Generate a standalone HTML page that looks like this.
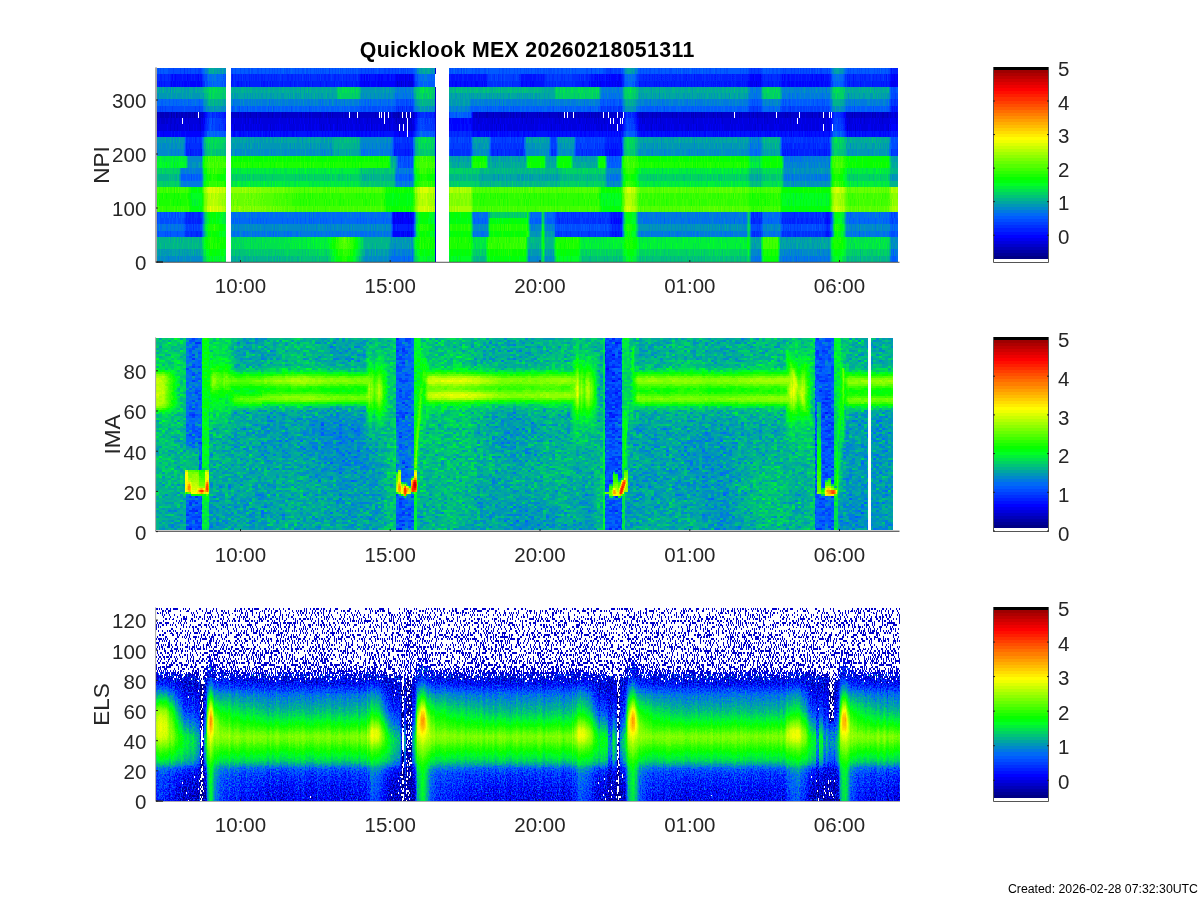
<!DOCTYPE html><html><head><meta charset="utf-8"><title>Quicklook</title><style>html,body{margin:0;padding:0;background:#fff;overflow:hidden}body{position:relative;width:1200px;height:900px}svg{display:block}text{font-family:"Liberation Sans", sans-serif;fill:#262626}.p{position:absolute;overflow:hidden}.p i{position:absolute;display:block}#ov{position:absolute;left:0;top:0}</style></head><body>
<svg width="0" height="0" style="position:absolute"><defs>
<filter id="f1" x="0" y="0" width="1" height="1" color-interpolation-filters="sRGB"><feTurbulence type="fractalNoise" baseFrequency="0.73 0.0001" numOctaves="2" seed="7" result="t"/><feColorMatrix in="t" type="matrix" values="1 0 0 0 0 1 0 0 0 0 1 0 0 0 0 0 0 0 0 1" result="n"/><feComposite in="SourceGraphic" in2="n" operator="arithmetic" k1="0" k2="1" k3="0.075" k4="-0.0375"/><feComponentTransfer><feFuncR type="discrete" tableValues="1 0 0 0 0 0 0 0 0 0 0 0 0 0 0 0 0 0 0 0 0 0 0 0 0 0 0 0.029 0.105 0.181 0.257 0.332 0.408 0.484 0.56 0.636 0.712 0.788 0.864 0.94 1 1 1 1 1 1 1 1 1 1 1 1 1 1 1 1 0.994 0.931 0.869 0.807 0.745 0.682 0.62 0"/><feFuncG type="discrete" tableValues="1 0 0 0 0 0 0 0 0.01 0.068 0.126 0.184 0.242 0.3 0.358 0.417 0.475 0.534 0.592 0.651 0.709 0.768 0.826 0.885 0.943 1 1 1 1 1 1 1 1 1 1 1 1 1 1 1 0.987 0.925 0.863 0.801 0.739 0.677 0.615 0.553 0.491 0.428 0.366 0.304 0.242 0.18 0.118 0.056 0 0 0 0 0 0 0 0"/><feFuncB type="discrete" tableValues="1 0.52 0.59 0.661 0.731 0.801 0.871 0.942 1 1 1 1 1 1 1 0.962 0.88 0.797 0.715 0.632 0.55 0.468 0.385 0.303 0.22 0.138 0.053 0 0 0 0 0 0 0 0 0 0 0 0 0 0 0 0 0 0 0 0 0 0 0 0 0 0 0 0 0 0 0 0 0 0 0 0 0"/></feComponentTransfer></filter>
<filter id="f2" x="0" y="0" width="1" height="1" color-interpolation-filters="sRGB"><feTurbulence type="fractalNoise" baseFrequency="0.61 0.73" numOctaves="2" seed="11" result="tb"/><feColorMatrix in="tb" type="matrix" values="1 0 0 0 0 1 0 0 0 0 1 0 0 0 0 0 0 0 0 1" result="n0"/><feFlood flood-color="#000" x="0" y="0" width="1" height="1" result="px"/><feOffset in="px" dx="0" dy="0" x="0" y="0" width="3" height="2" result="cell"/><feTile in="cell" result="grid"/><feComposite in="n0" in2="grid" operator="in" result="s0"/><feOffset in="s0" dx="1" dy="0" result="s1"/><feOffset in="s0" dx="2" dy="0" result="s2"/><feOffset in="s0" dx="0" dy="1" result="s3"/><feOffset in="s0" dx="1" dy="1" result="s4"/><feOffset in="s0" dx="2" dy="1" result="s5"/><feMerge result="n2"><feMergeNode in="s0"/><feMergeNode in="s1"/><feMergeNode in="s2"/><feMergeNode in="s3"/><feMergeNode in="s4"/><feMergeNode in="s5"/></feMerge><feComponentTransfer in="SourceGraphic" result="amp"><feFuncR type="table" tableValues="1 1 1 1 1 1 1 1 1 1 0.923 0.8 0.678 0.556 0.434 0.312 0.291 0.291 0.291 0.291 0.291 0.291 0.291 0.291 0.291 0.291 0.291 0.291 0.291 0.291 0.291 0.291 0.291"/><feFuncG type="table" tableValues="1 1 1 1 1 1 1 1 1 1 0.923 0.8 0.678 0.556 0.434 0.312 0.291 0.291 0.291 0.291 0.291 0.291 0.291 0.291 0.291 0.291 0.291 0.291 0.291 0.291 0.291 0.291 0.291"/><feFuncB type="table" tableValues="1 1 1 1 1 1 1 1 1 1 0.923 0.8 0.678 0.556 0.434 0.312 0.291 0.291 0.291 0.291 0.291 0.291 0.291 0.291 0.291 0.291 0.291 0.291 0.291 0.291 0.291 0.291 0.291"/></feComponentTransfer><feComposite in="amp" in2="n2" operator="arithmetic" k1="0.2" k2="-0.1" k3="0" k4="0.9" result="dn"/><feComposite in="SourceGraphic" in2="dn" operator="arithmetic" k1="0" k2="1" k3="1" k4="-0.9" result="v"/><feTurbulence type="fractalNoise" baseFrequency="0.012 0.006" numOctaves="2" seed="4" result="tl"/><feColorMatrix in="tl" type="matrix" values="1 0 0 0 0 1 0 0 0 0 1 0 0 0 0 0 0 0 0 1" result="nl"/><feComposite in="v" in2="nl" operator="arithmetic" k1="0" k2="1" k3="0.12" k4="-0.06"/><feComponentTransfer><feFuncR type="discrete" tableValues="1 0 0 0 0 0 0 0 0 0 0 0 0 0 0 0 0 0 0 0 0 0 0 0 0 0 0 0.029 0.105 0.181 0.257 0.332 0.408 0.484 0.56 0.636 0.712 0.788 0.864 0.94 1 1 1 1 1 1 1 1 1 1 1 1 1 1 1 1 0.994 0.931 0.869 0.807 0.745 0.682 0.62 0"/><feFuncG type="discrete" tableValues="1 0 0 0 0 0 0 0 0.01 0.068 0.126 0.184 0.242 0.3 0.358 0.417 0.475 0.534 0.592 0.651 0.709 0.768 0.826 0.885 0.943 1 1 1 1 1 1 1 1 1 1 1 1 1 1 1 0.987 0.925 0.863 0.801 0.739 0.677 0.615 0.553 0.491 0.428 0.366 0.304 0.242 0.18 0.118 0.056 0 0 0 0 0 0 0 0"/><feFuncB type="discrete" tableValues="1 0.52 0.59 0.661 0.731 0.801 0.871 0.942 1 1 1 1 1 1 1 0.962 0.88 0.797 0.715 0.632 0.55 0.468 0.385 0.303 0.22 0.138 0.053 0 0 0 0 0 0 0 0 0 0 0 0 0 0 0 0 0 0 0 0 0 0 0 0 0 0 0 0 0 0 0 0 0 0 0 0 0"/></feComponentTransfer></filter>
<filter id="f3" x="0" y="0" width="1" height="1" color-interpolation-filters="sRGB"><feTurbulence type="fractalNoise" baseFrequency="0.83 0.57" numOctaves="2" seed="5" result="tb"/><feColorMatrix in="tb" type="matrix" values="1 0 0 0 0 1 0 0 0 0 1 0 0 0 0 0 0 0 0 1" result="n1a"/><feFlood flood-color="#000" x="0" y="0" width="1" height="1" result="px"/><feOffset in="px" dx="0" dy="0" x="0" y="0" width="1" height="2" result="cell"/><feTile in="cell" result="grid"/><feComposite in="n1a" in2="grid" operator="in" result="s0"/><feOffset in="s0" dx="0" dy="1" result="s1"/><feMerge result="n1"><feMergeNode in="s0"/><feMergeNode in="s1"/></feMerge><feColorMatrix in="tb" type="matrix" values="0 1 0 0 0 0 1 0 0 0 0 1 0 0 0 0 0 0 0 1" result="n2"/><feTurbulence type="fractalNoise" baseFrequency="0.33 0.002" numOctaves="2" seed="9" result="ts"/><feColorMatrix in="ts" type="matrix" values="1 0 0 0 0 1 0 0 0 0 1 0 0 0 0 0 0 0 0 1" result="n3"/><feColorMatrix in="SourceGraphic" type="matrix" values="1 0 0 0 0 1 0 0 0 0 1 0 0 0 0 0 0 0 0 1" result="cR"/><feColorMatrix in="SourceGraphic" type="matrix" values="0 1 0 0 0 0 1 0 0 0 0 1 0 0 0 0 0 0 0 1" result="cG"/><feColorMatrix in="SourceGraphic" type="matrix" values="0 0 1 0 0 0 0 1 0 0 0 0 1 0 0 0 0 0 0 1" result="cB"/><feComposite in="cR" in2="n3" operator="arithmetic" k1="0" k2="1" k3="0.075" k4="-0.0375" result="b"/><feComponentTransfer in="cG" result="amp"><feFuncR type="table" tableValues="0 0 0 0 0 0 0 0 0.014 0.057 0.107 0.164 0.231 0.307 0.395 0.497 0.615 0.751 0.908 1 0.969 0.901 0.839 0.781 0.726 0.676 0.629 0.585 0.545 0.507 0.472 0.439 0.408 0.38 0.354 0.329 0.306 0.285 0.265 0.247 0.23 0.214 0.199 0.185 0.172 0.16 0.149 0.139 0.129 0.12 0.112 0.104 0.097 0.09 0.084 0.078 0.073 0.068 0.063 0.059 0.054 0.051 0.047 0.044 0.041"/><feFuncG type="table" tableValues="0 0 0 0 0 0 0 0 0.014 0.057 0.107 0.164 0.231 0.307 0.395 0.497 0.615 0.751 0.908 1 0.969 0.901 0.839 0.781 0.726 0.676 0.629 0.585 0.545 0.507 0.472 0.439 0.408 0.38 0.354 0.329 0.306 0.285 0.265 0.247 0.23 0.214 0.199 0.185 0.172 0.16 0.149 0.139 0.129 0.12 0.112 0.104 0.097 0.09 0.084 0.078 0.073 0.068 0.063 0.059 0.054 0.051 0.047 0.044 0.041"/><feFuncB type="table" tableValues="0 0 0 0 0 0 0 0 0.014 0.057 0.107 0.164 0.231 0.307 0.395 0.497 0.615 0.751 0.908 1 0.969 0.901 0.839 0.781 0.726 0.676 0.629 0.585 0.545 0.507 0.472 0.439 0.408 0.38 0.354 0.329 0.306 0.285 0.265 0.247 0.23 0.214 0.199 0.185 0.172 0.16 0.149 0.139 0.129 0.12 0.112 0.104 0.097 0.09 0.084 0.078 0.073 0.068 0.063 0.059 0.054 0.051 0.047 0.044 0.041"/></feComponentTransfer><feComposite in="amp" in2="n2" operator="arithmetic" k1="0.652174" k2="-0.326087" k3="0" k4="0.673913" result="dn"/><feComposite in="b" in2="dn" operator="arithmetic" k1="0" k2="1" k3="1" k4="-0.673913" result="v"/><feBlend in="v" in2="cB" mode="lighten" result="v2"/><feComponentTransfer in="cG" result="d"><feFuncR type="table" tableValues="0.337 0.346 0.355 0.364 0.376 0.388 0.401 0.413 0.427 0.441 0.453 0.466 0.479 0.492 0.507 0.523 0.539 0.556 0.577 0.598 0.621 0.643 0.665 0.689 0.715 0.742 0.761 0.785 0.812 0.827 1 1 1 1 1 1 1 1 1 1 1 1 1 1 1 1 1 1 1 1 1 1 1 1 1 1 1 1 1 1 1 1 1 1 1"/><feFuncG type="table" tableValues="0.337 0.346 0.355 0.364 0.376 0.388 0.401 0.413 0.427 0.441 0.453 0.466 0.479 0.492 0.507 0.523 0.539 0.556 0.577 0.598 0.621 0.643 0.665 0.689 0.715 0.742 0.761 0.785 0.812 0.827 1 1 1 1 1 1 1 1 1 1 1 1 1 1 1 1 1 1 1 1 1 1 1 1 1 1 1 1 1 1 1 1 1 1 1"/><feFuncB type="table" tableValues="0.337 0.346 0.355 0.364 0.376 0.388 0.401 0.413 0.427 0.441 0.453 0.466 0.479 0.492 0.507 0.523 0.539 0.556 0.577 0.598 0.621 0.643 0.665 0.689 0.715 0.742 0.761 0.785 0.812 0.827 1 1 1 1 1 1 1 1 1 1 1 1 1 1 1 1 1 1 1 1 1 1 1 1 1 1 1 1 1 1 1 1 1 1 1"/></feComponentTransfer><feComposite in="d" in2="n1" operator="arithmetic" k1="0" k2="1" k3="1" k4="-0.5" result="s"/><feComponentTransfer in="s" result="m"><feFuncR type="discrete" tableValues="0 1"/><feFuncG type="discrete" tableValues="0 1"/><feFuncB type="discrete" tableValues="0 1"/></feComponentTransfer><feComposite in="v2" in2="m" operator="arithmetic" k1="1" k2="0" k3="0" k4="0" result="o"/><feComponentTransfer in="o"><feFuncR type="discrete" tableValues="1 0 0 0 0 0 0 0 0 0 0 0 0 0 0 0 0 0 0 0 0 0 0 0 0 0 0 0 0 0 0 0 0 0 0 0 0 0 0 0 0 0 0 0 0 0 0 0 0 0 0 0 0 0 0 0 0 0 0 0 0 0 0 0.029 0.029 0.105 0.105 0.181 0.181 0.257 0.257 0.332 0.408 0.408 0.484 0.484 0.56 0.56 0.636 0.636 0.712 0.788 0.788 0.864 0.864 0.94 0.94 1 1 1 1 1 1 1 1 1 1 1 1 1 1 1 1 1 1 1 1 1 1 1 1 1 1 1 1 0.994 0.994 0.931 0.931 0.869 0.869 0.807 0.807 0.745 0.682 0.682 0.62 0.62"/><feFuncG type="discrete" tableValues="1 0 0 0 0 0 0 0 0 0 0 0 0 0 0 0 0 0 0 0 0 0 0 0 0 0 0 0 0 0.01 0.01 0.068 0.068 0.126 0.126 0.184 0.242 0.242 0.3 0.3 0.358 0.358 0.417 0.417 0.475 0.534 0.534 0.592 0.592 0.651 0.651 0.709 0.709 0.768 0.826 0.826 0.885 0.885 0.943 0.943 1 1 1 1 1 1 1 1 1 1 1 1 1 1 1 1 1 1 1 1 1 1 1 1 1 1 1 0.987 0.987 0.925 0.863 0.863 0.801 0.801 0.739 0.739 0.677 0.615 0.615 0.553 0.553 0.491 0.491 0.428 0.428 0.366 0.304 0.304 0.242 0.242 0.18 0.18 0.118 0.118 0.056 0 0 0 0 0 0 0 0 0 0 0 0 0"/><feFuncB type="discrete" tableValues="1 0.52 0.52 0.52 0.52 0.52 0.52 0.52 0.52 0.52 0.52 0.52 0.52 0.52 0.52 0.52 0.52 0.52 0.59 0.59 0.661 0.661 0.731 0.731 0.801 0.801 0.871 0.942 0.942 1 1 1 1 1 1 1 1 1 1 1 1 1 0.962 0.962 0.88 0.797 0.797 0.715 0.715 0.632 0.632 0.55 0.55 0.468 0.385 0.385 0.303 0.303 0.22 0.22 0.138 0.138 0.053 0 0 0 0 0 0 0 0 0 0 0 0 0 0 0 0 0 0 0 0 0 0 0 0 0 0 0 0 0 0 0 0 0 0 0 0 0 0 0 0 0 0 0 0 0 0 0 0 0 0 0 0 0 0 0 0 0 0 0 0 0 0 0 0 0"/></feComponentTransfer></filter>
</defs></svg>
<div class="p" id="p1" style="left:157px;top:68px;width:741px;height:194px"><i style="left:0px;top:0px;width:741px;height:6px;background:linear-gradient(90deg,#383838 0.5px,#383838 11.5px,#343434 14.5px,#343434 43.5px,#353535 44.5px,#4c4c4c 51.5px,#4e4e4e 57.5px,#494949 67.5px,#383838 72.5px,#383838 201.5px,#343434 204.5px,#343434 254.5px,#353535 255.5px,#4d4d4d 262.5px,#4e4e4e 267.5px,#494949 277.5px,#383838 282.5px,#383838 446.5px,#323232 449.5px,#323232 463.5px,#373737 465.5px,#494949 468.5px,#4e4e4e 471.5px,#494949 477.5px,#383838 482.5px,#383838 590.5px,#303030 593.5px,#303030 603.5px,#383838 606.5px,#383838 622.5px,#343434 625.5px,#343434 671.5px,#393939 673.5px,#494949 676.5px,#4e4e4e 679.5px,#494949 685.5px,#383838 690.5px,#383838 731.5px,#292929 734.5px,#292929 740.5px);filter:url(#f1)"></i><i style="left:-97px;top:6px;width:838px;height:7px;background:linear-gradient(90deg,#2c2c2c 97.5px,#2c2c2c 108.5px,#262626 111.5px,#262626 140.5px,#272727 141.5px,#343434 144.5px,#3e3e3e 148.5px,#404040 154.5px,#3b3b3b 164.5px,#2c2c2c 169.5px,#2c2c2c 298.5px,#242424 301.5px,#242424 333.5px,#1e1e1e 336.5px,#1e1e1e 351.5px,#1e1e1e 352.5px,#343434 355.5px,#3d3d3d 358.5px,#404040 364.5px,#3b3b3b 374.5px,#2c2c2c 379.5px,#2c2c2c 387.5px,#272727 390.5px,#272727 425.5px,#313131 428.5px,#313131 458.5px,#272727 461.5px,#272727 483.5px,#303030 486.5px,#303030 513.5px,#2c2c2c 516.5px,#2c2c2c 528.5px,#262626 531.5px,#222222 560.5px,#232323 561.5px,#3c3c3c 565.5px,#404040 568.5px,#3c3c3c 574.5px,#2c2c2c 579.5px,#2a2a2a 687.5px,#222222 690.5px,#222222 700.5px,#2c2c2c 703.5px,#2c2c2c 719.5px,#262626 722.5px,#262626 768.5px,#272727 769.5px,#3c3c3c 773.5px,#404040 776.5px,#3c3c3c 782.5px,#2c2c2c 787.5px,#2c2c2c 828.5px,#202020 831.5px,#202020 837.5px);filter:url(#f1)"></i><i style="left:-194px;top:13px;width:935px;height:6px;background:linear-gradient(90deg,#292929 194.5px,#292929 205.5px,#232323 208.5px,#232323 237.5px,#242424 238.5px,#313131 241.5px,#3b3b3b 245.5px,#3d3d3d 251.5px,#383838 261.5px,#292929 266.5px,#292929 395.5px,#212121 398.5px,#212121 430.5px,#1b1b1b 433.5px,#1b1b1b 448.5px,#1b1b1b 449.5px,#313131 452.5px,#3a3a3a 455.5px,#3d3d3d 461.5px,#383838 471.5px,#292929 476.5px,#292929 484.5px,#242424 487.5px,#242424 522.5px,#2e2e2e 525.5px,#2e2e2e 555.5px,#242424 558.5px,#242424 580.5px,#2d2d2d 583.5px,#2d2d2d 610.5px,#292929 613.5px,#292929 625.5px,#232323 628.5px,#1f1f1f 657.5px,#202020 658.5px,#393939 662.5px,#3d3d3d 665.5px,#393939 671.5px,#292929 676.5px,#272727 784.5px,#1f1f1f 787.5px,#1f1f1f 797.5px,#292929 800.5px,#292929 816.5px,#232323 819.5px,#232323 865.5px,#242424 866.5px,#393939 870.5px,#3d3d3d 873.5px,#393939 879.5px,#292929 884.5px,#292929 925.5px,#1d1d1d 928.5px,#1d1d1d 934.5px);filter:url(#f1)"></i><i style="left:-291px;top:19px;width:1032px;height:6px;background:linear-gradient(90deg,#4c4c4c 291.5px,#4c4c4c 334.5px,#5d5d5d 344.5px,#595959 358.5px,#4f4f4f 363.5px,#4f4f4f 469.5px,#5b5b5b 472.5px,#5b5b5b 492.5px,#4a4a4a 495.5px,#4a4a4a 527.5px,#424242 530.5px,#424242 545.5px,#424242 546.5px,#545454 549.5px,#5d5d5d 554.5px,#595959 568.5px,#4f4f4f 573.5px,#4f4f4f 582.5px,#535353 583.5px,#535353 673.5px,#4f4f4f 674.5px,#4f4f4f 687.5px,#5b5b5b 690.5px,#5b5b5b 732.5px,#424242 735.5px,#424242 754.5px,#424242 755.5px,#575757 758.5px,#5d5d5d 762.5px,#5a5a5a 768.5px,#4f4f4f 773.5px,#4f4f4f 881.5px,#424242 884.5px,#424242 894.5px,#5b5b5b 897.5px,#5b5b5b 913.5px,#444444 916.5px,#444444 962.5px,#444444 963.5px,#575757 966.5px,#5d5d5d 970.5px,#5a5a5a 976.5px,#4f4f4f 981.5px,#4f4f4f 1022.5px,#373737 1025.5px,#373737 1031.5px);filter:url(#f1)"></i><i style="left:-388px;top:25px;width:1129px;height:6px;background:linear-gradient(90deg,#4a4a4a 388.5px,#4a4a4a 431.5px,#5a5a5a 441.5px,#575757 455.5px,#4c4c4c 460.5px,#4c4c4c 566.5px,#595959 569.5px,#595959 589.5px,#484848 592.5px,#484848 624.5px,#404040 627.5px,#404040 642.5px,#404040 643.5px,#525252 646.5px,#5a5a5a 651.5px,#575757 665.5px,#4c4c4c 670.5px,#4c4c4c 784.5px,#595959 787.5px,#595959 829.5px,#404040 832.5px,#404040 851.5px,#404040 852.5px,#555555 855.5px,#5a5a5a 859.5px,#585858 865.5px,#4c4c4c 870.5px,#4c4c4c 978.5px,#404040 981.5px,#404040 991.5px,#595959 994.5px,#595959 1010.5px,#424242 1013.5px,#424242 1059.5px,#424242 1060.5px,#555555 1063.5px,#5a5a5a 1067.5px,#585858 1073.5px,#4c4c4c 1078.5px,#4c4c4c 1119.5px,#353535 1122.5px,#353535 1128.5px);filter:url(#f1)"></i><i style="left:-96px;top:31px;width:837px;height:7px;background:linear-gradient(90deg,#3c3c3c 96.5px,#3d3d3d 140.5px,#484848 143.5px,#505050 147.5px,#525252 153.5px,#4e4e4e 163.5px,#434343 168.5px,#434343 297.5px,#3e3e3e 300.5px,#3e3e3e 332.5px,#363636 335.5px,#363636 350.5px,#363636 351.5px,#484848 354.5px,#4f4f4f 357.5px,#525252 363.5px,#4e4e4e 373.5px,#434343 378.5px,#434343 386.5px,#4b4b4b 389.5px,#4b4b4b 407.5px,#434343 410.5px,#434343 537.5px,#383838 540.5px,#383838 559.5px,#393939 560.5px,#4f4f4f 564.5px,#525252 567.5px,#4e4e4e 573.5px,#434343 578.5px,#434343 686.5px,#383838 689.5px,#383838 699.5px,#454545 702.5px,#454545 718.5px,#3a3a3a 721.5px,#3a3a3a 767.5px,#3b3b3b 768.5px,#4f4f4f 772.5px,#525252 775.5px,#4e4e4e 781.5px,#434343 786.5px,#434343 827.5px,#2f2f2f 830.5px,#2f2f2f 836.5px);filter:url(#f1)"></i><i style="left:-193px;top:38px;width:934px;height:6px;background:linear-gradient(90deg,#353535 193.5px,#353535 237.5px,#414141 240.5px,#494949 244.5px,#4a4a4a 250.5px,#474747 260.5px,#3b3b3b 265.5px,#3b3b3b 394.5px,#373737 397.5px,#373737 429.5px,#2f2f2f 432.5px,#2f2f2f 447.5px,#2f2f2f 448.5px,#414141 451.5px,#484848 454.5px,#4a4a4a 460.5px,#474747 470.5px,#3b3b3b 475.5px,#3b3b3b 483.5px,#444444 486.5px,#444444 504.5px,#3b3b3b 507.5px,#3b3b3b 634.5px,#313131 637.5px,#313131 656.5px,#313131 657.5px,#474747 661.5px,#4a4a4a 664.5px,#474747 670.5px,#3b3b3b 675.5px,#3b3b3b 783.5px,#313131 786.5px,#313131 796.5px,#3d3d3d 799.5px,#3d3d3d 815.5px,#333333 818.5px,#333333 864.5px,#333333 865.5px,#474747 869.5px,#4a4a4a 872.5px,#474747 878.5px,#3b3b3b 883.5px,#3b3b3b 924.5px,#282828 927.5px,#282828 933.5px);filter:url(#f1)"></i><i style="left:-290px;top:44px;width:1031px;height:6px;background:linear-gradient(90deg,#131313 290.5px,#131313 333.5px,#161616 335.5px,#2d2d2d 341.5px,#2f2f2f 343.5px,#292929 357.5px,#151515 362.5px,#151515 526.5px,#111111 529.5px,#111111 544.5px,#151515 546.5px,#2b2b2b 551.5px,#2f2f2f 553.5px,#2a2a2a 567.5px,#151515 572.5px,#151515 580.5px,#3b3b3b 583.5px,#3b3b3b 603.5px,#151515 606.5px,#151515 753.5px,#191919 755.5px,#2a2a2a 758.5px,#2f2f2f 760.5px,#2a2a2a 767.5px,#151515 772.5px,#151515 961.5px,#191919 963.5px,#2a2a2a 966.5px,#2f2f2f 968.5px,#2a2a2a 975.5px,#151515 980.5px,#151515 1021.5px,#191919 1024.5px,#191919 1030.5px);filter:url(#f1)"></i><i style="left:-387px;top:50px;width:1128px;height:6px;background:linear-gradient(90deg,#181818 387.5px,#181818 430.5px,#1b1b1b 432.5px,#323232 438.5px,#343434 440.5px,#2e2e2e 454.5px,#1a1a1a 459.5px,#1a1a1a 623.5px,#161616 626.5px,#161616 641.5px,#1a1a1a 643.5px,#303030 648.5px,#343434 650.5px,#2e2e2e 664.5px,#1a1a1a 669.5px,#1a1a1a 677.5px,#232323 680.5px,#232323 700.5px,#1a1a1a 703.5px,#1a1a1a 850.5px,#1e1e1e 852.5px,#2f2f2f 855.5px,#343434 857.5px,#2e2e2e 864.5px,#1a1a1a 869.5px,#1a1a1a 1058.5px,#1e1e1e 1060.5px,#2f2f2f 1063.5px,#343434 1065.5px,#2e2e2e 1072.5px,#1a1a1a 1077.5px,#1a1a1a 1118.5px,#1e1e1e 1121.5px,#1e1e1e 1127.5px);filter:url(#f1)"></i><i style="left:-95px;top:56px;width:836px;height:7px;background:linear-gradient(90deg,#191919 95.5px,#191919 138.5px,#1d1d1d 140.5px,#333333 146.5px,#353535 148.5px,#2f2f2f 162.5px,#1b1b1b 167.5px,#1b1b1b 331.5px,#171717 334.5px,#171717 349.5px,#1b1b1b 351.5px,#313131 356.5px,#353535 358.5px,#2f2f2f 372.5px,#1b1b1b 377.5px,#1b1b1b 385.5px,#242424 388.5px,#242424 408.5px,#1b1b1b 411.5px,#1b1b1b 558.5px,#1f1f1f 560.5px,#303030 563.5px,#353535 565.5px,#303030 572.5px,#1b1b1b 577.5px,#1b1b1b 766.5px,#1f1f1f 768.5px,#303030 771.5px,#353535 773.5px,#303030 780.5px,#1b1b1b 785.5px,#1b1b1b 826.5px,#202020 829.5px,#202020 835.5px);filter:url(#f1)"></i><i style="left:-192px;top:63px;width:933px;height:6px;background:linear-gradient(90deg,#222222 192.5px,#222222 235.5px,#252525 237.5px,#3c3c3c 243.5px,#3d3d3d 245.5px,#383838 259.5px,#242424 264.5px,#242424 428.5px,#202020 431.5px,#202020 446.5px,#242424 448.5px,#3a3a3a 453.5px,#3d3d3d 455.5px,#383838 469.5px,#242424 474.5px,#242424 482.5px,#2c2c2c 485.5px,#2c2c2c 505.5px,#242424 508.5px,#242424 655.5px,#282828 657.5px,#383838 660.5px,#3d3d3d 662.5px,#383838 669.5px,#242424 674.5px,#242424 863.5px,#282828 865.5px,#383838 868.5px,#3d3d3d 870.5px,#383838 877.5px,#242424 882.5px,#242424 923.5px,#282828 926.5px,#282828 932.5px);filter:url(#f1)"></i><i style="left:-289px;top:69px;width:1030px;height:6px;background:linear-gradient(90deg,#4a4a4a 289.5px,#4a4a4a 315.5px,#2f2f2f 318.5px,#2f2f2f 332.5px,#2f2f2f 333.5px,#535353 336.5px,#5d5d5d 341.5px,#5a5a5a 356.5px,#4c4c4c 361.5px,#4c4c4c 463.5px,#535353 466.5px,#535353 490.5px,#464646 493.5px,#464646 523.5px,#2f2f2f 526.5px,#2f2f2f 543.5px,#2f2f2f 544.5px,#535353 547.5px,#5d5d5d 551.5px,#5d5d5d 557.5px,#5a5a5a 566.5px,#4c4c4c 571.5px,#4c4c4c 579.5px,#333333 582.5px,#333333 602.5px,#4c4c4c 605.5px,#4c4c4c 620.5px,#313131 623.5px,#313131 655.5px,#4c4c4c 658.5px,#4c4c4c 680.5px,#333333 683.5px,#333333 687.5px,#4c4c4c 690.5px,#4c4c4c 705.5px,#333333 708.5px,#333333 735.5px,#2a2a2a 738.5px,#2a2a2a 752.5px,#2b2b2b 753.5px,#565656 756.5px,#5c5c5c 758.5px,#5d5d5d 760.5px,#5a5a5a 766.5px,#4c4c4c 771.5px,#4c4c4c 879.5px,#444444 882.5px,#444444 892.5px,#515151 895.5px,#515151 911.5px,#2f2f2f 914.5px,#2f2f2f 960.5px,#2f2f2f 961.5px,#565656 964.5px,#5c5c5c 966.5px,#5d5d5d 968.5px,#595959 975.5px,#4f4f4f 979.5px,#4f4f4f 1020.5px,#373737 1023.5px,#373737 1029.5px);filter:url(#f1)"></i><i style="left:-386px;top:75px;width:1127px;height:6px;background:linear-gradient(90deg,#484848 386.5px,#484848 412.5px,#2c2c2c 415.5px,#2c2c2c 429.5px,#2d2d2d 430.5px,#515151 433.5px,#5b5b5b 438.5px,#575757 453.5px,#4a4a4a 458.5px,#4a4a4a 560.5px,#515151 563.5px,#515151 587.5px,#444444 590.5px,#444444 620.5px,#2c2c2c 623.5px,#2c2c2c 640.5px,#2d2d2d 641.5px,#515151 644.5px,#5a5a5a 648.5px,#5b5b5b 654.5px,#575757 663.5px,#4a4a4a 668.5px,#4a4a4a 676.5px,#313131 679.5px,#313131 699.5px,#4a4a4a 702.5px,#4a4a4a 717.5px,#2f2f2f 720.5px,#2f2f2f 752.5px,#4a4a4a 755.5px,#4a4a4a 777.5px,#313131 780.5px,#313131 784.5px,#4a4a4a 787.5px,#4a4a4a 802.5px,#313131 805.5px,#313131 832.5px,#282828 835.5px,#282828 849.5px,#292929 850.5px,#545454 853.5px,#5a5a5a 855.5px,#5b5b5b 857.5px,#585858 863.5px,#4a4a4a 868.5px,#4a4a4a 976.5px,#424242 979.5px,#424242 989.5px,#4f4f4f 992.5px,#4f4f4f 1008.5px,#2c2c2c 1011.5px,#2c2c2c 1057.5px,#2d2d2d 1058.5px,#545454 1061.5px,#5a5a5a 1063.5px,#5b5b5b 1065.5px,#575757 1072.5px,#4c4c4c 1076.5px,#4c4c4c 1117.5px,#353535 1120.5px,#353535 1126.5px);filter:url(#f1)"></i><i style="left:-94px;top:81px;width:835px;height:7px;background:linear-gradient(90deg,#454545 94.5px,#454545 120.5px,#292929 123.5px,#292929 137.5px,#2a2a2a 138.5px,#4e4e4e 141.5px,#585858 146.5px,#545454 161.5px,#474747 166.5px,#474747 268.5px,#4e4e4e 271.5px,#4e4e4e 295.5px,#414141 298.5px,#414141 328.5px,#292929 331.5px,#292929 348.5px,#2a2a2a 349.5px,#4e4e4e 352.5px,#575757 356.5px,#585858 362.5px,#555555 371.5px,#474747 376.5px,#474747 384.5px,#2e2e2e 387.5px,#2e2e2e 407.5px,#474747 410.5px,#474747 425.5px,#2c2c2c 428.5px,#2c2c2c 460.5px,#474747 463.5px,#474747 485.5px,#2e2e2e 488.5px,#2e2e2e 492.5px,#474747 495.5px,#474747 510.5px,#2e2e2e 513.5px,#2e2e2e 540.5px,#252525 543.5px,#252525 557.5px,#262626 558.5px,#515151 561.5px,#575757 563.5px,#585858 565.5px,#555555 571.5px,#474747 576.5px,#474747 684.5px,#3f3f3f 687.5px,#3f3f3f 697.5px,#4c4c4c 700.5px,#4c4c4c 716.5px,#292929 719.5px,#292929 765.5px,#2a2a2a 766.5px,#515151 769.5px,#575757 771.5px,#585858 773.5px,#545454 780.5px,#494949 784.5px,#494949 825.5px,#323232 828.5px,#323232 834.5px);filter:url(#f1)"></i><i style="left:-191px;top:88px;width:932px;height:6px;background:linear-gradient(90deg,#626262 191.5px,#626262 219.5px,#464646 222.5px,#464646 234.5px,#464646 235.5px,#717171 238.5px,#797979 243.5px,#767676 258.5px,#6e6e6e 263.5px,#6e6e6e 422.5px,#4f4f4f 425.5px,#4f4f4f 429.5px,#353535 432.5px,#353535 445.5px,#353535 446.5px,#717171 449.5px,#797979 454.5px,#767676 468.5px,#6c6c6c 473.5px,#6c6c6c 481.5px,#4c4c4c 484.5px,#4c4c4c 504.5px,#6e6e6e 507.5px,#6e6e6e 519.5px,#4c4c4c 522.5px,#4c4c4c 559.5px,#6c6c6c 562.5px,#6c6c6c 577.5px,#4c4c4c 580.5px,#4c4c4c 589.5px,#6c6c6c 592.5px,#6c6c6c 604.5px,#4c4c4c 607.5px,#4c4c4c 630.5px,#6c6c6c 633.5px,#6c6c6c 638.5px,#393939 641.5px,#393939 654.5px,#717171 657.5px,#797979 661.5px,#767676 669.5px,#6e6e6e 673.5px,#6e6e6e 781.5px,#5d5d5d 784.5px,#5d5d5d 794.5px,#6c6c6c 797.5px,#6c6c6c 815.5px,#424242 818.5px,#424242 863.5px,#747474 866.5px,#797979 870.5px,#777777 876.5px,#6c6c6c 881.5px,#6c6c6c 922.5px,#4c4c4c 925.5px,#4c4c4c 931.5px);filter:url(#f1)"></i><i style="left:-288px;top:94px;width:1029px;height:6px;background:linear-gradient(90deg,#646464 288.5px,#646464 316.5px,#484848 319.5px,#484848 331.5px,#484848 332.5px,#737373 335.5px,#7b7b7b 340.5px,#787878 355.5px,#717171 360.5px,#717171 519.5px,#515151 522.5px,#515151 526.5px,#373737 529.5px,#373737 542.5px,#373737 543.5px,#737373 546.5px,#7b7b7b 551.5px,#787878 565.5px,#6e6e6e 570.5px,#6e6e6e 578.5px,#4f4f4f 581.5px,#4f4f4f 601.5px,#717171 604.5px,#717171 616.5px,#4f4f4f 619.5px,#4f4f4f 656.5px,#6e6e6e 659.5px,#6e6e6e 674.5px,#4f4f4f 677.5px,#4f4f4f 686.5px,#6e6e6e 689.5px,#6e6e6e 701.5px,#4f4f4f 704.5px,#4f4f4f 727.5px,#6e6e6e 730.5px,#6e6e6e 735.5px,#3b3b3b 738.5px,#3b3b3b 751.5px,#737373 754.5px,#7b7b7b 758.5px,#787878 766.5px,#717171 770.5px,#717171 878.5px,#606060 881.5px,#606060 891.5px,#6e6e6e 894.5px,#6e6e6e 912.5px,#444444 915.5px,#444444 960.5px,#767676 963.5px,#7b7b7b 967.5px,#797979 973.5px,#6e6e6e 978.5px,#6e6e6e 1019.5px,#4f4f4f 1022.5px,#4f4f4f 1028.5px);filter:url(#f1)"></i><i style="left:-385px;top:100px;width:1126px;height:6px;background:linear-gradient(90deg,#595959 385.5px,#595959 406.5px,#424242 409.5px,#424242 428.5px,#424242 429.5px,#686868 432.5px,#757575 436.5px,#777777 442.5px,#727272 452.5px,#606060 457.5px,#606060 586.5px,#575757 589.5px,#575757 621.5px,#424242 624.5px,#424242 639.5px,#424242 640.5px,#696969 643.5px,#767676 647.5px,#777777 652.5px,#727272 662.5px,#606060 667.5px,#606060 675.5px,#595959 678.5px,#595959 706.5px,#535353 709.5px,#535353 786.5px,#595959 789.5px,#595959 832.5px,#464646 835.5px,#464646 848.5px,#686868 851.5px,#767676 854.5px,#777777 856.5px,#727272 862.5px,#606060 867.5px,#606060 975.5px,#555555 978.5px,#555555 988.5px,#5d5d5d 991.5px,#5d5d5d 1009.5px,#484848 1012.5px,#484848 1056.5px,#494949 1057.5px,#6d6d6d 1060.5px,#767676 1062.5px,#777777 1064.5px,#727272 1070.5px,#606060 1075.5px,#606060 1116.5px,#515151 1119.5px,#515151 1125.5px);filter:url(#f1)"></i><i style="left:-93px;top:106px;width:834px;height:7px;background:linear-gradient(90deg,#535353 93.5px,#535353 114.5px,#3b3b3b 117.5px,#3b3b3b 136.5px,#3c3c3c 137.5px,#626262 140.5px,#6f6f6f 144.5px,#717171 150.5px,#6b6b6b 160.5px,#595959 165.5px,#595959 294.5px,#515151 297.5px,#515151 329.5px,#3b3b3b 332.5px,#3b3b3b 347.5px,#3c3c3c 348.5px,#626262 351.5px,#6f6f6f 355.5px,#717171 360.5px,#6b6b6b 370.5px,#595959 375.5px,#595959 383.5px,#535353 386.5px,#535353 414.5px,#4c4c4c 417.5px,#4c4c4c 494.5px,#535353 497.5px,#535353 540.5px,#404040 543.5px,#404040 556.5px,#616161 559.5px,#6f6f6f 562.5px,#717171 564.5px,#6c6c6c 570.5px,#595959 575.5px,#595959 683.5px,#4f4f4f 686.5px,#4f4f4f 696.5px,#575757 699.5px,#575757 717.5px,#424242 720.5px,#424242 764.5px,#434343 765.5px,#676767 768.5px,#6f6f6f 770.5px,#717171 772.5px,#6c6c6c 778.5px,#595959 783.5px,#595959 824.5px,#4a4a4a 827.5px,#4a4a4a 833.5px);filter:url(#f1)"></i><i style="left:-190px;top:113px;width:931px;height:6px;background:linear-gradient(90deg,#595959 190.5px,#595959 211.5px,#424242 214.5px,#424242 233.5px,#424242 234.5px,#686868 237.5px,#757575 241.5px,#777777 247.5px,#727272 257.5px,#606060 262.5px,#606060 391.5px,#575757 394.5px,#575757 426.5px,#424242 429.5px,#424242 444.5px,#424242 445.5px,#696969 448.5px,#767676 452.5px,#777777 457.5px,#727272 467.5px,#606060 472.5px,#606060 480.5px,#595959 483.5px,#595959 511.5px,#535353 514.5px,#535353 591.5px,#595959 594.5px,#595959 637.5px,#464646 640.5px,#464646 653.5px,#686868 656.5px,#767676 659.5px,#777777 661.5px,#727272 667.5px,#606060 672.5px,#606060 780.5px,#555555 783.5px,#555555 793.5px,#5d5d5d 796.5px,#5d5d5d 814.5px,#484848 817.5px,#484848 861.5px,#494949 862.5px,#6d6d6d 865.5px,#767676 867.5px,#777777 869.5px,#727272 875.5px,#606060 880.5px,#606060 921.5px,#515151 924.5px,#515151 930.5px);filter:url(#f1)"></i><i style="left:-287px;top:119px;width:1028px;height:6px;background:linear-gradient(90deg,#787878 287.5px,#787878 318.5px,#6b6b6b 321.5px,#6b6b6b 330.5px,#6c6c6c 331.5px,#878787 334.5px,#949494 337.5px,#999999 339.5px,#999999 344.5px,#939393 354.5px,#7c7c7c 359.5px,#8a8a8a 362.5px,#888888 385.5px,#7c7c7c 431.5px,#7c7c7c 513.5px,#6f6f6f 516.5px,#6f6f6f 541.5px,#707070 542.5px,#878787 545.5px,#959595 548.5px,#999999 550.5px,#999999 554.5px,#939393 564.5px,#7c7c7c 569.5px,#7c7c7c 577.5px,#8f8f8f 580.5px,#8f8f8f 600.5px,#7c7c7c 603.5px,#7c7c7c 728.5px,#6d6d6d 731.5px,#6d6d6d 750.5px,#939393 755.5px,#999999 758.5px,#939393 764.5px,#7e7e7e 769.5px,#7e7e7e 877.5px,#787878 880.5px,#7c7c7c 909.5px,#6d6d6d 912.5px,#6d6d6d 958.5px,#6e6e6e 959.5px,#8d8d8d 962.5px,#999999 965.5px,#919191 973.5px,#808080 977.5px,#808080 1018.5px,#8f8f8f 1021.5px,#8f8f8f 1027.5px);filter:url(#f1)"></i><i style="left:-384px;top:125px;width:1125px;height:6px;background:linear-gradient(90deg,#717171 384.5px,#717171 415.5px,#646464 418.5px,#646464 427.5px,#656565 428.5px,#808080 431.5px,#8d8d8d 434.5px,#929292 436.5px,#929292 441.5px,#8c8c8c 451.5px,#757575 456.5px,#838383 459.5px,#818181 482.5px,#757575 528.5px,#757575 610.5px,#696969 613.5px,#696969 638.5px,#696969 639.5px,#808080 642.5px,#8e8e8e 645.5px,#929292 647.5px,#929292 651.5px,#8c8c8c 661.5px,#757575 666.5px,#757575 674.5px,#888888 677.5px,#888888 697.5px,#757575 700.5px,#757575 825.5px,#666666 828.5px,#666666 847.5px,#8d8d8d 852.5px,#929292 855.5px,#8c8c8c 861.5px,#777777 866.5px,#777777 974.5px,#717171 977.5px,#757575 1006.5px,#666666 1009.5px,#666666 1055.5px,#686868 1056.5px,#868686 1059.5px,#929292 1062.5px,#8a8a8a 1070.5px,#7a7a7a 1074.5px,#7a7a7a 1115.5px,#888888 1118.5px,#888888 1124.5px);filter:url(#f1)"></i><i style="left:-92px;top:131px;width:833px;height:7px;background:linear-gradient(90deg,#717171 92.5px,#717171 123.5px,#646464 126.5px,#646464 135.5px,#656565 136.5px,#808080 139.5px,#8d8d8d 142.5px,#929292 144.5px,#929292 149.5px,#8c8c8c 159.5px,#757575 164.5px,#838383 167.5px,#818181 190.5px,#757575 236.5px,#757575 318.5px,#696969 321.5px,#696969 346.5px,#696969 347.5px,#808080 350.5px,#8e8e8e 353.5px,#929292 355.5px,#929292 359.5px,#8c8c8c 369.5px,#757575 374.5px,#757575 382.5px,#888888 385.5px,#888888 405.5px,#757575 408.5px,#757575 533.5px,#666666 536.5px,#666666 555.5px,#8d8d8d 560.5px,#929292 563.5px,#8c8c8c 569.5px,#777777 574.5px,#777777 682.5px,#717171 685.5px,#757575 714.5px,#666666 717.5px,#666666 763.5px,#686868 764.5px,#868686 767.5px,#929292 770.5px,#8a8a8a 778.5px,#7a7a7a 782.5px,#7a7a7a 823.5px,#888888 826.5px,#888888 832.5px);filter:url(#f1)"></i><i style="left:-189px;top:138px;width:930px;height:6px;background:linear-gradient(90deg,#767676 189.5px,#767676 220.5px,#696969 223.5px,#696969 232.5px,#6a6a6a 233.5px,#858585 236.5px,#929292 239.5px,#979797 241.5px,#979797 246.5px,#919191 256.5px,#7a7a7a 261.5px,#888888 264.5px,#868686 287.5px,#7a7a7a 333.5px,#7a7a7a 415.5px,#6e6e6e 418.5px,#6e6e6e 443.5px,#6e6e6e 444.5px,#868686 447.5px,#939393 450.5px,#979797 452.5px,#979797 456.5px,#919191 466.5px,#7a7a7a 471.5px,#7a7a7a 479.5px,#8e8e8e 482.5px,#8e8e8e 502.5px,#7a7a7a 505.5px,#7a7a7a 630.5px,#6b6b6b 633.5px,#6b6b6b 652.5px,#929292 657.5px,#979797 660.5px,#919191 666.5px,#7d7d7d 671.5px,#7d7d7d 779.5px,#767676 782.5px,#7a7a7a 811.5px,#6b6b6b 814.5px,#6b6b6b 860.5px,#6d6d6d 861.5px,#8b8b8b 864.5px,#979797 867.5px,#909090 875.5px,#7f7f7f 879.5px,#7f7f7f 920.5px,#8e8e8e 923.5px,#8e8e8e 929.5px);filter:url(#f1)"></i><i style="left:-286px;top:144px;width:1027px;height:6px;background:linear-gradient(90deg,#383838 286.5px,#383838 312.5px,#2c2c2c 315.5px,#2c2c2c 329.5px,#2d2d2d 330.5px,#505050 333.5px,#696969 337.5px,#6d6d6d 343.5px,#626262 353.5px,#5e5e5e 354.5px,#434343 357.5px,#3f3f3f 358.5px,#3f3f3f 519.5px,#212121 522.5px,#212121 540.5px,#262626 542.5px,#585858 545.5px,#666666 547.5px,#6d6d6d 549.5px,#6c6c6c 555.5px,#626262 563.5px,#5e5e5e 564.5px,#434343 567.5px,#3f3f3f 568.5px,#3f3f3f 576.5px,#6b6b6b 579.5px,#6b6b6b 599.5px,#3f3f3f 602.5px,#3f3f3f 616.5px,#4e4e4e 617.5px,#494949 618.5px,#585858 619.5px,#585858 655.5px,#6a6a6a 656.5px,#3d3d3d 659.5px,#3d3d3d 669.5px,#5a5a5a 671.5px,#5a5a5a 672.5px,#3d3d3d 674.5px,#3d3d3d 682.5px,#303030 685.5px,#303030 737.5px,#252525 740.5px,#252525 749.5px,#272727 750.5px,#353535 751.5px,#5a5a5a 753.5px,#646464 754.5px,#6a6a6a 755.5px,#6d6d6d 757.5px,#636363 763.5px,#5f5f5f 764.5px,#454545 767.5px,#414141 768.5px,#414141 875.5px,#595959 877.5px,#535353 878.5px,#2e2e2e 880.5px,#2e2e2e 889.5px,#3f3f3f 892.5px,#3f3f3f 908.5px,#2e2e2e 911.5px,#2e2e2e 952.5px,#252525 955.5px,#252525 957.5px,#2c2c2c 959.5px,#404040 961.5px,#535353 962.5px,#6d6d6d 964.5px,#6d6d6d 965.5px,#636363 971.5px,#5e5e5e 972.5px,#434343 975.5px,#3f3f3f 976.5px,#3f3f3f 1017.5px,#363636 1020.5px,#363636 1026.5px);filter:url(#f1)"></i><i style="left:-383px;top:150px;width:1124px;height:6px;background:linear-gradient(90deg,#373737 383.5px,#373737 409.5px,#2a2a2a 412.5px,#2a2a2a 426.5px,#2b2b2b 427.5px,#4f4f4f 430.5px,#686868 434.5px,#6b6b6b 440.5px,#616161 450.5px,#5d5d5d 451.5px,#414141 454.5px,#3d3d3d 455.5px,#3d3d3d 616.5px,#202020 619.5px,#202020 637.5px,#242424 639.5px,#565656 642.5px,#646464 644.5px,#6b6b6b 646.5px,#6b6b6b 652.5px,#616161 660.5px,#5d5d5d 661.5px,#414141 664.5px,#3d3d3d 665.5px,#3d3d3d 673.5px,#6a6a6a 676.5px,#6a6a6a 696.5px,#3d3d3d 699.5px,#3d3d3d 713.5px,#6a6a6a 716.5px,#6a6a6a 751.5px,#696969 753.5px,#3b3b3b 756.5px,#3b3b3b 766.5px,#595959 768.5px,#595959 769.5px,#3b3b3b 771.5px,#3b3b3b 779.5px,#2f2f2f 782.5px,#2f2f2f 834.5px,#242424 837.5px,#242424 846.5px,#262626 847.5px,#343434 848.5px,#595959 850.5px,#626262 851.5px,#696969 852.5px,#6b6b6b 854.5px,#626262 860.5px,#5e5e5e 861.5px,#434343 864.5px,#404040 865.5px,#404040 972.5px,#585858 974.5px,#515151 975.5px,#2c2c2c 977.5px,#2c2c2c 986.5px,#3d3d3d 989.5px,#3d3d3d 1005.5px,#2c2c2c 1008.5px,#2c2c2c 1049.5px,#242424 1052.5px,#242424 1054.5px,#2b2b2b 1056.5px,#3f3f3f 1058.5px,#515151 1059.5px,#6b6b6b 1061.5px,#6b6b6b 1062.5px,#626262 1068.5px,#5d5d5d 1069.5px,#414141 1072.5px,#3d3d3d 1073.5px,#3d3d3d 1114.5px,#353535 1117.5px,#353535 1123.5px);filter:url(#f1)"></i><i style="left:-91px;top:156px;width:832px;height:7px;background:linear-gradient(90deg,#404040 91.5px,#404040 117.5px,#333333 120.5px,#333333 134.5px,#343434 135.5px,#575757 138.5px,#717171 142.5px,#747474 148.5px,#6a6a6a 158.5px,#656565 159.5px,#4a4a4a 162.5px,#464646 163.5px,#464646 324.5px,#282828 327.5px,#282828 345.5px,#2d2d2d 347.5px,#5f5f5f 350.5px,#6d6d6d 352.5px,#747474 354.5px,#737373 360.5px,#6a6a6a 368.5px,#656565 369.5px,#4a4a4a 372.5px,#464646 373.5px,#464646 381.5px,#737373 384.5px,#737373 404.5px,#464646 407.5px,#464646 421.5px,#737373 424.5px,#737373 459.5px,#717171 461.5px,#444444 464.5px,#444444 474.5px,#626262 476.5px,#626262 477.5px,#444444 479.5px,#444444 487.5px,#373737 490.5px,#373737 542.5px,#2c2c2c 545.5px,#2c2c2c 554.5px,#2e2e2e 555.5px,#3c3c3c 556.5px,#616161 558.5px,#6b6b6b 559.5px,#717171 560.5px,#747474 562.5px,#6b6b6b 568.5px,#666666 569.5px,#4c4c4c 572.5px,#484848 573.5px,#484848 680.5px,#606060 682.5px,#5a5a5a 683.5px,#353535 685.5px,#353535 694.5px,#464646 697.5px,#464646 713.5px,#353535 716.5px,#353535 757.5px,#2c2c2c 760.5px,#2c2c2c 762.5px,#343434 764.5px,#484848 766.5px,#5a5a5a 767.5px,#747474 769.5px,#747474 770.5px,#6b6b6b 776.5px,#656565 777.5px,#4a4a4a 780.5px,#464646 781.5px,#464646 822.5px,#3d3d3d 825.5px,#3d3d3d 831.5px);filter:url(#f1)"></i><i style="left:-188px;top:163px;width:929px;height:6px;background:linear-gradient(90deg,#393939 188.5px,#393939 214.5px,#2c2c2c 217.5px,#2c2c2c 231.5px,#2e2e2e 232.5px,#515151 235.5px,#6a6a6a 239.5px,#6e6e6e 245.5px,#636363 255.5px,#5f5f5f 256.5px,#434343 259.5px,#404040 260.5px,#404040 421.5px,#222222 424.5px,#222222 442.5px,#272727 444.5px,#585858 447.5px,#676767 449.5px,#6e6e6e 451.5px,#6d6d6d 457.5px,#636363 465.5px,#5f5f5f 466.5px,#434343 469.5px,#404040 470.5px,#404040 478.5px,#6c6c6c 481.5px,#6c6c6c 501.5px,#404040 504.5px,#404040 518.5px,#6c6c6c 521.5px,#6c6c6c 557.5px,#787878 558.5px,#4a4a4a 561.5px,#4a4a4a 571.5px,#686868 573.5px,#686868 574.5px,#4a4a4a 576.5px,#4a4a4a 584.5px,#464646 585.5px,#353535 586.5px,#313131 587.5px,#313131 639.5px,#262626 642.5px,#282828 652.5px,#363636 653.5px,#5b5b5b 655.5px,#656565 656.5px,#6e6e6e 658.5px,#6c6c6c 661.5px,#646464 665.5px,#606060 666.5px,#464646 669.5px,#424242 670.5px,#424242 777.5px,#5a5a5a 779.5px,#535353 780.5px,#2f2f2f 782.5px,#2f2f2f 791.5px,#404040 794.5px,#404040 810.5px,#2f2f2f 813.5px,#2f2f2f 854.5px,#262626 857.5px,#262626 859.5px,#2d2d2d 861.5px,#414141 863.5px,#626262 865.5px,#6e6e6e 866.5px,#6e6e6e 867.5px,#646464 873.5px,#5f5f5f 874.5px,#434343 877.5px,#404040 878.5px,#404040 919.5px,#373737 922.5px,#373737 928.5px);filter:url(#f1)"></i><i style="left:-285px;top:169px;width:1026px;height:6px;background:linear-gradient(90deg,#525252 285.5px,#525252 329.5px,#666666 332.5px,#707070 336.5px,#727272 338.5px,#6e6e6e 352.5px,#5e5e5e 356.5px,#5b5b5b 360.5px,#626262 455.5px,#777777 466.5px,#7e7e7e 472.5px,#747474 480.5px,#525252 493.5px,#525252 516.5px,#494949 519.5px,#4a4a4a 540.5px,#666666 543.5px,#727272 548.5px,#6e6e6e 562.5px,#5f5f5f 567.5px,#5f5f5f 575.5px,#727272 578.5px,#727272 598.5px,#5f5f5f 601.5px,#5f5f5f 613.5px,#767676 616.5px,#767676 653.5px,#525252 656.5px,#525252 668.5px,#696969 670.5px,#696969 671.5px,#525252 673.5px,#525252 681.5px,#727272 684.5px,#727272 706.5px,#616161 709.5px,#616161 749.5px,#717171 754.5px,#727272 756.5px,#6c6c6c 763.5px,#616161 767.5px,#616161 874.5px,#696969 876.5px,#626262 877.5px,#4c4c4c 879.5px,#4c4c4c 888.5px,#787878 891.5px,#787878 905.5px,#4c4c4c 908.5px,#4c4c4c 956.5px,#4c4c4c 957.5px,#6a6a6a 960.5px,#717171 962.5px,#727272 964.5px,#6e6e6e 970.5px,#5f5f5f 975.5px,#5f5f5f 1016.5px,#474747 1019.5px,#474747 1025.5px);filter:url(#f1)"></i><i style="left:-382px;top:175px;width:1123px;height:6px;background:linear-gradient(90deg,#525252 382.5px,#525252 426.5px,#666666 429.5px,#707070 433.5px,#727272 435.5px,#6e6e6e 449.5px,#5e5e5e 453.5px,#5b5b5b 457.5px,#626262 552.5px,#777777 563.5px,#7e7e7e 569.5px,#747474 577.5px,#525252 590.5px,#525252 613.5px,#494949 616.5px,#4a4a4a 637.5px,#666666 640.5px,#727272 645.5px,#6e6e6e 659.5px,#5f5f5f 664.5px,#5f5f5f 672.5px,#727272 675.5px,#727272 695.5px,#5f5f5f 698.5px,#5f5f5f 710.5px,#767676 713.5px,#767676 750.5px,#525252 753.5px,#525252 765.5px,#696969 767.5px,#696969 768.5px,#525252 770.5px,#525252 778.5px,#727272 781.5px,#727272 803.5px,#616161 806.5px,#616161 846.5px,#717171 851.5px,#727272 853.5px,#6c6c6c 860.5px,#616161 864.5px,#616161 971.5px,#696969 973.5px,#626262 974.5px,#4c4c4c 976.5px,#4c4c4c 985.5px,#787878 988.5px,#787878 1002.5px,#4c4c4c 1005.5px,#4c4c4c 1053.5px,#4c4c4c 1054.5px,#6a6a6a 1057.5px,#717171 1059.5px,#727272 1061.5px,#6e6e6e 1067.5px,#5f5f5f 1072.5px,#5f5f5f 1113.5px,#474747 1116.5px,#474747 1122.5px);filter:url(#f1)"></i><i style="left:-90px;top:181px;width:831px;height:7px;background:linear-gradient(90deg,#4b4b4b 90.5px,#4c4c4c 134.5px,#5f5f5f 137.5px,#6a6a6a 141.5px,#6b6b6b 143.5px,#676767 157.5px,#575757 161.5px,#555555 165.5px,#5b5b5b 260.5px,#707070 271.5px,#777777 277.5px,#6e6e6e 285.5px,#4b4b4b 298.5px,#4b4b4b 321.5px,#434343 324.5px,#434343 345.5px,#5f5f5f 348.5px,#6b6b6b 353.5px,#676767 367.5px,#585858 372.5px,#585858 380.5px,#6b6b6b 383.5px,#6b6b6b 403.5px,#585858 406.5px,#585858 418.5px,#6f6f6f 421.5px,#6f6f6f 458.5px,#4b4b4b 461.5px,#4b4b4b 473.5px,#626262 475.5px,#626262 476.5px,#4b4b4b 478.5px,#4b4b4b 486.5px,#6b6b6b 489.5px,#6b6b6b 511.5px,#5a5a5a 514.5px,#5a5a5a 554.5px,#6a6a6a 559.5px,#6b6b6b 561.5px,#666666 568.5px,#5a5a5a 572.5px,#5a5a5a 679.5px,#636363 681.5px,#5b5b5b 682.5px,#454545 684.5px,#454545 693.5px,#717171 696.5px,#717171 710.5px,#454545 713.5px,#454545 761.5px,#454545 762.5px,#636363 765.5px,#6a6a6a 767.5px,#6b6b6b 769.5px,#676767 775.5px,#585858 780.5px,#585858 821.5px,#404040 824.5px,#404040 830.5px);filter:url(#f1)"></i><i style="left:-187px;top:188px;width:928px;height:6px;background:linear-gradient(90deg,#464646 187.5px,#464646 231.5px,#5a5a5a 234.5px,#656565 238.5px,#666666 240.5px,#626262 254.5px,#525252 258.5px,#4f4f4f 262.5px,#565656 357.5px,#6b6b6b 368.5px,#727272 374.5px,#686868 382.5px,#464646 395.5px,#464646 418.5px,#3d3d3d 421.5px,#3e3e3e 442.5px,#5a5a5a 445.5px,#666666 450.5px,#626262 464.5px,#535353 469.5px,#535353 477.5px,#666666 480.5px,#666666 500.5px,#535353 503.5px,#535353 515.5px,#6a6a6a 518.5px,#6a6a6a 555.5px,#464646 558.5px,#464646 570.5px,#5d5d5d 572.5px,#5d5d5d 573.5px,#464646 575.5px,#464646 583.5px,#666666 586.5px,#666666 608.5px,#555555 611.5px,#555555 651.5px,#656565 656.5px,#666666 658.5px,#616161 665.5px,#555555 669.5px,#555555 776.5px,#5d5d5d 778.5px,#565656 779.5px,#404040 781.5px,#404040 790.5px,#6c6c6c 793.5px,#6c6c6c 807.5px,#404040 810.5px,#404040 858.5px,#404040 859.5px,#5e5e5e 862.5px,#656565 864.5px,#666666 866.5px,#626262 872.5px,#535353 877.5px,#535353 918.5px,#3b3b3b 921.5px,#3b3b3b 927.5px);filter:url(#f1)"></i></div>
<div class="p" id="p2" style="left:156px;top:338px;width:737px;height:192px;filter:url(#f2)"><i style="left:0px;top:0px;width:737px;height:2px;background:linear-gradient(90deg,#535353 0.5px,#535353 29.5px,#393939 30.5px,#393939 45.5px,#676767 46.5px,#676767 52.5px,#575757 53.5px,#585858 70.5px,#505050 79.5px,#505050 207.5px,#575757 213.5px,#595959 239.5px,#393939 240.5px,#393939 257.5px,#636363 258.5px,#636363 264.5px,#575757 265.5px,#505050 275.5px,#505050 413.5px,#585858 421.5px,#595959 446.5px,#656565 447.5px,#656565 448.5px,#393939 449.5px,#393939 465.5px,#636363 466.5px,#636363 472.5px,#575757 473.5px,#505050 484.5px,#505050 627.5px,#575757 635.5px,#555555 642.5px,#5a5a5a 654.5px,#595959 658.5px,#393939 659.5px,#393939 677.5px,#636363 678.5px,#636363 684.5px,#575757 685.5px,#505050 694.5px,#505050 736.5px)"></i><i style="left:0px;top:2px;width:737px;height:2px;background:linear-gradient(90deg,#535353 0.5px,#535353 29.5px,#393939 30.5px,#393939 45.5px,#676767 46.5px,#676767 52.5px,#585858 53.5px,#595959 70.5px,#505050 79.5px,#505050 207.5px,#575757 213.5px,#595959 239.5px,#393939 240.5px,#393939 257.5px,#636363 258.5px,#636363 264.5px,#585858 265.5px,#505050 275.5px,#505050 413.5px,#595959 421.5px,#595959 446.5px,#656565 447.5px,#656565 448.5px,#393939 449.5px,#393939 465.5px,#636363 466.5px,#636363 472.5px,#585858 473.5px,#505050 484.5px,#505050 627.5px,#585858 635.5px,#565656 642.5px,#5a5a5a 654.5px,#595959 658.5px,#393939 659.5px,#393939 677.5px,#636363 678.5px,#636363 684.5px,#585858 685.5px,#505050 694.5px,#505050 736.5px)"></i><i style="left:0px;top:4px;width:737px;height:2px;background:linear-gradient(90deg,#535353 0.5px,#535353 29.5px,#393939 30.5px,#393939 45.5px,#676767 46.5px,#676767 52.5px,#595959 53.5px,#5a5a5a 70.5px,#505050 79.5px,#505050 207.5px,#585858 213.5px,#595959 239.5px,#393939 240.5px,#393939 257.5px,#636363 258.5px,#636363 264.5px,#585858 265.5px,#505050 275.5px,#505050 413.5px,#5a5a5a 421.5px,#575757 428.5px,#595959 446.5px,#656565 447.5px,#656565 448.5px,#393939 449.5px,#393939 465.5px,#636363 466.5px,#636363 472.5px,#585858 473.5px,#505050 484.5px,#505050 627.5px,#595959 635.5px,#575757 642.5px,#5a5a5a 654.5px,#595959 658.5px,#393939 659.5px,#393939 677.5px,#636363 678.5px,#636363 684.5px,#585858 685.5px,#505050 694.5px,#505050 736.5px)"></i><i style="left:0px;top:6px;width:737px;height:2px;background:linear-gradient(90deg,#535353 0.5px,#535353 29.5px,#393939 30.5px,#393939 45.5px,#676767 46.5px,#676767 52.5px,#595959 53.5px,#5b5b5b 70.5px,#505050 80.5px,#505050 207.5px,#595959 213.5px,#595959 239.5px,#393939 240.5px,#393939 257.5px,#636363 258.5px,#636363 264.5px,#595959 265.5px,#505050 275.5px,#505050 413.5px,#5b5b5b 421.5px,#585858 423.5px,#595959 446.5px,#656565 447.5px,#656565 448.5px,#393939 449.5px,#393939 465.5px,#636363 466.5px,#636363 472.5px,#595959 473.5px,#505050 484.5px,#505050 627.5px,#5a5a5a 635.5px,#575757 642.5px,#5a5a5a 654.5px,#595959 658.5px,#393939 659.5px,#393939 677.5px,#636363 678.5px,#636363 684.5px,#595959 685.5px,#505050 694.5px,#505050 736.5px)"></i><i style="left:0px;top:8px;width:737px;height:2px;background:linear-gradient(90deg,#535353 0.5px,#535353 29.5px,#393939 30.5px,#393939 45.5px,#676767 46.5px,#676767 52.5px,#5a5a5a 53.5px,#5c5c5c 70.5px,#505050 80.5px,#505050 207.5px,#5a5a5a 213.5px,#595959 239.5px,#393939 240.5px,#393939 257.5px,#636363 258.5px,#636363 264.5px,#595959 265.5px,#505050 275.5px,#505050 413.5px,#5c5c5c 421.5px,#595959 423.5px,#595959 446.5px,#656565 447.5px,#656565 448.5px,#393939 449.5px,#393939 465.5px,#636363 466.5px,#636363 472.5px,#595959 473.5px,#606060 477.5px,#555555 479.5px,#505050 484.5px,#505050 627.5px,#5b5b5b 635.5px,#585858 642.5px,#5b5b5b 653.5px,#595959 658.5px,#393939 659.5px,#393939 677.5px,#636363 678.5px,#636363 684.5px,#595959 685.5px,#505050 694.5px,#505050 736.5px)"></i><i style="left:0px;top:10px;width:737px;height:2px;background:linear-gradient(90deg,#535353 0.5px,#535353 29.5px,#393939 30.5px,#393939 45.5px,#676767 46.5px,#676767 52.5px,#5b5b5b 53.5px,#5d5d5d 70.5px,#505050 80.5px,#505050 207.5px,#5b5b5b 213.5px,#595959 239.5px,#393939 240.5px,#393939 257.5px,#636363 258.5px,#636363 264.5px,#5a5a5a 265.5px,#505050 275.5px,#505050 413.5px,#5e5e5e 421.5px,#5a5a5a 423.5px,#5d5d5d 432.5px,#595959 446.5px,#656565 447.5px,#656565 448.5px,#393939 449.5px,#393939 465.5px,#636363 466.5px,#636363 472.5px,#5a5a5a 473.5px,#5a5a5a 474.5px,#5e5e5e 475.5px,#6a6a6a 476.5px,#696969 477.5px,#5c5c5c 478.5px,#565656 479.5px,#505050 484.5px,#505050 627.5px,#5d5d5d 635.5px,#595959 642.5px,#5b5b5b 653.5px,#595959 658.5px,#393939 659.5px,#393939 677.5px,#636363 678.5px,#636363 684.5px,#5a5a5a 685.5px,#505050 694.5px,#505050 736.5px)"></i><i style="left:0px;top:12px;width:737px;height:2px;background:linear-gradient(90deg,#535353 0.5px,#535353 29.5px,#393939 30.5px,#393939 45.5px,#676767 46.5px,#676767 52.5px,#5b5b5b 53.5px,#5e5e5e 70.5px,#505050 80.5px,#505050 207.5px,#5d5d5d 213.5px,#595959 218.5px,#5e5e5e 223.5px,#595959 239.5px,#393939 240.5px,#393939 257.5px,#636363 258.5px,#636363 264.5px,#5a5a5a 265.5px,#505050 275.5px,#505050 413.5px,#5f5f5f 421.5px,#5b5b5b 423.5px,#5e5e5e 432.5px,#595959 446.5px,#656565 447.5px,#656565 448.5px,#393939 449.5px,#393939 465.5px,#636363 466.5px,#636363 472.5px,#5a5a5a 473.5px,#5b5b5b 474.5px,#5f5f5f 475.5px,#6a6a6a 476.5px,#696969 477.5px,#5c5c5c 478.5px,#565656 479.5px,#505050 484.5px,#505050 624.5px,#535353 627.5px,#626262 630.5px,#626262 631.5px,#5d5d5d 633.5px,#5f5f5f 637.5px,#5a5a5a 641.5px,#5d5d5d 648.5px,#595959 658.5px,#393939 659.5px,#393939 677.5px,#636363 678.5px,#636363 684.5px,#5a5a5a 685.5px,#515151 694.5px,#505050 736.5px)"></i><i style="left:0px;top:14px;width:737px;height:2px;background:linear-gradient(90deg,#535353 0.5px,#535353 29.5px,#393939 30.5px,#393939 45.5px,#676767 46.5px,#676767 52.5px,#5c5c5c 53.5px,#5f5f5f 70.5px,#515151 80.5px,#515151 207.5px,#5e5e5e 213.5px,#5a5a5a 218.5px,#5f5f5f 223.5px,#595959 239.5px,#393939 240.5px,#393939 257.5px,#636363 258.5px,#636363 264.5px,#5b5b5b 265.5px,#515151 275.5px,#515151 413.5px,#616161 421.5px,#5c5c5c 423.5px,#606060 432.5px,#595959 446.5px,#656565 447.5px,#656565 448.5px,#393939 449.5px,#393939 465.5px,#636363 466.5px,#636363 472.5px,#5b5b5b 473.5px,#5b5b5b 474.5px,#5f5f5f 475.5px,#6a6a6a 476.5px,#696969 477.5px,#5c5c5c 478.5px,#565656 479.5px,#515151 484.5px,#515151 625.5px,#545454 628.5px,#656565 631.5px,#606060 633.5px,#5b5b5b 641.5px,#5e5e5e 648.5px,#595959 658.5px,#393939 659.5px,#393939 677.5px,#636363 678.5px,#636363 684.5px,#5b5b5b 685.5px,#515151 694.5px,#515151 736.5px)"></i><i style="left:0px;top:16px;width:737px;height:2px;background:linear-gradient(90deg,#535353 0.5px,#535353 29.5px,#393939 30.5px,#393939 45.5px,#676767 46.5px,#676767 52.5px,#5d5d5d 53.5px,#606060 70.5px,#515151 80.5px,#515151 208.5px,#606060 213.5px,#5b5b5b 218.5px,#616161 223.5px,#595959 239.5px,#393939 240.5px,#393939 257.5px,#636363 258.5px,#636363 264.5px,#5b5b5b 265.5px,#515151 275.5px,#515151 413.5px,#636363 421.5px,#5d5d5d 423.5px,#5c5c5c 428.5px,#626262 432.5px,#595959 446.5px,#656565 447.5px,#656565 448.5px,#393939 449.5px,#393939 465.5px,#636363 466.5px,#636363 472.5px,#5b5b5b 473.5px,#5c5c5c 474.5px,#606060 475.5px,#6a6a6a 476.5px,#696969 477.5px,#5c5c5c 478.5px,#575757 479.5px,#515151 484.5px,#515151 626.5px,#535353 628.5px,#676767 631.5px,#5c5c5c 641.5px,#606060 648.5px,#595959 658.5px,#393939 659.5px,#393939 677.5px,#636363 678.5px,#636363 684.5px,#5b5b5b 685.5px,#515151 694.5px,#515151 736.5px)"></i><i style="left:0px;top:18px;width:737px;height:2px;background:linear-gradient(90deg,#535353 0.5px,#535353 29.5px,#393939 30.5px,#393939 45.5px,#676767 46.5px,#676767 52.5px,#5e5e5e 53.5px,#616161 56.5px,#616161 70.5px,#515151 80.5px,#515151 208.5px,#626262 213.5px,#5d5d5d 218.5px,#636363 223.5px,#595959 233.5px,#595959 239.5px,#393939 240.5px,#393939 257.5px,#636363 258.5px,#636363 264.5px,#5c5c5c 265.5px,#515151 275.5px,#515151 413.5px,#656565 421.5px,#5f5f5f 423.5px,#626262 425.5px,#5e5e5e 428.5px,#646464 432.5px,#595959 444.5px,#595959 446.5px,#656565 447.5px,#656565 448.5px,#393939 449.5px,#393939 465.5px,#636363 466.5px,#636363 472.5px,#5c5c5c 473.5px,#5c5c5c 474.5px,#606060 475.5px,#6a6a6a 476.5px,#696969 477.5px,#5d5d5d 478.5px,#575757 479.5px,#515151 484.5px,#515151 627.5px,#525252 628.5px,#676767 631.5px,#696969 632.5px,#5e5e5e 641.5px,#626262 648.5px,#595959 658.5px,#393939 659.5px,#393939 677.5px,#636363 678.5px,#636363 684.5px,#5c5c5c 685.5px,#515151 694.5px,#515151 736.5px)"></i><i style="left:0px;top:20px;width:737px;height:2px;background:linear-gradient(90deg,#535353 0.5px,#535353 29.5px,#393939 30.5px,#393939 45.5px,#676767 46.5px,#676767 52.5px,#5e5e5e 53.5px,#636363 56.5px,#636363 70.5px,#515151 80.5px,#515151 208.5px,#646464 213.5px,#5e5e5e 218.5px,#656565 223.5px,#595959 233.5px,#595959 239.5px,#393939 240.5px,#393939 257.5px,#636363 258.5px,#636363 264.5px,#5d5d5d 265.5px,#676767 269.5px,#555555 272.5px,#515151 275.5px,#515151 413.5px,#686868 421.5px,#606060 423.5px,#646464 425.5px,#5f5f5f 428.5px,#666666 432.5px,#595959 444.5px,#595959 446.5px,#656565 447.5px,#656565 448.5px,#393939 449.5px,#393939 465.5px,#636363 466.5px,#636363 472.5px,#5d5d5d 473.5px,#5d5d5d 474.5px,#616161 475.5px,#6a6a6a 476.5px,#696969 477.5px,#5d5d5d 478.5px,#585858 479.5px,#515151 484.5px,#515151 626.5px,#525252 628.5px,#666666 631.5px,#6c6c6c 633.5px,#5f5f5f 641.5px,#646464 648.5px,#595959 658.5px,#393939 659.5px,#393939 677.5px,#636363 678.5px,#636363 684.5px,#5c5c5c 685.5px,#515151 694.5px,#515151 736.5px)"></i><i style="left:0px;top:22px;width:737px;height:2px;background:linear-gradient(90deg,#535353 0.5px,#535353 29.5px,#393939 30.5px,#393939 45.5px,#676767 46.5px,#676767 52.5px,#5f5f5f 53.5px,#646464 56.5px,#646464 70.5px,#525252 80.5px,#525252 207.5px,#555555 209.5px,#666666 213.5px,#606060 218.5px,#676767 223.5px,#595959 233.5px,#595959 239.5px,#393939 240.5px,#393939 257.5px,#636363 258.5px,#636363 264.5px,#5d5d5d 265.5px,#686868 268.5px,#686868 269.5px,#555555 272.5px,#525252 275.5px,#525252 413.5px,#555555 415.5px,#6b6b6b 421.5px,#626262 423.5px,#666666 425.5px,#616161 428.5px,#696969 432.5px,#595959 443.5px,#595959 446.5px,#656565 447.5px,#656565 448.5px,#393939 449.5px,#393939 465.5px,#636363 466.5px,#636363 472.5px,#5d5d5d 473.5px,#5d5d5d 474.5px,#6b6b6b 476.5px,#696969 477.5px,#5e5e5e 478.5px,#585858 479.5px,#525252 484.5px,#525252 627.5px,#565656 629.5px,#6a6a6a 632.5px,#707070 634.5px,#696969 636.5px,#616161 641.5px,#666666 648.5px,#595959 658.5px,#393939 659.5px,#393939 677.5px,#636363 678.5px,#636363 684.5px,#5d5d5d 685.5px,#525252 694.5px,#525252 736.5px)"></i><i style="left:0px;top:24px;width:737px;height:2px;background:linear-gradient(90deg,#535353 0.5px,#535353 29.5px,#393939 30.5px,#393939 45.5px,#676767 46.5px,#686868 52.5px,#606060 53.5px,#666666 56.5px,#666666 70.5px,#535353 80.5px,#535353 207.5px,#555555 209.5px,#696969 213.5px,#626262 218.5px,#6a6a6a 223.5px,#595959 233.5px,#595959 239.5px,#393939 240.5px,#393939 257.5px,#636363 258.5px,#636363 264.5px,#5e5e5e 265.5px,#6a6a6a 268.5px,#686868 269.5px,#595959 271.5px,#535353 275.5px,#535353 413.5px,#555555 415.5px,#616161 417.5px,#6e6e6e 421.5px,#646464 423.5px,#686868 425.5px,#636363 428.5px,#6b6b6b 432.5px,#595959 443.5px,#595959 446.5px,#656565 447.5px,#656565 448.5px,#393939 449.5px,#393939 465.5px,#636363 466.5px,#636363 472.5px,#5e5e5e 474.5px,#6b6b6b 476.5px,#696969 477.5px,#5e5e5e 478.5px,#595959 479.5px,#535353 484.5px,#535353 627.5px,#565656 629.5px,#757575 634.5px,#636363 641.5px,#686868 648.5px,#595959 658.5px,#393939 659.5px,#393939 677.5px,#636363 678.5px,#636363 684.5px,#5d5d5d 685.5px,#535353 694.5px,#535353 736.5px)"></i><i style="left:0px;top:26px;width:737px;height:2px;background:linear-gradient(90deg,#535353 0.5px,#535353 29.5px,#393939 30.5px,#393939 45.5px,#666666 46.5px,#686868 52.5px,#616161 53.5px,#686868 56.5px,#686868 70.5px,#545454 80.5px,#545454 207.5px,#565656 209.5px,#6b6b6b 213.5px,#646464 218.5px,#6d6d6d 223.5px,#595959 233.5px,#595959 239.5px,#393939 240.5px,#393939 257.5px,#636363 258.5px,#636363 264.5px,#5f5f5f 265.5px,#6b6b6b 268.5px,#595959 271.5px,#545454 275.5px,#545454 413.5px,#565656 415.5px,#636363 417.5px,#717171 421.5px,#676767 423.5px,#6b6b6b 425.5px,#656565 428.5px,#6f6f6f 432.5px,#595959 443.5px,#595959 446.5px,#656565 447.5px,#656565 448.5px,#393939 449.5px,#393939 465.5px,#636363 466.5px,#636363 472.5px,#5e5e5e 474.5px,#6b6b6b 476.5px,#6a6a6a 477.5px,#5f5f5f 478.5px,#5a5a5a 479.5px,#545454 484.5px,#545454 628.5px,#565656 629.5px,#787878 634.5px,#797979 635.5px,#727272 636.5px,#656565 641.5px,#6b6b6b 648.5px,#5b5b5b 655.5px,#595959 658.5px,#393939 659.5px,#393939 677.5px,#636363 678.5px,#636363 684.5px,#5e5e5e 685.5px,#545454 694.5px,#545454 736.5px)"></i><i style="left:0px;top:28px;width:737px;height:2px;background:linear-gradient(90deg,#545454 0.5px,#535353 29.5px,#393939 30.5px,#393939 45.5px,#666666 46.5px,#686868 52.5px,#626262 53.5px,#6b6b6b 56.5px,#6b6b6b 70.5px,#565656 80.5px,#565656 207.5px,#575757 209.5px,#6f6f6f 213.5px,#6d6d6d 216.5px,#666666 218.5px,#707070 223.5px,#5b5b5b 232.5px,#595959 239.5px,#393939 240.5px,#393939 257.5px,#636363 258.5px,#636363 264.5px,#5f5f5f 265.5px,#6c6c6c 268.5px,#5b5b5b 271.5px,#565656 275.5px,#565656 413.5px,#575757 415.5px,#656565 417.5px,#757575 421.5px,#696969 423.5px,#6e6e6e 425.5px,#686868 428.5px,#707070 430.5px,#727272 432.5px,#595959 443.5px,#595959 446.5px,#656565 447.5px,#656565 448.5px,#393939 449.5px,#393939 465.5px,#636363 466.5px,#636363 472.5px,#5e5e5e 474.5px,#6b6b6b 476.5px,#6a6a6a 477.5px,#606060 478.5px,#5b5b5b 479.5px,#565656 484.5px,#565656 628.5px,#575757 629.5px,#7d7d7d 635.5px,#686868 641.5px,#6e6e6e 648.5px,#5b5b5b 655.5px,#595959 658.5px,#393939 659.5px,#393939 677.5px,#636363 678.5px,#636363 684.5px,#5e5e5e 685.5px,#555555 694.5px,#555555 736.5px)"></i><i style="left:0px;top:30px;width:737px;height:2px;background:linear-gradient(90deg,#5b5b5b 0.5px,#535353 29.5px,#393939 30.5px,#393939 45.5px,#666666 46.5px,#686868 52.5px,#636363 53.5px,#6f6f6f 57.5px,#6b6b6b 66.5px,#6f6f6f 70.5px,#595959 80.5px,#5a5a5a 207.5px,#5a5a5a 209.5px,#727272 213.5px,#6f6f6f 214.5px,#707070 216.5px,#696969 218.5px,#747474 223.5px,#5b5b5b 232.5px,#595959 239.5px,#393939 240.5px,#393939 257.5px,#636363 258.5px,#606060 265.5px,#6d6d6d 268.5px,#5e5e5e 271.5px,#5a5a5a 275.5px,#595959 413.5px,#5a5a5a 415.5px,#797979 421.5px,#6c6c6c 423.5px,#727272 425.5px,#6a6a6a 428.5px,#747474 430.5px,#767676 432.5px,#595959 443.5px,#595959 446.5px,#656565 447.5px,#656565 448.5px,#393939 449.5px,#393939 465.5px,#636363 466.5px,#5f5f5f 474.5px,#6b6b6b 476.5px,#6b6b6b 477.5px,#5d5d5d 479.5px,#5a5a5a 484.5px,#5a5a5a 628.5px,#5b5b5b 629.5px,#818181 635.5px,#7e7e7e 637.5px,#6b6b6b 641.5px,#727272 646.5px,#717171 648.5px,#5b5b5b 655.5px,#595959 658.5px,#393939 659.5px,#393939 677.5px,#636363 678.5px,#636363 682.5px,#6a6a6a 685.5px,#7b7b7b 686.5px,#838383 687.5px,#6e6e6e 688.5px,#616161 689.5px,#595959 693.5px,#595959 736.5px)"></i><i style="left:0px;top:32px;width:737px;height:2px;background:linear-gradient(90deg,#666666 0.5px,#646464 7.5px,#555555 21.5px,#535353 29.5px,#393939 30.5px,#393939 45.5px,#666666 46.5px,#696969 52.5px,#656565 53.5px,#737373 56.5px,#747474 57.5px,#6f6f6f 66.5px,#737373 70.5px,#666666 75.5px,#5e5e5e 80.5px,#606060 207.5px,#636363 210.5px,#767676 213.5px,#727272 214.5px,#747474 216.5px,#6b6b6b 218.5px,#787878 223.5px,#5b5b5b 232.5px,#595959 239.5px,#393939 240.5px,#393939 257.5px,#636363 258.5px,#626262 265.5px,#6e6e6e 267.5px,#6e6e6e 268.5px,#646464 270.5px,#616161 275.5px,#606060 413.5px,#626262 416.5px,#7e7e7e 421.5px,#6f6f6f 423.5px,#767676 425.5px,#6d6d6d 428.5px,#777777 430.5px,#7a7a7a 432.5px,#595959 443.5px,#595959 446.5px,#656565 447.5px,#656565 448.5px,#393939 449.5px,#393939 465.5px,#636363 466.5px,#5f5f5f 474.5px,#6b6b6b 476.5px,#6c6c6c 477.5px,#616161 479.5px,#606060 484.5px,#606060 628.5px,#636363 630.5px,#838383 635.5px,#858585 637.5px,#6d6d6d 641.5px,#6f6f6f 644.5px,#767676 646.5px,#747474 648.5px,#5b5b5b 655.5px,#595959 658.5px,#393939 659.5px,#393939 677.5px,#636363 678.5px,#636363 682.5px,#6b6b6b 685.5px,#7b7b7b 686.5px,#848484 687.5px,#707070 688.5px,#636363 689.5px,#5e5e5e 693.5px,#5e5e5e 736.5px)"></i><i style="left:0px;top:34px;width:737px;height:2px;background:linear-gradient(90deg,#737373 0.5px,#717171 7.5px,#565656 21.5px,#525252 29.5px,#393939 30.5px,#393939 45.5px,#666666 46.5px,#6a6a6a 52.5px,#666666 53.5px,#787878 56.5px,#797979 57.5px,#737373 66.5px,#797979 68.5px,#757575 69.5px,#787878 70.5px,#6c6c6c 75.5px,#666666 80.5px,#6b6b6b 151.5px,#696969 208.5px,#6e6e6e 211.5px,#7b7b7b 213.5px,#767676 214.5px,#787878 216.5px,#6f6f6f 218.5px,#7c7c7c 223.5px,#5b5b5b 232.5px,#595959 239.5px,#393939 240.5px,#393939 257.5px,#626262 258.5px,#636363 265.5px,#6f6f6f 267.5px,#696969 270.5px,#6d6d6d 272.5px,#6d6d6d 322.5px,#696969 413.5px,#717171 418.5px,#838383 421.5px,#7e7e7e 422.5px,#737373 423.5px,#7a7a7a 425.5px,#707070 428.5px,#7b7b7b 430.5px,#7e7e7e 432.5px,#6d6d6d 438.5px,#595959 443.5px,#595959 446.5px,#656565 447.5px,#656565 448.5px,#393939 449.5px,#393939 465.5px,#626262 466.5px,#5f5f5f 474.5px,#6d6d6d 477.5px,#676767 479.5px,#6b6b6b 481.5px,#6a6a6a 628.5px,#727272 632.5px,#858585 635.5px,#8b8b8b 637.5px,#717171 641.5px,#737373 644.5px,#7a7a7a 646.5px,#787878 648.5px,#717171 649.5px,#5b5b5b 655.5px,#595959 658.5px,#393939 659.5px,#393939 677.5px,#626262 678.5px,#636363 682.5px,#6c6c6c 685.5px,#7c7c7c 686.5px,#848484 687.5px,#727272 688.5px,#676767 689.5px,#666666 690.5px,#666666 736.5px)"></i><i style="left:0px;top:36px;width:737px;height:2px;background:linear-gradient(90deg,#7f7f7f 0.5px,#7c7c7c 7.5px,#575757 21.5px,#525252 29.5px,#393939 30.5px,#393939 45.5px,#666666 46.5px,#686868 53.5px,#7e7e7e 56.5px,#7f7f7f 57.5px,#777777 66.5px,#7e7e7e 68.5px,#7a7a7a 69.5px,#7e7e7e 70.5px,#737373 75.5px,#707070 80.5px,#787878 151.5px,#757575 208.5px,#787878 211.5px,#808080 213.5px,#7a7a7a 214.5px,#7c7c7c 216.5px,#727272 218.5px,#808080 223.5px,#5b5b5b 232.5px,#585858 239.5px,#393939 240.5px,#393939 257.5px,#626262 258.5px,#656565 265.5px,#707070 267.5px,#6e6e6e 269.5px,#797979 273.5px,#7a7a7a 323.5px,#747474 360.5px,#747474 413.5px,#777777 418.5px,#888888 421.5px,#838383 422.5px,#777777 423.5px,#7e7e7e 425.5px,#737373 428.5px,#7f7f7f 430.5px,#828282 432.5px,#6f6f6f 438.5px,#595959 443.5px,#585858 446.5px,#656565 447.5px,#656565 448.5px,#393939 449.5px,#393939 465.5px,#626262 466.5px,#5f5f5f 474.5px,#6f6f6f 477.5px,#6b6b6b 478.5px,#777777 482.5px,#737373 527.5px,#757575 628.5px,#787878 632.5px,#888888 635.5px,#888888 636.5px,#909090 637.5px,#8e8e8e 638.5px,#747474 641.5px,#767676 644.5px,#7e7e7e 646.5px,#7c7c7c 648.5px,#737373 649.5px,#5c5c5c 655.5px,#585858 658.5px,#393939 659.5px,#393939 677.5px,#626262 678.5px,#636363 682.5px,#6c6c6c 685.5px,#7c7c7c 686.5px,#858585 687.5px,#757575 688.5px,#6c6c6c 689.5px,#717171 692.5px,#727272 736.5px)"></i><i style="left:0px;top:38px;width:737px;height:2px;background:linear-gradient(90deg,#888888 0.5px,#858585 7.5px,#585858 21.5px,#525252 29.5px,#393939 30.5px,#393939 45.5px,#666666 46.5px,#696969 53.5px,#838383 56.5px,#848484 57.5px,#7b7b7b 66.5px,#838383 68.5px,#7e7e7e 69.5px,#838383 70.5px,#797979 75.5px,#7d7d7d 77.5px,#797979 80.5px,#848484 145.5px,#818181 207.5px,#858585 213.5px,#808080 214.5px,#808080 216.5px,#757575 218.5px,#848484 223.5px,#5b5b5b 232.5px,#585858 239.5px,#393939 240.5px,#393939 257.5px,#626262 258.5px,#666666 265.5px,#717171 267.5px,#717171 269.5px,#858585 272.5px,#868686 273.5px,#888888 323.5px,#808080 349.5px,#7e7e7e 397.5px,#828282 419.5px,#8e8e8e 421.5px,#888888 422.5px,#7a7a7a 423.5px,#7b7b7b 424.5px,#828282 425.5px,#767676 428.5px,#838383 430.5px,#878787 432.5px,#717171 438.5px,#5f5f5f 441.5px,#595959 443.5px,#585858 446.5px,#656565 447.5px,#656565 448.5px,#393939 449.5px,#393939 465.5px,#626262 466.5px,#5f5f5f 474.5px,#626262 475.5px,#717171 477.5px,#707070 478.5px,#828282 481.5px,#838383 482.5px,#7e7e7e 527.5px,#818181 628.5px,#838383 633.5px,#8b8b8b 635.5px,#898989 636.5px,#939393 637.5px,#939393 638.5px,#787878 641.5px,#797979 644.5px,#818181 646.5px,#7f7f7f 648.5px,#767676 649.5px,#5c5c5c 655.5px,#585858 658.5px,#393939 659.5px,#393939 677.5px,#626262 678.5px,#656565 683.5px,#6d6d6d 685.5px,#868686 687.5px,#787878 688.5px,#727272 689.5px,#7d7d7d 692.5px,#7f7f7f 736.5px)"></i><i style="left:0px;top:40px;width:737px;height:2px;background:linear-gradient(90deg,#8c8c8c 0.5px,#888888 7.5px,#585858 21.5px,#535353 24.5px,#525252 29.5px,#393939 30.5px,#393939 45.5px,#666666 46.5px,#6a6a6a 53.5px,#868686 56.5px,#878787 57.5px,#7d7d7d 66.5px,#868686 68.5px,#818181 69.5px,#868686 70.5px,#7e7e7e 75.5px,#838383 77.5px,#808080 81.5px,#8d8d8d 145.5px,#898989 207.5px,#8c8c8c 211.5px,#848484 216.5px,#787878 218.5px,#808080 221.5px,#888888 222.5px,#888888 223.5px,#717171 227.5px,#707070 228.5px,#5b5b5b 232.5px,#585858 239.5px,#393939 240.5px,#393939 257.5px,#626262 258.5px,#636363 263.5px,#6f6f6f 266.5px,#707070 268.5px,#747474 269.5px,#8d8d8d 272.5px,#8f8f8f 273.5px,#929292 323.5px,#898989 347.5px,#858585 390.5px,#898989 419.5px,#8a8a8a 420.5px,#929292 421.5px,#8c8c8c 422.5px,#7e7e7e 423.5px,#7f7f7f 424.5px,#868686 425.5px,#7e7e7e 426.5px,#797979 428.5px,#878787 430.5px,#8b8b8b 432.5px,#808080 434.5px,#818181 435.5px,#737373 438.5px,#606060 441.5px,#595959 443.5px,#585858 446.5px,#656565 447.5px,#656565 448.5px,#393939 449.5px,#393939 465.5px,#626262 466.5px,#5f5f5f 474.5px,#626262 475.5px,#727272 477.5px,#737373 478.5px,#898989 481.5px,#8b8b8b 482.5px,#858585 528.5px,#8a8a8a 628.5px,#8d8d8d 631.5px,#8b8b8b 634.5px,#8e8e8e 635.5px,#8b8b8b 636.5px,#959595 637.5px,#969696 638.5px,#898989 640.5px,#7d7d7d 641.5px,#797979 642.5px,#7c7c7c 644.5px,#858585 646.5px,#838383 648.5px,#797979 649.5px,#5c5c5c 655.5px,#585858 658.5px,#393939 659.5px,#393939 677.5px,#626262 678.5px,#656565 683.5px,#6d6d6d 685.5px,#878787 687.5px,#797979 688.5px,#767676 689.5px,#868686 692.5px,#898989 736.5px)"></i><i style="left:0px;top:42px;width:737px;height:2px;background:linear-gradient(90deg,#8c8c8c 0.5px,#8b8b8b 5.5px,#868686 8.5px,#565656 22.5px,#525252 29.5px,#393939 30.5px,#393939 45.5px,#666666 46.5px,#6b6b6b 53.5px,#888888 56.5px,#888888 57.5px,#7e7e7e 66.5px,#888888 68.5px,#828282 69.5px,#878787 70.5px,#808080 75.5px,#858585 77.5px,#828282 80.5px,#8a8a8a 106.5px,#909090 162.5px,#8b8b8b 207.5px,#8e8e8e 212.5px,#878787 216.5px,#7a7a7a 218.5px,#838383 221.5px,#8b8b8b 222.5px,#8b8b8b 223.5px,#828282 225.5px,#737373 227.5px,#727272 228.5px,#5b5b5b 232.5px,#585858 239.5px,#393939 240.5px,#393939 257.5px,#626262 258.5px,#636363 263.5px,#707070 266.5px,#6f6f6f 268.5px,#8f8f8f 272.5px,#919191 273.5px,#949494 323.5px,#8b8b8b 347.5px,#878787 392.5px,#8c8c8c 419.5px,#8d8d8d 420.5px,#969696 421.5px,#909090 422.5px,#818181 423.5px,#818181 424.5px,#898989 425.5px,#818181 426.5px,#7b7b7b 428.5px,#8b8b8b 430.5px,#8e8e8e 432.5px,#838383 434.5px,#848484 435.5px,#7a7a7a 437.5px,#606060 441.5px,#595959 443.5px,#585858 446.5px,#646464 447.5px,#646464 448.5px,#393939 449.5px,#393939 465.5px,#626262 466.5px,#5f5f5f 473.5px,#626262 475.5px,#8b8b8b 481.5px,#8d8d8d 482.5px,#878787 528.5px,#8c8c8c 628.5px,#8f8f8f 631.5px,#8c8c8c 633.5px,#919191 635.5px,#8d8d8d 636.5px,#979797 637.5px,#989898 638.5px,#8f8f8f 640.5px,#828282 641.5px,#7d7d7d 642.5px,#7f7f7f 644.5px,#898989 646.5px,#848484 647.5px,#868686 648.5px,#7b7b7b 649.5px,#5c5c5c 655.5px,#585858 658.5px,#393939 659.5px,#393939 677.5px,#626262 678.5px,#656565 683.5px,#6e6e6e 685.5px,#868686 687.5px,#797979 688.5px,#787878 689.5px,#8a8a8a 692.5px,#8e8e8e 736.5px)"></i><i style="left:0px;top:44px;width:737px;height:2px;background:linear-gradient(90deg,#8c8c8c 0.5px,#888888 7.5px,#585858 21.5px,#535353 24.5px,#525252 29.5px,#393939 30.5px,#393939 45.5px,#666666 46.5px,#6a6a6a 53.5px,#868686 56.5px,#878787 57.5px,#7d7d7d 66.5px,#878787 68.5px,#818181 69.5px,#868686 70.5px,#7e7e7e 75.5px,#828282 77.5px,#7f7f7f 80.5px,#8b8b8b 150.5px,#878787 208.5px,#8f8f8f 213.5px,#888888 214.5px,#8b8b8b 215.5px,#898989 216.5px,#7c7c7c 218.5px,#858585 221.5px,#8e8e8e 222.5px,#8e8e8e 223.5px,#858585 225.5px,#747474 227.5px,#747474 228.5px,#5b5b5b 232.5px,#585858 239.5px,#393939 240.5px,#393939 257.5px,#626262 258.5px,#636363 263.5px,#707070 266.5px,#6c6c6c 268.5px,#8b8b8b 272.5px,#8c8c8c 273.5px,#8f8f8f 323.5px,#868686 355.5px,#858585 407.5px,#898989 419.5px,#999999 421.5px,#929292 422.5px,#838383 423.5px,#848484 424.5px,#8c8c8c 425.5px,#848484 426.5px,#7d7d7d 428.5px,#8e8e8e 430.5px,#929292 432.5px,#8f8f8f 433.5px,#868686 434.5px,#868686 435.5px,#7c7c7c 437.5px,#606060 441.5px,#585858 443.5px,#585858 446.5px,#646464 447.5px,#646464 448.5px,#393939 449.5px,#393939 465.5px,#626262 466.5px,#5f5f5f 474.5px,#626262 475.5px,#717171 477.5px,#727272 478.5px,#878787 481.5px,#898989 482.5px,#848484 527.5px,#878787 628.5px,#8a8a8a 633.5px,#949494 635.5px,#8f8f8f 636.5px,#989898 637.5px,#999999 638.5px,#929292 640.5px,#868686 641.5px,#818181 642.5px,#828282 644.5px,#8c8c8c 646.5px,#878787 647.5px,#898989 648.5px,#7e7e7e 649.5px,#5c5c5c 655.5px,#585858 658.5px,#393939 659.5px,#393939 677.5px,#626262 678.5px,#656565 683.5px,#6e6e6e 685.5px,#858585 687.5px,#787878 688.5px,#777777 689.5px,#898989 692.5px,#8b8b8b 736.5px)"></i><i style="left:0px;top:46px;width:737px;height:2px;background:linear-gradient(90deg,#8c8c8c 0.5px,#888888 7.5px,#585858 21.5px,#525252 24.5px,#525252 29.5px,#393939 30.5px,#393939 45.5px,#656565 46.5px,#696969 53.5px,#838383 56.5px,#848484 57.5px,#7b7b7b 66.5px,#848484 68.5px,#7f7f7f 69.5px,#838383 70.5px,#797979 75.5px,#7c7c7c 77.5px,#797979 80.5px,#828282 151.5px,#7f7f7f 207.5px,#838383 211.5px,#919191 213.5px,#888888 214.5px,#8d8d8d 215.5px,#8a8a8a 216.5px,#7d7d7d 218.5px,#888888 221.5px,#919191 222.5px,#919191 223.5px,#878787 225.5px,#767676 227.5px,#757575 228.5px,#5b5b5b 232.5px,#585858 239.5px,#393939 240.5px,#393939 257.5px,#626262 258.5px,#646464 263.5px,#707070 266.5px,#696969 268.5px,#7e7e7e 271.5px,#848484 273.5px,#868686 323.5px,#7f7f7f 360.5px,#7f7f7f 413.5px,#848484 418.5px,#9b9b9b 421.5px,#949494 422.5px,#848484 423.5px,#858585 424.5px,#8e8e8e 425.5px,#868686 426.5px,#7f7f7f 428.5px,#909090 430.5px,#959595 432.5px,#919191 433.5px,#888888 434.5px,#888888 435.5px,#7e7e7e 437.5px,#616161 441.5px,#585858 443.5px,#585858 446.5px,#646464 447.5px,#646464 448.5px,#393939 449.5px,#393939 465.5px,#626262 466.5px,#5f5f5f 474.5px,#6f6f6f 477.5px,#6e6e6e 478.5px,#7f7f7f 481.5px,#818181 482.5px,#7c7c7c 526.5px,#7f7f7f 628.5px,#848484 632.5px,#959595 635.5px,#909090 636.5px,#999999 637.5px,#999999 638.5px,#949494 640.5px,#858585 642.5px,#848484 644.5px,#8e8e8e 646.5px,#898989 647.5px,#8b8b8b 648.5px,#7f7f7f 649.5px,#5c5c5c 655.5px,#585858 658.5px,#393939 659.5px,#393939 677.5px,#626262 678.5px,#656565 683.5px,#6e6e6e 685.5px,#838383 687.5px,#757575 688.5px,#737373 689.5px,#828282 692.5px,#848484 736.5px)"></i><i style="left:0px;top:48px;width:737px;height:2px;background:linear-gradient(90deg,#8c8c8c 0.5px,#888888 7.5px,#585858 21.5px,#525252 24.5px,#525252 29.5px,#393939 30.5px,#393939 45.5px,#656565 46.5px,#686868 53.5px,#7f7f7f 56.5px,#7f7f7f 57.5px,#777777 66.5px,#7f7f7f 68.5px,#7b7b7b 69.5px,#7f7f7f 70.5px,#747474 75.5px,#727272 80.5px,#787878 149.5px,#777777 207.5px,#7d7d7d 211.5px,#8c8c8c 212.5px,#929292 213.5px,#898989 214.5px,#8e8e8e 215.5px,#8b8b8b 216.5px,#7e7e7e 218.5px,#898989 220.5px,#898989 221.5px,#939393 222.5px,#939393 223.5px,#888888 225.5px,#777777 227.5px,#767676 228.5px,#5b5b5b 232.5px,#585858 239.5px,#393939 240.5px,#393939 257.5px,#626262 258.5px,#626262 262.5px,#707070 265.5px,#676767 268.5px,#787878 271.5px,#7e7e7e 273.5px,#797979 413.5px,#838383 418.5px,#9d9d9d 421.5px,#969696 422.5px,#858585 423.5px,#878787 424.5px,#909090 425.5px,#878787 426.5px,#818181 428.5px,#929292 430.5px,#969696 432.5px,#939393 433.5px,#898989 434.5px,#8a8a8a 435.5px,#7f7f7f 437.5px,#737373 439.5px,#616161 441.5px,#585858 443.5px,#585858 446.5px,#646464 447.5px,#646464 448.5px,#393939 449.5px,#393939 465.5px,#626262 466.5px,#5e5e5e 474.5px,#6d6d6d 477.5px,#6b6b6b 478.5px,#797979 482.5px,#757575 523.5px,#767676 628.5px,#797979 630.5px,#939393 634.5px,#969696 635.5px,#919191 636.5px,#9a9a9a 637.5px,#939393 640.5px,#898989 642.5px,#878787 644.5px,#909090 646.5px,#8b8b8b 647.5px,#8c8c8c 648.5px,#818181 649.5px,#777777 651.5px,#5c5c5c 655.5px,#585858 658.5px,#393939 659.5px,#393939 677.5px,#626262 678.5px,#656565 683.5px,#6f6f6f 685.5px,#7b7b7b 686.5px,#828282 687.5px,#727272 688.5px,#6f6f6f 689.5px,#7a7a7a 692.5px,#7a7a7a 736.5px)"></i><i style="left:0px;top:50px;width:737px;height:2px;background:linear-gradient(90deg,#8b8b8b 0.5px,#878787 7.5px,#585858 21.5px,#525252 24.5px,#515151 29.5px,#393939 30.5px,#393939 45.5px,#656565 46.5px,#666666 53.5px,#7a7a7a 56.5px,#7a7a7a 57.5px,#737373 66.5px,#7a7a7a 68.5px,#767676 69.5px,#7a7a7a 70.5px,#707070 75.5px,#6d6d6d 80.5px,#737373 142.5px,#727272 207.5px,#757575 210.5px,#7d7d7d 211.5px,#8c8c8c 212.5px,#929292 213.5px,#898989 214.5px,#8e8e8e 215.5px,#8c8c8c 216.5px,#7f7f7f 218.5px,#898989 220.5px,#8a8a8a 221.5px,#949494 222.5px,#949494 223.5px,#898989 225.5px,#777777 227.5px,#767676 228.5px,#5b5b5b 232.5px,#585858 239.5px,#393939 240.5px,#393939 257.5px,#616161 258.5px,#626262 262.5px,#717171 265.5px,#656565 268.5px,#787878 271.5px,#7d7d7d 273.5px,#787878 413.5px,#7f7f7f 417.5px,#9e9e9e 421.5px,#979797 422.5px,#868686 423.5px,#878787 424.5px,#919191 425.5px,#888888 426.5px,#818181 428.5px,#939393 430.5px,#989898 432.5px,#949494 433.5px,#8a8a8a 434.5px,#8b8b8b 435.5px,#808080 437.5px,#737373 439.5px,#616161 441.5px,#585858 443.5px,#585858 446.5px,#646464 447.5px,#646464 448.5px,#393939 449.5px,#393939 465.5px,#616161 466.5px,#5e5e5e 474.5px,#6b6b6b 477.5px,#696969 478.5px,#737373 482.5px,#6f6f6f 514.5px,#707070 628.5px,#747474 630.5px,#7f7f7f 631.5px,#939393 634.5px,#979797 635.5px,#929292 636.5px,#9b9b9b 637.5px,#8a8a8a 641.5px,#8a8a8a 644.5px,#919191 646.5px,#8c8c8c 647.5px,#8d8d8d 648.5px,#818181 649.5px,#787878 651.5px,#5c5c5c 655.5px,#585858 658.5px,#393939 659.5px,#393939 677.5px,#616161 678.5px,#666666 683.5px,#6f6f6f 685.5px,#7b7b7b 686.5px,#808080 687.5px,#707070 688.5px,#6b6b6b 689.5px,#737373 692.5px,#727272 736.5px)"></i><i style="left:0px;top:52px;width:737px;height:2px;background:linear-gradient(90deg,#8b8b8b 0.5px,#878787 7.5px,#585858 21.5px,#525252 24.5px,#515151 29.5px,#393939 30.5px,#393939 45.5px,#656565 46.5px,#686868 52.5px,#646464 53.5px,#757575 56.5px,#757575 57.5px,#6f6f6f 66.5px,#747474 70.5px,#6d6d6d 75.5px,#6b6b6b 80.5px,#6d6d6d 105.5px,#717171 106.5px,#727272 208.5px,#757575 210.5px,#7d7d7d 211.5px,#8c8c8c 212.5px,#929292 213.5px,#8a8a8a 214.5px,#8e8e8e 215.5px,#8c8c8c 216.5px,#7f7f7f 218.5px,#8a8a8a 220.5px,#8a8a8a 221.5px,#949494 222.5px,#949494 223.5px,#898989 225.5px,#777777 227.5px,#767676 228.5px,#5b5b5b 232.5px,#575757 239.5px,#393939 240.5px,#393939 257.5px,#616161 258.5px,#636363 262.5px,#707070 264.5px,#717171 265.5px,#656565 267.5px,#656565 268.5px,#7c7c7c 271.5px,#828282 273.5px,#7d7d7d 413.5px,#848484 418.5px,#9f9f9f 421.5px,#979797 422.5px,#868686 423.5px,#888888 424.5px,#919191 425.5px,#888888 426.5px,#828282 428.5px,#949494 430.5px,#989898 432.5px,#959595 433.5px,#8b8b8b 434.5px,#8b8b8b 435.5px,#808080 437.5px,#737373 439.5px,#616161 441.5px,#585858 443.5px,#575757 446.5px,#646464 447.5px,#646464 448.5px,#393939 449.5px,#393939 465.5px,#616161 466.5px,#5e5e5e 474.5px,#6b6b6b 477.5px,#696969 478.5px,#747474 482.5px,#6f6f6f 484.5px,#6f6f6f 628.5px,#727272 630.5px,#7f7f7f 631.5px,#939393 634.5px,#979797 635.5px,#929292 636.5px,#9b9b9b 637.5px,#888888 641.5px,#929292 646.5px,#8c8c8c 647.5px,#8e8e8e 648.5px,#818181 649.5px,#787878 651.5px,#5c5c5c 655.5px,#575757 658.5px,#393939 659.5px,#393939 677.5px,#616161 678.5px,#666666 683.5px,#6f6f6f 685.5px,#7a7a7a 686.5px,#7f7f7f 687.5px,#6f6f6f 688.5px,#696969 689.5px,#6f6f6f 692.5px,#6e6e6e 736.5px)"></i><i style="left:0px;top:54px;width:737px;height:2px;background:linear-gradient(90deg,#8b8b8b 0.5px,#878787 7.5px,#575757 21.5px,#525252 24.5px,#515151 29.5px,#393939 30.5px,#393939 45.5px,#656565 46.5px,#676767 52.5px,#636363 53.5px,#707070 56.5px,#6c6c6c 66.5px,#707070 70.5px,#6c6c6c 75.5px,#6f6f6f 105.5px,#777777 106.5px,#787878 208.5px,#7e7e7e 211.5px,#8c8c8c 212.5px,#929292 213.5px,#8a8a8a 214.5px,#8e8e8e 215.5px,#8c8c8c 216.5px,#7f7f7f 218.5px,#898989 220.5px,#8a8a8a 221.5px,#949494 222.5px,#949494 223.5px,#898989 225.5px,#777777 227.5px,#767676 228.5px,#5b5b5b 232.5px,#575757 239.5px,#393939 240.5px,#393939 257.5px,#616161 258.5px,#636363 262.5px,#727272 264.5px,#707070 265.5px,#636363 267.5px,#666666 268.5px,#838383 271.5px,#8b8b8b 273.5px,#8d8d8d 322.5px,#848484 360.5px,#848484 413.5px,#898989 418.5px,#8c8c8c 419.5px,#9f9f9f 421.5px,#979797 422.5px,#868686 423.5px,#888888 424.5px,#919191 425.5px,#888888 426.5px,#818181 428.5px,#939393 430.5px,#979797 432.5px,#949494 433.5px,#8a8a8a 434.5px,#8b8b8b 435.5px,#7f7f7f 437.5px,#737373 439.5px,#606060 441.5px,#585858 443.5px,#575757 446.5px,#646464 447.5px,#646464 448.5px,#393939 449.5px,#393939 465.5px,#616161 466.5px,#5d5d5d 474.5px,#6b6b6b 477.5px,#6a6a6a 478.5px,#797979 482.5px,#737373 484.5px,#737373 628.5px,#767676 630.5px,#939393 634.5px,#979797 635.5px,#929292 636.5px,#9b9b9b 637.5px,#989898 638.5px,#858585 641.5px,#929292 645.5px,#8d8d8d 648.5px,#818181 649.5px,#787878 651.5px,#5c5c5c 655.5px,#575757 658.5px,#393939 659.5px,#393939 677.5px,#616161 678.5px,#636363 682.5px,#6f6f6f 685.5px,#7f7f7f 687.5px,#707070 688.5px,#686868 689.5px,#707070 692.5px,#6f6f6f 736.5px)"></i><i style="left:0px;top:56px;width:737px;height:2px;background:linear-gradient(90deg,#8b8b8b 0.5px,#8a8a8a 5.5px,#858585 8.5px,#555555 22.5px,#515151 29.5px,#393939 30.5px,#393939 45.5px,#656565 46.5px,#676767 52.5px,#616161 53.5px,#6d6d6d 56.5px,#696969 73.5px,#737373 78.5px,#757575 105.5px,#7f7f7f 106.5px,#848484 160.5px,#808080 208.5px,#848484 211.5px,#929292 213.5px,#898989 214.5px,#8e8e8e 215.5px,#8b8b8b 216.5px,#7e7e7e 218.5px,#888888 220.5px,#898989 221.5px,#929292 222.5px,#929292 223.5px,#888888 225.5px,#767676 227.5px,#757575 228.5px,#5b5b5b 232.5px,#575757 239.5px,#393939 240.5px,#393939 257.5px,#616161 258.5px,#646464 262.5px,#737373 264.5px,#626262 267.5px,#676767 268.5px,#8f8f8f 272.5px,#939393 288.5px,#949494 323.5px,#8a8a8a 352.5px,#888888 402.5px,#8d8d8d 419.5px,#9e9e9e 421.5px,#969696 422.5px,#868686 423.5px,#878787 424.5px,#909090 425.5px,#878787 426.5px,#808080 428.5px,#929292 430.5px,#969696 432.5px,#939393 433.5px,#898989 434.5px,#898989 435.5px,#7e7e7e 437.5px,#727272 439.5px,#606060 441.5px,#585858 443.5px,#575757 446.5px,#636363 447.5px,#636363 448.5px,#393939 449.5px,#393939 465.5px,#616161 466.5px,#616161 472.5px,#5d5d5d 474.5px,#6d6d6d 478.5px,#818181 481.5px,#828282 482.5px,#7b7b7b 484.5px,#797979 512.5px,#7b7b7b 628.5px,#838383 632.5px,#939393 634.5px,#979797 635.5px,#919191 636.5px,#9a9a9a 637.5px,#979797 638.5px,#828282 641.5px,#838383 642.5px,#939393 645.5px,#949494 646.5px,#8c8c8c 647.5px,#8c8c8c 648.5px,#808080 649.5px,#5b5b5b 655.5px,#575757 658.5px,#393939 659.5px,#393939 677.5px,#616161 678.5px,#636363 682.5px,#6f6f6f 685.5px,#7f7f7f 687.5px,#6b6b6b 689.5px,#757575 692.5px,#757575 736.5px)"></i><i style="left:0px;top:58px;width:737px;height:2px;background:linear-gradient(90deg,#8b8b8b 0.5px,#878787 7.5px,#575757 21.5px,#525252 24.5px,#515151 29.5px,#393939 30.5px,#393939 45.5px,#656565 46.5px,#666666 52.5px,#606060 53.5px,#6a6a6a 56.5px,#686868 73.5px,#797979 78.5px,#7e7e7e 105.5px,#868686 106.5px,#8b8b8b 145.5px,#878787 208.5px,#919191 213.5px,#888888 214.5px,#8d8d8d 215.5px,#8a8a8a 216.5px,#7d7d7d 218.5px,#878787 221.5px,#909090 222.5px,#909090 223.5px,#868686 225.5px,#757575 227.5px,#747474 228.5px,#5a5a5a 232.5px,#575757 239.5px,#393939 240.5px,#393939 257.5px,#616161 258.5px,#626262 261.5px,#747474 264.5px,#616161 267.5px,#666666 268.5px,#858585 271.5px,#8e8e8e 273.5px,#919191 323.5px,#888888 352.5px,#868686 403.5px,#8a8a8a 419.5px,#9b9b9b 421.5px,#949494 422.5px,#848484 423.5px,#858585 424.5px,#8e8e8e 425.5px,#858585 426.5px,#7e7e7e 428.5px,#8f8f8f 430.5px,#949494 432.5px,#909090 433.5px,#878787 434.5px,#888888 435.5px,#7d7d7d 437.5px,#606060 441.5px,#575757 443.5px,#575757 446.5px,#636363 447.5px,#636363 448.5px,#393939 449.5px,#393939 465.5px,#616161 466.5px,#5e5e5e 475.5px,#707070 478.5px,#878787 481.5px,#898989 482.5px,#838383 484.5px,#808080 521.5px,#848484 628.5px,#878787 632.5px,#959595 635.5px,#909090 636.5px,#989898 637.5px,#8a8a8a 640.5px,#808080 641.5px,#808080 642.5px,#929292 645.5px,#959595 646.5px,#8c8c8c 647.5px,#8b8b8b 648.5px,#7f7f7f 649.5px,#5b5b5b 655.5px,#575757 658.5px,#393939 659.5px,#393939 677.5px,#616161 678.5px,#636363 682.5px,#6f6f6f 685.5px,#7e7e7e 687.5px,#737373 688.5px,#6e6e6e 689.5px,#7c7c7c 692.5px,#7e7e7e 736.5px)"></i><i style="left:0px;top:60px;width:737px;height:2px;background:linear-gradient(90deg,#8b8b8b 0.5px,#878787 7.5px,#575757 21.5px,#515151 24.5px,#515151 29.5px,#393939 30.5px,#393939 45.5px,#646464 46.5px,#666666 52.5px,#5f5f5f 53.5px,#676767 56.5px,#666666 72.5px,#7e7e7e 78.5px,#868686 106.5px,#8c8c8c 160.5px,#878787 208.5px,#8e8e8e 213.5px,#878787 214.5px,#8a8a8a 215.5px,#888888 216.5px,#7b7b7b 218.5px,#848484 221.5px,#8d8d8d 222.5px,#8d8d8d 223.5px,#838383 225.5px,#737373 227.5px,#727272 228.5px,#5a5a5a 232.5px,#575757 239.5px,#393939 240.5px,#393939 257.5px,#616161 258.5px,#626262 261.5px,#757575 264.5px,#636363 266.5px,#5f5f5f 267.5px,#636363 268.5px,#7c7c7c 271.5px,#848484 273.5px,#868686 322.5px,#7d7d7d 360.5px,#7d7d7d 413.5px,#818181 418.5px,#979797 421.5px,#919191 422.5px,#818181 423.5px,#828282 424.5px,#8b8b8b 425.5px,#828282 426.5px,#7c7c7c 428.5px,#8d8d8d 430.5px,#919191 432.5px,#8e8e8e 433.5px,#848484 434.5px,#858585 435.5px,#7b7b7b 437.5px,#5f5f5f 441.5px,#575757 443.5px,#575757 446.5px,#636363 447.5px,#636363 448.5px,#393939 449.5px,#393939 465.5px,#616161 466.5px,#5e5e5e 475.5px,#6f6f6f 478.5px,#878787 481.5px,#898989 482.5px,#838383 528.5px,#888888 628.5px,#8c8c8c 631.5px,#898989 633.5px,#929292 635.5px,#8d8d8d 636.5px,#959595 637.5px,#878787 640.5px,#7d7d7d 641.5px,#7c7c7c 642.5px,#939393 646.5px,#8b8b8b 648.5px,#7d7d7d 649.5px,#5b5b5b 655.5px,#575757 658.5px,#393939 659.5px,#393939 677.5px,#616161 678.5px,#636363 682.5px,#6e6e6e 684.5px,#6e6e6e 685.5px,#7d7d7d 687.5px,#727272 688.5px,#717171 689.5px,#838383 692.5px,#868686 736.5px)"></i><i style="left:0px;top:62px;width:737px;height:2px;background:linear-gradient(90deg,#8b8b8b 0.5px,#878787 7.5px,#575757 21.5px,#515151 24.5px,#515151 29.5px,#393939 30.5px,#393939 45.5px,#646464 46.5px,#666666 52.5px,#5e5e5e 53.5px,#666666 56.5px,#646464 72.5px,#7d7d7d 78.5px,#838383 104.5px,#7e7e7e 106.5px,#848484 160.5px,#7f7f7f 208.5px,#838383 211.5px,#8a8a8a 213.5px,#838383 214.5px,#878787 215.5px,#848484 216.5px,#787878 218.5px,#818181 221.5px,#8a8a8a 222.5px,#8a8a8a 223.5px,#818181 225.5px,#717171 227.5px,#717171 228.5px,#5a5a5a 232.5px,#575757 239.5px,#393939 240.5px,#393939 257.5px,#616161 258.5px,#626262 261.5px,#757575 264.5px,#616161 266.5px,#5d5d5d 267.5px,#707070 271.5px,#757575 273.5px,#707070 413.5px,#737373 416.5px,#7b7b7b 418.5px,#939393 421.5px,#8c8c8c 422.5px,#7e7e7e 423.5px,#7f7f7f 424.5px,#878787 425.5px,#7f7f7f 426.5px,#7a7a7a 428.5px,#898989 430.5px,#8d8d8d 432.5px,#818181 434.5px,#828282 435.5px,#797979 437.5px,#5f5f5f 441.5px,#575757 443.5px,#575757 446.5px,#636363 447.5px,#636363 448.5px,#393939 449.5px,#393939 465.5px,#616161 466.5px,#5d5d5d 475.5px,#7f7f7f 481.5px,#838383 484.5px,#7f7f7f 530.5px,#848484 628.5px,#858585 633.5px,#8e8e8e 635.5px,#8a8a8a 636.5px,#919191 637.5px,#848484 640.5px,#7a7a7a 641.5px,#797979 642.5px,#808080 644.5px,#909090 646.5px,#8a8a8a 648.5px,#7c7c7c 649.5px,#757575 650.5px,#5b5b5b 655.5px,#575757 658.5px,#393939 659.5px,#3c3c3c 661.5px,#393939 677.5px,#616161 678.5px,#636363 682.5px,#6e6e6e 684.5px,#6e6e6e 685.5px,#7b7b7b 687.5px,#6f6f6f 688.5px,#717171 689.5px,#838383 692.5px,#878787 736.5px)"></i><i style="left:0px;top:64px;width:737px;height:2px;background:linear-gradient(90deg,#8a8a8a 0.5px,#8a8a8a 5.5px,#848484 8.5px,#545454 22.5px,#505050 29.5px,#393939 30.5px,#393939 45.5px,#646464 46.5px,#656565 52.5px,#5d5d5d 53.5px,#646464 56.5px,#626262 72.5px,#757575 78.5px,#7b7b7b 105.5px,#717171 106.5px,#757575 160.5px,#727272 208.5px,#767676 211.5px,#858585 213.5px,#7e7e7e 214.5px,#808080 216.5px,#757575 218.5px,#7e7e7e 221.5px,#868686 222.5px,#868686 223.5px,#595959 232.5px,#575757 239.5px,#393939 240.5px,#393939 257.5px,#606060 258.5px,#626262 261.5px,#757575 264.5px,#5f5f5f 266.5px,#5c5c5c 267.5px,#676767 272.5px,#646464 413.5px,#686868 416.5px,#737373 417.5px,#8d8d8d 421.5px,#888888 422.5px,#7a7a7a 423.5px,#7b7b7b 424.5px,#838383 425.5px,#7c7c7c 426.5px,#777777 428.5px,#858585 430.5px,#898989 432.5px,#7e7e7e 434.5px,#7f7f7f 435.5px,#727272 438.5px,#5e5e5e 441.5px,#575757 443.5px,#575757 446.5px,#636363 447.5px,#636363 448.5px,#393939 449.5px,#393939 465.5px,#606060 466.5px,#606060 472.5px,#5b5b5b 473.5px,#5b5b5b 474.5px,#737373 481.5px,#737373 483.5px,#787878 484.5px,#757575 530.5px,#787878 628.5px,#7c7c7c 632.5px,#868686 634.5px,#8a8a8a 635.5px,#858585 636.5px,#8c8c8c 637.5px,#808080 640.5px,#777777 641.5px,#767676 642.5px,#7c7c7c 644.5px,#8b8b8b 646.5px,#898989 648.5px,#747474 650.5px,#646464 653.5px,#575757 656.5px,#575757 658.5px,#393939 659.5px,#393939 660.5px,#505050 661.5px,#505050 664.5px,#3c3c3c 665.5px,#393939 666.5px,#393939 677.5px,#606060 678.5px,#636363 682.5px,#6f6f6f 684.5px,#6e6e6e 685.5px,#787878 687.5px,#6b6b6b 688.5px,#7c7c7c 692.5px,#7f7f7f 736.5px)"></i><i style="left:0px;top:66px;width:737px;height:2px;background:linear-gradient(90deg,#878787 0.5px,#838383 7.5px,#565656 21.5px,#505050 29.5px,#393939 30.5px,#393939 45.5px,#646464 46.5px,#656565 52.5px,#5c5c5c 53.5px,#626262 56.5px,#616161 73.5px,#6a6a6a 78.5px,#6e6e6e 105.5px,#656565 106.5px,#656565 208.5px,#686868 210.5px,#7c7c7c 212.5px,#808080 213.5px,#7a7a7a 214.5px,#7c7c7c 216.5px,#727272 218.5px,#7a7a7a 221.5px,#828282 222.5px,#828282 223.5px,#595959 232.5px,#565656 239.5px,#393939 240.5px,#393939 257.5px,#606060 258.5px,#636363 261.5px,#737373 263.5px,#757575 264.5px,#666666 265.5px,#5a5a5a 267.5px,#5e5e5e 272.5px,#5c5c5c 413.5px,#5d5d5d 415.5px,#707070 417.5px,#888888 421.5px,#838383 422.5px,#767676 423.5px,#787878 424.5px,#7f7f7f 425.5px,#747474 428.5px,#818181 430.5px,#858585 432.5px,#6f6f6f 438.5px,#5d5d5d 441.5px,#575757 443.5px,#565656 446.5px,#636363 447.5px,#636363 448.5px,#393939 449.5px,#393939 465.5px,#606060 466.5px,#606060 472.5px,#5a5a5a 473.5px,#5a5a5a 474.5px,#636363 477.5px,#666666 483.5px,#6a6a6a 484.5px,#6a6a6a 628.5px,#6d6d6d 630.5px,#818181 634.5px,#858585 635.5px,#808080 636.5px,#878787 637.5px,#737373 642.5px,#787878 644.5px,#848484 646.5px,#868686 648.5px,#737373 650.5px,#676767 652.5px,#575757 656.5px,#565656 658.5px,#393939 659.5px,#393939 660.5px,#545454 661.5px,#545454 664.5px,#3c3c3c 665.5px,#393939 666.5px,#393939 677.5px,#606060 678.5px,#616161 681.5px,#6f6f6f 684.5px,#6d6d6d 685.5px,#767676 687.5px,#666666 688.5px,#717171 692.5px,#727272 736.5px)"></i><i style="left:0px;top:68px;width:737px;height:2px;background:linear-gradient(90deg,#7f7f7f 0.5px,#7a7a7a 8.5px,#535353 22.5px,#505050 29.5px,#393939 30.5px,#393939 45.5px,#646464 46.5px,#656565 52.5px,#5c5c5c 53.5px,#616161 57.5px,#5e5e5e 73.5px,#626262 105.5px,#5b5b5b 106.5px,#5b5b5b 208.5px,#5c5c5c 209.5px,#777777 212.5px,#7b7b7b 213.5px,#767676 214.5px,#787878 216.5px,#6f6f6f 218.5px,#7e7e7e 223.5px,#595959 232.5px,#565656 239.5px,#393939 240.5px,#393939 257.5px,#606060 258.5px,#646464 261.5px,#747474 263.5px,#747474 264.5px,#646464 265.5px,#595959 267.5px,#575757 275.5px,#575757 413.5px,#585858 415.5px,#6c6c6c 417.5px,#838383 421.5px,#7f7f7f 422.5px,#737373 423.5px,#7b7b7b 425.5px,#717171 428.5px,#7d7d7d 430.5px,#808080 432.5px,#6d6d6d 438.5px,#575757 443.5px,#565656 446.5px,#636363 447.5px,#636363 448.5px,#393939 449.5px,#393939 465.5px,#606060 466.5px,#606060 472.5px,#595959 473.5px,#616161 477.5px,#5d5d5d 478.5px,#5c5c5c 483.5px,#5f5f5f 628.5px,#646464 630.5px,#6e6e6e 631.5px,#7d7d7d 634.5px,#808080 635.5px,#7c7c7c 636.5px,#828282 637.5px,#707070 642.5px,#828282 648.5px,#626262 653.5px,#575757 656.5px,#565656 658.5px,#393939 659.5px,#393939 660.5px,#545454 661.5px,#545454 664.5px,#3c3c3c 665.5px,#393939 666.5px,#393939 677.5px,#606060 678.5px,#616161 681.5px,#707070 684.5px,#6d6d6d 685.5px,#737373 687.5px,#636363 688.5px,#606060 689.5px,#646464 692.5px,#656565 736.5px)"></i><i style="left:0px;top:70px;width:737px;height:2px;background:linear-gradient(90deg,#737373 0.5px,#717171 7.5px,#545454 21.5px,#505050 29.5px,#393939 30.5px,#393939 45.5px,#646464 46.5px,#656565 52.5px,#5b5b5b 53.5px,#5f5f5f 56.5px,#5f5f5f 70.5px,#585858 80.5px,#565656 207.5px,#575757 209.5px,#737373 212.5px,#777777 213.5px,#727272 214.5px,#747474 216.5px,#6b6b6b 218.5px,#797979 223.5px,#595959 232.5px,#565656 239.5px,#393939 240.5px,#393939 257.5px,#606060 258.5px,#656565 261.5px,#757575 263.5px,#737373 264.5px,#626262 265.5px,#5b5b5b 266.5px,#545454 275.5px,#545454 413.5px,#575757 415.5px,#696969 417.5px,#7f7f7f 421.5px,#7a7a7a 422.5px,#6f6f6f 423.5px,#777777 425.5px,#6e6e6e 428.5px,#797979 430.5px,#7c7c7c 432.5px,#6b6b6b 438.5px,#575757 443.5px,#565656 446.5px,#636363 447.5px,#636363 448.5px,#393939 449.5px,#393939 465.5px,#606060 466.5px,#606060 472.5px,#595959 473.5px,#5f5f5f 477.5px,#585858 479.5px,#565656 483.5px,#575757 628.5px,#585858 629.5px,#6b6b6b 631.5px,#787878 634.5px,#7b7b7b 635.5px,#787878 636.5px,#7d7d7d 637.5px,#6d6d6d 642.5px,#7c7c7c 648.5px,#595959 655.5px,#565656 658.5px,#393939 659.5px,#393939 660.5px,#555555 661.5px,#555555 664.5px,#3d3d3d 665.5px,#393939 666.5px,#393939 677.5px,#606060 678.5px,#616161 681.5px,#707070 684.5px,#6c6c6c 685.5px,#727272 686.5px,#727272 687.5px,#616161 688.5px,#5b5b5b 689.5px,#5a5a5a 736.5px)"></i><i style="left:0px;top:72px;width:737px;height:2px;background:linear-gradient(90deg,#676767 0.5px,#646464 8.5px,#525252 22.5px,#505050 29.5px,#393939 30.5px,#393939 45.5px,#646464 46.5px,#656565 52.5px,#5a5a5a 53.5px,#5e5e5e 56.5px,#5e5e5e 70.5px,#535353 80.5px,#525252 207.5px,#555555 209.5px,#6f6f6f 212.5px,#737373 213.5px,#6e6e6e 214.5px,#707070 216.5px,#686868 218.5px,#757575 223.5px,#585858 232.5px,#565656 239.5px,#393939 240.5px,#393939 257.5px,#606060 258.5px,#616161 260.5px,#767676 263.5px,#727272 264.5px,#606060 265.5px,#5a5a5a 266.5px,#525252 275.5px,#525252 413.5px,#555555 415.5px,#676767 417.5px,#7a7a7a 421.5px,#6c6c6c 423.5px,#737373 425.5px,#6a6a6a 428.5px,#757575 430.5px,#777777 432.5px,#565656 443.5px,#565656 446.5px,#636363 447.5px,#636363 448.5px,#393939 449.5px,#3a3a3a 465.5px,#646464 466.5px,#6a6a6a 468.5px,#606060 472.5px,#585858 473.5px,#5d5d5d 477.5px,#565656 479.5px,#535353 483.5px,#535353 627.5px,#565656 629.5px,#686868 631.5px,#777777 635.5px,#747474 636.5px,#787878 637.5px,#777777 638.5px,#6a6a6a 642.5px,#767676 648.5px,#6e6e6e 651.5px,#595959 655.5px,#565656 658.5px,#393939 659.5px,#393939 660.5px,#565656 661.5px,#565656 664.5px,#3d3d3d 665.5px,#393939 666.5px,#393939 677.5px,#606060 678.5px,#616161 681.5px,#717171 684.5px,#6c6c6c 685.5px,#707070 687.5px,#5f5f5f 688.5px,#585858 689.5px,#545454 694.5px,#545454 736.5px)"></i><i style="left:0px;top:74px;width:737px;height:2px;background:linear-gradient(90deg,#5c5c5c 0.5px,#505050 29.5px,#393939 30.5px,#393939 45.5px,#646464 46.5px,#646464 52.5px,#595959 53.5px,#5d5d5d 56.5px,#5d5d5d 70.5px,#515151 79.5px,#515151 207.5px,#545454 209.5px,#6c6c6c 212.5px,#6f6f6f 213.5px,#6b6b6b 214.5px,#6d6d6d 216.5px,#666666 218.5px,#717171 223.5px,#585858 232.5px,#565656 239.5px,#393939 240.5px,#393939 257.5px,#606060 258.5px,#626262 260.5px,#767676 263.5px,#707070 264.5px,#5e5e5e 265.5px,#595959 266.5px,#515151 275.5px,#515151 414.5px,#646464 417.5px,#767676 421.5px,#696969 423.5px,#6f6f6f 425.5px,#686868 428.5px,#717171 430.5px,#737373 432.5px,#565656 443.5px,#565656 446.5px,#626262 447.5px,#626262 448.5px,#393939 449.5px,#3a3a3a 465.5px,#636363 466.5px,#6b6b6b 468.5px,#606060 472.5px,#585858 473.5px,#5d5d5d 476.5px,#555555 479.5px,#515151 483.5px,#515151 627.5px,#555555 629.5px,#656565 631.5px,#707070 634.5px,#707070 636.5px,#747474 637.5px,#676767 642.5px,#707070 646.5px,#6e6e6e 651.5px,#595959 655.5px,#565656 658.5px,#393939 659.5px,#393939 660.5px,#565656 661.5px,#565656 664.5px,#3d3d3d 665.5px,#393939 666.5px,#393939 677.5px,#606060 678.5px,#616161 681.5px,#717171 684.5px,#6b6b6b 685.5px,#6f6f6f 687.5px,#5e5e5e 688.5px,#565656 689.5px,#525252 693.5px,#515151 736.5px)"></i><i style="left:0px;top:76px;width:737px;height:2px;background:linear-gradient(90deg,#535353 0.5px,#505050 29.5px,#393939 30.5px,#393939 45.5px,#646464 46.5px,#646464 52.5px,#585858 53.5px,#5b5b5b 70.5px,#505050 79.5px,#505050 207.5px,#545454 209.5px,#6b6b6b 213.5px,#696969 216.5px,#636363 218.5px,#6e6e6e 223.5px,#565656 233.5px,#585858 239.5px,#3a3a3a 240.5px,#393939 257.5px,#606060 258.5px,#626262 260.5px,#737373 262.5px,#767676 263.5px,#6e6e6e 264.5px,#5c5c5c 265.5px,#585858 266.5px,#505050 275.5px,#505050 414.5px,#626262 417.5px,#727272 421.5px,#666666 423.5px,#6c6c6c 425.5px,#656565 428.5px,#6d6d6d 430.5px,#6f6f6f 432.5px,#565656 443.5px,#565656 446.5px,#626262 447.5px,#626262 448.5px,#393939 449.5px,#3a3a3a 465.5px,#636363 466.5px,#6b6b6b 468.5px,#606060 472.5px,#575757 473.5px,#5c5c5c 476.5px,#545454 479.5px,#505050 484.5px,#505050 627.5px,#505050 628.5px,#626262 631.5px,#6c6c6c 634.5px,#707070 637.5px,#646464 642.5px,#6c6c6c 646.5px,#696969 649.5px,#6b6b6b 651.5px,#595959 655.5px,#565656 658.5px,#393939 659.5px,#393939 660.5px,#575757 661.5px,#575757 664.5px,#3d3d3d 665.5px,#393939 666.5px,#393939 677.5px,#606060 678.5px,#626262 681.5px,#727272 684.5px,#6a6a6a 685.5px,#6d6d6d 687.5px,#5d5d5d 688.5px,#555555 689.5px,#505050 693.5px,#505050 736.5px)"></i><i style="left:0px;top:78px;width:737px;height:2px;background:linear-gradient(90deg,#505050 0.5px,#505050 29.5px,#393939 30.5px,#393939 45.5px,#646464 46.5px,#646464 52.5px,#575757 53.5px,#5a5a5a 70.5px,#4f4f4f 79.5px,#4f4f4f 207.5px,#535353 209.5px,#686868 213.5px,#616161 218.5px,#6a6a6a 223.5px,#565656 233.5px,#5a5a5a 239.5px,#3b3b3b 240.5px,#393939 257.5px,#606060 258.5px,#636363 260.5px,#747474 262.5px,#767676 263.5px,#6d6d6d 264.5px,#5b5b5b 265.5px,#575757 266.5px,#4f4f4f 275.5px,#4f4f4f 414.5px,#5f5f5f 417.5px,#6e6e6e 421.5px,#646464 423.5px,#686868 425.5px,#626262 428.5px,#6c6c6c 432.5px,#565656 443.5px,#565656 446.5px,#626262 447.5px,#626262 448.5px,#393939 449.5px,#3a3a3a 465.5px,#636363 466.5px,#6b6b6b 468.5px,#606060 472.5px,#565656 473.5px,#5b5b5b 476.5px,#535353 479.5px,#4f4f4f 484.5px,#4f4f4f 627.5px,#4f4f4f 628.5px,#606060 631.5px,#696969 634.5px,#6c6c6c 637.5px,#626262 642.5px,#696969 646.5px,#656565 649.5px,#676767 652.5px,#575757 656.5px,#565656 658.5px,#393939 659.5px,#393939 660.5px,#585858 661.5px,#585858 664.5px,#3d3d3d 665.5px,#393939 666.5px,#393939 677.5px,#606060 678.5px,#626262 681.5px,#727272 684.5px,#696969 685.5px,#6c6c6c 687.5px,#5c5c5c 688.5px,#545454 689.5px,#4f4f4f 693.5px,#4f4f4f 736.5px)"></i><i style="left:0px;top:80px;width:737px;height:2px;background:linear-gradient(90deg,#505050 0.5px,#505050 29.5px,#393939 30.5px,#393939 45.5px,#646464 46.5px,#646464 52.5px,#575757 53.5px,#595959 70.5px,#4e4e4e 79.5px,#4e4e4e 207.5px,#525252 209.5px,#656565 213.5px,#5f5f5f 218.5px,#676767 223.5px,#565656 233.5px,#5b5b5b 239.5px,#3b3b3b 240.5px,#3a3a3a 241.5px,#393939 257.5px,#606060 258.5px,#646464 260.5px,#767676 262.5px,#757575 263.5px,#6b6b6b 264.5px,#595959 265.5px,#565656 266.5px,#4e4e4e 275.5px,#4e4e4e 414.5px,#5d5d5d 417.5px,#6a6a6a 421.5px,#616161 423.5px,#656565 425.5px,#606060 428.5px,#696969 432.5px,#565656 443.5px,#565656 446.5px,#626262 447.5px,#626262 448.5px,#393939 449.5px,#3a3a3a 465.5px,#636363 466.5px,#6c6c6c 468.5px,#606060 472.5px,#565656 473.5px,#5a5a5a 476.5px,#525252 479.5px,#4e4e4e 484.5px,#4e4e4e 628.5px,#5e5e5e 631.5px,#696969 637.5px,#606060 642.5px,#666666 646.5px,#626262 650.5px,#646464 653.5px,#575757 656.5px,#565656 658.5px,#393939 659.5px,#393939 660.5px,#595959 661.5px,#595959 664.5px,#3e3e3e 665.5px,#393939 666.5px,#393939 677.5px,#606060 678.5px,#626262 681.5px,#727272 684.5px,#696969 685.5px,#6b6b6b 687.5px,#5b5b5b 688.5px,#535353 689.5px,#4f4f4f 693.5px,#4e4e4e 736.5px)"></i><i style="left:0px;top:82px;width:737px;height:2px;background:linear-gradient(90deg,#505050 0.5px,#505050 29.5px,#393939 30.5px,#393939 45.5px,#646464 46.5px,#646464 52.5px,#565656 53.5px,#585858 70.5px,#4e4e4e 79.5px,#4e4e4e 207.5px,#4e4e4e 208.5px,#636363 213.5px,#5d5d5d 218.5px,#646464 223.5px,#565656 233.5px,#5c5c5c 239.5px,#3c3c3c 240.5px,#3a3a3a 241.5px,#393939 257.5px,#606060 258.5px,#656565 260.5px,#777777 262.5px,#747474 263.5px,#696969 264.5px,#585858 265.5px,#4e4e4e 275.5px,#4e4e4e 414.5px,#676767 421.5px,#5f5f5f 423.5px,#636363 425.5px,#5e5e5e 428.5px,#666666 432.5px,#565656 443.5px,#565656 446.5px,#626262 447.5px,#626262 448.5px,#393939 449.5px,#3a3a3a 465.5px,#636363 466.5px,#6c6c6c 468.5px,#606060 472.5px,#555555 473.5px,#4e4e4e 484.5px,#4e4e4e 628.5px,#5c5c5c 631.5px,#656565 635.5px,#656565 638.5px,#5e5e5e 642.5px,#636363 646.5px,#5f5f5f 650.5px,#626262 653.5px,#565656 658.5px,#393939 659.5px,#393939 660.5px,#5a5a5a 661.5px,#5a5a5a 664.5px,#3e3e3e 665.5px,#393939 666.5px,#393939 677.5px,#606060 678.5px,#626262 681.5px,#737373 684.5px,#686868 685.5px,#6a6a6a 687.5px,#5a5a5a 688.5px,#535353 689.5px,#4e4e4e 693.5px,#4e4e4e 736.5px)"></i><i style="left:0px;top:84px;width:737px;height:2px;background:linear-gradient(90deg,#505050 0.5px,#505050 29.5px,#393939 30.5px,#393939 45.5px,#646464 46.5px,#646464 52.5px,#555555 53.5px,#575757 70.5px,#4e4e4e 80.5px,#4e4e4e 207.5px,#606060 213.5px,#5b5b5b 218.5px,#626262 223.5px,#565656 233.5px,#5c5c5c 239.5px,#3c3c3c 240.5px,#3a3a3a 241.5px,#393939 257.5px,#606060 258.5px,#666666 260.5px,#777777 262.5px,#727272 263.5px,#5f5f5f 264.5px,#575757 265.5px,#4e4e4e 275.5px,#4e4e4e 413.5px,#656565 421.5px,#5d5d5d 423.5px,#616161 425.5px,#5c5c5c 428.5px,#636363 432.5px,#565656 444.5px,#565656 446.5px,#626262 447.5px,#626262 448.5px,#393939 449.5px,#3a3a3a 465.5px,#636363 466.5px,#6c6c6c 468.5px,#6c6c6c 469.5px,#626262 471.5px,#575757 472.5px,#555555 473.5px,#4e4e4e 484.5px,#4e4e4e 628.5px,#5b5b5b 631.5px,#636363 635.5px,#636363 638.5px,#5c5c5c 642.5px,#616161 646.5px,#5d5d5d 650.5px,#616161 654.5px,#575757 658.5px,#393939 659.5px,#393939 660.5px,#5b5b5b 661.5px,#5b5b5b 664.5px,#3e3e3e 665.5px,#393939 666.5px,#393939 677.5px,#606060 678.5px,#626262 681.5px,#737373 684.5px,#676767 685.5px,#696969 687.5px,#5a5a5a 688.5px,#525252 689.5px,#4f4f4f 692.5px,#4e4e4e 736.5px)"></i><i style="left:0px;top:86px;width:737px;height:2px;background:linear-gradient(90deg,#505050 0.5px,#505050 29.5px,#393939 30.5px,#393939 45.5px,#646464 46.5px,#646464 52.5px,#555555 53.5px,#565656 70.5px,#4e4e4e 80.5px,#4e4e4e 207.5px,#5e5e5e 213.5px,#5a5a5a 218.5px,#606060 223.5px,#565656 233.5px,#575757 236.5px,#5d5d5d 239.5px,#3d3d3d 240.5px,#3a3a3a 241.5px,#393939 257.5px,#606060 258.5px,#626262 259.5px,#787878 262.5px,#717171 263.5px,#545454 264.5px,#4e4e4e 275.5px,#4e4e4e 413.5px,#626262 421.5px,#5c5c5c 423.5px,#5f5f5f 425.5px,#5b5b5b 428.5px,#616161 432.5px,#565656 446.5px,#626262 447.5px,#626262 448.5px,#393939 449.5px,#3a3a3a 465.5px,#636363 466.5px,#6d6d6d 468.5px,#6d6d6d 469.5px,#636363 471.5px,#4e4e4e 472.5px,#545454 473.5px,#4e4e4e 484.5px,#4e4e4e 627.5px,#606060 635.5px,#5b5b5b 642.5px,#5f5f5f 646.5px,#5c5c5c 650.5px,#5f5f5f 655.5px,#575757 658.5px,#393939 659.5px,#393939 660.5px,#5c5c5c 661.5px,#5c5c5c 664.5px,#3e3e3e 665.5px,#393939 666.5px,#393939 677.5px,#606060 678.5px,#636363 681.5px,#737373 684.5px,#666666 685.5px,#686868 687.5px,#595959 688.5px,#525252 689.5px,#4f4f4f 692.5px,#4e4e4e 736.5px)"></i><i style="left:0px;top:88px;width:737px;height:2px;background:linear-gradient(90deg,#505050 0.5px,#505050 29.5px,#393939 30.5px,#393939 45.5px,#646464 46.5px,#646464 52.5px,#545454 53.5px,#555555 70.5px,#4e4e4e 80.5px,#4e4e4e 207.5px,#5d5d5d 213.5px,#585858 218.5px,#5e5e5e 223.5px,#565656 234.5px,#5e5e5e 239.5px,#3e3e3e 240.5px,#3b3b3b 241.5px,#393939 257.5px,#606060 258.5px,#626262 259.5px,#747474 261.5px,#777777 262.5px,#6f6f6f 263.5px,#535353 264.5px,#4e4e4e 275.5px,#4e4e4e 413.5px,#606060 421.5px,#5a5a5a 423.5px,#5d5d5d 425.5px,#595959 428.5px,#5f5f5f 432.5px,#565656 446.5px,#626262 447.5px,#626262 448.5px,#393939 449.5px,#3a3a3a 465.5px,#636363 466.5px,#6d6d6d 468.5px,#6d6d6d 469.5px,#636363 471.5px,#4e4e4e 472.5px,#545454 473.5px,#4e4e4e 484.5px,#4e4e4e 627.5px,#5e5e5e 635.5px,#595959 642.5px,#5e5e5e 655.5px,#595959 658.5px,#3a3a3a 659.5px,#393939 660.5px,#5c5c5c 661.5px,#5c5c5c 664.5px,#3f3f3f 665.5px,#393939 666.5px,#393939 677.5px,#606060 678.5px,#636363 681.5px,#707070 683.5px,#656565 685.5px,#676767 687.5px,#585858 688.5px,#525252 689.5px,#4e4e4e 692.5px,#4e4e4e 736.5px)"></i><i style="left:0px;top:90px;width:737px;height:2px;background:linear-gradient(90deg,#505050 0.5px,#505050 29.5px,#393939 30.5px,#393939 45.5px,#646464 46.5px,#646464 52.5px,#545454 53.5px,#545454 70.5px,#4d4d4d 80.5px,#4d4d4d 207.5px,#5b5b5b 213.5px,#575757 218.5px,#5c5c5c 223.5px,#565656 235.5px,#5e5e5e 239.5px,#3f3f3f 240.5px,#3b3b3b 241.5px,#393939 257.5px,#606060 258.5px,#636363 259.5px,#767676 261.5px,#777777 262.5px,#6d6d6d 263.5px,#525252 264.5px,#4d4d4d 275.5px,#4d4d4d 413.5px,#5e5e5e 421.5px,#595959 423.5px,#5d5d5d 432.5px,#565656 446.5px,#626262 447.5px,#626262 448.5px,#393939 449.5px,#3a3a3a 465.5px,#626262 466.5px,#6e6e6e 469.5px,#636363 471.5px,#4e4e4e 472.5px,#535353 473.5px,#4d4d4d 484.5px,#4d4d4d 627.5px,#5d5d5d 635.5px,#585858 642.5px,#5d5d5d 656.5px,#5b5b5b 658.5px,#3b3b3b 659.5px,#3a3a3a 660.5px,#5d5d5d 661.5px,#5d5d5d 664.5px,#3f3f3f 665.5px,#393939 666.5px,#393939 677.5px,#606060 678.5px,#636363 681.5px,#707070 683.5px,#616161 684.5px,#666666 687.5px,#585858 688.5px,#515151 689.5px,#4e4e4e 692.5px,#4d4d4d 736.5px)"></i><i style="left:0px;top:92px;width:737px;height:2px;background:linear-gradient(90deg,#505050 0.5px,#505050 29.5px,#393939 30.5px,#393939 45.5px,#646464 46.5px,#646464 52.5px,#535353 53.5px,#545454 70.5px,#4d4d4d 80.5px,#4d4d4d 207.5px,#5a5a5a 213.5px,#565656 235.5px,#5f5f5f 239.5px,#404040 240.5px,#3b3b3b 241.5px,#393939 257.5px,#616161 258.5px,#646464 259.5px,#777777 261.5px,#767676 262.5px,#515151 264.5px,#4d4d4d 275.5px,#4d4d4d 413.5px,#5c5c5c 421.5px,#585858 423.5px,#5b5b5b 432.5px,#565656 446.5px,#626262 447.5px,#626262 448.5px,#393939 449.5px,#3a3a3a 465.5px,#626262 466.5px,#6f6f6f 469.5px,#6a6a6a 470.5px,#4e4e4e 472.5px,#535353 473.5px,#4d4d4d 484.5px,#4d4d4d 627.5px,#5b5b5b 635.5px,#575757 642.5px,#595959 654.5px,#5d5d5d 657.5px,#5c5c5c 658.5px,#3d3d3d 659.5px,#3b3b3b 660.5px,#5e5e5e 661.5px,#5e5e5e 664.5px,#3f3f3f 665.5px,#393939 666.5px,#393939 677.5px,#606060 678.5px,#646464 681.5px,#717171 683.5px,#616161 684.5px,#656565 687.5px,#575757 688.5px,#515151 689.5px,#4e4e4e 692.5px,#4d4d4d 736.5px)"></i><i style="left:0px;top:94px;width:737px;height:2px;background:linear-gradient(90deg,#505050 0.5px,#505050 29.5px,#393939 30.5px,#393939 45.5px,#646464 46.5px,#646464 52.5px,#535353 53.5px,#535353 70.5px,#4d4d4d 80.5px,#4d4d4d 207.5px,#585858 213.5px,#565656 236.5px,#5f5f5f 239.5px,#404040 240.5px,#3a3a3a 242.5px,#393939 257.5px,#616161 258.5px,#656565 259.5px,#787878 261.5px,#757575 262.5px,#585858 263.5px,#505050 264.5px,#4d4d4d 275.5px,#4d4d4d 413.5px,#5b5b5b 421.5px,#565656 423.5px,#5a5a5a 432.5px,#565656 446.5px,#626262 447.5px,#626262 448.5px,#393939 449.5px,#3a3a3a 465.5px,#626262 466.5px,#6f6f6f 469.5px,#6b6b6b 470.5px,#525252 471.5px,#4e4e4e 472.5px,#525252 473.5px,#4d4d4d 484.5px,#4d4d4d 627.5px,#5a5a5a 635.5px,#565656 642.5px,#595959 651.5px,#565656 658.5px,#393939 659.5px,#393939 660.5px,#5f5f5f 661.5px,#5f5f5f 664.5px,#3f3f3f 665.5px,#3a3a3a 666.5px,#393939 677.5px,#606060 678.5px,#646464 681.5px,#727272 683.5px,#616161 684.5px,#646464 687.5px,#575757 688.5px,#515151 689.5px,#4f4f4f 691.5px,#4d4d4d 736.5px)"></i><i style="left:0px;top:96px;width:737px;height:2px;background:linear-gradient(90deg,#505050 0.5px,#505050 29.5px,#393939 30.5px,#393939 45.5px,#646464 46.5px,#646464 52.5px,#525252 53.5px,#525252 70.5px,#4d4d4d 80.5px,#4d4d4d 207.5px,#575757 213.5px,#565656 236.5px,#5f5f5f 239.5px,#414141 240.5px,#3a3a3a 242.5px,#393939 257.5px,#616161 258.5px,#797979 261.5px,#747474 262.5px,#575757 263.5px,#505050 264.5px,#4d4d4d 275.5px,#4d4d4d 413.5px,#595959 421.5px,#565656 423.5px,#565656 446.5px,#626262 447.5px,#626262 448.5px,#393939 449.5px,#393939 465.5px,#626262 466.5px,#707070 469.5px,#6b6b6b 470.5px,#525252 471.5px,#4f4f4f 472.5px,#525252 473.5px,#4d4d4d 484.5px,#4d4d4d 627.5px,#585858 635.5px,#555555 642.5px,#585858 653.5px,#565656 658.5px,#393939 659.5px,#393939 660.5px,#606060 661.5px,#606060 664.5px,#404040 665.5px,#3a3a3a 666.5px,#393939 677.5px,#606060 678.5px,#616161 680.5px,#6b6b6b 682.5px,#606060 683.5px,#636363 687.5px,#565656 688.5px,#505050 689.5px,#4e4e4e 692.5px,#4d4d4d 736.5px)"></i><i style="left:0px;top:98px;width:737px;height:2px;background:linear-gradient(90deg,#505050 0.5px,#505050 29.5px,#393939 30.5px,#393939 45.5px,#646464 46.5px,#646464 52.5px,#525252 53.5px,#525252 70.5px,#4d4d4d 80.5px,#4d4d4d 207.5px,#565656 213.5px,#565656 236.5px,#5f5f5f 239.5px,#424242 240.5px,#3a3a3a 242.5px,#393939 256.5px,#393939 257.5px,#616161 258.5px,#797979 261.5px,#737373 262.5px,#565656 263.5px,#4f4f4f 264.5px,#4d4d4d 274.5px,#4d4d4d 413.5px,#585858 421.5px,#555555 423.5px,#565656 446.5px,#626262 447.5px,#626262 448.5px,#393939 449.5px,#393939 465.5px,#626262 466.5px,#717171 469.5px,#6c6c6c 470.5px,#535353 471.5px,#4f4f4f 472.5px,#4d4d4d 627.5px,#575757 635.5px,#545454 642.5px,#585858 653.5px,#565656 658.5px,#393939 659.5px,#393939 660.5px,#616161 661.5px,#616161 664.5px,#404040 665.5px,#3a3a3a 666.5px,#393939 677.5px,#606060 678.5px,#616161 680.5px,#6c6c6c 682.5px,#606060 683.5px,#626262 687.5px,#565656 688.5px,#505050 689.5px,#4f4f4f 691.5px,#4d4d4d 736.5px)"></i><i style="left:0px;top:100px;width:737px;height:2px;background:linear-gradient(90deg,#505050 0.5px,#505050 29.5px,#393939 30.5px,#393939 45.5px,#646464 46.5px,#646464 52.5px,#515151 53.5px,#4d4d4d 80.5px,#4d4d4d 207.5px,#555555 213.5px,#565656 236.5px,#5f5f5f 239.5px,#434343 240.5px,#3b3b3b 242.5px,#393939 256.5px,#393939 257.5px,#626262 258.5px,#797979 261.5px,#606060 262.5px,#4f4f4f 264.5px,#4d4d4d 413.5px,#575757 421.5px,#565656 446.5px,#626262 447.5px,#626262 448.5px,#393939 449.5px,#393939 465.5px,#626262 466.5px,#717171 469.5px,#5a5a5a 470.5px,#4f4f4f 472.5px,#4d4d4d 483.5px,#4d4d4d 627.5px,#565656 635.5px,#575757 654.5px,#565656 658.5px,#393939 659.5px,#393939 660.5px,#626262 661.5px,#626262 664.5px,#404040 665.5px,#3a3a3a 666.5px,#393939 677.5px,#606060 678.5px,#626262 680.5px,#6d6d6d 682.5px,#616161 683.5px,#616161 687.5px,#555555 688.5px,#4f4f4f 690.5px,#4d4d4d 736.5px)"></i><i style="left:0px;top:102px;width:737px;height:2px;background:linear-gradient(90deg,#505050 0.5px,#505050 29.5px,#3a3a3a 30.5px,#393939 45.5px,#646464 46.5px,#646464 52.5px,#515151 53.5px,#4d4d4d 80.5px,#4d4d4d 207.5px,#545454 213.5px,#565656 236.5px,#5f5f5f 239.5px,#444444 240.5px,#3b3b3b 242.5px,#393939 256.5px,#393939 257.5px,#626262 258.5px,#757575 260.5px,#797979 261.5px,#5e5e5e 262.5px,#4f4f4f 264.5px,#4d4d4d 413.5px,#565656 421.5px,#565656 446.5px,#626262 447.5px,#626262 448.5px,#393939 449.5px,#393939 465.5px,#626262 466.5px,#727272 469.5px,#5b5b5b 470.5px,#4f4f4f 472.5px,#4d4d4d 483.5px,#4d4d4d 627.5px,#555555 635.5px,#575757 654.5px,#565656 658.5px,#393939 659.5px,#393939 660.5px,#646464 661.5px,#646464 664.5px,#414141 665.5px,#3a3a3a 666.5px,#393939 677.5px,#606060 678.5px,#626262 680.5px,#6e6e6e 682.5px,#616161 683.5px,#606060 687.5px,#555555 688.5px,#4f4f4f 690.5px,#4d4d4d 736.5px)"></i><i style="left:0px;top:104px;width:737px;height:2px;background:linear-gradient(90deg,#505050 0.5px,#505050 29.5px,#3c3c3c 30.5px,#393939 45.5px,#646464 46.5px,#646464 52.5px,#505050 53.5px,#4d4d4d 79.5px,#4d4d4d 207.5px,#545454 213.5px,#565656 236.5px,#5f5f5f 239.5px,#444444 240.5px,#3b3b3b 242.5px,#393939 256.5px,#3a3a3a 257.5px,#636363 258.5px,#777777 260.5px,#797979 261.5px,#5d5d5d 262.5px,#535353 263.5px,#4e4e4e 264.5px,#4d4d4d 413.5px,#555555 421.5px,#565656 446.5px,#626262 447.5px,#626262 448.5px,#393939 449.5px,#393939 465.5px,#626262 466.5px,#727272 469.5px,#5c5c5c 470.5px,#4f4f4f 472.5px,#4d4d4d 483.5px,#4d4d4d 627.5px,#545454 635.5px,#575757 654.5px,#565656 658.5px,#393939 659.5px,#393939 660.5px,#656565 661.5px,#656565 664.5px,#414141 665.5px,#3a3a3a 666.5px,#393939 677.5px,#606060 678.5px,#676767 681.5px,#5c5c5c 682.5px,#626262 683.5px,#616161 684.5px,#515151 687.5px,#4f4f4f 690.5px,#4d4d4d 736.5px)"></i><i style="left:0px;top:106px;width:737px;height:2px;background:linear-gradient(90deg,#505050 0.5px,#505050 29.5px,#3f3f3f 30.5px,#3f3f3f 42.5px,#393939 43.5px,#393939 45.5px,#646464 46.5px,#646464 52.5px,#505050 53.5px,#4d4d4d 79.5px,#4d4d4d 207.5px,#535353 213.5px,#575757 237.5px,#5e5e5e 239.5px,#454545 240.5px,#3a3a3a 243.5px,#393939 256.5px,#3a3a3a 257.5px,#646464 258.5px,#787878 260.5px,#797979 261.5px,#5b5b5b 262.5px,#525252 263.5px,#4e4e4e 264.5px,#4d4d4d 413.5px,#545454 421.5px,#565656 446.5px,#626262 447.5px,#626262 448.5px,#393939 449.5px,#393939 465.5px,#626262 466.5px,#737373 469.5px,#5c5c5c 470.5px,#4f4f4f 472.5px,#4d4d4d 483.5px,#4d4d4d 627.5px,#535353 634.5px,#575757 654.5px,#565656 658.5px,#393939 659.5px,#393939 660.5px,#666666 661.5px,#666666 664.5px,#414141 665.5px,#3a3a3a 666.5px,#393939 677.5px,#606060 678.5px,#686868 681.5px,#5d5d5d 682.5px,#626262 683.5px,#606060 684.5px,#515151 687.5px,#4f4f4f 689.5px,#4d4d4d 736.5px)"></i><i style="left:0px;top:108px;width:737px;height:2px;background:linear-gradient(90deg,#505050 0.5px,#505050 29.5px,#424242 30.5px,#424242 42.5px,#393939 43.5px,#393939 45.5px,#646464 46.5px,#646464 52.5px,#505050 53.5px,#4d4d4d 79.5px,#4d4d4d 207.5px,#525252 213.5px,#565656 237.5px,#5e5e5e 239.5px,#454545 240.5px,#3a3a3a 243.5px,#393939 256.5px,#3a3a3a 257.5px,#656565 258.5px,#797979 260.5px,#787878 261.5px,#5a5a5a 262.5px,#4e4e4e 264.5px,#4d4d4d 413.5px,#535353 421.5px,#565656 446.5px,#626262 447.5px,#626262 448.5px,#393939 449.5px,#393939 465.5px,#616161 466.5px,#737373 469.5px,#5d5d5d 470.5px,#505050 472.5px,#4d4d4d 483.5px,#4d4d4d 627.5px,#575757 654.5px,#565656 658.5px,#393939 659.5px,#393939 660.5px,#676767 661.5px,#676767 664.5px,#414141 665.5px,#3a3a3a 666.5px,#393939 677.5px,#606060 678.5px,#686868 681.5px,#5e5e5e 682.5px,#626262 683.5px,#515151 687.5px,#4f4f4f 689.5px,#4d4d4d 736.5px)"></i><i style="left:0px;top:110px;width:737px;height:2px;background:linear-gradient(90deg,#505050 0.5px,#505050 29.5px,#454545 30.5px,#454545 42.5px,#393939 43.5px,#393939 45.5px,#646464 46.5px,#646464 52.5px,#505050 53.5px,#4d4d4d 79.5px,#4d4d4d 207.5px,#565656 237.5px,#5d5d5d 239.5px,#464646 240.5px,#3a3a3a 243.5px,#393939 256.5px,#3a3a3a 257.5px,#666666 258.5px,#7a7a7a 260.5px,#777777 261.5px,#595959 262.5px,#4e4e4e 264.5px,#4d4d4d 413.5px,#525252 421.5px,#565656 446.5px,#626262 447.5px,#626262 448.5px,#393939 449.5px,#393939 465.5px,#616161 466.5px,#737373 469.5px,#5e5e5e 470.5px,#505050 472.5px,#4d4d4d 483.5px,#4d4d4d 627.5px,#575757 654.5px,#565656 658.5px,#393939 659.5px,#393939 660.5px,#686868 661.5px,#686868 664.5px,#414141 665.5px,#3a3a3a 666.5px,#393939 677.5px,#606060 678.5px,#696969 681.5px,#5e5e5e 682.5px,#636363 683.5px,#535353 686.5px,#4f4f4f 688.5px,#4d4d4d 736.5px)"></i><i style="left:0px;top:112px;width:737px;height:2px;background:linear-gradient(90deg,#505050 0.5px,#505050 29.5px,#484848 30.5px,#484848 42.5px,#393939 43.5px,#393939 45.5px,#646464 46.5px,#646464 52.5px,#4f4f4f 53.5px,#4d4d4d 79.5px,#4d4d4d 207.5px,#565656 237.5px,#5d5d5d 239.5px,#464646 240.5px,#3a3a3a 243.5px,#393939 256.5px,#3b3b3b 257.5px,#676767 258.5px,#7b7b7b 260.5px,#636363 261.5px,#575757 262.5px,#4e4e4e 264.5px,#4d4d4d 414.5px,#565656 446.5px,#626262 447.5px,#626262 448.5px,#393939 449.5px,#393939 465.5px,#616161 466.5px,#6e6e6e 468.5px,#616161 469.5px,#505050 472.5px,#4d4d4d 483.5px,#4d4d4d 627.5px,#575757 654.5px,#565656 658.5px,#393939 659.5px,#393939 660.5px,#696969 661.5px,#696969 664.5px,#414141 665.5px,#3a3a3a 666.5px,#393939 677.5px,#606060 678.5px,#6a6a6a 681.5px,#5f5f5f 682.5px,#636363 683.5px,#535353 686.5px,#4f4f4f 688.5px,#4d4d4d 736.5px)"></i><i style="left:0px;top:114px;width:737px;height:2px;background:linear-gradient(90deg,#505050 0.5px,#4c4c4c 42.5px,#393939 43.5px,#393939 45.5px,#646464 46.5px,#646464 52.5px,#4f4f4f 53.5px,#4d4d4d 79.5px,#4d4d4d 207.5px,#565656 237.5px,#5c5c5c 239.5px,#464646 240.5px,#464646 241.5px,#3b3b3b 243.5px,#393939 255.5px,#3b3b3b 257.5px,#686868 258.5px,#7b7b7b 260.5px,#626262 261.5px,#565656 262.5px,#4e4e4e 264.5px,#4d4d4d 414.5px,#565656 446.5px,#626262 447.5px,#626262 448.5px,#393939 449.5px,#393939 465.5px,#616161 466.5px,#6e6e6e 468.5px,#626262 469.5px,#5f5f5f 470.5px,#505050 472.5px,#4d4d4d 483.5px,#4d4d4d 627.5px,#515151 647.5px,#565656 654.5px,#565656 658.5px,#393939 659.5px,#393939 660.5px,#6a6a6a 661.5px,#6a6a6a 664.5px,#414141 665.5px,#3a3a3a 666.5px,#393939 677.5px,#606060 678.5px,#646464 680.5px,#6b6b6b 681.5px,#606060 682.5px,#636363 683.5px,#525252 686.5px,#4f4f4f 688.5px,#4d4d4d 736.5px)"></i><i style="left:0px;top:116px;width:737px;height:2px;background:linear-gradient(90deg,#505050 0.5px,#4f4f4f 42.5px,#393939 43.5px,#393939 45.5px,#646464 46.5px,#646464 52.5px,#4f4f4f 53.5px,#4d4d4d 79.5px,#4d4d4d 208.5px,#565656 237.5px,#5c5c5c 239.5px,#454545 240.5px,#474747 241.5px,#3b3b3b 243.5px,#393939 255.5px,#3b3b3b 257.5px,#696969 258.5px,#767676 259.5px,#7c7c7c 260.5px,#616161 261.5px,#555555 262.5px,#4e4e4e 264.5px,#4d4d4d 414.5px,#565656 446.5px,#626262 447.5px,#626262 448.5px,#393939 449.5px,#393939 465.5px,#616161 466.5px,#6e6e6e 468.5px,#626262 469.5px,#606060 470.5px,#505050 472.5px,#4d4d4d 483.5px,#4d4d4d 627.5px,#565656 658.5px,#393939 659.5px,#393939 660.5px,#6b6b6b 661.5px,#6b6b6b 664.5px,#414141 665.5px,#3a3a3a 666.5px,#393939 677.5px,#606060 678.5px,#656565 680.5px,#6c6c6c 681.5px,#616161 682.5px,#636363 683.5px,#525252 686.5px,#4f4f4f 688.5px,#4d4d4d 736.5px)"></i><i style="left:0px;top:118px;width:737px;height:2px;background:linear-gradient(90deg,#505050 0.5px,#515151 42.5px,#393939 43.5px,#393939 45.5px,#646464 46.5px,#646464 52.5px,#4f4f4f 53.5px,#4d4d4d 79.5px,#4d4d4d 208.5px,#515151 225.5px,#565656 230.5px,#565656 237.5px,#5b5b5b 239.5px,#454545 240.5px,#474747 241.5px,#393939 244.5px,#393939 255.5px,#3c3c3c 257.5px,#6b6b6b 258.5px,#777777 259.5px,#7b7b7b 260.5px,#5f5f5f 261.5px,#545454 262.5px,#4d4d4d 264.5px,#4d4d4d 414.5px,#565656 446.5px,#626262 447.5px,#626262 448.5px,#393939 449.5px,#393939 465.5px,#616161 466.5px,#6e6e6e 468.5px,#636363 469.5px,#606060 470.5px,#515151 472.5px,#4e4e4e 482.5px,#4d4d4d 627.5px,#565656 658.5px,#393939 659.5px,#393939 660.5px,#6d6d6d 661.5px,#6d6d6d 664.5px,#424242 665.5px,#3a3a3a 666.5px,#393939 677.5px,#606060 678.5px,#656565 680.5px,#6d6d6d 681.5px,#616161 682.5px,#636363 683.5px,#515151 686.5px,#4e4e4e 688.5px,#4d4d4d 736.5px)"></i><i style="left:0px;top:120px;width:737px;height:2px;background:linear-gradient(90deg,#505050 0.5px,#535353 42.5px,#393939 43.5px,#393939 45.5px,#646464 46.5px,#646464 52.5px,#4f4f4f 53.5px,#4d4d4d 207.5px,#505050 224.5px,#5a5a5a 239.5px,#454545 240.5px,#484848 241.5px,#3a3a3a 244.5px,#393939 255.5px,#3d3d3d 257.5px,#6d6d6d 258.5px,#797979 259.5px,#7b7b7b 260.5px,#5e5e5e 261.5px,#535353 262.5px,#4d4d4d 264.5px,#505050 434.5px,#565656 440.5px,#565656 446.5px,#626262 447.5px,#626262 448.5px,#393939 449.5px,#393939 465.5px,#616161 466.5px,#6e6e6e 468.5px,#636363 469.5px,#616161 470.5px,#515151 472.5px,#4d4d4d 482.5px,#4d4d4d 627.5px,#505050 647.5px,#565656 658.5px,#393939 659.5px,#393939 660.5px,#6e6e6e 661.5px,#6e6e6e 664.5px,#424242 665.5px,#3a3a3a 666.5px,#393939 667.5px,#393939 677.5px,#606060 678.5px,#666666 680.5px,#6e6e6e 681.5px,#626262 682.5px,#636363 683.5px,#555555 685.5px,#4f4f4f 687.5px,#4d4d4d 736.5px)"></i><i style="left:0px;top:122px;width:737px;height:2px;background:linear-gradient(90deg,#505050 0.5px,#545454 42.5px,#393939 43.5px,#393939 45.5px,#646464 46.5px,#646464 52.5px,#4e4e4e 53.5px,#4d4d4d 208.5px,#4f4f4f 224.5px,#5a5a5a 239.5px,#444444 240.5px,#494949 241.5px,#3a3a3a 244.5px,#393939 255.5px,#3e3e3e 257.5px,#6e6e6e 258.5px,#7a7a7a 259.5px,#7b7b7b 260.5px,#5c5c5c 261.5px,#525252 262.5px,#4d4d4d 264.5px,#4f4f4f 434.5px,#565656 440.5px,#565656 446.5px,#626262 447.5px,#626262 448.5px,#393939 449.5px,#393939 465.5px,#616161 466.5px,#6e6e6e 468.5px,#636363 469.5px,#626262 470.5px,#515151 472.5px,#4e4e4e 481.5px,#4d4d4d 627.5px,#4f4f4f 647.5px,#565656 658.5px,#393939 659.5px,#393939 660.5px,#6f6f6f 661.5px,#6f6f6f 664.5px,#424242 665.5px,#3a3a3a 666.5px,#393939 667.5px,#393939 677.5px,#606060 678.5px,#676767 680.5px,#6e6e6e 681.5px,#636363 682.5px,#626262 683.5px,#555555 685.5px,#4f4f4f 687.5px,#4d4d4d 736.5px)"></i><i style="left:0px;top:124px;width:737px;height:2px;background:linear-gradient(90deg,#505050 0.5px,#505050 29.5px,#545454 30.5px,#545454 42.5px,#393939 43.5px,#393939 45.5px,#646464 46.5px,#646464 52.5px,#4e4e4e 53.5px,#4d4d4d 208.5px,#4f4f4f 224.5px,#595959 239.5px,#434343 240.5px,#494949 241.5px,#3a3a3a 244.5px,#393939 255.5px,#3e3e3e 257.5px,#707070 258.5px,#7b7b7b 259.5px,#7a7a7a 260.5px,#5b5b5b 261.5px,#515151 262.5px,#4d4d4d 264.5px,#4f4f4f 434.5px,#565656 440.5px,#565656 446.5px,#626262 447.5px,#626262 448.5px,#393939 449.5px,#393939 465.5px,#616161 466.5px,#6e6e6e 468.5px,#646464 469.5px,#626262 470.5px,#515151 472.5px,#4e4e4e 474.5px,#4d4d4d 627.5px,#4f4f4f 647.5px,#565656 658.5px,#393939 659.5px,#393939 660.5px,#707070 661.5px,#707070 664.5px,#424242 665.5px,#3a3a3a 666.5px,#393939 667.5px,#393939 677.5px,#606060 678.5px,#626262 679.5px,#6f6f6f 681.5px,#636363 682.5px,#626262 683.5px,#545454 685.5px,#4e4e4e 687.5px,#4d4d4d 736.5px)"></i><i style="left:0px;top:126px;width:737px;height:2px;background:linear-gradient(90deg,#505050 0.5px,#505050 29.5px,#545454 30.5px,#545454 42.5px,#393939 43.5px,#393939 45.5px,#646464 46.5px,#646464 52.5px,#4e4e4e 53.5px,#4d4d4d 208.5px,#4f4f4f 224.5px,#595959 239.5px,#434343 240.5px,#494949 241.5px,#3a3a3a 244.5px,#393939 255.5px,#404040 257.5px,#727272 258.5px,#7c7c7c 259.5px,#797979 260.5px,#595959 261.5px,#505050 262.5px,#4d4d4d 264.5px,#4f4f4f 434.5px,#565656 440.5px,#565656 446.5px,#626262 447.5px,#626262 448.5px,#393939 449.5px,#393939 465.5px,#616161 466.5px,#6e6e6e 468.5px,#646464 469.5px,#636363 470.5px,#525252 472.5px,#4e4e4e 475.5px,#4d4d4d 628.5px,#4f4f4f 647.5px,#565656 658.5px,#393939 659.5px,#393939 660.5px,#717171 661.5px,#717171 664.5px,#424242 665.5px,#3a3a3a 666.5px,#393939 667.5px,#393939 677.5px,#616161 678.5px,#636363 679.5px,#707070 681.5px,#646464 682.5px,#626262 683.5px,#535353 685.5px,#4e4e4e 687.5px,#4d4d4d 736.5px)"></i><i style="left:0px;top:128px;width:737px;height:2px;background:linear-gradient(90deg,#505050 0.5px,#505050 29.5px,#545454 30.5px,#545454 42.5px,#393939 43.5px,#393939 45.5px,#646464 46.5px,#646464 52.5px,#4e4e4e 53.5px,#4d4d4d 208.5px,#4f4f4f 224.5px,#585858 239.5px,#424242 240.5px,#494949 241.5px,#393939 245.5px,#393939 254.5px,#3b3b3b 256.5px,#414141 257.5px,#747474 258.5px,#7d7d7d 259.5px,#777777 260.5px,#585858 261.5px,#4e4e4e 263.5px,#4f4f4f 434.5px,#565656 440.5px,#565656 446.5px,#626262 447.5px,#626262 448.5px,#393939 449.5px,#393939 465.5px,#616161 466.5px,#6e6e6e 468.5px,#646464 469.5px,#646464 470.5px,#525252 472.5px,#4e4e4e 475.5px,#4d4d4d 628.5px,#4f4f4f 647.5px,#565656 658.5px,#393939 659.5px,#393939 660.5px,#737373 661.5px,#737373 664.5px,#424242 665.5px,#3a3a3a 666.5px,#393939 667.5px,#393939 677.5px,#616161 678.5px,#636363 679.5px,#717171 681.5px,#646464 682.5px,#616161 683.5px,#535353 685.5px,#4e4e4e 687.5px,#4d4d4d 736.5px)"></i><i style="left:0px;top:130px;width:737px;height:2px;background:linear-gradient(90deg,#505050 0.5px,#505050 28.5px,#545454 30.5px,#505050 32.5px,#505050 42.5px,#404040 43.5px,#404040 45.5px,#565656 46.5px,#565656 48.5px,#5b5b5b 49.5px,#5b5b5b 52.5px,#4e4e4e 53.5px,#4d4d4d 79.5px,#4d4d4d 208.5px,#4f4f4f 224.5px,#565656 231.5px,#575757 239.5px,#3d3d3d 240.5px,#414141 241.5px,#4c4c4c 242.5px,#454545 244.5px,#393939 245.5px,#393939 254.5px,#3d3d3d 257.5px,#646464 258.5px,#686868 259.5px,#646464 260.5px,#525252 261.5px,#4d4d4d 264.5px,#4e4e4e 434.5px,#555555 440.5px,#565656 446.5px,#626262 447.5px,#626262 448.5px,#393939 449.5px,#393939 464.5px,#393939 465.5px,#606060 466.5px,#626262 467.5px,#505050 472.5px,#4d4d4d 482.5px,#4d4d4d 628.5px,#4e4e4e 647.5px,#565656 658.5px,#393939 659.5px,#393939 660.5px,#747474 661.5px,#747474 664.5px,#424242 665.5px,#3a3a3a 666.5px,#393939 667.5px,#393939 677.5px,#616161 678.5px,#636363 679.5px,#727272 681.5px,#646464 682.5px,#525252 685.5px,#4e4e4e 687.5px,#4d4d4d 736.5px)"></i><i style="left:0px;top:132px;width:737px;height:2px;background:linear-gradient(90deg,#505050 0.5px,#505050 28.5px,#909090 29.5px,#909090 31.5px,#787878 32.5px,#7c7c7c 40.5px,#787878 42.5px,#676767 43.5px,#6b6b6b 48.5px,#8c8c8c 49.5px,#8c8c8c 52.5px,#4e4e4e 53.5px,#4d4d4d 208.5px,#4e4e4e 224.5px,#565656 231.5px,#565656 239.5px,#393939 240.5px,#393939 241.5px,#828282 242.5px,#828282 244.5px,#393939 245.5px,#393939 257.5px,#8c8c8c 258.5px,#8c8c8c 260.5px,#4d4d4d 261.5px,#4e4e4e 434.5px,#555555 440.5px,#565656 446.5px,#626262 447.5px,#626262 448.5px,#393939 449.5px,#393939 456.5px,#404040 457.5px,#404040 458.5px,#393939 459.5px,#393939 465.5px,#606060 466.5px,#606060 467.5px,#7b7b7b 468.5px,#7b7b7b 471.5px,#4d4d4d 472.5px,#4d4d4d 628.5px,#4e4e4e 647.5px,#565656 658.5px,#393939 659.5px,#393939 660.5px,#757575 661.5px,#757575 664.5px,#424242 665.5px,#3a3a3a 666.5px,#393939 667.5px,#393939 677.5px,#616161 678.5px,#646464 679.5px,#737373 681.5px,#646464 682.5px,#585858 684.5px,#4e4e4e 687.5px,#4d4d4d 736.5px)"></i><i style="left:0px;top:134px;width:737px;height:2px;background:linear-gradient(90deg,#505050 0.5px,#505050 28.5px,#9e9e9e 29.5px,#9e9e9e 31.5px,#838383 32.5px,#838383 37.5px,#878787 38.5px,#878787 40.5px,#838383 42.5px,#707070 43.5px,#747474 48.5px,#9a9a9a 49.5px,#9a9a9a 52.5px,#4e4e4e 53.5px,#4e4e4e 224.5px,#565656 231.5px,#575757 241.5px,#8f8f8f 242.5px,#8f8f8f 244.5px,#393939 245.5px,#393939 257.5px,#9a9a9a 258.5px,#9a9a9a 260.5px,#4d4d4d 261.5px,#4e4e4e 434.5px,#555555 440.5px,#565656 446.5px,#626262 447.5px,#626262 448.5px,#393939 449.5px,#393939 456.5px,#676767 457.5px,#676767 458.5px,#404040 459.5px,#404040 461.5px,#393939 462.5px,#393939 465.5px,#606060 466.5px,#606060 467.5px,#858585 468.5px,#858585 471.5px,#4d4d4d 472.5px,#4e4e4e 644.5px,#565656 658.5px,#393939 659.5px,#393939 660.5px,#767676 661.5px,#767676 664.5px,#434343 665.5px,#3a3a3a 666.5px,#393939 667.5px,#393939 677.5px,#616161 678.5px,#747474 681.5px,#656565 682.5px,#575757 684.5px,#4e4e4e 687.5px,#4d4d4d 736.5px)"></i><i style="left:0px;top:136px;width:737px;height:2px;background:linear-gradient(90deg,#505050 0.5px,#505050 28.5px,#9e9e9e 29.5px,#9e9e9e 31.5px,#868686 32.5px,#858585 37.5px,#898989 40.5px,#858585 42.5px,#737373 43.5px,#777777 48.5px,#9b9b9b 49.5px,#9b9b9b 52.5px,#4e4e4e 53.5px,#4e4e4e 224.5px,#565656 231.5px,#565656 239.5px,#767676 240.5px,#767676 241.5px,#909090 242.5px,#909090 244.5px,#393939 245.5px,#393939 257.5px,#9e9e9e 258.5px,#9b9b9b 260.5px,#4d4d4d 261.5px,#4e4e4e 434.5px,#555555 440.5px,#565656 446.5px,#626262 447.5px,#626262 448.5px,#393939 449.5px,#393939 456.5px,#717171 457.5px,#717171 458.5px,#6b6b6b 459.5px,#6b6b6b 461.5px,#393939 462.5px,#393939 465.5px,#606060 466.5px,#606060 467.5px,#868686 468.5px,#868686 471.5px,#4d4d4d 472.5px,#4e4e4e 644.5px,#565656 658.5px,#393939 659.5px,#393939 660.5px,#787878 661.5px,#787878 664.5px,#434343 665.5px,#3a3a3a 666.5px,#393939 667.5px,#393939 677.5px,#616161 678.5px,#757575 681.5px,#656565 682.5px,#565656 684.5px,#4e4e4e 686.5px,#4d4d4d 736.5px)"></i><i style="left:0px;top:138px;width:737px;height:2px;background:linear-gradient(90deg,#505050 0.5px,#505050 28.5px,#9e9e9e 29.5px,#9e9e9e 31.5px,#898989 32.5px,#878787 37.5px,#8b8b8b 40.5px,#878787 42.5px,#767676 43.5px,#7a7a7a 48.5px,#9c9c9c 49.5px,#9c9c9c 52.5px,#4e4e4e 53.5px,#4e4e4e 224.5px,#565656 231.5px,#565656 239.5px,#797979 240.5px,#797979 241.5px,#929292 242.5px,#929292 244.5px,#393939 245.5px,#393939 255.5px,#3f3f3f 256.5px,#4e4e4e 257.5px,#a9a9a9 258.5px,#a3a3a3 260.5px,#4d4d4d 261.5px,#4e4e4e 434.5px,#555555 440.5px,#565656 446.5px,#626262 447.5px,#626262 448.5px,#393939 449.5px,#393939 456.5px,#747474 457.5px,#767676 461.5px,#393939 462.5px,#393939 465.5px,#606060 466.5px,#606060 467.5px,#878787 468.5px,#878787 471.5px,#4d4d4d 472.5px,#4e4e4e 644.5px,#565656 658.5px,#393939 659.5px,#393939 660.5px,#797979 661.5px,#797979 664.5px,#434343 665.5px,#3a3a3a 666.5px,#393939 667.5px,#393939 677.5px,#626262 678.5px,#757575 681.5px,#646464 682.5px,#565656 684.5px,#4e4e4e 686.5px,#4d4d4d 736.5px)"></i><i style="left:0px;top:140px;width:737px;height:2px;background:linear-gradient(90deg,#505050 0.5px,#505050 28.5px,#9f9f9f 29.5px,#9f9f9f 31.5px,#8c8c8c 32.5px,#898989 37.5px,#8d8d8d 40.5px,#898989 42.5px,#7a7a7a 43.5px,#7a7a7a 45.5px,#7d7d7d 48.5px,#9d9d9d 49.5px,#a4a4a4 51.5px,#9f9f9f 52.5px,#4e4e4e 53.5px,#4e4e4e 224.5px,#565656 231.5px,#565656 239.5px,#7c7c7c 240.5px,#7c7c7c 241.5px,#959595 242.5px,#969696 243.5px,#959595 244.5px,#393939 245.5px,#393939 254.5px,#6c6c6c 255.5px,#8d8d8d 257.5px,#bbbbbb 258.5px,#b8b8b8 259.5px,#adadad 260.5px,#5a5a5a 261.5px,#4d4d4d 262.5px,#4e4e4e 434.5px,#555555 440.5px,#565656 446.5px,#626262 447.5px,#626262 448.5px,#393939 449.5px,#393939 456.5px,#787878 457.5px,#797979 461.5px,#393939 462.5px,#393939 464.5px,#5d5d5d 465.5px,#656565 466.5px,#777777 467.5px,#a1a1a1 468.5px,#8c8c8c 470.5px,#888888 471.5px,#4d4d4d 472.5px,#4e4e4e 646.5px,#565656 658.5px,#393939 659.5px,#393939 660.5px,#7a7a7a 661.5px,#7a7a7a 664.5px,#434343 665.5px,#3a3a3a 666.5px,#393939 667.5px,#393939 671.5px,#575757 672.5px,#575757 674.5px,#393939 675.5px,#393939 677.5px,#626262 678.5px,#767676 681.5px,#646464 682.5px,#555555 684.5px,#4e4e4e 686.5px,#4d4d4d 736.5px)"></i><i style="left:0px;top:142px;width:737px;height:2px;background:linear-gradient(90deg,#505050 0.5px,#505050 28.5px,#9f9f9f 29.5px,#a0a0a0 31.5px,#969696 32.5px,#949494 34.5px,#8c8c8c 35.5px,#8f8f8f 38.5px,#8c8c8c 42.5px,#7e7e7e 43.5px,#808080 48.5px,#a3a3a3 49.5px,#afafaf 51.5px,#a8a8a8 52.5px,#4e4e4e 53.5px,#4e4e4e 224.5px,#565656 231.5px,#565656 239.5px,#7f7f7f 240.5px,#818181 241.5px,#9c9c9c 242.5px,#9d9d9d 243.5px,#9c9c9c 244.5px,#3e3e3e 245.5px,#393939 246.5px,#393939 254.5px,#a3a3a3 255.5px,#d5d5d5 258.5px,#d0d0d0 259.5px,#bcbcbc 260.5px,#646464 261.5px,#4d4d4d 262.5px,#4e4e4e 434.5px,#555555 440.5px,#565656 446.5px,#626262 447.5px,#626262 448.5px,#393939 449.5px,#393939 456.5px,#7c7c7c 457.5px,#7d7d7d 461.5px,#585858 462.5px,#585858 464.5px,#8a8a8a 465.5px,#c1c1c1 467.5px,#cacaca 468.5px,#c0c0c0 469.5px,#999999 470.5px,#898989 471.5px,#4d4d4d 472.5px,#4e4e4e 646.5px,#565656 658.5px,#393939 659.5px,#393939 660.5px,#7c7c7c 661.5px,#7c7c7c 664.5px,#434343 665.5px,#3a3a3a 666.5px,#393939 667.5px,#393939 668.5px,#575757 669.5px,#575757 671.5px,#787878 672.5px,#787878 674.5px,#393939 675.5px,#3a3a3a 677.5px,#626262 678.5px,#777777 681.5px,#646464 682.5px,#545454 684.5px,#4e4e4e 686.5px,#4d4d4d 736.5px)"></i><i style="left:0px;top:144px;width:737px;height:2px;background:linear-gradient(90deg,#505050 0.5px,#505050 28.5px,#a0a0a0 29.5px,#a7a7a7 33.5px,#939393 35.5px,#8f8f8f 36.5px,#929292 40.5px,#8f8f8f 42.5px,#828282 43.5px,#838383 48.5px,#a8a8a8 49.5px,#b9b9b9 50.5px,#c0c0c0 51.5px,#b2b2b2 52.5px,#595959 53.5px,#4e4e4e 54.5px,#4e4e4e 224.5px,#565656 231.5px,#565656 239.5px,#838383 240.5px,#8b8b8b 241.5px,#a5a5a5 242.5px,#a9a9a9 243.5px,#a5a5a5 244.5px,#6a6a6a 245.5px,#5d5d5d 246.5px,#5d5d5d 247.5px,#4a4a4a 248.5px,#4d4d4d 249.5px,#393939 251.5px,#393939 254.5px,#a9a9a9 255.5px,#bababa 256.5px,#d6d6d6 257.5px,#e7e7e7 258.5px,#e4e4e4 259.5px,#c9c9c9 260.5px,#6f6f6f 261.5px,#4d4d4d 262.5px,#4e4e4e 434.5px,#555555 440.5px,#565656 446.5px,#626262 447.5px,#626262 448.5px,#393939 449.5px,#393939 456.5px,#818181 457.5px,#818181 461.5px,#7a7a7a 462.5px,#7d7d7d 464.5px,#c5c5c5 466.5px,#d8d8d8 467.5px,#d6d6d6 468.5px,#bcbcbc 469.5px,#9b9b9b 470.5px,#8a8a8a 471.5px,#4d4d4d 472.5px,#4e4e4e 646.5px,#565656 658.5px,#393939 659.5px,#393939 660.5px,#7d7d7d 661.5px,#7d7d7d 664.5px,#434343 665.5px,#3a3a3a 666.5px,#393939 667.5px,#393939 668.5px,#797979 669.5px,#7d7d7d 672.5px,#7d7d7d 674.5px,#393939 675.5px,#3a3a3a 677.5px,#626262 678.5px,#777777 681.5px,#646464 682.5px,#545454 684.5px,#4e4e4e 686.5px,#4d4d4d 736.5px)"></i><i style="left:0px;top:146px;width:737px;height:2px;background:linear-gradient(90deg,#505050 0.5px,#505050 28.5px,#a0a0a0 29.5px,#a1a1a1 30.5px,#b9b9b9 33.5px,#999999 35.5px,#929292 36.5px,#949494 40.5px,#929292 42.5px,#868686 43.5px,#878787 48.5px,#aeaeae 49.5px,#c7c7c7 50.5px,#cfcfcf 51.5px,#bcbcbc 52.5px,#606060 53.5px,#4e4e4e 54.5px,#4e4e4e 223.5px,#565656 231.5px,#565656 239.5px,#898989 240.5px,#959595 241.5px,#b0b0b0 242.5px,#b6b6b6 243.5px,#b0b0b0 244.5px,#939393 245.5px,#868686 246.5px,#8f8f8f 247.5px,#858585 248.5px,#8a8a8a 249.5px,#606060 250.5px,#474747 251.5px,#393939 253.5px,#393939 254.5px,#aeaeae 255.5px,#c1c1c1 256.5px,#dddddd 257.5px,#e7e7e7 258.5px,#e7e7e7 259.5px,#cfcfcf 260.5px,#737373 261.5px,#4d4d4d 262.5px,#4e4e4e 434.5px,#555555 440.5px,#565656 446.5px,#626262 447.5px,#626262 448.5px,#393939 449.5px,#393939 452.5px,#575757 453.5px,#575757 456.5px,#858585 457.5px,#868686 461.5px,#7e7e7e 462.5px,#7e7e7e 463.5px,#909090 464.5px,#bcbcbc 465.5px,#d7d7d7 466.5px,#d8d8d8 467.5px,#cfcfcf 468.5px,#aaaaaa 469.5px,#8e8e8e 470.5px,#8b8b8b 471.5px,#4d4d4d 472.5px,#4e4e4e 646.5px,#565656 658.5px,#393939 659.5px,#393939 660.5px,#7e7e7e 661.5px,#7e7e7e 664.5px,#434343 665.5px,#3a3a3a 666.5px,#393939 668.5px,#7e7e7e 669.5px,#7e7e7e 671.5px,#828282 672.5px,#828282 674.5px,#585858 675.5px,#585858 677.5px,#636363 678.5px,#787878 681.5px,#636363 682.5px,#535353 684.5px,#4e4e4e 686.5px,#4d4d4d 736.5px)"></i><i style="left:0px;top:148px;width:737px;height:2px;background:linear-gradient(90deg,#505050 0.5px,#505050 28.5px,#a1a1a1 29.5px,#a3a3a3 30.5px,#acacac 31.5px,#bcbcbc 32.5px,#bdbdbd 33.5px,#b4b4b4 34.5px,#9e9e9e 35.5px,#959595 36.5px,#979797 40.5px,#959595 42.5px,#8d8d8d 43.5px,#8a8a8a 48.5px,#b1b1b1 49.5px,#cecece 50.5px,#d1d1d1 51.5px,#c2c2c2 52.5px,#636363 53.5px,#4d4d4d 54.5px,#4e4e4e 223.5px,#565656 231.5px,#565656 239.5px,#8f8f8f 240.5px,#9c9c9c 241.5px,#b7b7b7 242.5px,#bbbbbb 243.5px,#b7b7b7 244.5px,#9b9b9b 245.5px,#909090 246.5px,#9e9e9e 247.5px,#bbbbbb 248.5px,#c2c2c2 249.5px,#a0a0a0 250.5px,#929292 251.5px,#8a8a8a 252.5px,#616161 253.5px,#5f5f5f 254.5px,#b9b9b9 255.5px,#cdcdcd 256.5px,#e7e7e7 258.5px,#e5e5e5 259.5px,#cacaca 260.5px,#6f6f6f 261.5px,#4d4d4d 262.5px,#4e4e4e 434.5px,#555555 440.5px,#565656 446.5px,#626262 447.5px,#626262 448.5px,#393939 449.5px,#393939 452.5px,#777777 453.5px,#777777 456.5px,#8d8d8d 457.5px,#8b8b8b 461.5px,#828282 462.5px,#8b8b8b 463.5px,#d2d2d2 465.5px,#dddddd 466.5px,#dbdbdb 467.5px,#989898 469.5px,#8c8c8c 470.5px,#8c8c8c 471.5px,#4d4d4d 472.5px,#4e4e4e 646.5px,#565656 658.5px,#393939 659.5px,#393939 660.5px,#808080 661.5px,#808080 664.5px,#434343 665.5px,#3a3a3a 666.5px,#393939 668.5px,#868686 669.5px,#919191 672.5px,#8c8c8c 674.5px,#7e7e7e 675.5px,#7c7c7c 677.5px,#545454 678.5px,#545454 680.5px,#787878 681.5px,#636363 682.5px,#5a5a5a 683.5px,#535353 684.5px,#4e4e4e 686.5px,#4d4d4d 736.5px)"></i><i style="left:0px;top:150px;width:737px;height:2px;background:linear-gradient(90deg,#505050 0.5px,#505050 28.5px,#a1a1a1 29.5px,#a3a3a3 30.5px,#ababab 31.5px,#bababa 32.5px,#bdbdbd 33.5px,#b3b3b3 34.5px,#a0a0a0 35.5px,#989898 36.5px,#9a9a9a 40.5px,#b8b8b8 45.5px,#b4b4b4 46.5px,#9f9f9f 48.5px,#cccccc 50.5px,#d1d1d1 51.5px,#c1c1c1 52.5px,#626262 53.5px,#4d4d4d 54.5px,#4e4e4e 224.5px,#565656 231.5px,#565656 239.5px,#939393 240.5px,#9f9f9f 241.5px,#b8b8b8 242.5px,#b8b8b8 244.5px,#9f9f9f 245.5px,#989898 246.5px,#ababab 247.5px,#d0d0d0 248.5px,#d3d3d3 249.5px,#b8b8b8 250.5px,#b3b3b3 252.5px,#969696 253.5px,#8c8c8c 254.5px,#c1c1c1 255.5px,#d8d8d8 256.5px,#d9d9d9 258.5px,#d3d3d3 259.5px,#bfbfbf 260.5px,#646464 261.5px,#4d4d4d 262.5px,#4e4e4e 434.5px,#555555 440.5px,#565656 446.5px,#626262 447.5px,#626262 448.5px,#393939 449.5px,#393939 452.5px,#7b7b7b 453.5px,#7b7b7b 455.5px,#858585 456.5px,#9f9f9f 457.5px,#a5a5a5 458.5px,#8a8a8a 462.5px,#a2a2a2 463.5px,#c9c9c9 464.5px,#dddddd 465.5px,#dddddd 466.5px,#c7c7c7 467.5px,#a4a4a4 468.5px,#8d8d8d 469.5px,#8d8d8d 471.5px,#4d4d4d 472.5px,#4e4e4e 646.5px,#565656 658.5px,#393939 659.5px,#393939 660.5px,#818181 661.5px,#818181 664.5px,#535353 665.5px,#535353 667.5px,#5e5e5e 668.5px,#959595 669.5px,#aaaaaa 671.5px,#b0b0b0 672.5px,#acacac 673.5px,#959595 675.5px,#8a8a8a 677.5px,#7d7d7d 678.5px,#767676 680.5px,#787878 681.5px,#626262 682.5px,#525252 684.5px,#4f4f4f 685.5px,#4d4d4d 736.5px)"></i><i style="left:0px;top:152px;width:737px;height:2px;background:linear-gradient(90deg,#505050 0.5px,#505050 28.5px,#a2a2a2 29.5px,#a2a2a2 30.5px,#b1b1b1 32.5px,#b5b5b5 33.5px,#aeaeae 34.5px,#a0a0a0 35.5px,#9b9b9b 36.5px,#9c9c9c 39.5px,#a9a9a9 41.5px,#d6d6d6 44.5px,#d6d6d6 46.5px,#c8c8c8 47.5px,#b2b2b2 48.5px,#cacaca 51.5px,#bababa 52.5px,#5d5d5d 53.5px,#4d4d4d 54.5px,#4e4e4e 224.5px,#565656 231.5px,#565656 239.5px,#959595 240.5px,#9e9e9e 241.5px,#b3b3b3 242.5px,#b8b8b8 243.5px,#b3b3b3 244.5px,#9f9f9f 245.5px,#9c9c9c 246.5px,#b1b1b1 247.5px,#d3d3d3 248.5px,#d3d3d3 249.5px,#aeaeae 251.5px,#aaaaaa 252.5px,#969696 253.5px,#8f8f8f 254.5px,#b9b9b9 255.5px,#cacaca 256.5px,#cfcfcf 257.5px,#c1c1c1 259.5px,#b4b4b4 260.5px,#5a5a5a 261.5px,#4d4d4d 262.5px,#4e4e4e 434.5px,#555555 440.5px,#565656 446.5px,#626262 447.5px,#626262 448.5px,#444444 449.5px,#444444 452.5px,#7f7f7f 453.5px,#848484 455.5px,#939393 456.5px,#b4b4b4 457.5px,#bbbbbb 458.5px,#b4b4b4 459.5px,#a1a1a1 460.5px,#989898 461.5px,#979797 462.5px,#d7d7d7 464.5px,#dcdcdc 465.5px,#d3d3d3 466.5px,#919191 468.5px,#8e8e8e 471.5px,#4d4d4d 472.5px,#4d4d4d 646.5px,#565656 658.5px,#393939 659.5px,#393939 660.5px,#828282 661.5px,#828282 664.5px,#727272 665.5px,#727272 667.5px,#7e7e7e 668.5px,#a1a1a1 669.5px,#bbbbbb 671.5px,#cccccc 677.5px,#c6c6c6 678.5px,#a2a2a2 680.5px,#5f5f5f 682.5px,#535353 683.5px,#505050 684.5px,#4d4d4d 736.5px)"></i><i style="left:0px;top:154px;width:737px;height:2px;background:linear-gradient(90deg,#505050 0.5px,#505050 28.5px,#797979 29.5px,#6e6e6e 30.5px,#7e7e7e 32.5px,#828282 33.5px,#7b7b7b 34.5px,#a0a0a0 35.5px,#9f9f9f 40.5px,#bdbdbd 45.5px,#afafaf 47.5px,#a5a5a5 48.5px,#959595 49.5px,#a7a7a7 51.5px,#989898 52.5px,#535353 53.5px,#4d4d4d 54.5px,#4e4e4e 224.5px,#565656 231.5px,#565656 239.5px,#686868 240.5px,#727272 241.5px,#858585 242.5px,#8d8d8d 243.5px,#858585 244.5px,#a0a0a0 245.5px,#a0a0a0 246.5px,#afafaf 247.5px,#cacaca 248.5px,#cfcfcf 249.5px,#a2a2a2 251.5px,#9a9a9a 252.5px,#959595 254.5px,#3f3f3f 255.5px,#5a5a5a 257.5px,#7c7c7c 258.5px,#6c6c6c 260.5px,#4d4d4d 261.5px,#4e4e4e 434.5px,#555555 440.5px,#565656 446.5px,#626262 447.5px,#626262 448.5px,#858585 449.5px,#848484 454.5px,#888888 455.5px,#979797 456.5px,#b5b5b5 457.5px,#bbbbbb 458.5px,#b5b5b5 459.5px,#a5a5a5 460.5px,#9c9c9c 461.5px,#9f9f9f 462.5px,#c1c1c1 463.5px,#d9d9d9 464.5px,#d8d8d8 465.5px,#a1a1a1 467.5px,#606060 468.5px,#4d4d4d 469.5px,#4d4d4d 646.5px,#565656 658.5px,#393939 659.5px,#393939 660.5px,#848484 661.5px,#848484 664.5px,#797979 665.5px,#797979 667.5px,#7f7f7f 668.5px,#a0a0a0 669.5px,#b6b6b6 672.5px,#bdbdbd 674.5px,#cecece 676.5px,#cfcfcf 677.5px,#cbcbcb 678.5px,#aaaaaa 680.5px,#787878 681.5px,#555555 682.5px,#4d4d4d 683.5px,#4d4d4d 736.5px)"></i><i style="left:0px;top:156px;width:737px;height:2px;background:linear-gradient(90deg,#505050 0.5px,#505050 29.5px,#393939 30.5px,#393939 31.5px,#3f3f3f 32.5px,#3e3e3e 34.5px,#6d6d6d 35.5px,#6e6e6e 45.5px,#646464 48.5px,#676767 49.5px,#767676 50.5px,#7b7b7b 51.5px,#717171 52.5px,#4d4d4d 53.5px,#4d4d4d 223.5px,#565656 231.5px,#565656 239.5px,#393939 240.5px,#3e3e3e 241.5px,#4a4a4a 242.5px,#505050 243.5px,#4a4a4a 244.5px,#6e6e6e 245.5px,#6d6d6d 246.5px,#808080 247.5px,#bababa 248.5px,#bdbdbd 249.5px,#686868 250.5px,#474747 251.5px,#393939 252.5px,#393939 257.5px,#656565 258.5px,#606060 260.5px,#4d4d4d 261.5px,#4e4e4e 434.5px,#555555 440.5px,#565656 446.5px,#626262 447.5px,#626262 448.5px,#393939 449.5px,#393939 452.5px,#898989 453.5px,#898989 455.5px,#919191 456.5px,#aaaaaa 457.5px,#adadad 458.5px,#9d9d9d 462.5px,#bcbcbc 464.5px,#878787 465.5px,#7a7a7a 466.5px,#606060 467.5px,#606060 468.5px,#4d4d4d 469.5px,#4d4d4d 646.5px,#565656 658.5px,#393939 659.5px,#393939 664.5px,#5b5b5b 665.5px,#5b5b5b 668.5px,#a0a0a0 669.5px,#a8a8a8 672.5px,#a6a6a6 677.5px,#7f7f7f 678.5px,#7a7a7a 680.5px,#606060 681.5px,#4d4d4d 682.5px,#4d4d4d 736.5px)"></i><i style="left:0px;top:158px;width:737px;height:2px;background:linear-gradient(90deg,#505050 0.5px,#505050 29.5px,#393939 30.5px,#393939 45.5px,#646464 46.5px,#646464 49.5px,#696969 51.5px,#646464 52.5px,#4d4d4d 53.5px,#4d4d4d 223.5px,#565656 231.5px,#565656 239.5px,#393939 240.5px,#3d3d3d 243.5px,#393939 246.5px,#414141 247.5px,#575757 248.5px,#5b5b5b 249.5px,#393939 251.5px,#393939 257.5px,#606060 258.5px,#606060 260.5px,#4d4d4d 261.5px,#4d4d4d 433.5px,#565656 441.5px,#565656 446.5px,#626262 447.5px,#626262 448.5px,#393939 449.5px,#393939 452.5px,#636363 453.5px,#636363 456.5px,#414141 457.5px,#434343 458.5px,#393939 460.5px,#393939 461.5px,#6a6a6a 462.5px,#6f6f6f 464.5px,#444444 465.5px,#606060 466.5px,#606060 468.5px,#4d4d4d 469.5px,#4d4d4d 646.5px,#565656 658.5px,#393939 659.5px,#393939 677.5px,#606060 678.5px,#606060 681.5px,#4d4d4d 682.5px,#4d4d4d 736.5px)"></i><i style="left:0px;top:160px;width:737px;height:2px;background:linear-gradient(90deg,#505050 0.5px,#505050 29.5px,#393939 30.5px,#393939 45.5px,#646464 46.5px,#646464 52.5px,#4d4d4d 53.5px,#4d4d4d 223.5px,#565656 231.5px,#565656 239.5px,#393939 240.5px,#393939 247.5px,#404040 249.5px,#393939 250.5px,#393939 257.5px,#606060 258.5px,#606060 260.5px,#4d4d4d 261.5px,#4d4d4d 433.5px,#565656 441.5px,#565656 446.5px,#626262 447.5px,#626262 448.5px,#393939 449.5px,#393939 465.5px,#606060 466.5px,#606060 468.5px,#4d4d4d 469.5px,#4d4d4d 646.5px,#565656 658.5px,#393939 659.5px,#393939 677.5px,#606060 678.5px,#606060 681.5px,#4d4d4d 682.5px,#4d4d4d 736.5px)"></i><i style="left:0px;top:162px;width:737px;height:2px;background:linear-gradient(90deg,#505050 0.5px,#505050 29.5px,#393939 30.5px,#393939 45.5px,#646464 46.5px,#646464 52.5px,#4d4d4d 53.5px,#4d4d4d 223.5px,#565656 231.5px,#565656 239.5px,#393939 240.5px,#393939 257.5px,#606060 258.5px,#606060 260.5px,#4d4d4d 261.5px,#4d4d4d 433.5px,#565656 441.5px,#565656 446.5px,#626262 447.5px,#626262 448.5px,#393939 449.5px,#393939 465.5px,#606060 466.5px,#606060 468.5px,#4d4d4d 469.5px,#4d4d4d 646.5px,#565656 658.5px,#393939 659.5px,#393939 677.5px,#606060 678.5px,#606060 681.5px,#4d4d4d 682.5px,#4d4d4d 736.5px)"></i><i style="left:0px;top:164px;width:737px;height:2px;background:linear-gradient(90deg,#505050 0.5px,#505050 29.5px,#393939 30.5px,#393939 45.5px,#646464 46.5px,#646464 52.5px,#4d4d4d 53.5px,#4d4d4d 223.5px,#565656 231.5px,#565656 239.5px,#393939 240.5px,#393939 257.5px,#606060 258.5px,#606060 260.5px,#4d4d4d 261.5px,#4d4d4d 433.5px,#565656 441.5px,#565656 446.5px,#626262 447.5px,#626262 448.5px,#393939 449.5px,#393939 465.5px,#606060 466.5px,#606060 468.5px,#4d4d4d 469.5px,#4d4d4d 646.5px,#565656 658.5px,#393939 659.5px,#393939 677.5px,#606060 678.5px,#606060 681.5px,#4d4d4d 682.5px,#4d4d4d 736.5px)"></i><i style="left:0px;top:166px;width:737px;height:2px;background:linear-gradient(90deg,#505050 0.5px,#505050 29.5px,#393939 30.5px,#393939 45.5px,#646464 46.5px,#646464 52.5px,#4d4d4d 53.5px,#4d4d4d 223.5px,#565656 231.5px,#565656 239.5px,#393939 240.5px,#393939 257.5px,#606060 258.5px,#606060 260.5px,#4d4d4d 261.5px,#4d4d4d 433.5px,#565656 441.5px,#565656 446.5px,#626262 447.5px,#626262 448.5px,#393939 449.5px,#393939 465.5px,#606060 466.5px,#606060 468.5px,#4d4d4d 469.5px,#4d4d4d 646.5px,#565656 658.5px,#393939 659.5px,#393939 677.5px,#606060 678.5px,#606060 681.5px,#4d4d4d 682.5px,#4d4d4d 736.5px)"></i><i style="left:0px;top:168px;width:737px;height:2px;background:linear-gradient(90deg,#505050 0.5px,#505050 29.5px,#393939 30.5px,#393939 45.5px,#646464 46.5px,#646464 52.5px,#4d4d4d 53.5px,#4d4d4d 223.5px,#565656 231.5px,#565656 239.5px,#393939 240.5px,#393939 257.5px,#606060 258.5px,#606060 260.5px,#4d4d4d 261.5px,#4d4d4d 433.5px,#565656 441.5px,#565656 446.5px,#626262 447.5px,#626262 448.5px,#393939 449.5px,#393939 465.5px,#606060 466.5px,#606060 468.5px,#4d4d4d 469.5px,#4d4d4d 646.5px,#565656 658.5px,#393939 659.5px,#393939 677.5px,#606060 678.5px,#606060 681.5px,#4d4d4d 682.5px,#4d4d4d 736.5px)"></i><i style="left:0px;top:170px;width:737px;height:2px;background:linear-gradient(90deg,#505050 0.5px,#505050 29.5px,#393939 30.5px,#393939 45.5px,#646464 46.5px,#646464 52.5px,#4d4d4d 53.5px,#4d4d4d 223.5px,#565656 231.5px,#565656 239.5px,#393939 240.5px,#393939 257.5px,#606060 258.5px,#606060 260.5px,#4d4d4d 261.5px,#4d4d4d 433.5px,#565656 441.5px,#565656 446.5px,#626262 447.5px,#626262 448.5px,#393939 449.5px,#393939 465.5px,#606060 466.5px,#606060 468.5px,#4d4d4d 469.5px,#4d4d4d 646.5px,#565656 658.5px,#393939 659.5px,#393939 677.5px,#606060 678.5px,#606060 681.5px,#4d4d4d 682.5px,#4d4d4d 736.5px)"></i><i style="left:0px;top:172px;width:737px;height:2px;background:linear-gradient(90deg,#505050 0.5px,#505050 29.5px,#393939 30.5px,#393939 45.5px,#646464 46.5px,#646464 52.5px,#4d4d4d 53.5px,#4d4d4d 223.5px,#565656 231.5px,#565656 239.5px,#393939 240.5px,#393939 257.5px,#606060 258.5px,#606060 260.5px,#4d4d4d 261.5px,#4d4d4d 433.5px,#565656 441.5px,#565656 446.5px,#626262 447.5px,#626262 448.5px,#393939 449.5px,#393939 465.5px,#606060 466.5px,#606060 468.5px,#4d4d4d 469.5px,#4d4d4d 646.5px,#565656 658.5px,#393939 659.5px,#393939 677.5px,#606060 678.5px,#606060 681.5px,#4d4d4d 682.5px,#4d4d4d 736.5px)"></i><i style="left:0px;top:174px;width:737px;height:2px;background:linear-gradient(90deg,#505050 0.5px,#505050 29.5px,#393939 30.5px,#393939 45.5px,#646464 46.5px,#646464 52.5px,#4d4d4d 53.5px,#4d4d4d 223.5px,#565656 231.5px,#565656 239.5px,#393939 240.5px,#393939 257.5px,#606060 258.5px,#606060 260.5px,#4d4d4d 261.5px,#4d4d4d 433.5px,#565656 441.5px,#565656 446.5px,#626262 447.5px,#626262 448.5px,#393939 449.5px,#393939 465.5px,#606060 466.5px,#606060 468.5px,#4d4d4d 469.5px,#4d4d4d 646.5px,#565656 658.5px,#393939 659.5px,#393939 677.5px,#606060 678.5px,#606060 681.5px,#4d4d4d 682.5px,#4d4d4d 736.5px)"></i><i style="left:0px;top:176px;width:737px;height:2px;background:linear-gradient(90deg,#505050 0.5px,#505050 29.5px,#393939 30.5px,#393939 45.5px,#646464 46.5px,#646464 52.5px,#4d4d4d 53.5px,#4d4d4d 223.5px,#565656 231.5px,#565656 239.5px,#393939 240.5px,#393939 257.5px,#606060 258.5px,#606060 260.5px,#4d4d4d 261.5px,#4d4d4d 433.5px,#565656 441.5px,#565656 446.5px,#626262 447.5px,#626262 448.5px,#393939 449.5px,#393939 465.5px,#606060 466.5px,#606060 468.5px,#4d4d4d 469.5px,#4d4d4d 646.5px,#565656 658.5px,#393939 659.5px,#393939 677.5px,#606060 678.5px,#606060 681.5px,#4d4d4d 682.5px,#4d4d4d 736.5px)"></i><i style="left:0px;top:178px;width:737px;height:2px;background:linear-gradient(90deg,#505050 0.5px,#505050 29.5px,#393939 30.5px,#393939 45.5px,#646464 46.5px,#646464 52.5px,#4d4d4d 53.5px,#4d4d4d 223.5px,#565656 231.5px,#565656 239.5px,#393939 240.5px,#393939 257.5px,#606060 258.5px,#606060 260.5px,#4d4d4d 261.5px,#4d4d4d 433.5px,#565656 441.5px,#565656 446.5px,#626262 447.5px,#626262 448.5px,#393939 449.5px,#393939 465.5px,#606060 466.5px,#606060 468.5px,#4d4d4d 469.5px,#4d4d4d 646.5px,#565656 658.5px,#393939 659.5px,#393939 677.5px,#606060 678.5px,#606060 681.5px,#4d4d4d 682.5px,#4d4d4d 736.5px)"></i><i style="left:0px;top:180px;width:737px;height:2px;background:linear-gradient(90deg,#505050 0.5px,#505050 29.5px,#393939 30.5px,#393939 45.5px,#646464 46.5px,#646464 52.5px,#4d4d4d 53.5px,#4d4d4d 223.5px,#565656 231.5px,#565656 239.5px,#393939 240.5px,#393939 257.5px,#606060 258.5px,#606060 260.5px,#4d4d4d 261.5px,#4d4d4d 433.5px,#565656 441.5px,#565656 446.5px,#626262 447.5px,#626262 448.5px,#393939 449.5px,#393939 465.5px,#606060 466.5px,#606060 468.5px,#4d4d4d 469.5px,#4d4d4d 646.5px,#565656 658.5px,#393939 659.5px,#393939 677.5px,#606060 678.5px,#606060 681.5px,#4d4d4d 682.5px,#4d4d4d 736.5px)"></i><i style="left:0px;top:182px;width:737px;height:2px;background:linear-gradient(90deg,#505050 0.5px,#505050 29.5px,#393939 30.5px,#393939 45.5px,#646464 46.5px,#646464 52.5px,#4d4d4d 53.5px,#4d4d4d 223.5px,#565656 231.5px,#565656 239.5px,#393939 240.5px,#393939 257.5px,#606060 258.5px,#606060 260.5px,#4d4d4d 261.5px,#4d4d4d 433.5px,#565656 441.5px,#565656 446.5px,#626262 447.5px,#626262 448.5px,#393939 449.5px,#393939 465.5px,#606060 466.5px,#606060 468.5px,#4d4d4d 469.5px,#4d4d4d 646.5px,#565656 658.5px,#393939 659.5px,#393939 677.5px,#606060 678.5px,#606060 681.5px,#4d4d4d 682.5px,#4d4d4d 736.5px)"></i><i style="left:0px;top:184px;width:737px;height:2px;background:linear-gradient(90deg,#505050 0.5px,#505050 29.5px,#393939 30.5px,#393939 45.5px,#646464 46.5px,#646464 52.5px,#4d4d4d 53.5px,#4d4d4d 223.5px,#565656 231.5px,#565656 239.5px,#393939 240.5px,#393939 257.5px,#606060 258.5px,#606060 260.5px,#4d4d4d 261.5px,#4d4d4d 433.5px,#565656 441.5px,#565656 446.5px,#626262 447.5px,#626262 448.5px,#393939 449.5px,#393939 465.5px,#606060 466.5px,#606060 468.5px,#4d4d4d 469.5px,#4d4d4d 646.5px,#565656 658.5px,#393939 659.5px,#393939 677.5px,#606060 678.5px,#606060 681.5px,#4d4d4d 682.5px,#4d4d4d 736.5px)"></i><i style="left:0px;top:186px;width:737px;height:2px;background:linear-gradient(90deg,#505050 0.5px,#505050 29.5px,#393939 30.5px,#393939 45.5px,#646464 46.5px,#646464 52.5px,#4d4d4d 53.5px,#4d4d4d 223.5px,#565656 231.5px,#565656 239.5px,#393939 240.5px,#393939 257.5px,#606060 258.5px,#606060 260.5px,#4d4d4d 261.5px,#4d4d4d 433.5px,#565656 441.5px,#565656 446.5px,#626262 447.5px,#626262 448.5px,#393939 449.5px,#393939 465.5px,#606060 466.5px,#606060 468.5px,#4d4d4d 469.5px,#4d4d4d 646.5px,#565656 658.5px,#393939 659.5px,#393939 677.5px,#606060 678.5px,#606060 681.5px,#4d4d4d 682.5px,#4d4d4d 736.5px)"></i><i style="left:0px;top:188px;width:737px;height:2px;background:linear-gradient(90deg,#505050 0.5px,#505050 29.5px,#393939 30.5px,#393939 45.5px,#646464 46.5px,#646464 52.5px,#4d4d4d 53.5px,#4d4d4d 223.5px,#565656 231.5px,#565656 239.5px,#393939 240.5px,#393939 257.5px,#606060 258.5px,#606060 260.5px,#4d4d4d 261.5px,#4d4d4d 433.5px,#565656 441.5px,#565656 446.5px,#626262 447.5px,#626262 448.5px,#393939 449.5px,#393939 465.5px,#606060 466.5px,#606060 468.5px,#4d4d4d 469.5px,#4d4d4d 646.5px,#565656 658.5px,#393939 659.5px,#393939 677.5px,#606060 678.5px,#606060 681.5px,#4d4d4d 682.5px,#4d4d4d 736.5px)"></i><i style="left:0px;top:190px;width:737px;height:2px;background:linear-gradient(90deg,#505050 0.5px,#505050 29.5px,#393939 30.5px,#393939 45.5px,#646464 46.5px,#646464 52.5px,#4d4d4d 53.5px,#4d4d4d 223.5px,#565656 231.5px,#565656 239.5px,#393939 240.5px,#393939 257.5px,#606060 258.5px,#606060 260.5px,#4d4d4d 261.5px,#4d4d4d 433.5px,#565656 441.5px,#565656 446.5px,#626262 447.5px,#626262 448.5px,#393939 449.5px,#393939 465.5px,#606060 466.5px,#606060 468.5px,#4d4d4d 469.5px,#4d4d4d 646.5px,#565656 658.5px,#393939 659.5px,#393939 677.5px,#606060 678.5px,#606060 681.5px,#4d4d4d 682.5px,#4d4d4d 736.5px)"></i></div>
<div class="p" id="p3" style="left:156px;top:608px;width:744px;height:193px;filter:url(#f3)"><i style="left:0px;top:0;width:10px;height:193px;background:linear-gradient(#1f2033 0.5px,#222533 39.5px,#282d33 58.5px,#2d3633 61.5px,#364831 65.5px,#385829 69.5px,#427421 75.5px,#447920 76.5px,#65b31e 86.5px,#99ff1f 102.5px,#9cff1f 103.5px,#a4ff1f 109.5px,#a8ff1f 116.5px,#a9ff20 117.5px,#a7ff2e 125.5px,#a7fa32 127.5px,#a6f833 128.5px,#9ef52d 133.5px,#91f123 139.5px,#8fef22 140.5px,#77cb20 152.5px,#6ab422 156.5px,#5ba01f 159.5px,#589c1f 160.5px,#4e8c1f 166.5px,#43801b 192.5px)"></i><i style="left:10px;top:0;width:1px;height:193px;background:linear-gradient(#1f2033 0.5px,#222533 39.5px,#282d33 58.5px,#2d3633 61.5px,#364731 65.5px,#385829 69.5px,#417421 75.5px,#447920 76.5px,#64b11e 86.5px,#97ff1f 102.5px,#9aff1f 103.5px,#a1ff1f 109.5px,#a6ff1f 116.5px,#a7ff20 117.5px,#a6ff2e 125.5px,#a5f832 127.5px,#a4f633 128.5px,#9bf32c 134.5px,#91f023 139.5px,#8eee22 140.5px,#76cb20 152.5px,#6ab322 156.5px,#589b1f 160.5px,#4e8b1f 166.5px,#427f1b 192.5px)"></i><i style="left:11px;top:0;width:1px;height:193px;background:linear-gradient(#1f2033 0.5px,#222533 39.5px,#272d33 58.5px,#2c3533 61.5px,#354631 65.5px,#385829 69.5px,#417321 75.5px,#437720 76.5px,#62ad1e 86.5px,#95fe1f 103.5px,#97ff1f 104.5px,#9dff1f 109.5px,#a2ff1f 116.5px,#a3ff20 117.5px,#a3ff2c 124.5px,#a3f432 127.5px,#a2f233 128.5px,#99f02c 134.5px,#8fee23 139.5px,#8dec22 140.5px,#76ca20 152.5px,#69b222 156.5px,#579a1f 160.5px,#4d8a1f 166.5px,#417d1b 192.5px)"></i><i style="left:12px;top:0;width:1px;height:193px;background:linear-gradient(#1f1f33 0.5px,#222433 39.5px,#272d33 58.5px,#2c3533 61.5px,#354631 65.5px,#407121 75.5px,#427620 76.5px,#60aa1e 86.5px,#91f71f 103.5px,#93fa1f 104.5px,#97ff1f 107.5px,#9fff1f 116.5px,#a0ff28 122.5px,#a1ff2a 123.5px,#9fee33 128.5px,#98ed2c 134.5px,#8cea22 140.5px,#75c920 152.5px,#68b122 156.5px,#56991f 160.5px,#4c881f 166.5px,#407c1b 192.5px)"></i><i style="left:13px;top:0;width:1px;height:193px;background:linear-gradient(#1f1f33 0.5px,#222433 39.5px,#272c33 58.5px,#2c3433 61.5px,#344531 65.5px,#3f7021 75.5px,#417520 76.5px,#5ea61e 86.5px,#8df01f 103.5px,#8ff31f 104.5px,#96ff1f 110.5px,#9bff1f 116.5px,#9dfe26 121.5px,#9dfa2a 123.5px,#9dea33 128.5px,#97ea2d 133.5px,#8be822 140.5px,#74c820 152.5px,#68b022 156.5px,#55981f 160.5px,#4b871f 166.5px,#4a851f 167.5px,#3f7a1b 192.5px)"></i><i style="left:14px;top:0;width:1px;height:193px;background:linear-gradient(#1f1f33 0.5px,#222433 39.5px,#272c33 58.5px,#2b3333 61.5px,#344431 65.5px,#354830 66.5px,#3f6f21 75.5px,#417420 76.5px,#5ba21e 86.5px,#88e91f 103.5px,#8aec1f 104.5px,#96ff1f 115.5px,#97ff1f 116.5px,#9af52a 123.5px,#9ae633 128.5px,#95e62d 133.5px,#89e622 140.5px,#74c720 152.5px,#67af22 156.5px,#55971f 160.5px,#4b851f 166.5px,#3e791b 192.5px)"></i><i style="left:15px;top:0;width:1px;height:193px;background:linear-gradient(#1f1f33 0.5px,#222433 39.5px,#262c33 58.5px,#2b3233 61.5px,#334331 65.5px,#354830 66.5px,#3e6e21 75.5px,#407220 76.5px,#599f1e 86.5px,#84e21f 103.5px,#86e51f 104.5px,#93fa1f 116.5px,#98e332 127.5px,#98e233 128.5px,#92e32c 134.5px,#88e422 140.5px,#73c620 152.5px,#67ae22 156.5px,#54951f 160.5px,#4a841f 166.5px,#3d771b 192.5px)"></i><i style="left:16px;top:0;width:1px;height:193px;background:linear-gradient(#1e1f33 0.5px,#212433 39.5px,#262b33 58.5px,#2a3233 61.5px,#324231 65.5px,#344730 66.5px,#3d6d21 75.5px,#3f7120 76.5px,#579b1e 86.5px,#80db1f 103.5px,#82de1f 104.5px,#8ff41f 116.5px,#95df32 127.5px,#95de33 128.5px,#90e02c 134.5px,#87e222 140.5px,#72c520 152.5px,#66ad22 156.5px,#53941f 160.5px,#49831f 166.5px,#48811f 167.5px,#3c761b 192.5px)"></i><i style="left:17px;top:0;width:1px;height:193px;background:linear-gradient(#1e1e33 0.5px,#212333 39.5px,#262b33 58.5px,#2a3133 61.5px,#324131 65.5px,#37532b 68.5px,#3d6c21 75.5px,#3e7020 76.5px,#54971e 86.5px,#7bd41f 103.5px,#7dd71f 104.5px,#8cee1f 116.5px,#93db32 127.5px,#93da33 128.5px,#8edd2c 134.5px,#85e022 140.5px,#72c420 152.5px,#65ac22 156.5px,#52931f 160.5px,#48811f 166.5px,#47801f 167.5px,#40791c 179.5px,#3b741b 192.5px)"></i><i style="left:18px;top:0;width:1px;height:193px;background:linear-gradient(#1e1e33 0.5px,#212333 39.5px,#262a33 58.5px,#293033 61.5px,#314031 65.5px,#37532b 68.5px,#3c6b21 75.5px,#3d6e20 76.5px,#52941e 86.5px,#77cd1f 103.5px,#79d01f 104.5px,#88e81f 116.5px,#90d632 127.5px,#90d533 128.5px,#8cda2c 134.5px,#84de22 140.5px,#71c320 152.5px,#65ab22 156.5px,#52921f 160.5px,#47801f 166.5px,#467e1f 167.5px,#3f771c 179.5px,#3a721b 192.5px)"></i><i style="left:19px;top:0;width:1px;height:193px;background:linear-gradient(#1e1e33 0.5px,#212333 39.5px,#262a33 58.5px,#292f33 61.5px,#2a3233 62.5px,#313f31 65.5px,#36522b 68.5px,#3b6a21 75.5px,#3d6d20 76.5px,#50901e 86.5px,#73c61f 103.5px,#74c91f 104.5px,#84e21f 116.5px,#8ed232 127.5px,#8ed133 128.5px,#8ad72c 134.5px,#83db22 140.5px,#70c220 152.5px,#64aa22 156.5px,#51911f 160.5px,#467f1f 166.5px,#3e761c 179.5px,#39711b 192.5px)"></i><i style="left:20px;top:0;width:1px;height:193px;background:linear-gradient(#1e1e33 0.5px,#212333 39.5px,#252a33 58.5px,#282f33 61.5px,#2a3233 62.5px,#303e31 65.5px,#385729 69.5px,#3b6921 75.5px,#3c6c20 76.5px,#4e8d1e 86.5px,#78ce1f 109.5px,#80dc1f 116.5px,#81dc20 117.5px,#8bcd33 128.5px,#88d42c 134.5px,#81d922 140.5px,#70c120 152.5px,#63a922 156.5px,#508f1f 160.5px,#467d1f 166.5px,#3d741c 179.5px,#386f1b 192.5px)"></i><i style="left:21px;top:0;width:1px;height:193px;background:linear-gradient(#1e1e33 0.5px,#212333 39.5px,#252933 58.5px,#282e33 61.5px,#293133 62.5px,#2f3d31 65.5px,#385729 69.5px,#3a6821 75.5px,#3b6b20 76.5px,#4b891e 86.5px,#73c71f 109.5px,#7cd51f 116.5px,#7ed620 117.5px,#89c933 128.5px,#87d02d 133.5px,#81d723 139.5px,#80d722 140.5px,#6fc020 152.5px,#63a822 156.5px,#4f8e1f 160.5px,#457c1f 166.5px,#3c721c 179.5px,#376e1b 192.5px)"></i><i style="left:22px;top:0;width:1px;height:193px;background:linear-gradient(#1e1d33 0.5px,#252933 58.5px,#282d33 61.5px,#293033 62.5px,#2f3c31 65.5px,#385729 69.5px,#396721 75.5px,#3a6920 76.5px,#49851e 86.5px,#6fc01f 109.5px,#78cf1f 116.5px,#7ad020 117.5px,#86c533 128.5px,#84ce2c 134.5px,#80d523 139.5px,#7fd522 140.5px,#6fbf20 152.5px,#62a722 156.5px,#4f8d1f 160.5px,#447b1f 166.5px,#3b711c 179.5px,#366c1b 192.5px)"></i><i style="left:23px;top:0;width:1px;height:193px;background:linear-gradient(#1e1d33 0.5px,#252933 58.5px,#272d33 61.5px,#282f33 62.5px,#2e3b31 65.5px,#385729 69.5px,#396521 75.5px,#396820 76.5px,#47811e 86.5px,#6cbc1f 110.5px,#75c91f 116.5px,#83c133 128.5px,#83c92d 133.5px,#7ed323 139.5px,#7dd322 140.5px,#6ebe20 152.5px,#62a622 156.5px,#4e8c1f 160.5px,#43791f 166.5px,#42771f 167.5px,#3a6f1c 179.5px,#356a1b 192.5px)"></i><i style="left:24px;top:0;width:1px;height:193px;background:linear-gradient(#1d1d33 0.5px,#212233 40.5px,#272c33 61.5px,#2e3a31 65.5px,#375729 69.5px,#386421 75.5px,#386720 76.5px,#437c1e 85.5px,#447e1e 86.5px,#71c31f 116.5px,#81bd33 128.5px,#81c62d 133.5px,#7dd123 139.5px,#7cd122 140.5px,#6dbc20 152.5px,#61a522 156.5px,#4d8b1f 160.5px,#42781f 166.5px,#41761f 167.5px,#396e1c 179.5px,#34691b 192.5px)"></i><i style="left:25px;top:0;width:1px;height:193px;background:linear-gradient(#1d1d33 0.5px,#212233 40.5px,#262b33 61.5px,#2d3931 65.5px,#375729 69.5px,#376321 75.5px,#386520 76.5px,#427a1e 86.5px,#589b1f 103.5px,#6dbc1f 116.5px,#7eb933 128.5px,#7fc52c 134.5px,#7bce23 139.5px,#7bce22 140.5px,#6dbb20 152.5px,#60a422 156.5px,#4c891f 160.5px,#41761f 166.5px,#40741f 167.5px,#386c1c 179.5px,#33671b 192.5px)"></i><i style="left:26px;top:0;width:1px;height:193px;background:linear-gradient(#1d1d33 0.5px,#202233 40.5px,#262a33 61.5px,#2c3831 65.5px,#375729 69.5px,#366221 75.5px,#376420 76.5px,#40761e 86.5px,#4b861f 96.5px,#54941f 103.5px,#69b61f 116.5px,#7bb432 127.5px,#7cb533 128.5px,#7dbf2d 133.5px,#7acc23 139.5px,#79cc22 140.5px,#6cba20 152.5px,#60a322 156.5px,#4c881f 160.5px,#3f731f 167.5px,#376a1c 180.5px,#32661b 192.5px)"></i><i style="left:27px;top:0;width:1px;height:193px;background:linear-gradient(#1d1c33 0.5px,#202233 40.5px,#252a33 61.5px,#2c3731 65.5px,#375729 69.5px,#366121 75.5px,#366320 76.5px,#3d731e 86.5px,#467e1f 95.5px,#47801f 96.5px,#51901f 104.5px,#65b01f 116.5px,#78b032 127.5px,#79b133 128.5px,#7bbc2d 133.5px,#78ca22 140.5px,#6bb920 152.5px,#5fa222 156.5px,#4b871f 160.5px,#3e721f 167.5px,#36691c 179.5px,#31641b 192.5px)"></i><i style="left:28px;top:0;width:1px;height:193px;background:linear-gradient(#1d1c33 0.5px,#202233 40.5px,#252933 61.5px,#2b3631 65.5px,#375729 69.5px,#356021 75.5px,#366220 76.5px,#3c701e 86.5px,#4d891f 103.5px,#62ac1f 116.5px,#76ad32 127.5px,#77ad33 128.5px,#79b92d 133.5px,#77c822 140.5px,#6ab820 152.5px,#5ea122 156.5px,#4a861f 160.5px,#3e711f 167.5px,#35671c 180.5px,#31631b 192.5px)"></i><i style="left:29px;top:0;width:1px;height:193px;background:linear-gradient(#1d1c33 0.5px,#202233 40.5px,#252933 61.5px,#2b3631 65.5px,#375629 69.5px,#356021 75.5px,#366220 76.5px,#3c701e 86.5px,#4c881f 103.5px,#61aa1f 116.5px,#75ab32 127.5px,#76ac33 128.5px,#78b82d 133.5px,#76c622 140.5px,#69b620 152.5px,#5da022 156.5px,#4a851f 160.5px,#3d701f 167.5px,#35671c 179.5px,#31631b 192.5px)"></i><i style="left:30px;top:0;width:1px;height:193px;background:linear-gradient(#1d1c33 0.5px,#202133 39.5px,#252933 61.5px,#2b3631 65.5px,#375629 69.5px,#356021 75.5px,#366220 76.5px,#3c701e 86.5px,#4c871f 103.5px,#60a91f 116.5px,#74a932 127.5px,#75aa33 128.5px,#77b62d 133.5px,#74c522 140.5px,#68b420 152.5px,#5c9e22 156.5px,#49841f 160.5px,#3d6f1f 167.5px,#35671c 179.5px,#30621b 192.5px)"></i><i style="left:31px;top:0;width:1px;height:193px;background:linear-gradient(#1d1c33 0.5px,#202133 39.5px,#252933 61.5px,#2b3631 65.5px,#375629 69.5px,#356021 75.5px,#366220 76.5px,#3c701e 86.5px,#447b1f 96.5px,#4b861f 103.5px,#4c891f 104.5px,#5fa71f 116.5px,#73a732 127.5px,#74a833 128.5px,#76b42d 133.5px,#73c322 140.5px,#67b320 152.5px,#5b9c22 156.5px,#48831f 160.5px,#3c6f1f 167.5px,#34661c 179.5px,#30621b 192.5px)"></i><i style="left:32px;top:0;width:1px;height:193px;background:linear-gradient(#1d1c33 0.5px,#202133 39.5px,#252933 61.5px,#2b3631 65.5px,#375629 69.5px,#356021 75.5px,#366220 76.5px,#3b6f1e 86.5px,#447a1f 96.5px,#4a851f 103.5px,#4c881f 104.5px,#5ea51f 116.5px,#72a532 127.5px,#73a633 128.5px,#75b22d 133.5px,#72c122 140.5px,#66b120 152.5px,#5a9b22 156.5px,#48821f 160.5px,#3c6e1f 167.5px,#34661c 179.5px,#30611b 192.5px)"></i><i style="left:33px;top:0;width:1px;height:193px;background:linear-gradient(#1d1c33 0.5px,#202133 39.5px,#252933 61.5px,#2b3631 65.5px,#375629 69.5px,#356021 75.5px,#366220 76.5px,#3b6f1e 86.5px,#43791f 96.5px,#4a851f 103.5px,#4b871f 104.5px,#5da41f 116.5px,#70a332 127.5px,#71a433 128.5px,#74b02d 133.5px,#71bf22 140.5px,#65af20 152.5px,#5a9922 156.5px,#47811f 160.5px,#3b6d1f 167.5px,#33651c 180.5px,#2f611b 192.5px)"></i><i style="left:34px;top:0;width:1px;height:193px;background:linear-gradient(#1d1c33 0.5px,#202133 39.5px,#252933 61.5px,#2b3631 65.5px,#375629 69.5px,#356021 75.5px,#356220 76.5px,#3b6f1e 86.5px,#43791f 96.5px,#49841f 103.5px,#4b861f 104.5px,#5ca21f 116.5px,#6fa132 127.5px,#70a233 128.5px,#73af2d 133.5px,#70be22 140.5px,#64ad20 152.5px,#599822 156.5px,#47801f 160.5px,#3b6c1f 167.5px,#33641c 179.5px,#2f601b 192.5px)"></i><i style="left:35px;top:0;width:1px;height:193px;background:linear-gradient(#1d1c33 0.5px,#202133 39.5px,#252933 61.5px,#2b3631 65.5px,#375629 69.5px,#356021 75.5px,#356220 76.5px,#3b6e1e 86.5px,#49831f 103.5px,#5ba11f 116.5px,#6e9f32 127.5px,#6fa033 128.5px,#71ad2d 133.5px,#6fbc22 140.5px,#63ab20 152.5px,#589622 156.5px,#467f1f 160.5px,#3b6c1f 167.5px,#33641c 179.5px,#2f601b 192.5px)"></i><i style="left:36px;top:0;width:1px;height:193px;background:linear-gradient(#1d1c33 0.5px,#202133 39.5px,#252933 61.5px,#2b3531 65.5px,#375629 69.5px,#356021 75.5px,#356220 76.5px,#3b6e1e 86.5px,#48821f 103.5px,#5a9f1f 116.5px,#6d9d32 127.5px,#6e9e33 128.5px,#70ab2d 133.5px,#6eba22 140.5px,#62aa20 152.5px,#579522 156.5px,#457e1f 160.5px,#3a6b1f 167.5px,#33631c 179.5px,#2e5f1b 192.5px)"></i><i style="left:37px;top:0;width:1px;height:193px;background:linear-gradient(#1d1c33 0.5px,#202133 39.5px,#252933 61.5px,#2b3531 65.5px,#375529 69.5px,#356021 75.5px,#356220 76.5px,#3b6e1e 86.5px,#48811f 103.5px,#599d1f 116.5px,#6c9c32 127.5px,#6d9c33 128.5px,#6fa92d 133.5px,#6db822 140.5px,#60a820 152.5px,#569322 156.5px,#457d1f 160.5px,#3a6a1f 167.5px,#32631c 179.5px,#2e5f1b 192.5px)"></i><i style="left:38px;top:0;width:1px;height:193px;background:linear-gradient(#1d1c33 0.5px,#252933 61.5px,#2b3531 65.5px,#365529 69.5px,#356021 75.5px,#356220 76.5px,#3a6e1e 86.5px,#47801f 103.5px,#589c1f 116.5px,#5a9d20 117.5px,#6a9a32 127.5px,#6b9a33 128.5px,#6ea82d 133.5px,#6cb622 140.5px,#5fa620 152.5px,#559222 156.5px,#447c1f 160.5px,#396a1f 167.5px,#32621c 179.5px,#2e5e1b 192.5px)"></i><i style="left:39px;top:0;width:1px;height:193px;background:linear-gradient(#1d1c33 0.5px,#252933 61.5px,#2b3531 65.5px,#365529 69.5px,#356021 75.5px,#356220 76.5px,#3a6c1e 85.5px,#3a6d1e 86.5px,#467f1f 103.5px,#579a1f 116.5px,#599b20 117.5px,#699832 127.5px,#6a9933 128.5px,#6da62d 133.5px,#6ab522 140.5px,#5ea420 152.5px,#549022 156.5px,#447c1f 160.5px,#39691f 167.5px,#32621c 179.5px,#2e5e1b 192.5px)"></i><i style="left:40px;top:0;width:1px;height:193px;background:linear-gradient(#1d1c33 0.5px,#252833 61.5px,#2a3531 65.5px,#365529 69.5px,#356021 75.5px,#356220 76.5px,#3a6c1e 85.5px,#3a6d1e 86.5px,#467e1f 103.5px,#56991f 116.5px,#589a20 117.5px,#689632 127.5px,#699733 128.5px,#6ca62c 134.5px,#69b322 140.5px,#5da320 152.5px,#538f22 156.5px,#437b1f 160.5px,#38681f 167.5px,#31611c 179.5px,#2d5d1b 192.5px)"></i><i style="left:41px;top:0;width:1px;height:193px;background:linear-gradient(#1d1c33 0.5px,#242833 61.5px,#2a3531 65.5px,#365529 69.5px,#356021 75.5px,#356220 76.5px,#396b1e 85.5px,#3a6c1e 86.5px,#447b1f 103.5px,#54941f 116.5px,#559520 117.5px,#659132 127.5px,#669233 128.5px,#69a22c 134.5px,#66ae22 140.5px,#5a9e20 152.5px,#508a22 156.5px,#42781f 160.5px,#37671f 167.5px,#2c5c1b 192.5px)"></i><i style="left:42px;top:0;width:1px;height:193px;background:linear-gradient(#1d1c33 0.5px,#242833 61.5px,#2a3431 65.5px,#365429 69.5px,#356021 75.5px,#386a1e 85.5px,#396b1e 86.5px,#42771f 103.5px,#4f8d1f 116.5px,#518e20 117.5px,#608832 127.5px,#618933 128.5px,#649a2c 134.5px,#62a622 140.5px,#559620 152.5px,#4c8422 156.5px,#3f741f 160.5px,#35641f 167.5px,#2b5a1b 192.5px)"></i><i style="left:43px;top:0;width:1px;height:193px;background:linear-gradient(#1d1c33 0.5px,#242833 61.5px,#2a3331 65.5px,#355429 69.5px,#356021 75.5px,#38691e 85.5px,#386a1e 86.5px,#3f731f 103.5px,#4b861f 116.5px,#4c8720 117.5px,#5b8032 127.5px,#5c8133 128.5px,#5f922c 134.5px,#5d9f22 140.5px,#518e20 152.5px,#3d701f 160.5px,#35621f 166.5px,#34611f 167.5px,#2d5b1c 179.5px,#2a581b 192.5px)"></i><i style="left:44px;top:0;width:1px;height:193px;background:linear-gradient(#1d1c33 0.5px,#232733 61.5px,#232a31 65.5px,#273c29 69.5px,#274921 75.5px,#274a20 76.5px,#28501e 86.5px,#2b531f 103.5px,#315c1f 116.5px,#394933 128.5px,#3b572c 134.5px,#396622 140.5px,#335f20 152.5px,#2a521f 160.5px,#264a1f 167.5px,#1f461b 192.5px)"></i><i style="left:45px;top:0;width:2px;height:193px;background:linear-gradient(#1d1c33 0.5px,#232633 61.5px,#1e2031 65.5px,#1c2030 66.5px,#182529 69.5px,#183221 75.5px,#18371e 86.5px,#18351f 116.5px,#181533 128.5px,#183122 140.5px,#18351f 166.5px,#14351b 192.5px)"></i><i style="left:47px;top:0;width:1px;height:193px;background:linear-gradient(#1d1c33 0.5px,#242733 61.5px,#242833 62.5px,#252c31 65.5px,#2a4229 69.5px,#2a4f21 75.5px,#2a5020 76.5px,#2c561e 86.5px,#305b1f 104.5px,#37661f 116.5px,#415633 128.5px,#43652c 134.5px,#427322 140.5px,#3a6a20 152.5px,#2e591f 160.5px,#294f1f 167.5px,#214a1b 192.5px)"></i><i style="left:48px;top:0;width:1px;height:193px;background:linear-gradient(#1d1c33 0.5px,#242833 61.5px,#2a3431 65.5px,#365429 69.5px,#356021 75.5px,#386a1e 85.5px,#396b1e 86.5px,#41761f 103.5px,#4e8b1f 116.5px,#4f8b20 117.5px,#5e8632 127.5px,#5f8633 128.5px,#62972c 134.5px,#60a422 140.5px,#549320 152.5px,#3e731f 160.5px,#35631f 167.5px,#2b591b 192.5px)"></i><i style="left:49px;top:0;width:1px;height:193px;background:linear-gradient(#1d1c33 0.5px,#242833 61.5px,#2a3531 65.5px,#365529 69.5px,#356021 75.5px,#356220 76.5px,#396c1e 85.5px,#3a6d1e 86.5px,#457d1f 103.5px,#55961f 116.5px,#569720 117.5px,#669332 127.5px,#679433 128.5px,#6aa42c 134.5px,#68b022 140.5px,#5ba020 152.5px,#518c22 156.5px,#42791f 160.5px,#38671f 167.5px,#2d5d1b 192.5px)"></i><i style="left:50px;top:0;width:1px;height:193px;background:linear-gradient(#1e1e33 0.5px,#212333 39.5px,#282e33 57.5px,#292f33 58.5px,#2c3533 61.5px,#2f3b31 65.5px,#395929 69.5px,#3c6c21 75.5px,#3d6e20 76.5px,#49841e 86.5px,#53931f 95.5px,#72c51f 116.5px,#73c620 117.5px,#7db733 128.5px,#7dc22c 134.5px,#79cb23 139.5px,#78cb22 140.5px,#6bb820 152.5px,#61a522 156.5px,#53941f 160.5px,#4b851f 166.5px,#4a841f 167.5px,#407b1b 192.5px)"></i><i style="left:51px;top:0;width:1px;height:193px;background:linear-gradient(#1f2033 0.5px,#242833 39.5px,#313d33 57.5px,#3c4e33 61.5px,#364831 65.5px,#364a30 66.5px,#4a8221 75.5px,#4d8720 76.5px,#65b21e 86.5px,#79d01f 95.5px,#96fe1f 106.5px,#9cff1f 109.5px,#a6ff1f 116.5px,#a6ff20 117.5px,#a6ff2a 123.5px,#a1f133 128.5px,#9cf12d 133.5px,#92f422 140.5px,#81dd20 152.5px,#71c41f 160.5px,#6bb91f 166.5px,#64b51b 192.5px)"></i><i style="left:52px;top:0;width:1px;height:193px;background:linear-gradient(#1f2033 0.5px,#242833 39.5px,#334033 57.5px,#3e5133 61.5px,#384b31 65.5px,#384d30 66.5px,#4f8921 75.5px,#518e20 76.5px,#69b81e 85.5px,#6bbc1e 86.5px,#97ff1f 101.5px,#9fff1f 104.5px,#acff1f 110.5px,#b0ff1f 116.5px,#acff2a 123.5px,#a5f733 128.5px,#9ff52d 133.5px,#94f822 140.5px,#84e120 152.5px,#75cb1f 160.5px,#70c21f 166.5px,#70c11f 167.5px,#6abf1b 192.5px)"></i><i style="left:53px;top:0;width:1px;height:193px;background:linear-gradient(#1f2033 0.5px,#252933 39.5px,#354333 57.5px,#405433 61.5px,#3a4e31 65.5px,#3a5130 66.5px,#539021 75.5px,#569520 76.5px,#6fc21e 85.5px,#72c71e 86.5px,#98ff1f 97.5px,#abff1f 103.5px,#baff1f 110.5px,#baff1f 116.5px,#b3ff28 122.5px,#a8fc33 128.5px,#98fd23 139.5px,#97fc22 140.5px,#7ad21f 160.5px,#75ca1f 166.5px,#75ca1f 167.5px,#70c91b 192.5px)"></i><i style="left:54px;top:0;width:2px;height:193px;background:linear-gradient(#1f2033 0.5px,#252933 39.5px,#364433 57.5px,#415633 61.5px,#3b4f31 65.5px,#3b5230 66.5px,#559321 75.5px,#589920 76.5px,#72c71e 85.5px,#75cc1e 86.5px,#97ff1f 95.5px,#b2ff1f 103.5px,#c1ff1f 110.5px,#bfff1f 116.5px,#beff20 117.5px,#aaff33 128.5px,#9aff23 139.5px,#98fe22 140.5px,#7cd61f 160.5px,#78ce1f 166.5px,#78ce1f 167.5px,#73ce1b 192.5px)"></i><i style="left:56px;top:0;width:1px;height:193px;background:linear-gradient(#1f2033 0.5px,#252933 39.5px,#354233 57.5px,#3f5433 61.5px,#3a4d31 65.5px,#3a5030 66.5px,#528f21 75.5px,#559520 76.5px,#6ec01e 85.5px,#71c51e 86.5px,#96ff1f 97.5px,#a9ff1f 103.5px,#b8ff1f 110.5px,#b9ff1f 116.5px,#b3ff28 122.5px,#a8fb33 128.5px,#98fc23 139.5px,#97fc22 140.5px,#79d11f 160.5px,#75c91f 166.5px,#74c91f 167.5px,#70c81b 192.5px)"></i><i style="left:57px;top:0;width:1px;height:193px;background:linear-gradient(#1f2033 0.5px,#242833 39.5px,#323f33 57.5px,#3d5033 61.5px,#374a31 65.5px,#384c30 66.5px,#4d8621 75.5px,#4f8c20 76.5px,#69b81e 86.5px,#98ff1f 103.5px,#9aff1f 104.5px,#a7ff1f 110.5px,#acff1f 116.5px,#aaff2a 123.5px,#a3f433 128.5px,#9df42d 133.5px,#93f622 140.5px,#83df20 152.5px,#73c81f 160.5px,#6ebf1f 166.5px,#6ebe1f 167.5px,#68bb1b 192.5px)"></i><i style="left:58px;top:0;width:1px;height:193px;background:linear-gradient(#1f2033 0.5px,#242833 39.5px,#313c33 57.5px,#3b4d33 61.5px,#3c4e33 62.5px,#364831 65.5px,#364a30 66.5px,#4a8121 75.5px,#62ad1e 85.5px,#64b11e 86.5px,#78ce1f 95.5px,#90f41f 104.5px,#96ff1f 107.5px,#9cff1f 110.5px,#a4ff1f 116.5px,#a4ff20 117.5px,#a4ff2a 123.5px,#a1f033 128.5px,#9bf02d 133.5px,#91f222 140.5px,#80db20 152.5px,#6fc11f 160.5px,#69b61f 166.5px,#68b51f 167.5px,#61b11b 192.5px)"></i><i style="left:59px;top:0;width:1px;height:193px;background:linear-gradient(#1f2033 0.5px,#242733 39.5px,#242833 40.5px,#2f3933 57.5px,#394933 61.5px,#3a4b33 62.5px,#364831 65.5px,#374b30 66.5px,#487f21 75.5px,#61ac1e 85.5px,#63af1e 86.5px,#96ff1f 109.5px,#9fff1f 116.5px,#a2ff28 122.5px,#a2ff2a 123.5px,#9fee33 128.5px,#98ee2c 134.5px,#8fef22 140.5px,#7ed720 152.5px,#6bbb1f 160.5px,#64af1f 166.5px,#64ae1f 167.5px,#5ca91b 192.5px)"></i><i style="left:60px;top:0;width:1px;height:193px;background:linear-gradient(#1f2033 0.5px,#232733 39.5px,#2d3733 57.5px,#374533 61.5px,#364831 65.5px,#374b30 66.5px,#3b5d29 69.5px,#477d21 75.5px,#498220 76.5px,#62ae1e 86.5px,#92f91f 109.5px,#96ff1f 112.5px,#9bff1f 116.5px,#9fff28 122.5px,#9eec33 128.5px,#97ec2c 134.5px,#8ded22 140.5px,#7cd320 152.5px,#67b51f 160.5px,#60a81f 166.5px,#5fa71f 167.5px,#57a11b 192.5px)"></i><i style="left:61px;top:0;width:1px;height:193px;background:linear-gradient(#1f2033 0.5px,#232633 39.5px,#2c3433 57.5px,#344233 61.5px,#364831 65.5px,#374b30 66.5px,#39562b 68.5px,#467b21 75.5px,#61ac1e 86.5px,#8ef21f 109.5px,#97ff1f 116.5px,#98ff20 117.5px,#9deb32 127.5px,#9de933 128.5px,#96ea2c 134.5px,#8cea22 140.5px,#79d020 152.5px,#64af1f 160.5px,#5ca11f 166.5px,#52991b 192.5px)"></i><i style="left:62px;top:0;width:1px;height:193px;background:linear-gradient(#1f2033 0.5px,#232633 39.5px,#2b3233 57.5px,#333f33 61.5px,#344233 62.5px,#364831 65.5px,#374b30 66.5px,#39562b 68.5px,#457921 75.5px,#61ab1e 86.5px,#8bee1f 109.5px,#94fb1f 116.5px,#95fb20 117.5px,#9ce932 127.5px,#9ce833 128.5px,#95e82c 134.5px,#8be822 140.5px,#78cd20 152.5px,#61ab1f 160.5px,#599d1f 166.5px,#4f941b 192.5px)"></i><i style="left:63px;top:0;width:1px;height:193px;background:linear-gradient(#1f2033 0.5px,#232633 39.5px,#2a3133 57.5px,#323e33 61.5px,#344133 62.5px,#364831 65.5px,#374c30 66.5px,#3a5b29 69.5px,#457921 75.5px,#60aa1e 86.5px,#82df1f 104.5px,#92f91f 116.5px,#9ce932 127.5px,#9be733 128.5px,#94e72c 134.5px,#8ae722 140.5px,#77cc20 152.5px,#60a91f 160.5px,#589a1f 166.5px,#57991f 167.5px,#4d911b 192.5px)"></i><i style="left:64px;top:0;width:1px;height:193px;background:linear-gradient(#1f2033 0.5px,#232633 39.5px,#2a3133 57.5px,#313d33 61.5px,#334033 62.5px,#364831 65.5px,#374c30 66.5px,#3a5a29 69.5px,#447821 75.5px,#60aa1e 86.5px,#81dd1f 104.5px,#91f61f 116.5px,#9be832 127.5px,#9be733 128.5px,#94e72c 134.5px,#8ae622 140.5px,#76cb20 152.5px,#61aa1f 159.5px,#5fa71f 160.5px,#56981f 166.5px,#55971f 167.5px,#4c8e1b 192.5px)"></i><i style="left:65px;top:0;width:1px;height:193px;background:linear-gradient(#1f2033 0.5px,#232633 39.5px,#293033 57.5px,#313c33 61.5px,#323f33 62.5px,#364831 65.5px,#374c30 66.5px,#395a29 69.5px,#447721 75.5px,#5fa91e 86.5px,#80db1f 104.5px,#89e91f 110.5px,#8ff41f 116.5px,#91f520 117.5px,#9be732 127.5px,#9ae633 128.5px,#93e62c 134.5px,#89e622 140.5px,#75ca20 152.5px,#6bb622 156.5px,#60a81f 159.5px,#5da51f 160.5px,#55961f 166.5px,#54941f 167.5px,#4a8c1b 192.5px)"></i><i style="left:66px;top:0;width:1px;height:193px;background:linear-gradient(#1f2033 0.5px,#232533 39.5px,#282f33 57.5px,#303b33 61.5px,#364831 65.5px,#374c30 66.5px,#395a29 69.5px,#437721 75.5px,#5fa91e 86.5px,#7fd91f 104.5px,#8ef21f 116.5px,#8ff220 117.5px,#9ae632 127.5px,#9ae533 128.5px,#93e52c 134.5px,#88e522 140.5px,#75c820 152.5px,#6ab522 156.5px,#5fa61f 159.5px,#5ca31f 160.5px,#53941f 166.5px,#52921f 167.5px,#48891b 192.5px)"></i><i style="left:67px;top:0;width:1px;height:193px;background:linear-gradient(#1f2033 0.5px,#232533 39.5px,#282e33 57.5px,#2f3933 61.5px,#364831 65.5px,#374c30 66.5px,#395929 69.5px,#437621 75.5px,#5fa81e 86.5px,#7cd51f 103.5px,#8def1f 116.5px,#8ef020 117.5px,#9ae532 127.5px,#9ae433 128.5px,#93e52c 134.5px,#88e422 140.5px,#74c720 152.5px,#6ab322 156.5px,#5ea51f 159.5px,#5ba11f 160.5px,#52911f 166.5px,#51901f 167.5px,#47861b 192.5px)"></i><i style="left:68px;top:0;width:1px;height:193px;background:linear-gradient(#1f2033 0.5px,#222533 39.5px,#272d33 57.5px,#2e3833 61.5px,#364831 65.5px,#395929 69.5px,#427521 75.5px,#5ea71e 86.5px,#7bd31f 103.5px,#8bed1f 116.5px,#8cee20 117.5px,#99e532 127.5px,#99e433 128.5px,#92e42c 134.5px,#87e322 140.5px,#73c620 152.5px,#69b222 156.5px,#5a9f1f 160.5px,#518f1f 166.5px,#508d1f 167.5px,#45841b 192.5px)"></i><i style="left:69px;top:0;width:1px;height:193px;background:linear-gradient(#1f2033 0.5px,#222533 39.5px,#272c33 57.5px,#282e33 58.5px,#2e3733 61.5px,#364831 65.5px,#385829 69.5px,#427521 75.5px,#5ea71e 86.5px,#7bd41f 104.5px,#8aeb1f 116.5px,#8bec20 117.5px,#99e432 127.5px,#99e333 128.5px,#92e32c 134.5px,#87e222 140.5px,#72c520 152.5px,#68b022 156.5px,#599d1f 160.5px,#4f8d1f 166.5px,#4e8b1f 167.5px,#44811b 192.5px)"></i><i style="left:70px;top:0;width:3px;height:193px;background:linear-gradient(#1f2033 0.5px,#222533 39.5px,#272c33 57.5px,#282d33 58.5px,#2d3633 61.5px,#364831 65.5px,#385829 69.5px,#427421 75.5px,#5ea61e 86.5px,#7ad21f 104.5px,#88e91f 116.5px,#8aea20 117.5px,#98e332 127.5px,#98e333 128.5px,#91e32c 134.5px,#86e122 140.5px,#72c420 152.5px,#67af22 156.5px,#589b1f 160.5px,#4e8b1f 166.5px,#4d8a1f 167.5px,#427f1b 192.5px)"></i><i style="left:73px;top:0;width:3px;height:193px;background:linear-gradient(#1f2033 0.5px,#222533 39.5px,#272c33 57.5px,#282d33 58.5px,#2d3633 61.5px,#364731 65.5px,#385829 69.5px,#417321 75.5px,#5da51e 86.5px,#79d01f 104.5px,#88e71f 116.5px,#89e820 117.5px,#98e332 127.5px,#98e233 128.5px,#91e22c 134.5px,#86e122 140.5px,#72c420 152.5px,#67af22 156.5px,#5a9f1f 159.5px,#579b1f 160.5px,#4e8a1f 166.5px,#417e1b 192.5px)"></i><i style="left:76px;top:0;width:3px;height:193px;background:linear-gradient(#1f2033 0.5px,#222533 39.5px,#272c33 57.5px,#282d33 58.5px,#2d3633 61.5px,#364731 65.5px,#385729 69.5px,#417221 75.5px,#5ca41e 86.5px,#87e61f 116.5px,#88e720 117.5px,#98e233 128.5px,#91e22c 134.5px,#86e122 140.5px,#71c320 152.5px,#67ae22 156.5px,#5a9e1f 159.5px,#579a1f 160.5px,#4d891f 166.5px,#417c1b 192.5px)"></i><i style="left:79px;top:0;width:3px;height:193px;background:linear-gradient(#1f2033 0.5px,#222533 39.5px,#272c33 57.5px,#282d33 58.5px,#2d3533 61.5px,#354631 65.5px,#375729 69.5px,#407221 75.5px,#5ca31e 86.5px,#86e41f 116.5px,#87e520 117.5px,#98e233 128.5px,#91e22c 134.5px,#86e022 140.5px,#71c320 152.5px,#66ae22 156.5px,#599d1f 159.5px,#56991f 160.5px,#4c881f 166.5px,#407b1b 192.5px)"></i><i style="left:82px;top:0;width:3px;height:193px;background:linear-gradient(#1f2033 0.5px,#222533 39.5px,#282d33 58.5px,#2c3533 61.5px,#354631 65.5px,#375629 69.5px,#407121 75.5px,#5ba21e 86.5px,#85e31f 116.5px,#86e420 117.5px,#98e133 128.5px,#91e12c 134.5px,#86e022 140.5px,#71c320 152.5px,#66ad22 156.5px,#599c1f 159.5px,#55981f 160.5px,#4c881f 166.5px,#3f7a1b 192.5px)"></i><i style="left:85px;top:0;width:3px;height:193px;background:linear-gradient(#1f2033 0.5px,#222533 39.5px,#272d33 58.5px,#2c3533 61.5px,#354631 65.5px,#375629 69.5px,#3f7021 75.5px,#5aa11e 86.5px,#84e11f 116.5px,#85e320 117.5px,#97e133 128.5px,#90e12c 134.5px,#85e022 140.5px,#71c220 152.5px,#65ad22 156.5px,#589b1f 159.5px,#55971f 160.5px,#4b871f 166.5px,#3e781b 192.5px)"></i><i style="left:88px;top:0;width:3px;height:193px;background:linear-gradient(#1f2033 0.5px,#222533 39.5px,#272d33 58.5px,#2c3533 61.5px,#354531 65.5px,#375629 69.5px,#3f7021 75.5px,#5aa01e 86.5px,#83e01f 116.5px,#8ee428 122.5px,#97e133 128.5px,#90e12c 134.5px,#85e022 140.5px,#71c220 152.5px,#65ac22 156.5px,#54961f 160.5px,#4b861f 166.5px,#4a841f 167.5px,#3d771b 192.5px)"></i><i style="left:91px;top:0;width:3px;height:193px;background:linear-gradient(#1f2033 0.5px,#222533 39.5px,#272d33 58.5px,#2c3433 61.5px,#344531 65.5px,#365529 69.5px,#3e6f21 75.5px,#599f1e 86.5px,#82de1f 116.5px,#8de328 122.5px,#97e033 128.5px,#90e02c 134.5px,#85df22 140.5px,#71c220 152.5px,#65ab22 156.5px,#54951f 160.5px,#4a851f 166.5px,#49831f 167.5px,#3c761b 192.5px)"></i><i style="left:94px;top:0;width:3px;height:193px;background:linear-gradient(#1f2033 0.5px,#222533 39.5px,#272d33 58.5px,#2c3433 61.5px,#344431 65.5px,#365529 69.5px,#3e6e21 75.5px,#589e1e 86.5px,#81dd1f 116.5px,#8de228 122.5px,#97e033 128.5px,#90e02c 134.5px,#85df22 140.5px,#70c220 152.5px,#64ab22 156.5px,#53941f 160.5px,#4a841f 166.5px,#49821f 167.5px,#3c741b 192.5px)"></i><i style="left:97px;top:0;width:3px;height:193px;background:linear-gradient(#1f2033 0.5px,#222533 39.5px,#272d33 58.5px,#2c3433 61.5px,#344431 65.5px,#3e6d21 75.5px,#589d1e 86.5px,#80db1f 116.5px,#8ce128 122.5px,#97e033 128.5px,#90e02c 134.5px,#85df22 140.5px,#70c120 152.5px,#64aa22 156.5px,#56981f 159.5px,#53931f 160.5px,#49831f 166.5px,#3b731b 192.5px)"></i><i style="left:100px;top:0;width:3px;height:193px;background:linear-gradient(#1f2033 0.5px,#222533 39.5px,#272d33 58.5px,#2b3433 61.5px,#334331 65.5px,#3d6d21 75.5px,#579c1e 86.5px,#6cbb1f 103.5px,#7fda1f 116.5px,#8be028 122.5px,#97e033 128.5px,#8fe02c 134.5px,#84de22 140.5px,#70c120 152.5px,#64aa22 156.5px,#55971f 159.5px,#52931f 160.5px,#49821f 166.5px,#3a721b 192.5px)"></i><i style="left:103px;top:0;width:3px;height:193px;background:linear-gradient(#1f2033 0.5px,#222533 39.5px,#272d33 58.5px,#2b3333 61.5px,#334331 65.5px,#3d6c21 75.5px,#569a1e 86.5px,#6cbb1f 104.5px,#7ed81f 116.5px,#8de02a 123.5px,#96df33 128.5px,#8fdf2c 134.5px,#84de22 140.5px,#70c120 152.5px,#63a922 156.5px,#52921f 160.5px,#48811f 166.5px,#3f771c 179.5px,#39701b 192.5px)"></i><i style="left:106px;top:0;width:105px;height:193px;background:linear-gradient(#1f2033 0.5px,#222533 39.5px,#272d33 58.5px,#2b3333 61.5px,#334331 65.5px,#3c6c21 75.5px,#569a1e 86.5px,#6bba1f 104.5px,#7ed81f 116.5px,#8ddf2a 123.5px,#96df33 128.5px,#8fdf2c 134.5px,#84de22 140.5px,#70c020 152.5px,#63a922 156.5px,#51911f 160.5px,#48811f 166.5px,#3e761c 179.5px,#39701b 192.5px)"></i><i style="left:211px;top:0;width:1px;height:193px;background:linear-gradient(#1f2033 0.5px,#222533 39.5px,#272c33 57.5px,#374633 61.5px,#3b4c33 62.5px,#415931 65.5px,#4a8221 75.5px,#64b01e 86.5px,#79d11f 104.5px,#8cef1f 116.5px,#99f628 122.5px,#a5f633 128.5px,#9df62c 134.5px,#92f522 140.5px,#7ed720 152.5px,#71c022 156.5px,#5fa81f 160.5px,#56981f 166.5px,#4d8d1c 179.5px,#47871b 192.5px)"></i><i style="left:212px;top:0;width:1px;height:193px;background:linear-gradient(#1f2033 0.5px,#222533 39.5px,#272d33 58.5px,#2c3433 61.5px,#344531 65.5px,#365529 69.5px,#3e6f21 75.5px,#599e1e 86.5px,#71c31f 104.5px,#88e81f 116.5px,#96f028 122.5px,#9eec32 127.5px,#9eec33 128.5px,#97ea2d 133.5px,#89e522 140.5px,#74c720 152.5px,#69b122 156.5px,#589b1f 160.5px,#4e8b1f 166.5px,#4d891f 167.5px,#407c1b 192.5px)"></i><i style="left:213px;top:0;width:1px;height:193px;background:linear-gradient(#1f2033 0.5px,#222533 39.5px,#272d33 58.5px,#2c3533 61.5px,#354631 65.5px,#375629 69.5px,#3f7021 75.5px,#5aa11e 86.5px,#72c51f 103.5px,#8df01f 116.5px,#9bf928 122.5px,#a2f332 127.5px,#a2f233 128.5px,#9bf02d 133.5px,#8be922 140.5px,#76ca20 152.5px,#6bb622 156.5px,#5ba11f 160.5px,#51901f 166.5px,#44821b 192.5px)"></i><i style="left:214px;top:0;width:1px;height:193px;background:linear-gradient(#1f2033 0.5px,#222533 39.5px,#282d33 58.5px,#2d3533 61.5px,#354631 65.5px,#375729 69.5px,#407221 75.5px,#5aa01e 85.5px,#5ca31e 86.5px,#75ca1f 103.5px,#92f81f 116.5px,#9cff25 120.5px,#a1ff28 122.5px,#a6fa32 127.5px,#a6f933 128.5px,#9ff52d 133.5px,#8eed22 140.5px,#78cd20 152.5px,#6eba22 156.5px,#5ea61f 160.5px,#55951f 166.5px,#48881b 192.5px)"></i><i style="left:215px;top:0;width:1px;height:193px;background:linear-gradient(#1f2033 0.5px,#222533 39.5px,#282d33 58.5px,#2d3633 61.5px,#364731 65.5px,#385829 69.5px,#417321 75.5px,#5ba21e 85.5px,#5da51e 86.5px,#78ce1f 103.5px,#7ad21f 104.5px,#97ff1f 116.5px,#a7ff28 122.5px,#abff32 127.5px,#aaff33 128.5px,#a2fb2d 133.5px,#92f323 139.5px,#90f122 140.5px,#78cd20 153.5px,#71bf22 156.5px,#61ab1f 160.5px,#589b1f 166.5px,#57991f 167.5px,#4c8e1b 192.5px)"></i><i style="left:216px;top:0;width:6px;height:193px;background:linear-gradient(#1f2033 0.5px,#222533 39.5px,#282d33 58.5px,#2d3633 61.5px,#364831 65.5px,#385829 69.5px,#427421 75.5px,#5ca31e 85.5px,#5ea71e 86.5px,#79d01f 103.5px,#7bd41f 104.5px,#97ff1f 115.5px,#9aff1f 116.5px,#a9ff28 122.5px,#adff32 127.5px,#acff33 128.5px,#a4fe2d 133.5px,#94f523 139.5px,#91f322 140.5px,#72c122 156.5px,#63ae1f 160.5px,#599d1f 166.5px,#589c1f 167.5px,#4e921b 192.5px)"></i><i style="left:222px;top:0;width:1px;height:193px;background:linear-gradient(#1f2033 0.5px,#222533 39.5px,#272d33 58.5px,#2d3633 61.5px,#364731 65.5px,#385829 69.5px,#417321 75.5px,#5aa11e 85.5px,#5ca41e 86.5px,#77cd1f 103.5px,#79d11f 104.5px,#98ff1f 116.5px,#a7ff28 122.5px,#aaff32 127.5px,#aaff33 128.5px,#a2fb2d 133.5px,#93f323 139.5px,#90f122 140.5px,#78ce20 153.5px,#71c022 156.5px,#62ac1f 160.5px,#589c1f 166.5px,#579a1f 167.5px,#4d901b 192.5px)"></i><i style="left:223px;top:0;width:1px;height:193px;background:linear-gradient(#1f1f33 0.5px,#222433 39.5px,#272d33 58.5px,#2c3533 61.5px,#354631 65.5px,#407221 75.5px,#589c1e 85.5px,#5aa01e 86.5px,#73c71f 103.5px,#93fa1f 116.5px,#9aff23 119.5px,#a2ff28 122.5px,#a6f932 127.5px,#a5f833 128.5px,#9ef52d 133.5px,#8eee22 140.5px,#79cf20 152.5px,#70bd22 156.5px,#60a91f 160.5px,#56981f 166.5px,#55961f 167.5px,#4a8c1b 192.5px)"></i><i style="left:224px;top:0;width:1px;height:193px;background:linear-gradient(#1f1f33 0.5px,#222433 39.5px,#272c33 58.5px,#2b3433 61.5px,#344431 65.5px,#354930 66.5px,#3f7021 75.5px,#55981e 85.5px,#579b1e 86.5px,#70c11f 103.5px,#8ef21f 116.5px,#9dfc28 122.5px,#a1f232 127.5px,#a1f033 128.5px,#9bef2d 133.5px,#8cea22 140.5px,#77cd20 152.5px,#6eba22 156.5px,#5ea51f 160.5px,#54941f 166.5px,#53931f 167.5px,#48881b 192.5px)"></i><i style="left:225px;top:0;width:1px;height:193px;background:linear-gradient(#1f1f33 0.5px,#222433 39.5px,#262c33 58.5px,#2b3233 61.5px,#334331 65.5px,#354830 66.5px,#3e6e21 75.5px,#407220 76.5px,#52941e 85.5px,#54961e 86.5px,#6cbb1f 103.5px,#89eb1f 116.5px,#98f328 122.5px,#9dea32 127.5px,#9ce933 128.5px,#97ea2d 133.5px,#8ae722 140.5px,#76cb20 152.5px,#6cb822 156.5px,#5ca21f 160.5px,#52911f 166.5px,#508f1f 167.5px,#45841b 192.5px)"></i><i style="left:226px;top:0;width:1px;height:193px;background:linear-gradient(#1e1f33 0.5px,#212433 39.5px,#262b33 58.5px,#2a3133 61.5px,#324131 65.5px,#37532b 68.5px,#3d6d21 75.5px,#3e7020 76.5px,#4f8f1e 85.5px,#51921e 86.5px,#68b51f 103.5px,#85e31f 116.5px,#92eb28 122.5px,#98e332 127.5px,#98e233 128.5px,#92e42c 134.5px,#87e322 140.5px,#75c920 152.5px,#6bb522 156.5px,#5a9f1f 160.5px,#4f8d1f 166.5px,#4e8b1f 167.5px,#43801b 192.5px)"></i><i style="left:227px;top:0;width:1px;height:193px;background:linear-gradient(#1e1e33 0.5px,#212333 39.5px,#262a33 58.5px,#293033 61.5px,#314031 65.5px,#37532b 68.5px,#3c6b21 75.5px,#3d6e20 76.5px,#4d8b1e 85.5px,#4e8d1e 86.5px,#64af1f 103.5px,#80db1f 116.5px,#8de328 122.5px,#94db33 128.5px,#8fdf2c 134.5px,#85df22 140.5px,#73c620 152.5px,#69b222 156.5px,#579b1f 160.5px,#4d891f 166.5px,#4c881f 167.5px,#45801c 179.5px,#407c1b 192.5px)"></i><i style="left:228px;top:0;width:1px;height:193px;background:linear-gradient(#1e1e33 0.5px,#212333 39.5px,#252a33 58.5px,#292f33 61.5px,#2a3233 62.5px,#303e31 65.5px,#36522b 68.5px,#385729 69.5px,#3b6921 75.5px,#3c6c20 76.5px,#4a861e 85.5px,#4b881e 86.5px,#61a91f 103.5px,#7bd41f 116.5px,#88db28 122.5px,#8fd433 128.5px,#8bd92c 134.5px,#83dc22 140.5px,#72c420 152.5px,#67b022 156.5px,#55981f 160.5px,#4b861f 166.5px,#427d1c 179.5px,#3e781b 192.5px)"></i><i style="left:229px;top:0;width:1px;height:193px;background:linear-gradient(#1e1e33 0.5px,#252933 58.5px,#282e33 61.5px,#293133 62.5px,#2f3d31 65.5px,#385729 69.5px,#3a6721 75.5px,#3b6a20 76.5px,#48831e 86.5px,#5ca21f 103.5px,#76cc1f 116.5px,#83d228 122.5px,#8acc33 128.5px,#88d32c 134.5px,#80d822 140.5px,#71c220 152.5px,#66ad22 156.5px,#53941f 160.5px,#48821f 166.5px,#40781c 179.5px,#3b731b 192.5px)"></i><i style="left:230px;top:0;width:1px;height:193px;background:linear-gradient(#1e1d33 0.5px,#212233 40.5px,#272d33 61.5px,#2e3b31 65.5px,#385729 69.5px,#386521 75.5px,#396820 76.5px,#457e1e 86.5px,#589b1f 103.5px,#71c31f 116.5px,#7dc828 122.5px,#85c333 128.5px,#84cd2c 134.5px,#7fd423 139.5px,#7ed422 140.5px,#6fbf20 152.5px,#64aa22 156.5px,#51901f 160.5px,#467d1f 166.5px,#447c1f 167.5px,#3c731c 180.5px,#386f1b 192.5px)"></i><i style="left:231px;top:0;width:1px;height:193px;background:linear-gradient(#1d1d33 0.5px,#212233 40.5px,#262b33 61.5px,#2d3931 65.5px,#375729 69.5px,#376321 75.5px,#386520 76.5px,#41791e 86.5px,#54941f 103.5px,#6bba1f 116.5px,#80bb33 128.5px,#80c42d 133.5px,#7ccf23 139.5px,#7bcf22 140.5px,#6dbd20 152.5px,#62a622 156.5px,#4e8c1f 160.5px,#42771f 167.5px,#396e1c 180.5px,#356a1b 192.5px)"></i><i style="left:232px;top:0;width:1px;height:193px;background:linear-gradient(#1d1d33 0.5px,#202233 40.5px,#252a33 61.5px,#2c3731 65.5px,#375729 69.5px,#366121 75.5px,#366320 76.5px,#3e731e 86.5px,#4f8d1f 103.5px,#66b11f 116.5px,#7ab232 127.5px,#7bb333 128.5px,#7cbe2d 133.5px,#79cb23 139.5px,#79cb22 140.5px,#6cba20 152.5px,#60a322 156.5px,#4c881f 160.5px,#3f731f 167.5px,#366a1c 180.5px,#32661b 192.5px)"></i><i style="left:233px;top:0;width:1px;height:193px;background:linear-gradient(#1d1c33 0.5px,#202233 40.5px,#252933 61.5px,#2b3631 65.5px,#375729 69.5px,#356021 75.5px,#366220 76.5px,#3c701e 86.5px,#4d891f 103.5px,#62ab1f 116.5px,#76ac32 127.5px,#77ad33 128.5px,#79b92d 133.5px,#76c822 140.5px,#6ab720 152.5px,#5ea122 156.5px,#4a861f 160.5px,#3d701f 167.5px,#35681c 179.5px,#31631b 192.5px)"></i><i style="left:234px;top:0;width:1px;height:193px;background:linear-gradient(#1d1c33 0.5px,#202133 39.5px,#252933 61.5px,#2b3631 65.5px,#375629 69.5px,#356021 75.5px,#366220 76.5px,#3c701e 86.5px,#4c871f 103.5px,#61a91f 116.5px,#74a932 127.5px,#75aa33 128.5px,#77b62d 133.5px,#75c522 140.5px,#68b520 152.5px,#5d9e22 156.5px,#49841f 160.5px,#3d6f1f 167.5px,#35671c 179.5px,#30621b 192.5px)"></i><i style="left:235px;top:0;width:1px;height:193px;background:linear-gradient(#1d1c33 0.5px,#202133 39.5px,#252933 61.5px,#2b3631 65.5px,#375629 69.5px,#356021 75.5px,#366220 76.5px,#3c701e 86.5px,#447a1f 96.5px,#4b861f 103.5px,#4c881f 104.5px,#5fa61f 116.5px,#72a632 127.5px,#73a733 128.5px,#75b32d 133.5px,#73c222 140.5px,#67b220 152.5px,#5b9c22 156.5px,#48831f 160.5px,#3c6e1f 167.5px,#34661c 179.5px,#30611b 192.5px)"></i><i style="left:236px;top:0;width:1px;height:193px;background:linear-gradient(#1d1c33 0.5px,#202133 39.5px,#252933 61.5px,#2b3631 65.5px,#375629 69.5px,#356021 75.5px,#366220 76.5px,#3b6f1e 86.5px,#43791f 96.5px,#4a851f 103.5px,#4b871f 104.5px,#5da41f 116.5px,#70a332 127.5px,#71a433 128.5px,#74b12d 133.5px,#71bf22 140.5px,#65af20 152.5px,#5a9922 156.5px,#47811f 160.5px,#3b6d1f 167.5px,#34651c 179.5px,#2f611b 192.5px)"></i><i style="left:237px;top:0;width:1px;height:193px;background:linear-gradient(#1d1c33 0.5px,#202133 39.5px,#252933 61.5px,#2b3631 65.5px,#375629 69.5px,#356021 75.5px,#356220 76.5px,#3b6f1e 86.5px,#49831f 103.5px,#5ca11f 116.5px,#6fa032 127.5px,#70a133 128.5px,#72ae2d 133.5px,#6fbd22 140.5px,#63ac20 152.5px,#589722 156.5px,#46801f 160.5px,#3b6c1f 167.5px,#33641c 179.5px,#2f601b 192.5px)"></i><i style="left:238px;top:0;width:1px;height:193px;background:linear-gradient(#1d1c33 0.5px,#202133 39.5px,#252933 61.5px,#2b3531 65.5px,#375629 69.5px,#356021 75.5px,#356220 76.5px,#3b6e1e 86.5px,#48821f 103.5px,#5a9f1f 116.5px,#6d9d32 127.5px,#6e9e33 128.5px,#70ab2d 133.5px,#6eba22 140.5px,#61aa20 152.5px,#579522 156.5px,#457e1f 160.5px,#3a6b1f 167.5px,#33631c 179.5px,#2e5f1b 192.5px)"></i><i style="left:239px;top:0;width:1px;height:193px;background:linear-gradient(#1d1c33 0.5px,#252933 61.5px,#2b3531 65.5px,#365529 69.5px,#356021 75.5px,#356220 76.5px,#3a6e1e 86.5px,#47801f 103.5px,#599c1f 116.5px,#5a9d20 117.5px,#6b9a32 127.5px,#6c9b33 128.5px,#6ea82d 133.5px,#6cb722 140.5px,#60a720 152.5px,#559222 156.5px,#457d1f 160.5px,#396a1f 167.5px,#32621c 179.5px,#2e5e1b 192.5px)"></i><i style="left:240px;top:0;width:1px;height:193px;background:linear-gradient(#1d1c33 0.5px,#252933 61.5px,#2b3531 65.5px,#365529 69.5px,#356021 75.5px,#356220 76.5px,#3a6c1e 85.5px,#3a6d1e 86.5px,#467f1f 103.5px,#579a1f 116.5px,#599b20 117.5px,#699732 127.5px,#6a9833 128.5px,#6da52d 133.5px,#6ab422 140.5px,#5ea420 152.5px,#549022 156.5px,#447b1f 160.5px,#39691f 167.5px,#32621c 179.5px,#2d5e1b 192.5px)"></i><i style="left:241px;top:0;width:1px;height:193px;background:linear-gradient(#1d1c33 0.5px,#242833 61.5px,#2a3531 65.5px,#365529 69.5px,#356021 75.5px,#356220 76.5px,#396c1e 85.5px,#3a6d1e 86.5px,#457d1f 103.5px,#56971f 116.5px,#579820 117.5px,#679432 127.5px,#689533 128.5px,#6ba52c 134.5px,#69b122 140.5px,#5ca120 152.5px,#528d22 156.5px,#437a1f 160.5px,#38681f 167.5px,#31601c 180.5px,#2d5d1b 192.5px)"></i><i style="left:242px;top:0;width:1px;height:193px;background:linear-gradient(#1d1c33 0.5px,#242833 61.5px,#2a3531 65.5px,#365529 69.5px,#356021 75.5px,#356220 76.5px,#396b1e 85.5px,#3a6c1e 86.5px,#447c1f 103.5px,#54951f 116.5px,#559620 117.5px,#659132 127.5px,#669233 128.5px,#69a22c 134.5px,#67af22 140.5px,#5b9e20 152.5px,#518b22 156.5px,#42781f 160.5px,#37671f 167.5px,#2d5c1b 192.5px)"></i><i style="left:243px;top:0;width:1px;height:193px;background:linear-gradient(#1d1c33 0.5px,#242833 61.5px,#2a3431 65.5px,#365429 69.5px,#356021 75.5px,#396b1e 85.5px,#396b1e 86.5px,#43791f 103.5px,#51901f 116.5px,#529120 117.5px,#628b32 127.5px,#638c33 128.5px,#669d2c 134.5px,#63a922 140.5px,#579920 152.5px,#4e8622 156.5px,#40751f 160.5px,#36651f 167.5px,#2c5b1b 192.5px)"></i><i style="left:244px;top:0;width:1px;height:193px;background:linear-gradient(#1d1c33 0.5px,#242833 61.5px,#2a3431 65.5px,#355429 69.5px,#356021 75.5px,#38691e 85.5px,#386a1e 86.5px,#40741f 103.5px,#4c881f 116.5px,#4d8920 117.5px,#5c8232 127.5px,#5d8333 128.5px,#61942c 134.5px,#5ea122 140.5px,#529020 152.5px,#3d711f 160.5px,#34611f 167.5px,#2a581b 192.5px)"></i><i style="left:245px;top:0;width:1px;height:193px;background:linear-gradient(#1d1c33 0.5px,#232633 57.5px,#242733 61.5px,#242b31 65.5px,#294029 69.5px,#294c21 75.5px,#294e20 76.5px,#2a541e 86.5px,#2e571f 103.5px,#34611f 116.5px,#3d5033 128.5px,#405f2c 134.5px,#3e6d22 140.5px,#376620 152.5px,#2c561f 160.5px,#274d1f 167.5px,#20481b 192.5px)"></i><i style="left:246px;top:0;width:2px;height:193px;background:linear-gradient(#1d1c33 0.5px,#232633 61.5px,#1e2031 65.5px,#1c2030 66.5px,#182529 69.5px,#183221 75.5px,#18371e 86.5px,#18351f 116.5px,#181533 128.5px,#183122 140.5px,#18351f 166.5px,#14351b 192.5px)"></i><i style="left:248px;top:0;width:2px;height:193px;background:linear-gradient(#1d1c33 0.5px,#242833 61.5px,#293331 65.5px,#355329 69.5px,#356021 75.5px,#37691e 85.5px,#38691e 86.5px,#3e711f 103.5px,#49831f 116.5px,#4a8320 117.5px,#597d33 128.5px,#5d8e2c 134.5px,#5a9b22 140.5px,#4e8b20 152.5px,#3b6e1f 160.5px,#34611f 166.5px,#335f1f 167.5px,#2d5a1c 179.5px,#29571b 192.5px)"></i><i style="left:250px;top:0;width:6px;height:193px;background:linear-gradient(#2a3233 0.5px,#303b33 61.5px,#2b3631 65.5px,#293630 66.5px,#263a29 69.5px,#264721 75.5px,#264c1e 86.5px,#264a1f 116.5px,#262a33 128.5px,#264622 140.5px,#264a1f 166.5px,#214a1b 192.5px)"></i><i style="left:256px;top:0;width:1px;height:193px;background:linear-gradient(#1d1c33 0.5px,#242833 61.5px,#293331 65.5px,#355329 69.5px,#356021 75.5px,#37691e 85.5px,#38691e 86.5px,#3e711f 103.5px,#49831f 116.5px,#4a8320 117.5px,#597d33 128.5px,#5d8e2c 134.5px,#5a9b22 140.5px,#4e8b20 152.5px,#3b6e1f 160.5px,#34611f 166.5px,#335f1f 167.5px,#2d5a1c 179.5px,#29571b 192.5px)"></i><i style="left:257px;top:0;width:1px;height:193px;background:linear-gradient(#1d1c33 0.5px,#242833 61.5px,#2a3431 65.5px,#365429 69.5px,#356021 75.5px,#396a1e 85.5px,#396b1e 86.5px,#42781f 103.5px,#508e1f 116.5px,#518f20 117.5px,#618a32 127.5px,#628b33 128.5px,#659b2c 134.5px,#62a822 140.5px,#569720 152.5px,#4d8522 156.5px,#3f751f 160.5px,#36641f 167.5px,#2b5a1b 192.5px)"></i><i style="left:258px;top:0;width:1px;height:193px;background:linear-gradient(#1d1c33 0.5px,#252933 61.5px,#2b3531 65.5px,#365529 69.5px,#356021 75.5px,#356220 76.5px,#3a6c1e 85.5px,#3a6d1e 86.5px,#467f1f 103.5px,#579a1f 116.5px,#599b20 117.5px,#699832 127.5px,#6a9933 128.5px,#6da62d 133.5px,#6bb522 140.5px,#5ea420 152.5px,#549022 156.5px,#447c1f 160.5px,#39691f 167.5px,#32621c 179.5px,#2e5e1b 192.5px)"></i><i style="left:259px;top:0;width:1px;height:193px;background:linear-gradient(#1d1d33 0.5px,#212333 39.5px,#272c33 58.5px,#293033 61.5px,#2d3931 65.5px,#385829 69.5px,#3a6721 75.5px,#3a6920 76.5px,#437c1e 86.5px,#4e8a1f 96.5px,#6ab81f 116.5px,#78b032 127.5px,#79b033 128.5px,#7aba2d 133.5px,#76c623 139.5px,#76c622 140.5px,#68b520 152.5px,#5ea122 156.5px,#4e8d1f 160.5px,#457d1f 166.5px,#447b1f 167.5px,#3d741c 179.5px,#39711b 192.5px)"></i><i style="left:260px;top:0;width:1px;height:193px;background:linear-gradient(#1e1f33 0.5px,#222533 39.5px,#232633 40.5px,#2c3433 57.5px,#333f33 61.5px,#334133 62.5px,#324131 65.5px,#3a5c29 69.5px,#427421 75.5px,#437820 76.5px,#54971e 86.5px,#63ac1f 95.5px,#80dc1f 110.5px,#88e81f 116.5px,#89e820 117.5px,#8ddf2a 123.5px,#8dd033 128.5px,#8bd52d 133.5px,#84dd22 140.5px,#75c920 152.5px,#62ab1f 159.5px,#60a81f 160.5px,#589b1f 166.5px,#579a1f 167.5px,#4f931b 192.5px)"></i><i style="left:261px;top:0;width:1px;height:193px;background:linear-gradient(#1f2033 0.5px,#242833 39.5px,#313d33 57.5px,#3c4e33 61.5px,#364831 65.5px,#364a30 66.5px,#4a8221 75.5px,#4d8720 76.5px,#65b21e 86.5px,#79d01f 95.5px,#96fe1f 106.5px,#9cff1f 109.5px,#a6ff1f 116.5px,#a6ff20 117.5px,#a6ff2a 123.5px,#a1f133 128.5px,#9cf12d 133.5px,#92f422 140.5px,#81dd20 152.5px,#71c41f 160.5px,#6bb91f 166.5px,#64b51b 192.5px)"></i><i style="left:262px;top:0;width:1px;height:193px;background:linear-gradient(#1f2033 0.5px,#242833 39.5px,#323f33 57.5px,#3d5033 61.5px,#374a31 65.5px,#384c30 66.5px,#4d8621 75.5px,#4f8c20 76.5px,#69b81e 86.5px,#98ff1f 103.5px,#9aff1f 104.5px,#a7ff1f 110.5px,#acff1f 116.5px,#aaff2a 123.5px,#a3f433 128.5px,#9df42d 133.5px,#93f622 140.5px,#83df20 152.5px,#73c81f 160.5px,#6ebf1f 166.5px,#6ebe1f 167.5px,#68bb1b 192.5px)"></i><i style="left:263px;top:0;width:1px;height:193px;background:linear-gradient(#1f2033 0.5px,#242833 39.5px,#344133 57.5px,#3e5233 61.5px,#384b31 65.5px,#394e30 66.5px,#508b21 75.5px,#529020 76.5px,#6aba1e 85.5px,#6dbf1e 86.5px,#97ff1f 100.5px,#a3ff1f 104.5px,#afff1f 110.5px,#b2ff1f 116.5px,#adff2a 123.5px,#a6f833 128.5px,#95f922 140.5px,#85e220 152.5px,#76cd1f 160.5px,#71c41f 166.5px,#71c31f 167.5px,#6cc21b 192.5px)"></i><i style="left:264px;top:0;width:1px;height:193px;background:linear-gradient(#1f2033 0.5px,#252933 39.5px,#354233 57.5px,#3f5433 61.5px,#3a4d31 65.5px,#3a5030 66.5px,#528f21 75.5px,#559520 76.5px,#6ec01e 85.5px,#71c51e 86.5px,#96ff1f 97.5px,#a9ff1f 103.5px,#b8ff1f 110.5px,#b9ff1f 116.5px,#b3ff28 122.5px,#a8fb33 128.5px,#98fc23 139.5px,#97fc22 140.5px,#79d11f 160.5px,#75c91f 166.5px,#74c91f 167.5px,#70c81b 192.5px)"></i><i style="left:265px;top:0;width:4px;height:193px;background:linear-gradient(#1f2033 0.5px,#252933 39.5px,#364433 57.5px,#415633 61.5px,#3b4f31 65.5px,#3b5230 66.5px,#559321 75.5px,#589920 76.5px,#72c71e 85.5px,#75cc1e 86.5px,#97ff1f 95.5px,#b2ff1f 103.5px,#c1ff1f 110.5px,#bfff1f 116.5px,#beff20 117.5px,#aaff33 128.5px,#9aff23 139.5px,#98fe22 140.5px,#7cd61f 160.5px,#78ce1f 166.5px,#78ce1f 167.5px,#73ce1b 192.5px)"></i><i style="left:269px;top:0;width:1px;height:193px;background:linear-gradient(#1f2033 0.5px,#252933 39.5px,#344133 57.5px,#3f5333 61.5px,#394c31 65.5px,#394f30 66.5px,#518c21 75.5px,#539220 76.5px,#6cbd1e 85.5px,#6fc21e 86.5px,#97ff1f 99.5px,#a4ff1f 103.5px,#b3ff1f 110.5px,#b5ff1f 116.5px,#b0ff28 122.5px,#a7f933 128.5px,#97fb23 139.5px,#96fa22 140.5px,#85e320 152.5px,#77ce1f 160.5px,#73c61f 166.5px,#72c51f 167.5px,#6dc41b 192.5px)"></i><i style="left:270px;top:0;width:1px;height:193px;background:linear-gradient(#1f2033 0.5px,#242833 39.5px,#323f33 57.5px,#3d5033 61.5px,#374931 65.5px,#374c30 66.5px,#4c8521 75.5px,#4f8b20 76.5px,#68b71e 86.5px,#7fda1f 95.5px,#96fe1f 103.5px,#98ff1f 104.5px,#a5ff1f 110.5px,#abff1f 116.5px,#a9ff2a 123.5px,#a3f433 128.5px,#9df32d 133.5px,#93f622 140.5px,#83df20 152.5px,#73c71f 160.5px,#6ebe1f 166.5px,#6dbd1f 167.5px,#67ba1b 192.5px)"></i><i style="left:271px;top:0;width:1px;height:193px;background:linear-gradient(#1f2033 0.5px,#242733 39.5px,#303b33 57.5px,#3a4c33 61.5px,#3b4d33 62.5px,#364831 65.5px,#364b30 66.5px,#498021 75.5px,#62ad1e 85.5px,#64b11e 86.5px,#77cd1f 95.5px,#8ff31f 104.5px,#97ff1f 108.5px,#9bff1f 110.5px,#a2ff1f 116.5px,#a3ff20 117.5px,#a4ff2a 123.5px,#a0ef33 128.5px,#9bef2d 133.5px,#90f122 140.5px,#80da20 152.5px,#6ebf1f 160.5px,#68b41f 166.5px,#67b31f 167.5px,#60af1b 192.5px)"></i><i style="left:272px;top:0;width:1px;height:193px;background:linear-gradient(#1f2033 0.5px,#232733 39.5px,#242733 40.5px,#2e3733 57.5px,#374633 61.5px,#384833 62.5px,#364831 65.5px,#374b30 66.5px,#477d21 75.5px,#62ae1e 86.5px,#93fa1f 109.5px,#97ff1f 112.5px,#9cff1f 116.5px,#9fff28 122.5px,#9eec33 128.5px,#97ec2c 134.5px,#8eed22 140.5px,#7cd420 152.5px,#68b61f 160.5px,#61a91f 166.5px,#60a81f 167.5px,#58a21b 192.5px)"></i><i style="left:273px;top:0;width:1px;height:193px;background:linear-gradient(#1f2033 0.5px,#232633 39.5px,#2b3333 57.5px,#334033 61.5px,#364831 65.5px,#374b30 66.5px,#39562b 68.5px,#457a21 75.5px,#61ab1e 86.5px,#8cef1f 109.5px,#95fd1f 116.5px,#96fd20 117.5px,#9cea32 127.5px,#9ce933 128.5px,#95e92c 134.5px,#8be922 140.5px,#78ce20 152.5px,#62ac1f 160.5px,#5a9f1f 166.5px,#51961b 192.5px)"></i><i style="left:274px;top:0;width:1px;height:193px;background:linear-gradient(#1f2033 0.5px,#232633 39.5px,#2a3133 57.5px,#313d33 61.5px,#334033 62.5px,#364831 65.5px,#374c30 66.5px,#3a5a29 69.5px,#447821 75.5px,#60aa1e 86.5px,#81dd1f 104.5px,#91f71f 116.5px,#9be832 127.5px,#9be733 128.5px,#94e72c 134.5px,#8ae722 140.5px,#76cb20 152.5px,#62ab1f 159.5px,#5fa71f 160.5px,#57991f 166.5px,#56971f 167.5px,#4c8f1b 192.5px)"></i><i style="left:275px;top:0;width:1px;height:193px;background:linear-gradient(#1f2033 0.5px,#232633 39.5px,#293033 57.5px,#313c33 61.5px,#334033 62.5px,#364831 65.5px,#374c30 66.5px,#395a29 69.5px,#447821 75.5px,#60a91e 86.5px,#80dc1f 104.5px,#89ea1f 110.5px,#90f51f 116.5px,#9be732 127.5px,#9be633 128.5px,#94e62c 134.5px,#89e622 140.5px,#76ca20 152.5px,#6cb722 156.5px,#61a91f 159.5px,#5ea61f 160.5px,#56971f 166.5px,#55961f 167.5px,#4b8d1b 192.5px)"></i><i style="left:276px;top:0;width:1px;height:193px;background:linear-gradient(#1f2033 0.5px,#232633 39.5px,#293033 57.5px,#313c33 61.5px,#323f33 62.5px,#364831 65.5px,#374c30 66.5px,#395a29 69.5px,#447721 75.5px,#5fa91e 86.5px,#80db1f 104.5px,#89e91f 110.5px,#8ff41f 116.5px,#91f520 117.5px,#9be732 127.5px,#9ae633 128.5px,#93e62c 134.5px,#89e622 140.5px,#75ca20 152.5px,#6bb622 156.5px,#60a81f 159.5px,#5da51f 160.5px,#55961f 166.5px,#54941f 167.5px,#4a8c1b 192.5px)"></i><i style="left:277px;top:0;width:1px;height:193px;background:linear-gradient(#1f2033 0.5px,#232533 39.5px,#292f33 57.5px,#303b33 61.5px,#364831 65.5px,#374c30 66.5px,#437721 75.5px,#5fa91e 86.5px,#7fda1f 104.5px,#8ff31f 116.5px,#90f320 117.5px,#9ae732 127.5px,#9ae533 128.5px,#93e62c 134.5px,#89e522 140.5px,#75c920 152.5px,#6bb522 156.5px,#5fa71f 159.5px,#5da41f 160.5px,#54941f 166.5px,#53931f 167.5px,#498a1b 192.5px)"></i><i style="left:278px;top:0;width:1px;height:193px;background:linear-gradient(#1f2033 0.5px,#232533 39.5px,#282f33 57.5px,#303a33 61.5px,#364831 65.5px,#374c30 66.5px,#395929 69.5px,#437621 75.5px,#5fa81e 86.5px,#7ed91f 104.5px,#8ef11f 116.5px,#8ff220 117.5px,#9ae632 127.5px,#9ae533 128.5px,#93e52c 134.5px,#88e422 140.5px,#74c820 152.5px,#6ab422 156.5px,#5fa61f 159.5px,#5ca21f 160.5px,#53931f 166.5px,#52921f 167.5px,#48891b 192.5px)"></i><i style="left:279px;top:0;width:1px;height:193px;background:linear-gradient(#1f2033 0.5px,#232533 39.5px,#282e33 57.5px,#2f3a33 61.5px,#364831 65.5px,#374c30 66.5px,#395929 69.5px,#437621 75.5px,#5fa81e 86.5px,#7cd51f 103.5px,#8df01f 116.5px,#8ef120 117.5px,#9ae632 127.5px,#9ae533 128.5px,#93e52c 134.5px,#88e422 140.5px,#74c720 152.5px,#6ab322 156.5px,#5ea51f 159.5px,#5ba11f 160.5px,#52921f 166.5px,#51901f 167.5px,#47871b 192.5px)"></i><i style="left:280px;top:0;width:1px;height:193px;background:linear-gradient(#1f2033 0.5px,#222533 39.5px,#282e33 57.5px,#2f3933 61.5px,#364831 65.5px,#395929 69.5px,#437621 75.5px,#5fa81e 86.5px,#7bd41f 103.5px,#8cef1f 116.5px,#8def20 117.5px,#99e532 127.5px,#99e433 128.5px,#92e42c 134.5px,#88e322 140.5px,#74c720 152.5px,#69b322 156.5px,#5da41f 159.5px,#5aa01f 160.5px,#51901f 166.5px,#508f1f 167.5px,#46851b 192.5px)"></i><i style="left:281px;top:0;width:1px;height:193px;background:linear-gradient(#1f2033 0.5px,#222533 39.5px,#272d33 57.5px,#2e3833 61.5px,#364831 65.5px,#395929 69.5px,#427521 75.5px,#5ea71e 86.5px,#7bd31f 103.5px,#8bed1f 116.5px,#8cee20 117.5px,#99e532 127.5px,#99e433 128.5px,#92e42c 134.5px,#87e322 140.5px,#73c620 152.5px,#69b222 156.5px,#5a9f1f 160.5px,#518f1f 166.5px,#508d1f 167.5px,#45841b 192.5px)"></i><i style="left:282px;top:0;width:1px;height:193px;background:linear-gradient(#1f2033 0.5px,#222533 39.5px,#272d33 57.5px,#282e33 58.5px,#2e3733 61.5px,#364831 65.5px,#385929 69.5px,#427521 75.5px,#5ea71e 86.5px,#7ad21f 103.5px,#8aec1f 116.5px,#8bed20 117.5px,#99e432 127.5px,#99e333 128.5px,#92e32c 134.5px,#87e222 140.5px,#73c520 152.5px,#68b122 156.5px,#599e1f 160.5px,#508e1f 166.5px,#4f8c1f 167.5px,#44821b 192.5px)"></i><i style="left:283px;top:0;width:3px;height:193px;background:linear-gradient(#1f2033 0.5px,#222533 39.5px,#272c33 57.5px,#282e33 58.5px,#2d3633 61.5px,#364831 65.5px,#385829 69.5px,#427421 75.5px,#5ea61e 86.5px,#7bd31f 104.5px,#89ea1f 116.5px,#8aea20 117.5px,#98e332 127.5px,#98e333 128.5px,#91e32c 134.5px,#86e222 140.5px,#72c420 152.5px,#67b022 156.5px,#589c1f 160.5px,#4e8c1f 166.5px,#4d8a1f 167.5px,#43801b 192.5px)"></i><i style="left:286px;top:0;width:3px;height:193px;background:linear-gradient(#1f2033 0.5px,#222533 39.5px,#272c33 57.5px,#282d33 58.5px,#2d3633 61.5px,#364831 65.5px,#385829 69.5px,#417421 75.5px,#5da61e 86.5px,#79d11f 104.5px,#88e81f 116.5px,#89e920 117.5px,#98e332 127.5px,#98e233 128.5px,#91e22c 134.5px,#86e122 140.5px,#72c420 152.5px,#67af22 156.5px,#579b1f 160.5px,#4e8b1f 166.5px,#4d891f 167.5px,#427f1b 192.5px)"></i><i style="left:289px;top:0;width:3px;height:193px;background:linear-gradient(#1f2033 0.5px,#222533 39.5px,#272c33 57.5px,#282d33 58.5px,#2d3633 61.5px,#364731 65.5px,#385829 69.5px,#417321 75.5px,#5da51e 86.5px,#87e71f 116.5px,#89e820 117.5px,#98e332 127.5px,#98e233 128.5px,#91e22c 134.5px,#86e122 140.5px,#72c420 152.5px,#67af22 156.5px,#5a9f1f 159.5px,#579a1f 160.5px,#4d8a1f 166.5px,#417e1b 192.5px)"></i><i style="left:292px;top:0;width:3px;height:193px;background:linear-gradient(#1f2033 0.5px,#222533 39.5px,#272c33 57.5px,#282d33 58.5px,#2d3633 61.5px,#364731 65.5px,#385729 69.5px,#417321 75.5px,#5ca41e 86.5px,#87e61f 116.5px,#88e720 117.5px,#98e233 128.5px,#91e22c 134.5px,#86e122 140.5px,#72c320 152.5px,#67ae22 156.5px,#5a9e1f 159.5px,#579a1f 160.5px,#4d891f 166.5px,#417d1b 192.5px)"></i><i style="left:295px;top:0;width:3px;height:193px;background:linear-gradient(#1f2033 0.5px,#222533 39.5px,#272c33 57.5px,#282d33 58.5px,#2d3633 61.5px,#354731 65.5px,#375729 69.5px,#407221 75.5px,#5ca31e 86.5px,#86e51f 116.5px,#87e620 117.5px,#98e233 128.5px,#91e22c 134.5px,#86e122 140.5px,#71c320 152.5px,#66ae22 156.5px,#599d1f 159.5px,#56991f 160.5px,#4d891f 166.5px,#407c1b 192.5px)"></i><i style="left:298px;top:0;width:3px;height:193px;background:linear-gradient(#1f2033 0.5px,#222533 39.5px,#272c33 57.5px,#282d33 58.5px,#2d3533 61.5px,#354631 65.5px,#375729 69.5px,#407121 75.5px,#5ba31e 86.5px,#85e41f 116.5px,#87e520 117.5px,#98e233 128.5px,#91e22c 134.5px,#86e022 140.5px,#71c320 152.5px,#66ad22 156.5px,#599d1f 159.5px,#56981f 160.5px,#4c881f 166.5px,#3f7b1b 192.5px)"></i><i style="left:301px;top:0;width:3px;height:193px;background:linear-gradient(#1f2033 0.5px,#222533 39.5px,#282d33 58.5px,#2c3533 61.5px,#354631 65.5px,#375629 69.5px,#407121 75.5px,#5ba21e 86.5px,#85e31f 116.5px,#86e420 117.5px,#98e133 128.5px,#91e12c 134.5px,#86e022 140.5px,#71c320 152.5px,#66ad22 156.5px,#589c1f 159.5px,#55981f 160.5px,#4c871f 166.5px,#3f7a1b 192.5px)"></i><i style="left:304px;top:0;width:3px;height:193px;background:linear-gradient(#1f2033 0.5px,#222533 39.5px,#272d33 58.5px,#2c3533 61.5px,#354631 65.5px,#375629 69.5px,#3f7021 75.5px,#5aa11e 86.5px,#84e21f 116.5px,#85e320 117.5px,#97e133 128.5px,#90e12c 134.5px,#85e022 140.5px,#71c220 152.5px,#66ad22 156.5px,#589b1f 159.5px,#55971f 160.5px,#4b871f 166.5px,#3e791b 192.5px)"></i><i style="left:307px;top:0;width:3px;height:193px;background:linear-gradient(#1f2033 0.5px,#222533 39.5px,#272d33 58.5px,#2c3533 61.5px,#354531 65.5px,#375629 69.5px,#3f7021 75.5px,#5aa01e 86.5px,#83e01f 116.5px,#8ee428 122.5px,#97e133 128.5px,#90e12c 134.5px,#85e022 140.5px,#71c220 152.5px,#65ac22 156.5px,#55961f 160.5px,#4b861f 166.5px,#4a841f 167.5px,#3e781b 192.5px)"></i><i style="left:310px;top:0;width:3px;height:193px;background:linear-gradient(#1f2033 0.5px,#222533 39.5px,#272d33 58.5px,#2c3533 61.5px,#344531 65.5px,#375629 69.5px,#3f6f21 75.5px,#599f1e 86.5px,#82df1f 116.5px,#8ee328 122.5px,#97e133 128.5px,#90e12c 134.5px,#85df22 140.5px,#71c220 152.5px,#65ac22 156.5px,#54961f 160.5px,#4b851f 166.5px,#49841f 167.5px,#3d771b 192.5px)"></i><i style="left:313px;top:0;width:3px;height:193px;background:linear-gradient(#1f2033 0.5px,#222533 39.5px,#272d33 58.5px,#2c3433 61.5px,#344531 65.5px,#365529 69.5px,#3e6f21 75.5px,#599f1e 86.5px,#82de1f 116.5px,#8de328 122.5px,#97e033 128.5px,#90e02c 134.5px,#85df22 140.5px,#71c220 152.5px,#65ab22 156.5px,#54951f 160.5px,#4a851f 166.5px,#49831f 167.5px,#3c761b 192.5px)"></i><i style="left:316px;top:0;width:3px;height:193px;background:linear-gradient(#1f2033 0.5px,#222533 39.5px,#272d33 58.5px,#2c3433 61.5px,#344431 65.5px,#365529 69.5px,#3e6e21 75.5px,#589e1e 86.5px,#81dd1f 116.5px,#8de228 122.5px,#97e033 128.5px,#90e02c 134.5px,#85df22 140.5px,#70c220 152.5px,#64ab22 156.5px,#53941f 160.5px,#4a841f 166.5px,#49821f 167.5px,#3c751b 192.5px)"></i><i style="left:319px;top:0;width:3px;height:193px;background:linear-gradient(#1f2033 0.5px,#222533 39.5px,#272d33 58.5px,#2c3433 61.5px,#344431 65.5px,#3e6e21 75.5px,#589d1e 86.5px,#80dc1f 116.5px,#8ce128 122.5px,#97e033 128.5px,#90e02c 134.5px,#85df22 140.5px,#70c120 152.5px,#64ab22 156.5px,#56981f 159.5px,#53941f 160.5px,#49831f 166.5px,#3b741b 192.5px)"></i><i style="left:322px;top:0;width:3px;height:193px;background:linear-gradient(#1f2033 0.5px,#222533 39.5px,#272d33 58.5px,#2c3433 61.5px,#344431 65.5px,#3d6d21 75.5px,#579c1e 86.5px,#80db1f 116.5px,#8ce128 122.5px,#97e033 128.5px,#90e02c 134.5px,#85df22 140.5px,#70c120 152.5px,#64aa22 156.5px,#56981f 159.5px,#52931f 160.5px,#49831f 166.5px,#3b731b 192.5px)"></i><i style="left:325px;top:0;width:3px;height:193px;background:linear-gradient(#1f2033 0.5px,#222533 39.5px,#272d33 58.5px,#2b3433 61.5px,#334331 65.5px,#3d6d21 75.5px,#579b1e 86.5px,#6cbb1f 103.5px,#7fda1f 116.5px,#8be028 122.5px,#96e033 128.5px,#8fe02c 134.5px,#84de22 140.5px,#70c120 152.5px,#64aa22 156.5px,#52921f 160.5px,#49821f 166.5px,#3a721b 192.5px)"></i><i style="left:328px;top:0;width:3px;height:193px;background:linear-gradient(#1f2033 0.5px,#222533 39.5px,#272d33 58.5px,#2b3333 61.5px,#334331 65.5px,#3d6c21 75.5px,#569b1e 86.5px,#6cbb1f 104.5px,#7ed91f 116.5px,#8de02a 123.5px,#96df33 128.5px,#8fdf2c 134.5px,#84de22 140.5px,#70c120 152.5px,#63a922 156.5px,#52921f 160.5px,#48811f 166.5px,#3f771c 179.5px,#39711b 192.5px)"></i><i style="left:331px;top:0;width:85px;height:193px;background:linear-gradient(#1f2033 0.5px,#222533 39.5px,#272d33 58.5px,#2b3333 61.5px,#334331 65.5px,#3c6c21 75.5px,#569a1e 86.5px,#6bba1f 104.5px,#7ed81f 116.5px,#8ddf2a 123.5px,#96df33 128.5px,#8fdf2c 134.5px,#84de22 140.5px,#70c020 152.5px,#63a922 156.5px,#51911f 160.5px,#48811f 166.5px,#3e761c 179.5px,#39701b 192.5px)"></i><i style="left:416px;top:0;width:1px;height:193px;background:linear-gradient(#1f2033 0.5px,#222533 39.5px,#272c33 57.5px,#354333 61.5px,#384833 62.5px,#3e5531 65.5px,#477d21 75.5px,#61ac1e 86.5px,#76cc1f 104.5px,#89e91f 116.5px,#98f12a 123.5px,#a1f133 128.5px,#9af12c 134.5px,#8ff022 140.5px,#7bd220 152.5px,#6ebb22 156.5px,#5ca31f 160.5px,#53931f 166.5px,#4a881c 179.5px,#44821b 192.5px)"></i><i style="left:417px;top:0;width:1px;height:193px;background:linear-gradient(#1f2033 0.5px,#222533 39.5px,#272d33 58.5px,#2b3433 61.5px,#334331 65.5px,#3d6d21 75.5px,#579b1e 86.5px,#6dbd1f 104.5px,#81dc1f 116.5px,#8ee428 122.5px,#98e333 128.5px,#91e22c 134.5px,#86e022 140.5px,#71c220 152.5px,#65ab22 156.5px,#53941f 160.5px,#4a841f 166.5px,#3b731b 192.5px)"></i><i style="left:418px;top:0;width:1px;height:193px;background:linear-gradient(#1f2033 0.5px,#222533 39.5px,#272d33 58.5px,#2c3433 61.5px,#344431 65.5px,#365529 69.5px,#3e6e21 75.5px,#589e1e 86.5px,#70c21f 104.5px,#86e51f 116.5px,#94ed28 122.5px,#96ee2a 123.5px,#9dea33 128.5px,#95e82c 134.5px,#88e422 140.5px,#73c620 152.5px,#68b022 156.5px,#579a1f 160.5px,#4d891f 166.5px,#4c881f 167.5px,#3f7a1b 192.5px)"></i><i style="left:419px;top:0;width:1px;height:193px;background:linear-gradient(#1f2033 0.5px,#222533 39.5px,#272d33 58.5px,#2c3533 61.5px,#354531 65.5px,#375629 69.5px,#3f7021 75.5px,#5aa01e 86.5px,#71c41f 103.5px,#8bed1f 116.5px,#99f628 122.5px,#a1f132 127.5px,#a1f033 128.5px,#9aee2d 133.5px,#8ae822 140.5px,#75c920 152.5px,#6ab422 156.5px,#5a9f1f 160.5px,#508e1f 166.5px,#43801b 192.5px)"></i><i style="left:420px;top:0;width:1px;height:193px;background:linear-gradient(#1f2033 0.5px,#222533 39.5px,#282d33 58.5px,#2c3533 61.5px,#354631 65.5px,#375629 69.5px,#407121 75.5px,#5ba21e 86.5px,#73c71f 103.5px,#8ff41f 116.5px,#9efe28 122.5px,#a4f632 127.5px,#a4f533 128.5px,#9df22d 133.5px,#8ceb22 140.5px,#77cc20 152.5px,#6db822 156.5px,#5ca31f 160.5px,#53931f 166.5px,#46851b 192.5px)"></i><i style="left:421px;top:0;width:1px;height:193px;background:linear-gradient(#1f2033 0.5px,#222533 39.5px,#282d33 58.5px,#2d3633 61.5px,#364731 65.5px,#385729 69.5px,#417221 75.5px,#5aa01e 85.5px,#5ca41e 86.5px,#76cb1f 103.5px,#94fb1f 116.5px,#98ff21 118.5px,#a3ff28 122.5px,#a8fc32 127.5px,#a7fa33 128.5px,#a0f72d 133.5px,#8eee22 140.5px,#78ce20 152.5px,#6fbc22 156.5px,#5fa71f 160.5px,#55971f 166.5px,#54951f 167.5px,#498a1b 192.5px)"></i><i style="left:422px;top:0;width:1px;height:193px;background:linear-gradient(#1f2033 0.5px,#222533 39.5px,#282d33 58.5px,#2d3633 61.5px,#364831 65.5px,#385829 69.5px,#417421 75.5px,#5ba21e 85.5px,#5da61e 86.5px,#78cf1f 103.5px,#7ad21f 104.5px,#98ff1f 116.5px,#a7ff28 122.5px,#abff32 127.5px,#aaff33 128.5px,#a2fc2d 133.5px,#93f423 139.5px,#90f222 140.5px,#78cd20 153.5px,#71bf22 156.5px,#62ac1f 160.5px,#589b1f 166.5px,#579a1f 167.5px,#4c8f1b 192.5px)"></i><i style="left:423px;top:0;width:5px;height:193px;background:linear-gradient(#1f2033 0.5px,#222533 39.5px,#282d33 58.5px,#2d3633 61.5px,#364831 65.5px,#385829 69.5px,#427421 75.5px,#5ca31e 85.5px,#5ea71e 86.5px,#79d01f 103.5px,#7bd41f 104.5px,#97ff1f 115.5px,#9aff1f 116.5px,#a9ff28 122.5px,#adff32 127.5px,#acff33 128.5px,#a4fe2d 133.5px,#94f523 139.5px,#91f322 140.5px,#72c122 156.5px,#63ae1f 160.5px,#599d1f 166.5px,#589c1f 167.5px,#4e921b 192.5px)"></i><i style="left:428px;top:0;width:1px;height:193px;background:linear-gradient(#1f2033 0.5px,#222533 39.5px,#282d33 58.5px,#2d3633 61.5px,#364731 65.5px,#385829 69.5px,#417421 75.5px,#5ba21e 85.5px,#5da51e 86.5px,#78cf1f 103.5px,#7ad21f 104.5px,#96ff1f 115.5px,#99ff1f 116.5px,#a8ff28 122.5px,#abff32 127.5px,#abff33 128.5px,#a3fc2d 133.5px,#93f423 139.5px,#91f222 140.5px,#78ce20 153.5px,#72c022 156.5px,#62ad1f 160.5px,#599c1f 166.5px,#589b1f 167.5px,#4d901b 192.5px)"></i><i style="left:429px;top:0;width:1px;height:193px;background:linear-gradient(#1f2033 0.5px,#222533 39.5px,#272d33 58.5px,#2d3533 61.5px,#354731 65.5px,#385829 69.5px,#417321 75.5px,#599f1e 85.5px,#5ba21e 86.5px,#76cb1f 103.5px,#96fe1f 116.5px,#98ff20 117.5px,#a5ff28 122.5px,#a9fe32 127.5px,#a8fc33 128.5px,#a1f92d 133.5px,#8ff022 140.5px,#78cd20 153.5px,#71bf22 156.5px,#61ab1f 160.5px,#589a1f 166.5px,#56991f 167.5px,#4c8e1b 192.5px)"></i><i style="left:430px;top:0;width:1px;height:193px;background:linear-gradient(#1f1f33 0.5px,#222433 39.5px,#272d33 58.5px,#2c3533 61.5px,#354631 65.5px,#407221 75.5px,#589d1e 85.5px,#5aa01e 86.5px,#74c81f 103.5px,#93fa1f 116.5px,#9bff23 119.5px,#a2ff28 122.5px,#a6f932 127.5px,#a6f833 128.5px,#9ff52d 133.5px,#8eee22 140.5px,#79cf20 152.5px,#70bd22 156.5px,#60a91f 160.5px,#56981f 166.5px,#55961f 167.5px,#4a8c1b 192.5px)"></i><i style="left:431px;top:0;width:1px;height:193px;background:linear-gradient(#1f1f33 0.5px,#222433 39.5px,#272c33 58.5px,#2c3433 61.5px,#344531 65.5px,#407121 75.5px,#569a1e 85.5px,#589d1e 86.5px,#71c41f 103.5px,#90f61f 116.5px,#9fff28 122.5px,#a3f532 127.5px,#a3f433 128.5px,#9cf22d 133.5px,#8dec22 140.5px,#78ce20 152.5px,#6fbc22 156.5px,#5fa71f 160.5px,#55961f 166.5px,#49891b 192.5px)"></i><i style="left:432px;top:0;width:1px;height:193px;background:linear-gradient(#1f1f33 0.5px,#222433 39.5px,#272c33 58.5px,#2b3333 61.5px,#344431 65.5px,#354930 66.5px,#3f7021 75.5px,#55971e 85.5px,#569a1e 86.5px,#6fc01f 103.5px,#8ef11f 116.5px,#9cfb28 122.5px,#a1f132 127.5px,#a0ef33 128.5px,#9aef2d 133.5px,#8cea22 140.5px,#77cd20 152.5px,#6eba22 156.5px,#5da51f 160.5px,#54941f 166.5px,#52921f 167.5px,#47871b 192.5px)"></i><i style="left:433px;top:0;width:1px;height:193px;background:linear-gradient(#1f1f33 0.5px,#222433 39.5px,#272c33 58.5px,#2b3333 61.5px,#334331 65.5px,#354830 66.5px,#3e6f21 75.5px,#53951e 85.5px,#55981e 86.5px,#6dbd1f 103.5px,#8bed1f 116.5px,#99f628 122.5px,#9eec32 127.5px,#9eeb33 128.5px,#98eb2d 133.5px,#8ae822 140.5px,#77cb20 152.5px,#6db822 156.5px,#5ca31f 160.5px,#52921f 166.5px,#51901f 167.5px,#46851b 192.5px)"></i><i style="left:434px;top:0;width:1px;height:193px;background:linear-gradient(#1e1f33 0.5px,#222433 39.5px,#262b33 58.5px,#2a3233 61.5px,#334231 65.5px,#344730 66.5px,#3e6e21 75.5px,#3f7120 76.5px,#51921e 85.5px,#53951e 86.5px,#6bb91f 103.5px,#88e81f 116.5px,#96f128 122.5px,#9be832 127.5px,#9be733 128.5px,#95e82c 134.5px,#89e522 140.5px,#76ca20 152.5px,#6cb722 156.5px,#5ba11f 160.5px,#51901f 166.5px,#508e1f 167.5px,#44831b 192.5px)"></i><i style="left:435px;top:0;width:1px;height:193px;background:linear-gradient(#1e1f33 0.5px,#212433 39.5px,#262b33 58.5px,#2a3133 61.5px,#324131 65.5px,#37532b 68.5px,#3d6d21 75.5px,#3e7020 76.5px,#50901e 85.5px,#51921e 86.5px,#69b61f 103.5px,#85e41f 116.5px,#93ec28 122.5px,#99e432 127.5px,#99e333 128.5px,#93e52c 134.5px,#88e322 140.5px,#75c920 152.5px,#6bb522 156.5px,#5a9f1f 160.5px,#508d1f 166.5px,#4e8c1f 167.5px,#43801b 192.5px)"></i><i style="left:436px;top:0;width:1px;height:193px;background:linear-gradient(#1e1e33 0.5px,#212333 39.5px,#262b33 58.5px,#293033 61.5px,#314031 65.5px,#37532b 68.5px,#3c6b21 75.5px,#3d6f20 76.5px,#4d8c1e 85.5px,#4f8e1e 86.5px,#65b11f 103.5px,#81dd1f 116.5px,#8fe528 122.5px,#94dd32 127.5px,#95dd33 128.5px,#90e02c 134.5px,#86e022 140.5px,#74c720 152.5px,#69b322 156.5px,#589c1f 160.5px,#4e8a1f 166.5px,#4c881f 167.5px,#45811c 179.5px,#417d1b 192.5px)"></i><i style="left:437px;top:0;width:1px;height:193px;background:linear-gradient(#1e1e33 0.5px,#212333 39.5px,#252a33 58.5px,#292f33 61.5px,#2a3233 62.5px,#303e31 65.5px,#36522b 68.5px,#385729 69.5px,#3b6921 75.5px,#3c6c20 76.5px,#4a871e 85.5px,#4b891e 86.5px,#61a91f 103.5px,#7cd41f 116.5px,#89dc28 122.5px,#8fd433 128.5px,#8cd92c 134.5px,#83dc22 140.5px,#72c420 152.5px,#68b022 156.5px,#55981f 160.5px,#4b861f 166.5px,#427d1c 179.5px,#3e781b 192.5px)"></i><i style="left:438px;top:0;width:1px;height:193px;background:linear-gradient(#1e1e33 0.5px,#252933 58.5px,#282e33 61.5px,#293133 62.5px,#2f3d31 65.5px,#385729 69.5px,#3a6721 75.5px,#3b6a20 76.5px,#48831e 86.5px,#5ca21f 103.5px,#76cc1f 116.5px,#83d228 122.5px,#8acc33 128.5px,#88d32c 134.5px,#80d822 140.5px,#71c220 152.5px,#66ad22 156.5px,#53941f 160.5px,#48821f 166.5px,#40781c 179.5px,#3b731b 192.5px)"></i><i style="left:439px;top:0;width:1px;height:193px;background:linear-gradient(#1e1d33 0.5px,#212233 40.5px,#272d33 61.5px,#2e3b31 65.5px,#385729 69.5px,#386521 75.5px,#396820 76.5px,#457e1e 86.5px,#589b1f 103.5px,#71c31f 116.5px,#7dc828 122.5px,#85c333 128.5px,#84cd2c 134.5px,#7fd423 139.5px,#7ed422 140.5px,#6fbf20 152.5px,#64aa22 156.5px,#51901f 160.5px,#467d1f 166.5px,#447c1f 167.5px,#3d741c 179.5px,#386f1b 192.5px)"></i><i style="left:440px;top:0;width:1px;height:193px;background:linear-gradient(#1d1d33 0.5px,#212233 40.5px,#262b33 61.5px,#2d3931 65.5px,#375729 69.5px,#376321 75.5px,#386520 76.5px,#41791e 86.5px,#54941f 103.5px,#6bba1f 116.5px,#80bb33 128.5px,#80c42d 133.5px,#7ccf23 139.5px,#7bcf22 140.5px,#6dbd20 152.5px,#62a622 156.5px,#4e8c1f 160.5px,#42771f 167.5px,#3a6f1c 179.5px,#356a1b 192.5px)"></i><i style="left:441px;top:0;width:1px;height:193px;background:linear-gradient(#1d1d33 0.5px,#202233 40.5px,#252a33 61.5px,#2c3731 65.5px,#375729 69.5px,#366121 75.5px,#366320 76.5px,#3e731e 86.5px,#4f8d1f 103.5px,#66b11f 116.5px,#7ab232 127.5px,#7bb333 128.5px,#7cbe2d 133.5px,#79cb23 139.5px,#79cb22 140.5px,#6cba20 152.5px,#60a322 156.5px,#4c881f 160.5px,#3f731f 167.5px,#376a1c 179.5px,#32661b 192.5px)"></i><i style="left:442px;top:0;width:10px;height:193px;background:linear-gradient(#1d1c33 0.5px,#202233 40.5px,#252933 61.5px,#2b3731 65.5px,#375729 69.5px,#356021 75.5px,#366220 76.5px,#3c711e 86.5px,#4d8a1f 103.5px,#63ad1f 116.5px,#77ae32 127.5px,#78ae33 128.5px,#7aba2d 133.5px,#77c922 140.5px,#6bb920 152.5px,#5fa222 156.5px,#4a861f 160.5px,#3e711f 167.5px,#36681c 179.5px,#31631b 192.5px)"></i><i style="left:452px;top:0;width:1px;height:193px;background:linear-gradient(#1d1c33 0.5px,#242833 61.5px,#2a3431 65.5px,#355429 69.5px,#356021 75.5px,#38691e 85.5px,#386a1e 86.5px,#3f741f 103.5px,#4b861f 116.5px,#4c8720 117.5px,#5b8132 127.5px,#5c8133 128.5px,#60932c 134.5px,#5d9f22 140.5px,#518f20 152.5px,#3d701f 160.5px,#35621f 166.5px,#34611f 167.5px,#2d5b1c 179.5px,#2a581b 192.5px)"></i><i style="left:453px;top:0;width:3px;height:193px;background:linear-gradient(#1d1c33 0.5px,#242833 61.5px,#293331 65.5px,#355329 69.5px,#356021 75.5px,#37691e 85.5px,#38691e 86.5px,#3e711f 103.5px,#49831f 116.5px,#4a8320 117.5px,#597d33 128.5px,#5d8e2c 134.5px,#5a9b22 140.5px,#4e8b20 152.5px,#3b6e1f 160.5px,#34611f 166.5px,#335f1f 167.5px,#2d5a1c 179.5px,#29571b 192.5px)"></i><i style="left:456px;top:0;width:1px;height:193px;background:linear-gradient(#1d1c33 0.5px,#242833 61.5px,#2a3531 65.5px,#365529 69.5px,#356021 75.5px,#356220 76.5px,#396c1e 85.5px,#3a6d1e 86.5px,#457d1f 103.5px,#56981f 116.5px,#579920 117.5px,#679532 127.5px,#689633 128.5px,#6ba62c 134.5px,#69b222 140.5px,#5da220 152.5px,#528e22 156.5px,#437a1f 160.5px,#38681f 167.5px,#31611c 179.5px,#2d5d1b 192.5px)"></i><i style="left:457px;top:0;width:1px;height:193px;background:linear-gradient(#1d1c33 0.5px,#202133 39.5px,#252933 61.5px,#2b3631 65.5px,#375629 69.5px,#356021 75.5px,#366220 76.5px,#3c701e 86.5px,#4c871f 103.5px,#60a91f 116.5px,#74a932 127.5px,#75a933 128.5px,#77b62d 133.5px,#74c422 140.5px,#68b420 152.5px,#5c9e22 156.5px,#49841f 160.5px,#3d6f1f 167.5px,#35671c 179.5px,#30621b 192.5px)"></i><i style="left:458px;top:0;width:1px;height:193px;background:linear-gradient(#1d1c33 0.5px,#202133 39.5px,#252933 61.5px,#2b3631 65.5px,#375629 69.5px,#356021 75.5px,#356220 76.5px,#3b6e1e 86.5px,#49821f 103.5px,#5ba01f 116.5px,#6e9f32 127.5px,#6fa033 128.5px,#71ac2d 133.5px,#6fbb22 140.5px,#62ab20 152.5px,#579622 156.5px,#467f1f 160.5px,#3a6c1f 167.5px,#33641c 179.5px,#2f601b 192.5px)"></i><i style="left:459px;top:0;width:1px;height:193px;background:linear-gradient(#1d1c33 0.5px,#242833 61.5px,#2a3531 65.5px,#365529 69.5px,#356021 75.5px,#356220 76.5px,#396c1e 85.5px,#3a6d1e 86.5px,#457d1f 103.5px,#56981f 116.5px,#579920 117.5px,#679532 127.5px,#689633 128.5px,#6ba62c 134.5px,#69b222 140.5px,#5da220 152.5px,#528e22 156.5px,#437a1f 160.5px,#38681f 167.5px,#31611c 179.5px,#2d5d1b 192.5px)"></i><i style="left:460px;top:0;width:1px;height:193px;background:linear-gradient(#1d1c33 0.5px,#242833 61.5px,#2a3431 65.5px,#365429 69.5px,#356021 75.5px,#396b1e 85.5px,#396b1e 86.5px,#42791f 103.5px,#518f1f 116.5px,#529020 117.5px,#618b32 127.5px,#628c33 128.5px,#669c2c 134.5px,#63a922 140.5px,#579820 152.5px,#4d8622 156.5px,#40751f 160.5px,#36651f 167.5px,#2b5b1b 192.5px)"></i><i style="left:461px;top:0;width:2px;height:193px;background:linear-gradient(#1d1c33 0.5px,#232633 61.5px,#1e2031 65.5px,#1c2030 66.5px,#182529 69.5px,#183221 75.5px,#18371e 86.5px,#18351f 116.5px,#181533 128.5px,#183122 140.5px,#18351f 166.5px,#14351b 192.5px)"></i><i style="left:463px;top:0;width:1px;height:193px;background:linear-gradient(#1d1c33 0.5px,#232733 61.5px,#232a31 65.5px,#273c29 69.5px,#274921 75.5px,#274a20 76.5px,#28501e 86.5px,#2b531f 103.5px,#315c1f 116.5px,#394933 128.5px,#3b572c 134.5px,#396622 140.5px,#335f20 152.5px,#2a521f 160.5px,#264a1f 167.5px,#1f461b 192.5px)"></i><i style="left:464px;top:0;width:1px;height:193px;background:linear-gradient(#1d1c33 0.5px,#242833 61.5px,#2a3331 65.5px,#355429 69.5px,#356021 75.5px,#38691e 85.5px,#386a1e 86.5px,#3f731f 103.5px,#4b861f 116.5px,#4c8720 117.5px,#5c8133 128.5px,#5f922c 134.5px,#5d9f22 140.5px,#508e20 152.5px,#3c701f 160.5px,#35621f 166.5px,#34611f 167.5px,#2d5b1c 179.5px,#2a581b 192.5px)"></i><i style="left:465px;top:0;width:1px;height:193px;background:linear-gradient(#1d1c33 0.5px,#242833 61.5px,#2a3431 65.5px,#365429 69.5px,#356021 75.5px,#386a1e 85.5px,#396b1e 86.5px,#41761f 103.5px,#4e8b1f 116.5px,#4f8c20 117.5px,#5e8632 127.5px,#5f8733 128.5px,#63972c 134.5px,#60a422 140.5px,#549420 152.5px,#3e731f 160.5px,#35631f 167.5px,#2b591b 192.5px)"></i><i style="left:466px;top:0;width:1px;height:193px;background:linear-gradient(#1d1c33 0.5px,#242833 61.5px,#2a3431 65.5px,#365429 69.5px,#356021 75.5px,#396b1e 85.5px,#396b1e 86.5px,#43791f 103.5px,#51901f 116.5px,#529120 117.5px,#628c32 127.5px,#638c33 128.5px,#669d2c 134.5px,#63a922 140.5px,#579920 152.5px,#4e8622 156.5px,#40761f 160.5px,#36651f 167.5px,#2c5b1b 192.5px)"></i><i style="left:467px;top:0;width:1px;height:193px;background:linear-gradient(#1d1c33 0.5px,#242833 61.5px,#2a3531 65.5px,#365529 69.5px,#356021 75.5px,#356220 76.5px,#396b1e 85.5px,#3a6c1e 86.5px,#447c1f 103.5px,#54951f 116.5px,#559620 117.5px,#659132 127.5px,#669233 128.5px,#69a22c 134.5px,#67af22 140.5px,#5a9e20 152.5px,#508b22 156.5px,#42781f 160.5px,#37671f 167.5px,#2c5c1b 192.5px)"></i><i style="left:468px;top:0;width:1px;height:193px;background:linear-gradient(#1d1c33 0.5px,#252933 61.5px,#2b3531 65.5px,#365529 69.5px,#356021 75.5px,#356220 76.5px,#3a6c1e 85.5px,#3a6d1e 86.5px,#467f1f 103.5px,#57991f 116.5px,#589b20 117.5px,#699732 127.5px,#6a9833 128.5px,#6ca52d 133.5px,#6ab422 140.5px,#5ea420 152.5px,#538f22 156.5px,#437b1f 160.5px,#39691f 167.5px,#31611c 179.5px,#2d5e1b 192.5px)"></i><i style="left:469px;top:0;width:1px;height:193px;background:linear-gradient(#1d1d33 0.5px,#212233 39.5px,#262b33 58.5px,#292f33 61.5px,#2d3831 65.5px,#385729 69.5px,#396621 75.5px,#396820 76.5px,#42791e 86.5px,#4a841f 95.5px,#65b11f 116.5px,#74a932 127.5px,#75a933 128.5px,#76b42d 133.5px,#73c023 139.5px,#72c122 140.5px,#65af20 152.5px,#5b9b22 156.5px,#4c881f 160.5px,#43791f 166.5px,#41771f 167.5px,#3b701c 179.5px,#376d1b 192.5px)"></i><i style="left:470px;top:0;width:1px;height:193px;background:linear-gradient(#1e1e33 0.5px,#222533 39.5px,#222533 40.5px,#2a3233 57.5px,#303b33 61.5px,#313d33 62.5px,#303f31 65.5px,#3a5b29 69.5px,#407121 75.5px,#417420 76.5px,#50901e 86.5px,#5da31f 95.5px,#77ce1f 110.5px,#7fda1f 116.5px,#80da20 117.5px,#86c732 127.5px,#86c633 128.5px,#84ce2c 134.5px,#7fd522 140.5px,#70c120 152.5px,#5aa01f 160.5px,#53921f 166.5px,#498a1b 192.5px)"></i><i style="left:471px;top:0;width:1px;height:193px;background:linear-gradient(#1f1f33 0.5px,#232733 39.5px,#2f3933 57.5px,#384833 61.5px,#394933 62.5px,#344531 65.5px,#354830 66.5px,#477c21 75.5px,#5ca31e 85.5px,#5ea61e 86.5px,#6fc11f 95.5px,#90f41f 109.5px,#96ff1f 114.5px,#99ff1f 116.5px,#9aff20 117.5px,#9afd25 120.5px,#9bf62a 123.5px,#98e333 128.5px,#93e52c 134.5px,#8be922 140.5px,#7cd420 152.5px,#69b81f 160.5px,#63ac1f 166.5px,#5ba71b 192.5px)"></i><i style="left:472px;top:0;width:1px;height:193px;background:linear-gradient(#1f2033 0.5px,#242833 39.5px,#323e33 57.5px,#3d4f33 61.5px,#374931 65.5px,#374b30 66.5px,#4c8421 75.5px,#4e8920 76.5px,#67b51e 86.5px,#7dd61f 95.5px,#96fe1f 104.5px,#a2ff1f 110.5px,#a9ff1f 116.5px,#a9ff20 117.5px,#a8ff2a 123.5px,#a2f333 128.5px,#9df22d 133.5px,#92f522 140.5px,#82de20 152.5px,#72c61f 160.5px,#6dbc1f 166.5px,#66b81b 192.5px)"></i><i style="left:473px;top:0;width:1px;height:193px;background:linear-gradient(#1f2033 0.5px,#242833 39.5px,#334033 57.5px,#3e5133 61.5px,#384b31 65.5px,#384d30 66.5px,#4e8821 75.5px,#518e20 76.5px,#68b71e 85.5px,#6bbc1e 86.5px,#96ff1f 101.5px,#9fff1f 104.5px,#abff1f 110.5px,#afff1f 116.5px,#abff2a 123.5px,#a5f633 128.5px,#9ef52d 133.5px,#94f822 140.5px,#84e120 152.5px,#75ca1f 160.5px,#70c11f 166.5px,#6fc01f 167.5px,#6abe1b 192.5px)"></i><i style="left:474px;top:0;width:1px;height:193px;background:linear-gradient(#1f2033 0.5px,#252933 39.5px,#344233 57.5px,#3f5333 61.5px,#394c31 65.5px,#394f30 66.5px,#518d21 75.5px,#549220 76.5px,#6cbd1e 85.5px,#6fc21e 86.5px,#98ff1f 99.5px,#a5ff1f 103.5px,#b4ff1f 110.5px,#b5ff1f 116.5px,#b0ff28 122.5px,#a7fa33 128.5px,#97fb23 139.5px,#96fa22 140.5px,#85e320 152.5px,#78cf1f 160.5px,#73c71f 166.5px,#73c61f 167.5px,#6ec51b 192.5px)"></i><i style="left:475px;top:0;width:1px;height:193px;background:linear-gradient(#1f2033 0.5px,#252933 39.5px,#354333 57.5px,#405533 61.5px,#3a4e31 65.5px,#3b5130 66.5px,#549121 75.5px,#579720 76.5px,#70c31e 85.5px,#73c91e 86.5px,#97ff1f 96.5px,#aeff1f 103.5px,#bcff1f 110.5px,#bcff1f 116.5px,#b5ff28 122.5px,#a9fd33 128.5px,#99fe23 139.5px,#97fd22 140.5px,#7ad31f 160.5px,#76cc1f 166.5px,#76cb1f 167.5px,#71cb1b 192.5px)"></i><i style="left:476px;top:0;width:3px;height:193px;background:linear-gradient(#1f2033 0.5px,#252933 39.5px,#364433 57.5px,#415633 61.5px,#3b4f31 65.5px,#3b5230 66.5px,#559321 75.5px,#589920 76.5px,#72c71e 85.5px,#75cc1e 86.5px,#97ff1f 95.5px,#b2ff1f 103.5px,#c1ff1f 110.5px,#bfff1f 116.5px,#beff20 117.5px,#aaff33 128.5px,#9aff23 139.5px,#98fe22 140.5px,#7cd61f 160.5px,#78ce1f 166.5px,#78ce1f 167.5px,#73ce1b 192.5px)"></i><i style="left:479px;top:0;width:1px;height:193px;background:linear-gradient(#1f2033 0.5px,#252933 39.5px,#344133 57.5px,#3f5333 61.5px,#394c31 65.5px,#394f30 66.5px,#518c21 75.5px,#539220 76.5px,#6cbd1e 85.5px,#6fc21e 86.5px,#97ff1f 99.5px,#a4ff1f 103.5px,#b3ff1f 110.5px,#b5ff1f 116.5px,#b0ff28 122.5px,#a7f933 128.5px,#97fb23 139.5px,#96fa22 140.5px,#85e320 152.5px,#77ce1f 160.5px,#73c61f 166.5px,#72c51f 167.5px,#6dc41b 192.5px)"></i><i style="left:480px;top:0;width:1px;height:193px;background:linear-gradient(#1f2033 0.5px,#242833 39.5px,#323f33 57.5px,#3d5033 61.5px,#374931 65.5px,#374c30 66.5px,#4c8521 75.5px,#4f8b20 76.5px,#68b71e 86.5px,#7fda1f 95.5px,#96fe1f 103.5px,#98ff1f 104.5px,#a5ff1f 110.5px,#abff1f 116.5px,#a9ff2a 123.5px,#a3f433 128.5px,#9df32d 133.5px,#93f622 140.5px,#83df20 152.5px,#73c71f 160.5px,#6ebe1f 166.5px,#6dbd1f 167.5px,#67ba1b 192.5px)"></i><i style="left:481px;top:0;width:1px;height:193px;background:linear-gradient(#1f2033 0.5px,#242733 39.5px,#303b33 57.5px,#3a4c33 61.5px,#3b4d33 62.5px,#364831 65.5px,#364b30 66.5px,#498021 75.5px,#62ad1e 85.5px,#64b11e 86.5px,#77cd1f 95.5px,#8ff31f 104.5px,#97ff1f 108.5px,#9bff1f 110.5px,#a2ff1f 116.5px,#a3ff20 117.5px,#a4ff2a 123.5px,#a0ef33 128.5px,#9bef2d 133.5px,#90f122 140.5px,#80da20 152.5px,#6ebf1f 160.5px,#68b41f 166.5px,#67b31f 167.5px,#60af1b 192.5px)"></i><i style="left:482px;top:0;width:1px;height:193px;background:linear-gradient(#1f2033 0.5px,#232733 39.5px,#242733 40.5px,#2e3733 57.5px,#374633 61.5px,#384833 62.5px,#364831 65.5px,#374b30 66.5px,#477d21 75.5px,#62ae1e 86.5px,#93fa1f 109.5px,#97ff1f 112.5px,#9cff1f 116.5px,#9fff28 122.5px,#9eec33 128.5px,#97ec2c 134.5px,#8eed22 140.5px,#7cd420 152.5px,#68b61f 160.5px,#61a91f 166.5px,#60a81f 167.5px,#58a21b 192.5px)"></i><i style="left:483px;top:0;width:1px;height:193px;background:linear-gradient(#1f2033 0.5px,#232633 39.5px,#2b3333 57.5px,#334033 61.5px,#364831 65.5px,#374b30 66.5px,#39562b 68.5px,#457a21 75.5px,#61ab1e 86.5px,#8cef1f 109.5px,#95fd1f 116.5px,#96fd20 117.5px,#9cea32 127.5px,#9ce933 128.5px,#95e92c 134.5px,#8be922 140.5px,#78ce20 152.5px,#62ac1f 160.5px,#5a9f1f 166.5px,#51961b 192.5px)"></i><i style="left:484px;top:0;width:1px;height:193px;background:linear-gradient(#1f2033 0.5px,#232633 39.5px,#2a3133 57.5px,#313d33 61.5px,#334033 62.5px,#364831 65.5px,#374c30 66.5px,#3a5a29 69.5px,#447821 75.5px,#60aa1e 86.5px,#81dd1f 104.5px,#91f71f 116.5px,#9be832 127.5px,#9be733 128.5px,#94e72c 134.5px,#8ae722 140.5px,#76cb20 152.5px,#61aa1f 159.5px,#5fa71f 160.5px,#56981f 166.5px,#55971f 167.5px,#4c8f1b 192.5px)"></i><i style="left:485px;top:0;width:1px;height:193px;background:linear-gradient(#1f2033 0.5px,#232633 39.5px,#293033 57.5px,#313c33 61.5px,#323f33 62.5px,#364831 65.5px,#374c30 66.5px,#395a29 69.5px,#447821 75.5px,#60a91e 86.5px,#80dc1f 104.5px,#89ea1f 110.5px,#90f51f 116.5px,#9be732 127.5px,#9be633 128.5px,#94e62c 134.5px,#89e622 140.5px,#76ca20 152.5px,#6cb622 156.5px,#61a91f 159.5px,#5ea61f 160.5px,#55971f 166.5px,#54951f 167.5px,#4b8d1b 192.5px)"></i><i style="left:486px;top:0;width:1px;height:193px;background:linear-gradient(#1f2033 0.5px,#232533 39.5px,#292f33 57.5px,#303b33 61.5px,#364831 65.5px,#374c30 66.5px,#437721 75.5px,#5fa91e 86.5px,#7fda1f 104.5px,#8ff31f 116.5px,#90f420 117.5px,#9ae732 127.5px,#9ae633 128.5px,#93e62c 134.5px,#89e522 140.5px,#75c920 152.5px,#6bb522 156.5px,#60a81f 159.5px,#5da41f 160.5px,#54951f 166.5px,#53941f 167.5px,#4a8b1b 192.5px)"></i><i style="left:487px;top:0;width:1px;height:193px;background:linear-gradient(#1f2033 0.5px,#232533 39.5px,#282f33 57.5px,#303a33 61.5px,#364831 65.5px,#374c30 66.5px,#395929 69.5px,#437721 75.5px,#5fa81e 86.5px,#7ed91f 104.5px,#8ef11f 116.5px,#8ff220 117.5px,#9ae632 127.5px,#9ae533 128.5px,#93e52c 134.5px,#88e522 140.5px,#75c820 152.5px,#6ab422 156.5px,#5fa61f 159.5px,#5ca31f 160.5px,#53931f 166.5px,#52921f 167.5px,#48891b 192.5px)"></i><i style="left:488px;top:0;width:1px;height:193px;background:linear-gradient(#1f2033 0.5px,#232533 39.5px,#282e33 57.5px,#2f3a33 61.5px,#364831 65.5px,#374c30 66.5px,#395929 69.5px,#437621 75.5px,#5fa81e 86.5px,#7cd51f 103.5px,#8df01f 116.5px,#8ef020 117.5px,#9ae632 127.5px,#9ae533 128.5px,#93e52c 134.5px,#88e422 140.5px,#74c720 152.5px,#6ab322 156.5px,#5ea51f 159.5px,#5ba11f 160.5px,#52921f 166.5px,#51901f 167.5px,#47871b 192.5px)"></i><i style="left:489px;top:0;width:1px;height:193px;background:linear-gradient(#1f2033 0.5px,#222533 39.5px,#282d33 57.5px,#2f3933 61.5px,#364831 65.5px,#395929 69.5px,#437621 75.5px,#5fa81e 86.5px,#7bd41f 103.5px,#8cee1f 116.5px,#8def20 117.5px,#99e532 127.5px,#99e433 128.5px,#92e42c 134.5px,#87e322 140.5px,#73c620 152.5px,#69b222 156.5px,#5aa01f 160.5px,#51901f 166.5px,#508e1f 167.5px,#46851b 192.5px)"></i><i style="left:490px;top:0;width:1px;height:193px;background:linear-gradient(#1f2033 0.5px,#222533 39.5px,#272d33 57.5px,#282f33 58.5px,#2e3833 61.5px,#364831 65.5px,#385929 69.5px,#427521 75.5px,#5ea71e 86.5px,#7ad21f 103.5px,#8bec1f 116.5px,#8ced20 117.5px,#99e432 127.5px,#99e333 128.5px,#92e42c 134.5px,#87e222 140.5px,#73c520 152.5px,#68b122 156.5px,#599e1f 160.5px,#508e1f 166.5px,#4f8d1f 167.5px,#45831b 192.5px)"></i><i style="left:491px;top:0;width:2px;height:193px;background:linear-gradient(#1f2033 0.5px,#222533 39.5px,#272c33 57.5px,#282e33 58.5px,#2d3733 61.5px,#364831 65.5px,#385829 69.5px,#427421 75.5px,#5ea71e 86.5px,#7bd31f 104.5px,#89ea1f 116.5px,#8aeb20 117.5px,#98e432 127.5px,#99e333 128.5px,#91e32c 134.5px,#86e222 140.5px,#72c420 152.5px,#68b022 156.5px,#589c1f 160.5px,#4f8c1f 166.5px,#4e8a1f 167.5px,#43801b 192.5px)"></i><i style="left:493px;top:0;width:2px;height:193px;background:linear-gradient(#1f2033 0.5px,#222533 39.5px,#272c33 57.5px,#282d33 58.5px,#2d3633 61.5px,#364731 65.5px,#385829 69.5px,#417321 75.5px,#5da51e 86.5px,#79d11f 104.5px,#88e81f 116.5px,#89e920 117.5px,#98e332 127.5px,#98e233 128.5px,#91e22c 134.5px,#86e122 140.5px,#72c420 152.5px,#67af22 156.5px,#5a9f1f 159.5px,#579b1f 160.5px,#4e8b1f 166.5px,#427e1b 192.5px)"></i><i style="left:495px;top:0;width:2px;height:193px;background:linear-gradient(#1f2033 0.5px,#222533 39.5px,#272c33 57.5px,#282d33 58.5px,#2d3633 61.5px,#364731 65.5px,#385729 69.5px,#417321 75.5px,#5ca41e 86.5px,#78ce1f 104.5px,#87e61f 116.5px,#88e720 117.5px,#98e233 128.5px,#91e22c 134.5px,#86e122 140.5px,#72c320 152.5px,#67ae22 156.5px,#5a9e1f 159.5px,#579a1f 160.5px,#4d8a1f 166.5px,#417d1b 192.5px)"></i><i style="left:497px;top:0;width:2px;height:193px;background:linear-gradient(#1f2033 0.5px,#222533 39.5px,#272c33 57.5px,#282d33 58.5px,#2d3633 61.5px,#354731 65.5px,#375729 69.5px,#407221 75.5px,#5ca31e 86.5px,#86e51f 116.5px,#87e620 117.5px,#98e233 128.5px,#91e22c 134.5px,#86e022 140.5px,#71c320 152.5px,#66ae22 156.5px,#599d1f 159.5px,#56991f 160.5px,#4d891f 166.5px,#407b1b 192.5px)"></i><i style="left:499px;top:0;width:2px;height:193px;background:linear-gradient(#1f2033 0.5px,#222533 39.5px,#272c33 57.5px,#282d33 58.5px,#2c3533 61.5px,#354631 65.5px,#375729 69.5px,#407121 75.5px,#5ba21e 86.5px,#85e31f 116.5px,#86e420 117.5px,#98e133 128.5px,#91e12c 134.5px,#86e022 140.5px,#71c320 152.5px,#66ad22 156.5px,#599c1f 159.5px,#55981f 160.5px,#4c881f 166.5px,#3f7a1b 192.5px)"></i><i style="left:501px;top:0;width:2px;height:193px;background:linear-gradient(#1f2033 0.5px,#222533 39.5px,#272d33 58.5px,#2c3533 61.5px,#354631 65.5px,#375629 69.5px,#3f7021 75.5px,#5aa11e 86.5px,#84e11f 116.5px,#85e320 117.5px,#97e133 128.5px,#90e12c 134.5px,#85e022 140.5px,#71c220 152.5px,#65ad22 156.5px,#589b1f 159.5px,#55971f 160.5px,#4b871f 166.5px,#3e791b 192.5px)"></i><i style="left:503px;top:0;width:2px;height:193px;background:linear-gradient(#1f2033 0.5px,#222533 39.5px,#272d33 58.5px,#2c3533 61.5px,#354531 65.5px,#375629 69.5px,#3f7021 75.5px,#5aa01e 86.5px,#83e01f 116.5px,#8ee428 122.5px,#97e133 128.5px,#90e12c 134.5px,#85e022 140.5px,#71c220 152.5px,#65ac22 156.5px,#54961f 160.5px,#4b861f 166.5px,#4a841f 167.5px,#3d771b 192.5px)"></i><i style="left:505px;top:0;width:2px;height:193px;background:linear-gradient(#1f2033 0.5px,#222533 39.5px,#272d33 58.5px,#2c3433 61.5px,#344531 65.5px,#365529 69.5px,#3e6f21 75.5px,#599f1e 86.5px,#82de1f 116.5px,#8de328 122.5px,#97e033 128.5px,#90e02c 134.5px,#85df22 140.5px,#71c220 152.5px,#65ab22 156.5px,#54951f 160.5px,#4a851f 166.5px,#49831f 167.5px,#3c761b 192.5px)"></i><i style="left:507px;top:0;width:2px;height:193px;background:linear-gradient(#1f2033 0.5px,#222533 39.5px,#272d33 58.5px,#2c3433 61.5px,#344431 65.5px,#3e6e21 75.5px,#589d1e 86.5px,#81dd1f 116.5px,#8de228 122.5px,#97e033 128.5px,#90e02c 134.5px,#85df22 140.5px,#70c120 152.5px,#64ab22 156.5px,#56991f 159.5px,#53941f 160.5px,#4a841f 166.5px,#3b741b 192.5px)"></i><i style="left:509px;top:0;width:2px;height:193px;background:linear-gradient(#1f2033 0.5px,#222533 39.5px,#272d33 58.5px,#2c3433 61.5px,#344431 65.5px,#3d6d21 75.5px,#579c1e 86.5px,#80db1f 116.5px,#8ce128 122.5px,#97e033 128.5px,#90e02c 134.5px,#85df22 140.5px,#70c120 152.5px,#64aa22 156.5px,#56981f 159.5px,#52931f 160.5px,#49831f 166.5px,#3b731b 192.5px)"></i><i style="left:511px;top:0;width:2px;height:193px;background:linear-gradient(#1f2033 0.5px,#222533 39.5px,#272d33 58.5px,#2b3433 61.5px,#334331 65.5px,#3d6c21 75.5px,#579b1e 86.5px,#6dbc1f 104.5px,#7fd91f 116.5px,#8be028 122.5px,#96df33 128.5px,#8fdf2c 134.5px,#84de22 140.5px,#70c120 152.5px,#64aa22 156.5px,#52921f 160.5px,#48821f 166.5px,#3a711b 192.5px)"></i><i style="left:513px;top:0;width:115px;height:193px;background:linear-gradient(#1f2033 0.5px,#222533 39.5px,#272d33 58.5px,#2b3333 61.5px,#334331 65.5px,#3c6c21 75.5px,#569a1e 86.5px,#6bba1f 104.5px,#7ed81f 116.5px,#8ddf2a 123.5px,#96df33 128.5px,#8fdf2c 134.5px,#84de22 140.5px,#70c020 152.5px,#63a922 156.5px,#51911f 160.5px,#48811f 166.5px,#3e761c 179.5px,#39701b 192.5px)"></i><i style="left:628px;top:0;width:1px;height:193px;background:linear-gradient(#1f2033 0.5px,#222533 39.5px,#272d33 58.5px,#2b3333 61.5px,#334331 65.5px,#3d6c21 75.5px,#579b1e 86.5px,#6dbc1f 104.5px,#80db1f 116.5px,#8fe32a 123.5px,#98e233 128.5px,#91e22c 134.5px,#85e022 140.5px,#71c220 152.5px,#64ab22 156.5px,#53941f 160.5px,#49831f 166.5px,#48821f 167.5px,#3b731b 192.5px)"></i><i style="left:629px;top:0;width:1px;height:193px;background:linear-gradient(#1f2033 0.5px,#222533 39.5px,#272d33 58.5px,#2c3433 61.5px,#344431 65.5px,#3e6e21 75.5px,#589d1e 86.5px,#6fc11f 104.5px,#85e31f 116.5px,#92eb28 122.5px,#94eb2a 123.5px,#9ce833 128.5px,#94e72c 134.5px,#87e322 140.5px,#73c520 152.5px,#67af22 156.5px,#56981f 160.5px,#4c881f 166.5px,#4b861f 167.5px,#3e781b 192.5px)"></i><i style="left:630px;top:0;width:1px;height:193px;background:linear-gradient(#1f2033 0.5px,#222533 39.5px,#272d33 58.5px,#2c3533 61.5px,#344531 65.5px,#375629 69.5px,#3f6f21 75.5px,#599f1e 86.5px,#72c51f 104.5px,#89eb1f 116.5px,#97f328 122.5px,#9fef32 127.5px,#9fee33 128.5px,#99ec2d 133.5px,#8ae722 140.5px,#74c820 152.5px,#69b322 156.5px,#599d1f 160.5px,#4f8d1f 166.5px,#4e8b1f 167.5px,#427e1b 192.5px)"></i><i style="left:631px;top:0;width:1px;height:193px;background:linear-gradient(#1f2033 0.5px,#222533 39.5px,#272d33 58.5px,#2c3533 61.5px,#354631 65.5px,#375629 69.5px,#3f7021 75.5px,#5aa11e 86.5px,#72c61f 103.5px,#8ef11f 116.5px,#9cfa28 122.5px,#a3f432 127.5px,#a3f333 128.5px,#9bf02d 133.5px,#8cea22 140.5px,#76cb20 152.5px,#6cb622 156.5px,#5ba11f 160.5px,#52911f 166.5px,#45831b 192.5px)"></i><i style="left:632px;top:0;width:1px;height:193px;background:linear-gradient(#1f2033 0.5px,#222533 39.5px,#282d33 58.5px,#2d3533 61.5px,#354631 65.5px,#375729 69.5px,#407221 75.5px,#599f1e 85.5px,#5ba31e 86.5px,#74c91f 103.5px,#91f71f 116.5px,#9dff26 121.5px,#a0ff28 122.5px,#a6f932 127.5px,#a5f733 128.5px,#9ef42d 133.5px,#8dec22 140.5px,#77cd20 152.5px,#6eb922 156.5px,#5da51f 160.5px,#54941f 166.5px,#47871b 192.5px)"></i><i style="left:633px;top:0;width:1px;height:193px;background:linear-gradient(#1f2033 0.5px,#222533 39.5px,#282d33 58.5px,#2d3633 61.5px,#364731 65.5px,#385729 69.5px,#417321 75.5px,#5aa11e 85.5px,#5ca41e 86.5px,#76cc1f 103.5px,#95fd1f 116.5px,#97ff20 117.5px,#a4ff28 122.5px,#a8fd32 127.5px,#a8fc33 128.5px,#a0f82d 133.5px,#8fef22 140.5px,#79cf20 152.5px,#6fbc22 156.5px,#60a81f 160.5px,#56981f 166.5px,#55961f 167.5px,#4a8b1b 192.5px)"></i><i style="left:634px;top:0;width:1px;height:193px;background:linear-gradient(#1f2033 0.5px,#222533 39.5px,#282d33 58.5px,#2d3633 61.5px,#364831 65.5px,#385829 69.5px,#417421 75.5px,#5ba21e 85.5px,#5da61e 86.5px,#78cf1f 103.5px,#7ad21f 104.5px,#98ff1f 116.5px,#a8ff28 122.5px,#abff32 127.5px,#abff33 128.5px,#a3fc2d 133.5px,#93f423 139.5px,#91f222 140.5px,#78ce20 153.5px,#71bf22 156.5px,#62ac1f 160.5px,#589c1f 166.5px,#579a1f 167.5px,#4c8f1b 192.5px)"></i><i style="left:635px;top:0;width:7px;height:193px;background:linear-gradient(#1f2033 0.5px,#222533 39.5px,#282d33 58.5px,#2d3633 61.5px,#364831 65.5px,#385829 69.5px,#427421 75.5px,#5ca31e 85.5px,#5ea71e 86.5px,#79d01f 103.5px,#7bd41f 104.5px,#97ff1f 115.5px,#9aff1f 116.5px,#a9ff28 122.5px,#adff32 127.5px,#acff33 128.5px,#a4fe2d 133.5px,#94f523 139.5px,#91f322 140.5px,#72c122 156.5px,#63ae1f 160.5px,#599d1f 166.5px,#589c1f 167.5px,#4e921b 192.5px)"></i><i style="left:642px;top:0;width:1px;height:193px;background:linear-gradient(#1f2033 0.5px,#222533 39.5px,#272d33 58.5px,#2d3633 61.5px,#364731 65.5px,#385829 69.5px,#417421 75.5px,#5ba21e 85.5px,#5da51e 86.5px,#78ce1f 103.5px,#7ad21f 104.5px,#98ff1f 116.5px,#a8ff28 122.5px,#abff32 127.5px,#aaff33 128.5px,#a2fc2d 133.5px,#93f423 139.5px,#91f222 140.5px,#78ce20 153.5px,#72c022 156.5px,#62ad1f 160.5px,#599c1f 166.5px,#589a1f 167.5px,#4d901b 192.5px)"></i><i style="left:643px;top:0;width:1px;height:193px;background:linear-gradient(#1f2033 0.5px,#222533 39.5px,#272d33 58.5px,#2c3533 61.5px,#354631 65.5px,#417221 75.5px,#599e1e 85.5px,#5ba11e 86.5px,#75ca1f 103.5px,#95fd1f 116.5px,#97ff20 117.5px,#a4ff28 122.5px,#a8fc32 127.5px,#a7fa33 128.5px,#a0f82d 133.5px,#8fef22 140.5px,#79d020 152.5px,#77cc20 153.5px,#70be22 156.5px,#61aa1f 160.5px,#57991f 166.5px,#56981f 167.5px,#4b8d1b 192.5px)"></i><i style="left:644px;top:0;width:1px;height:193px;background:linear-gradient(#1f1f33 0.5px,#222433 39.5px,#272c33 58.5px,#2c3433 61.5px,#354531 65.5px,#407121 75.5px,#579b1e 85.5px,#599e1e 86.5px,#72c51f 103.5px,#91f71f 116.5px,#9eff26 121.5px,#a0ff28 122.5px,#a4f732 127.5px,#a4f533 128.5px,#9df32d 133.5px,#8ded22 140.5px,#78ce20 152.5px,#6fbc22 156.5px,#5fa81f 160.5px,#55971f 166.5px,#54951f 167.5px,#498a1b 192.5px)"></i><i style="left:645px;top:0;width:1px;height:193px;background:linear-gradient(#1f1f33 0.5px,#222433 39.5px,#272c33 58.5px,#2b3333 61.5px,#344431 65.5px,#354930 66.5px,#3f7021 75.5px,#55981e 85.5px,#579b1e 86.5px,#6fc11f 103.5px,#8ef21f 116.5px,#9cfb28 122.5px,#a1f132 127.5px,#a1f033 128.5px,#9bef2d 133.5px,#8cea22 140.5px,#77cd20 152.5px,#6eba22 156.5px,#5ea51f 160.5px,#54941f 166.5px,#53921f 167.5px,#47871b 192.5px)"></i><i style="left:646px;top:0;width:1px;height:193px;background:linear-gradient(#1f1f33 0.5px,#222433 39.5px,#262c33 58.5px,#2b3333 61.5px,#334331 65.5px,#354830 66.5px,#3e6f21 75.5px,#53951e 85.5px,#54971e 86.5px,#6dbc1f 103.5px,#8aec1f 116.5px,#99f528 122.5px,#9eec32 127.5px,#9deb33 128.5px,#98eb2d 133.5px,#8ae722 140.5px,#76cb20 152.5px,#6db822 156.5px,#5ca31f 160.5px,#52911f 166.5px,#51901f 167.5px,#46851b 192.5px)"></i><i style="left:647px;top:0;width:1px;height:193px;background:linear-gradient(#1e1f33 0.5px,#222433 39.5px,#262b33 58.5px,#2a3233 61.5px,#334231 65.5px,#344730 66.5px,#3d6d21 75.5px,#3f7120 76.5px,#51911e 85.5px,#52941e 86.5px,#6ab81f 103.5px,#87e71f 116.5px,#95ef28 122.5px,#9ae632 127.5px,#9ae533 128.5px,#94e72c 134.5px,#88e522 140.5px,#75ca20 152.5px,#6cb622 156.5px,#5ba01f 160.5px,#508f1f 166.5px,#4f8d1f 167.5px,#44821b 192.5px)"></i><i style="left:648px;top:0;width:1px;height:193px;background:linear-gradient(#1e1e33 0.5px,#212333 39.5px,#262b33 58.5px,#2a3133 61.5px,#324131 65.5px,#37532b 68.5px,#3d6c21 75.5px,#3e7020 76.5px,#4f8e1e 85.5px,#50911e 86.5px,#67b41f 103.5px,#84e11f 116.5px,#91e928 122.5px,#97e132 127.5px,#97e033 128.5px,#91e32c 134.5px,#87e222 140.5px,#74c820 152.5px,#6ab422 156.5px,#599e1f 160.5px,#4f8c1f 166.5px,#4e8a1f 167.5px,#427f1b 192.5px)"></i><i style="left:649px;top:0;width:1px;height:193px;background:linear-gradient(#1e1e33 0.5px,#212333 39.5px,#262a33 58.5px,#293033 61.5px,#314031 65.5px,#37532b 68.5px,#3c6b21 75.5px,#3d6e20 76.5px,#4d8b1e 85.5px,#4e8d1e 86.5px,#64af1f 103.5px,#80dc1f 116.5px,#8ee328 122.5px,#94db33 128.5px,#8fdf2c 134.5px,#85df22 140.5px,#73c620 152.5px,#69b222 156.5px,#579b1f 160.5px,#4d891f 166.5px,#4c881f 167.5px,#45811c 179.5px,#407c1b 192.5px)"></i><i style="left:650px;top:0;width:1px;height:193px;background:linear-gradient(#1e1e33 0.5px,#212333 39.5px,#252a33 58.5px,#292f33 61.5px,#2a3233 62.5px,#303e31 65.5px,#36522b 68.5px,#385729 69.5px,#3b6921 75.5px,#3c6c20 76.5px,#4a871e 85.5px,#4b891e 86.5px,#61a91f 103.5px,#7cd41f 116.5px,#89dc28 122.5px,#8fd433 128.5px,#8cd92c 134.5px,#83dc22 140.5px,#72c420 152.5px,#68b022 156.5px,#55981f 160.5px,#4b861f 166.5px,#427d1c 179.5px,#3e781b 192.5px)"></i><i style="left:651px;top:0;width:1px;height:193px;background:linear-gradient(#1e1e33 0.5px,#252933 58.5px,#282e33 61.5px,#293133 62.5px,#2f3d31 65.5px,#385729 69.5px,#3a6721 75.5px,#3b6a20 76.5px,#48831e 86.5px,#5ca21f 103.5px,#76cc1f 116.5px,#83d228 122.5px,#8acc33 128.5px,#88d32c 134.5px,#80d822 140.5px,#71c220 152.5px,#66ad22 156.5px,#53941f 160.5px,#48821f 166.5px,#40781c 179.5px,#3b731b 192.5px)"></i><i style="left:652px;top:0;width:1px;height:193px;background:linear-gradient(#1e1d33 0.5px,#212233 40.5px,#272d33 61.5px,#2e3b31 65.5px,#385729 69.5px,#386521 75.5px,#396820 76.5px,#457e1e 86.5px,#589b1f 103.5px,#71c31f 116.5px,#7dc828 122.5px,#85c333 128.5px,#84cd2c 134.5px,#7fd423 139.5px,#7ed422 140.5px,#6fbf20 152.5px,#64aa22 156.5px,#51901f 160.5px,#467d1f 166.5px,#447c1f 167.5px,#3d741c 179.5px,#386f1b 192.5px)"></i><i style="left:653px;top:0;width:1px;height:193px;background:linear-gradient(#1d1d33 0.5px,#212233 40.5px,#262b33 61.5px,#2d3931 65.5px,#375729 69.5px,#376321 75.5px,#386520 76.5px,#41791e 86.5px,#54941f 103.5px,#6bba1f 116.5px,#80bb33 128.5px,#80c42d 133.5px,#7ccf23 139.5px,#7bcf22 140.5px,#6dbd20 152.5px,#62a622 156.5px,#4e8c1f 160.5px,#42771f 167.5px,#3a6f1c 179.5px,#356a1b 192.5px)"></i><i style="left:654px;top:0;width:1px;height:193px;background:linear-gradient(#1d1d33 0.5px,#202233 40.5px,#252a33 61.5px,#2c3731 65.5px,#375729 69.5px,#366121 75.5px,#366320 76.5px,#3e731e 86.5px,#4f8d1f 103.5px,#66b11f 116.5px,#7ab232 127.5px,#7bb333 128.5px,#7cbe2d 133.5px,#79cb23 139.5px,#79cb22 140.5px,#6cba20 152.5px,#60a322 156.5px,#4c881f 160.5px,#3f731f 167.5px,#366a1c 180.5px,#32661b 192.5px)"></i><i style="left:655px;top:0;width:5px;height:193px;background:linear-gradient(#1d1c33 0.5px,#202233 40.5px,#252933 61.5px,#2b3731 65.5px,#375729 69.5px,#356021 75.5px,#366220 76.5px,#3c711e 86.5px,#4d8a1f 103.5px,#63ad1f 116.5px,#77ae32 127.5px,#78ae33 128.5px,#7aba2d 133.5px,#77c922 140.5px,#6bb920 152.5px,#5fa222 156.5px,#4a861f 160.5px,#3e711f 167.5px,#35681c 180.5px,#31631b 192.5px)"></i><i style="left:660px;top:0;width:3px;height:193px;background:linear-gradient(#1d1c33 0.5px,#242833 61.5px,#293331 65.5px,#355329 69.5px,#356021 75.5px,#37691e 85.5px,#38691e 86.5px,#3e711f 103.5px,#49831f 116.5px,#4a8320 117.5px,#597d33 128.5px,#5d8e2c 134.5px,#5a9b22 140.5px,#4e8b20 152.5px,#3b6e1f 160.5px,#34611f 166.5px,#335f1f 167.5px,#2d5a1c 179.5px,#29571b 192.5px)"></i><i style="left:663px;top:0;width:4px;height:193px;background:linear-gradient(#1d1c33 0.5px,#202233 40.5px,#252933 61.5px,#2b3731 65.5px,#375729 69.5px,#356021 75.5px,#366220 76.5px,#3c711e 86.5px,#4d8a1f 103.5px,#63ad1f 116.5px,#77ae32 127.5px,#78ae33 128.5px,#7aba2d 133.5px,#77c922 140.5px,#6bb920 152.5px,#5fa222 156.5px,#4a861f 160.5px,#3e711f 167.5px,#36681c 179.5px,#31631b 192.5px)"></i><i style="left:667px;top:0;width:1px;height:193px;background:linear-gradient(#1d1c33 0.5px,#242833 61.5px,#2a3431 65.5px,#365429 69.5px,#356021 75.5px,#396a1e 85.5px,#396b1e 86.5px,#42781f 103.5px,#508f1f 116.5px,#529020 117.5px,#618a32 127.5px,#628b33 128.5px,#659c2c 134.5px,#63a822 140.5px,#569820 152.5px,#4d8522 156.5px,#40751f 160.5px,#36641f 167.5px,#2b5a1b 192.5px)"></i><i style="left:668px;top:0;width:2px;height:193px;background:linear-gradient(#1d1c33 0.5px,#242833 61.5px,#293331 65.5px,#355329 69.5px,#356021 75.5px,#37691e 85.5px,#38691e 86.5px,#3e711f 103.5px,#49831f 116.5px,#4a8320 117.5px,#597d33 128.5px,#5d8e2c 134.5px,#5a9b22 140.5px,#4e8b20 152.5px,#3b6e1f 160.5px,#34611f 166.5px,#335f1f 167.5px,#2d5a1c 179.5px,#29571b 192.5px)"></i><i style="left:670px;top:0;width:1px;height:193px;background:linear-gradient(#1d1c33 0.5px,#252833 61.5px,#2a3531 65.5px,#365529 69.5px,#356021 75.5px,#356220 76.5px,#3a6c1e 85.5px,#3a6d1e 86.5px,#467e1f 103.5px,#57991f 116.5px,#589a20 117.5px,#699732 127.5px,#6a9733 128.5px,#6ca72c 134.5px,#6ab422 140.5px,#5ea320 152.5px,#538f22 156.5px,#437b1f 160.5px,#39691f 167.5px,#31611c 179.5px,#2d5d1b 192.5px)"></i><i style="left:671px;top:0;width:1px;height:193px;background:linear-gradient(#1d1c33 0.5px,#242833 61.5px,#2a3431 65.5px,#365429 69.5px,#356021 75.5px,#396b1e 85.5px,#396c1e 86.5px,#43791f 103.5px,#51901f 116.5px,#539120 117.5px,#628c32 127.5px,#638d33 128.5px,#669d2c 134.5px,#64aa22 140.5px,#579920 152.5px,#4e8722 156.5px,#43791f 159.5px,#40761f 160.5px,#36651f 167.5px,#2c5b1b 192.5px)"></i><i style="left:672px;top:0;width:1px;height:193px;background:linear-gradient(#1d1c33 0.5px,#242833 61.5px,#2a3431 65.5px,#355429 69.5px,#356021 75.5px,#38691e 85.5px,#386a1e 86.5px,#40741f 103.5px,#4c871f 116.5px,#4d8820 117.5px,#5b8132 127.5px,#5c8233 128.5px,#60932c 134.5px,#5da022 140.5px,#518f20 152.5px,#3d711f 160.5px,#34611f 167.5px,#2a581b 192.5px)"></i><i style="left:673px;top:0;width:1px;height:193px;background:linear-gradient(#1d1c33 0.5px,#232633 57.5px,#1b1a33 61.5px,#1a1933 62.5px,#1b1c31 65.5px,#1d2d29 69.5px,#1d3a21 75.5px,#1d3b20 76.5px,#1e3f1e 86.5px,#20401f 109.5px,#23451f 110.5px,#467f1f 116.5px,#4a8320 117.5px,#587c32 127.5px,#597d33 128.5px,#5d8e2c 134.5px,#5a9b22 140.5px,#4e8b20 152.5px,#3b6e1f 160.5px,#34611f 166.5px,#335f1f 167.5px,#2d5a1c 179.5px,#29571b 192.5px)"></i><i style="left:674px;top:0;width:3px;height:193px;background:linear-gradient(#1d1c33 0.5px,#232633 57.5px,#1a1733 61.5px,#181533 62.5px,#181831 65.5px,#183221 75.5px,#183320 76.5px,#18371e 86.5px,#18351f 109.5px,#1c3b1f 110.5px,#467e1f 116.5px,#4a8320 117.5px,#587c32 127.5px,#597d33 128.5px,#5d8e2c 134.5px,#5a9b22 140.5px,#4e8b20 152.5px,#3b6e1f 160.5px,#34611f 166.5px,#335f1f 167.5px,#2d5a1c 179.5px,#29571b 192.5px)"></i><i style="left:677px;top:0;width:1px;height:193px;background:linear-gradient(#1d1c33 0.5px,#232633 57.5px,#1d1c33 61.5px,#1c1b33 62.5px,#1d2031 65.5px,#213229 69.5px,#213f21 75.5px,#214020 76.5px,#21451e 86.5px,#25491f 109.5px,#274d1f 110.5px,#477f1f 116.5px,#4a8320 117.5px,#587c32 127.5px,#597d33 128.5px,#5d8e2c 134.5px,#5a9b22 140.5px,#4e8b20 152.5px,#3b6e1f 160.5px,#34611f 166.5px,#335f1f 167.5px,#2d5a1c 179.5px,#29571b 192.5px)"></i><i style="left:678px;top:0;width:1px;height:193px;background:linear-gradient(#1d1c33 0.5px,#242833 61.5px,#2a3331 65.5px,#355429 69.5px,#356021 75.5px,#38691e 85.5px,#386a1e 86.5px,#3f731f 103.5px,#4b851f 116.5px,#4c8620 117.5px,#5b8033 128.5px,#5f912c 134.5px,#5c9e22 140.5px,#508e20 152.5px,#3c701f 160.5px,#34621f 166.5px,#33601f 167.5px,#2d5b1c 179.5px,#2a581b 192.5px)"></i><i style="left:679px;top:0;width:1px;height:193px;background:linear-gradient(#1d1c33 0.5px,#242833 61.5px,#2a3431 65.5px,#365429 69.5px,#356021 75.5px,#386a1e 85.5px,#396b1e 86.5px,#41761f 103.5px,#4e8b1f 116.5px,#4f8c20 117.5px,#5e8632 127.5px,#5f8733 128.5px,#63982c 134.5px,#60a422 140.5px,#549420 152.5px,#3e731f 160.5px,#35631f 167.5px,#2b591b 192.5px)"></i><i style="left:680px;top:0;width:1px;height:193px;background:linear-gradient(#1d1c33 0.5px,#242833 61.5px,#2a3431 65.5px,#365429 69.5px,#356021 75.5px,#396b1e 85.5px,#396c1e 86.5px,#43791f 103.5px,#52911f 116.5px,#539220 117.5px,#628d32 127.5px,#638d33 128.5px,#679e2c 134.5px,#64aa22 140.5px,#589a20 152.5px,#4e8722 156.5px,#437a1f 159.5px,#40761f 160.5px,#36651f 167.5px,#2c5b1b 192.5px)"></i><i style="left:681px;top:0;width:1px;height:193px;background:linear-gradient(#1d1c33 0.5px,#242833 61.5px,#2a3531 65.5px,#365529 69.5px,#356021 75.5px,#356220 76.5px,#396c1e 85.5px,#3a6d1e 86.5px,#457d1f 103.5px,#55961f 116.5px,#569720 117.5px,#669332 127.5px,#679433 128.5px,#6aa42c 134.5px,#68b022 140.5px,#5ca020 152.5px,#518c22 156.5px,#42791f 160.5px,#38671f 167.5px,#2d5d1b 192.5px)"></i><i style="left:682px;top:0;width:1px;height:193px;background:linear-gradient(#1d1c33 0.5px,#252933 61.5px,#2b3531 65.5px,#365529 69.5px,#356021 75.5px,#356220 76.5px,#3a6e1e 86.5px,#47801f 103.5px,#599c1f 116.5px,#5a9d20 117.5px,#6b9a32 127.5px,#6c9b33 128.5px,#6ea82d 133.5px,#6cb722 140.5px,#5fa620 152.5px,#559222 156.5px,#447d1f 160.5px,#396a1f 167.5px,#32621c 179.5px,#2e5e1b 192.5px)"></i><i style="left:683px;top:0;width:1px;height:193px;background:linear-gradient(#1e1e33 0.5px,#222533 39.5px,#222533 40.5px,#2a3233 57.5px,#303b33 61.5px,#313d33 62.5px,#303f31 65.5px,#3a5b29 69.5px,#407121 75.5px,#417420 76.5px,#50901e 86.5px,#5da31f 95.5px,#77ce1f 110.5px,#7fda1f 116.5px,#80da20 117.5px,#86c732 127.5px,#86c633 128.5px,#84ce2c 134.5px,#7fd522 140.5px,#70c120 152.5px,#5aa01f 160.5px,#53921f 166.5px,#498a1b 192.5px)"></i><i style="left:684px;top:0;width:1px;height:193px;background:linear-gradient(#1f2033 0.5px,#242833 39.5px,#313d33 57.5px,#3c4e33 61.5px,#364831 65.5px,#364a30 66.5px,#4a8221 75.5px,#4d8720 76.5px,#65b21e 86.5px,#79d01f 95.5px,#96fe1f 106.5px,#9cff1f 109.5px,#a6ff1f 116.5px,#a6ff20 117.5px,#a6ff2a 123.5px,#a1f133 128.5px,#9cf12d 133.5px,#92f422 140.5px,#81dd20 152.5px,#71c41f 160.5px,#6bb91f 166.5px,#64b51b 192.5px)"></i><i style="left:685px;top:0;width:1px;height:193px;background:linear-gradient(#1f2033 0.5px,#242833 39.5px,#334033 57.5px,#3e5133 61.5px,#384b31 65.5px,#384d30 66.5px,#4f8921 75.5px,#518e20 76.5px,#69b81e 85.5px,#6bbc1e 86.5px,#97ff1f 101.5px,#9fff1f 104.5px,#acff1f 110.5px,#b0ff1f 116.5px,#acff2a 123.5px,#a5f733 128.5px,#9ff52d 133.5px,#94f822 140.5px,#84e120 152.5px,#75cb1f 160.5px,#70c21f 166.5px,#70c11f 167.5px,#6abf1b 192.5px)"></i><i style="left:686px;top:0;width:1px;height:193px;background:linear-gradient(#1f2033 0.5px,#252933 39.5px,#354333 57.5px,#405433 61.5px,#3a4e31 65.5px,#3a5130 66.5px,#539021 75.5px,#569520 76.5px,#6fc21e 85.5px,#72c71e 86.5px,#98ff1f 97.5px,#abff1f 103.5px,#baff1f 110.5px,#baff1f 116.5px,#b3ff28 122.5px,#a8fc33 128.5px,#98fd23 139.5px,#97fc22 140.5px,#7ad21f 160.5px,#75ca1f 166.5px,#75ca1f 167.5px,#70c91b 192.5px)"></i><i style="left:687px;top:0;width:3px;height:193px;background:linear-gradient(#1f2033 0.5px,#252933 39.5px,#364433 57.5px,#415633 61.5px,#3b4f31 65.5px,#3b5230 66.5px,#559321 75.5px,#589920 76.5px,#72c71e 85.5px,#75cc1e 86.5px,#97ff1f 95.5px,#b2ff1f 103.5px,#c1ff1f 110.5px,#bfff1f 116.5px,#beff20 117.5px,#aaff33 128.5px,#9aff23 139.5px,#98fe22 140.5px,#7cd61f 160.5px,#78ce1f 166.5px,#78ce1f 167.5px,#73ce1b 192.5px)"></i><i style="left:690px;top:0;width:1px;height:193px;background:linear-gradient(#1f2033 0.5px,#252933 39.5px,#344133 57.5px,#3f5333 61.5px,#394c31 65.5px,#394f30 66.5px,#518c21 75.5px,#539220 76.5px,#6cbd1e 85.5px,#6fc21e 86.5px,#97ff1f 99.5px,#a4ff1f 103.5px,#b3ff1f 110.5px,#b5ff1f 116.5px,#b0ff28 122.5px,#a7f933 128.5px,#97fb23 139.5px,#96fa22 140.5px,#85e320 152.5px,#77ce1f 160.5px,#73c61f 166.5px,#72c51f 167.5px,#6dc41b 192.5px)"></i><i style="left:691px;top:0;width:1px;height:193px;background:linear-gradient(#1f2033 0.5px,#242833 39.5px,#323f33 57.5px,#3d5033 61.5px,#374931 65.5px,#374c30 66.5px,#4c8521 75.5px,#4f8b20 76.5px,#68b71e 86.5px,#7fda1f 95.5px,#96fe1f 103.5px,#98ff1f 104.5px,#a5ff1f 110.5px,#abff1f 116.5px,#a9ff2a 123.5px,#a3f433 128.5px,#9df32d 133.5px,#93f622 140.5px,#83df20 152.5px,#73c71f 160.5px,#6ebe1f 166.5px,#6dbd1f 167.5px,#67ba1b 192.5px)"></i><i style="left:692px;top:0;width:1px;height:193px;background:linear-gradient(#1f2033 0.5px,#242733 39.5px,#303b33 57.5px,#3a4c33 61.5px,#3b4d33 62.5px,#364831 65.5px,#364b30 66.5px,#498021 75.5px,#62ad1e 85.5px,#64b11e 86.5px,#77cd1f 95.5px,#8ff31f 104.5px,#97ff1f 108.5px,#9bff1f 110.5px,#a2ff1f 116.5px,#a3ff20 117.5px,#a4ff2a 123.5px,#a0ef33 128.5px,#9bef2d 133.5px,#90f122 140.5px,#80da20 152.5px,#6ebf1f 160.5px,#68b41f 166.5px,#67b31f 167.5px,#60af1b 192.5px)"></i><i style="left:693px;top:0;width:1px;height:193px;background:linear-gradient(#1f2033 0.5px,#232733 39.5px,#242733 40.5px,#2e3733 57.5px,#374633 61.5px,#384833 62.5px,#364831 65.5px,#374b30 66.5px,#477d21 75.5px,#62ae1e 86.5px,#93fa1f 109.5px,#97ff1f 112.5px,#9cff1f 116.5px,#9fff28 122.5px,#9eec33 128.5px,#97ec2c 134.5px,#8eed22 140.5px,#7cd420 152.5px,#68b61f 160.5px,#61a91f 166.5px,#60a81f 167.5px,#58a21b 192.5px)"></i><i style="left:694px;top:0;width:1px;height:193px;background:linear-gradient(#1f2033 0.5px,#232633 39.5px,#2b3333 57.5px,#334033 61.5px,#364831 65.5px,#374b30 66.5px,#39562b 68.5px,#457a21 75.5px,#61ab1e 86.5px,#8cef1f 109.5px,#95fd1f 116.5px,#96fd20 117.5px,#9cea32 127.5px,#9ce933 128.5px,#95e92c 134.5px,#8be922 140.5px,#78ce20 152.5px,#62ac1f 160.5px,#5a9f1f 166.5px,#51961b 192.5px)"></i><i style="left:695px;top:0;width:1px;height:193px;background:linear-gradient(#1f2033 0.5px,#232633 39.5px,#2a3133 57.5px,#313d33 61.5px,#334033 62.5px,#364831 65.5px,#374c30 66.5px,#3a5a29 69.5px,#447821 75.5px,#60aa1e 86.5px,#81dd1f 104.5px,#91f71f 116.5px,#9be832 127.5px,#9be733 128.5px,#94e72c 134.5px,#8ae622 140.5px,#76cb20 152.5px,#61aa1f 159.5px,#5fa71f 160.5px,#56981f 166.5px,#55971f 167.5px,#4c8f1b 192.5px)"></i><i style="left:696px;top:0;width:1px;height:193px;background:linear-gradient(#1f2033 0.5px,#232633 39.5px,#293033 57.5px,#313c33 61.5px,#323f33 62.5px,#364831 65.5px,#374c30 66.5px,#395a29 69.5px,#447721 75.5px,#60a91e 86.5px,#80db1f 104.5px,#89ea1f 110.5px,#90f51f 116.5px,#91f520 117.5px,#9be732 127.5px,#9be633 128.5px,#94e62c 134.5px,#89e622 140.5px,#76ca20 152.5px,#6cb622 156.5px,#60a91f 159.5px,#5ea51f 160.5px,#55961f 166.5px,#54951f 167.5px,#4b8c1b 192.5px)"></i><i style="left:697px;top:0;width:1px;height:193px;background:linear-gradient(#1f2033 0.5px,#232533 39.5px,#292f33 57.5px,#303b33 61.5px,#364831 65.5px,#374c30 66.5px,#437721 75.5px,#5fa91e 86.5px,#7fda1f 104.5px,#8ef31f 116.5px,#90f320 117.5px,#9ae632 127.5px,#9ae533 128.5px,#93e52c 134.5px,#89e522 140.5px,#75c920 152.5px,#6bb522 156.5px,#5fa71f 159.5px,#5da41f 160.5px,#54941f 166.5px,#53931f 167.5px,#498a1b 192.5px)"></i><i style="left:698px;top:0;width:1px;height:193px;background:linear-gradient(#1f2033 0.5px,#232533 39.5px,#282e33 57.5px,#2f3a33 61.5px,#364831 65.5px,#374c30 66.5px,#395929 69.5px,#437621 75.5px,#5fa81e 86.5px,#7ed81f 104.5px,#8df11f 116.5px,#8ef120 117.5px,#9ae632 127.5px,#9ae533 128.5px,#93e52c 134.5px,#88e422 140.5px,#74c820 152.5px,#6ab422 156.5px,#5ea61f 159.5px,#5ca21f 160.5px,#53921f 166.5px,#52911f 167.5px,#48881b 192.5px)"></i><i style="left:699px;top:0;width:1px;height:193px;background:linear-gradient(#1f2033 0.5px,#222533 39.5px,#282e33 57.5px,#2f3933 61.5px,#364831 65.5px,#395929 69.5px,#437621 75.5px,#5fa81e 86.5px,#7bd41f 103.5px,#8cef1f 116.5px,#8def20 117.5px,#99e532 127.5px,#99e433 128.5px,#92e42c 134.5px,#88e322 140.5px,#74c720 152.5px,#69b322 156.5px,#5da41f 159.5px,#5ba01f 160.5px,#51901f 166.5px,#508f1f 167.5px,#46851b 192.5px)"></i><i style="left:700px;top:0;width:1px;height:193px;background:linear-gradient(#1f2033 0.5px,#222533 39.5px,#272d33 57.5px,#2e3833 61.5px,#364831 65.5px,#395929 69.5px,#427521 75.5px,#5ea71e 86.5px,#7bd31f 103.5px,#8bed1f 116.5px,#8ced20 117.5px,#99e432 127.5px,#99e433 128.5px,#92e42c 134.5px,#87e322 140.5px,#73c620 152.5px,#69b122 156.5px,#599e1f 160.5px,#508e1f 166.5px,#4f8d1f 167.5px,#45831b 192.5px)"></i><i style="left:701px;top:0;width:1px;height:193px;background:linear-gradient(#1f2033 0.5px,#222533 39.5px,#272c33 57.5px,#282e33 58.5px,#2d3733 61.5px,#364831 65.5px,#385829 69.5px,#427521 75.5px,#5ea71e 86.5px,#7bd41f 104.5px,#8aeb1f 116.5px,#8beb20 117.5px,#99e432 127.5px,#99e333 128.5px,#92e32c 134.5px,#87e222 140.5px,#72c520 152.5px,#68b022 156.5px,#589d1f 160.5px,#4f8d1f 166.5px,#4e8b1f 167.5px,#43811b 192.5px)"></i><i style="left:702px;top:0;width:2px;height:193px;background:linear-gradient(#1f2033 0.5px,#222533 39.5px,#272c33 57.5px,#282d33 58.5px,#2d3633 61.5px,#364831 65.5px,#385829 69.5px,#417421 75.5px,#5ea61e 86.5px,#7ad21f 104.5px,#88e91f 116.5px,#8aea20 117.5px,#98e332 127.5px,#98e333 128.5px,#91e32c 134.5px,#86e122 140.5px,#72c420 152.5px,#67af22 156.5px,#589b1f 160.5px,#4e8b1f 166.5px,#4d891f 167.5px,#427f1b 192.5px)"></i><i style="left:704px;top:0;width:2px;height:193px;background:linear-gradient(#1f2033 0.5px,#222533 39.5px,#272c33 57.5px,#282d33 58.5px,#2d3633 61.5px,#364731 65.5px,#385829 69.5px,#417321 75.5px,#5da51e 86.5px,#78cf1f 104.5px,#87e71f 116.5px,#89e820 117.5px,#98e233 128.5px,#91e22c 134.5px,#86e122 140.5px,#72c420 152.5px,#67af22 156.5px,#5a9e1f 159.5px,#579a1f 160.5px,#4d8a1f 166.5px,#417d1b 192.5px)"></i><i style="left:706px;top:0;width:2px;height:193px;background:linear-gradient(#1f2033 0.5px,#222533 39.5px,#272c33 57.5px,#282d33 58.5px,#2d3633 61.5px,#354731 65.5px,#385729 69.5px,#407221 75.5px,#5ca31e 86.5px,#86e51f 116.5px,#88e620 117.5px,#98e233 128.5px,#91e22c 134.5px,#86e122 140.5px,#71c320 152.5px,#66ae22 156.5px,#599d1f 159.5px,#56991f 160.5px,#4d891f 166.5px,#407c1b 192.5px)"></i><i style="left:708px;top:0;width:2px;height:193px;background:linear-gradient(#1f2033 0.5px,#222533 39.5px,#272c33 57.5px,#282d33 58.5px,#2c3533 61.5px,#354631 65.5px,#375729 69.5px,#407121 75.5px,#5ba21e 86.5px,#85e31f 116.5px,#86e420 117.5px,#98e133 128.5px,#91e12c 134.5px,#86e022 140.5px,#71c320 152.5px,#66ad22 156.5px,#599c1f 159.5px,#56981f 160.5px,#4c881f 166.5px,#3f7a1b 192.5px)"></i><i style="left:710px;top:0;width:2px;height:193px;background:linear-gradient(#1f2033 0.5px,#222533 39.5px,#272d33 58.5px,#2c3533 61.5px,#354631 65.5px,#375629 69.5px,#3f7021 75.5px,#5aa11e 86.5px,#84e21f 116.5px,#85e320 117.5px,#97e133 128.5px,#90e12c 134.5px,#85e022 140.5px,#71c220 152.5px,#66ad22 156.5px,#589b1f 159.5px,#55971f 160.5px,#4b871f 166.5px,#3e791b 192.5px)"></i><i style="left:712px;top:0;width:2px;height:193px;background:linear-gradient(#1f2033 0.5px,#222533 39.5px,#272d33 58.5px,#2c3533 61.5px,#354531 65.5px,#375629 69.5px,#3f7021 75.5px,#5aa01e 86.5px,#83e01f 116.5px,#8ee428 122.5px,#97e133 128.5px,#90e12c 134.5px,#85e022 140.5px,#71c220 152.5px,#65ac22 156.5px,#54961f 160.5px,#4b861f 166.5px,#4a841f 167.5px,#3d771b 192.5px)"></i><i style="left:714px;top:0;width:2px;height:193px;background:linear-gradient(#1f2033 0.5px,#222533 39.5px,#272d33 58.5px,#2c3433 61.5px,#344531 65.5px,#365529 69.5px,#3e6f21 75.5px,#599e1e 86.5px,#82de1f 116.5px,#8de328 122.5px,#97e033 128.5px,#90e02c 134.5px,#85df22 140.5px,#70c220 152.5px,#65ab22 156.5px,#54951f 160.5px,#4a851f 166.5px,#49831f 167.5px,#3c751b 192.5px)"></i><i style="left:716px;top:0;width:2px;height:193px;background:linear-gradient(#1f2033 0.5px,#222533 39.5px,#272d33 58.5px,#2c3433 61.5px,#344431 65.5px,#3e6e21 75.5px,#589d1e 86.5px,#80dc1f 116.5px,#8ce128 122.5px,#97e033 128.5px,#90e02c 134.5px,#85df22 140.5px,#70c120 152.5px,#64ab22 156.5px,#56981f 159.5px,#53941f 160.5px,#49841f 166.5px,#3b741b 192.5px)"></i><i style="left:718px;top:0;width:2px;height:193px;background:linear-gradient(#1f2033 0.5px,#222533 39.5px,#272d33 58.5px,#2c3433 61.5px,#344431 65.5px,#3d6d21 75.5px,#579c1e 86.5px,#7fda1f 116.5px,#8ce028 122.5px,#97e033 128.5px,#90e02c 134.5px,#85de22 140.5px,#70c120 152.5px,#64aa22 156.5px,#56971f 159.5px,#52931f 160.5px,#49821f 166.5px,#3a721b 192.5px)"></i><i style="left:720px;top:0;width:2px;height:193px;background:linear-gradient(#1f2033 0.5px,#222533 39.5px,#272d33 58.5px,#2b3333 61.5px,#334331 65.5px,#3d6c21 75.5px,#569b1e 86.5px,#6cbb1f 104.5px,#7ed91f 116.5px,#8de02a 123.5px,#96df33 128.5px,#8fdf2c 134.5px,#84de22 140.5px,#70c120 152.5px,#63a922 156.5px,#52921f 160.5px,#48811f 166.5px,#3f771c 179.5px,#39711b 192.5px)"></i><i style="left:722px;top:0;width:22px;height:193px;background:linear-gradient(#1f2033 0.5px,#222533 39.5px,#272d33 58.5px,#2b3333 61.5px,#334331 65.5px,#3c6c21 75.5px,#569a1e 86.5px,#6bba1f 104.5px,#7ed81f 116.5px,#8ddf2a 123.5px,#96df33 128.5px,#8fdf2c 134.5px,#84de22 140.5px,#70c020 152.5px,#63a922 156.5px,#51911f 160.5px,#48811f 166.5px,#3e761c 179.5px,#39701b 192.5px)"></i></div>
<svg id="ov" width="1200" height="900" viewBox="0 0 1200 900">
<g fill="#fff" shape-rendering="crispEdges">
<rect x="226" y="67" width="5" height="195"/><rect x="436" y="67" width="13" height="195"/>
<rect x="435" y="68" width="1" height="194" fill="#0000d2"/><rect x="435" y="74" width="1" height="13"/>
<rect x="198" y="112" width="1" height="6"/>
<rect x="182" y="118" width="1" height="6"/>
<rect x="349" y="112" width="1" height="6"/>
<rect x="357" y="112" width="1" height="6"/>
<rect x="379" y="112" width="1" height="6"/>
<rect x="381" y="112" width="1" height="6"/>
<rect x="384" y="112" width="1" height="12"/>
<rect x="388" y="112" width="1" height="6"/>
<rect x="402" y="112" width="1" height="6"/>
<rect x="406" y="112" width="1" height="6"/>
<rect x="410" y="112" width="1" height="6"/>
<rect x="399" y="124" width="1" height="7"/>
<rect x="403" y="124" width="1" height="7"/>
<rect x="407" y="118" width="1" height="19"/>
<rect x="564" y="112" width="1" height="6"/>
<rect x="567" y="112" width="1" height="6"/>
<rect x="573" y="112" width="1" height="6"/>
<rect x="603" y="112" width="1" height="6"/>
<rect x="608" y="112" width="1" height="6"/>
<rect x="617" y="112" width="1" height="6"/>
<rect x="623" y="112" width="1" height="6"/>
<rect x="610" y="118" width="1" height="6"/>
<rect x="613" y="118" width="1" height="6"/>
<rect x="620" y="118" width="1" height="6"/>
<rect x="622" y="118" width="1" height="6"/>
<rect x="617" y="124" width="1" height="7"/>
<rect x="734" y="112" width="1" height="6"/>
<rect x="776" y="112" width="1" height="6"/>
<rect x="799" y="112" width="1" height="6"/>
<rect x="797" y="118" width="1" height="6"/>
<rect x="823" y="112" width="1" height="6"/>
<rect x="829" y="112" width="1" height="6"/>
<rect x="831" y="112" width="1" height="6"/>
<rect x="823" y="124" width="1" height="7"/>
<rect x="832" y="124" width="1" height="7"/>
<rect x="868" y="337" width="3" height="194"/>
</g>
<rect x="155.2" y="67.4" width="1.7" height="194.6" fill="#999"/>
<rect x="155.5" y="261.8" width="744" height="0.9" fill="#444"/><rect x="157" y="261.3" width="6" height="1.4" fill="#222"/>
<rect x="240" y="260" width="1" height="2" fill="#222"/>
<rect x="389.7" y="260" width="1" height="2" fill="#222"/>
<rect x="539.5" y="260" width="1" height="2" fill="#222"/>
<rect x="689.3" y="260" width="1" height="2" fill="#222"/>
<rect x="839" y="260" width="1" height="2" fill="#222"/>
<rect x="156" y="261.5" width="2" height="1" fill="#222"/>
<rect x="156" y="207.5" width="2" height="1" fill="#222"/>
<rect x="156" y="153.5" width="2" height="1" fill="#222"/>
<rect x="156" y="99.5" width="2" height="1" fill="#222"/>
<g shape-rendering="crispEdges">
<rect x="993" y="259" width="56" height="3" fill="#ffffff"/>
<rect x="993" y="256" width="56" height="3" fill="#000085"/>
<rect x="993" y="253" width="56" height="3" fill="#000097"/>
<rect x="993" y="250" width="56" height="3" fill="#0000a8"/>
<rect x="993" y="247" width="56" height="3" fill="#0000ba"/>
<rect x="993" y="244" width="56" height="3" fill="#0000cc"/>
<rect x="993" y="241" width="56" height="3" fill="#0000de"/>
<rect x="993" y="238" width="56" height="3" fill="#0000f0"/>
<rect x="993" y="235" width="56" height="3" fill="#0002ff"/>
<rect x="993" y="232" width="56" height="3" fill="#0011ff"/>
<rect x="993" y="228" width="56" height="4" fill="#0020ff"/>
<rect x="993" y="225" width="56" height="3" fill="#002fff"/>
<rect x="993" y="222" width="56" height="3" fill="#003eff"/>
<rect x="993" y="219" width="56" height="3" fill="#004dff"/>
<rect x="993" y="216" width="56" height="3" fill="#005bff"/>
<rect x="993" y="213" width="56" height="3" fill="#006af5"/>
<rect x="993" y="210" width="56" height="3" fill="#0079e0"/>
<rect x="993" y="207" width="56" height="3" fill="#0088cb"/>
<rect x="993" y="204" width="56" height="3" fill="#0097b6"/>
<rect x="993" y="201" width="56" height="3" fill="#00a6a1"/>
<rect x="993" y="198" width="56" height="3" fill="#00b58c"/>
<rect x="993" y="195" width="56" height="3" fill="#00c477"/>
<rect x="993" y="192" width="56" height="3" fill="#00d362"/>
<rect x="993" y="189" width="56" height="3" fill="#00e24d"/>
<rect x="993" y="186" width="56" height="3" fill="#00f038"/>
<rect x="993" y="183" width="56" height="3" fill="#00ff23"/>
<rect x="993" y="180" width="56" height="3" fill="#00ff0d"/>
<rect x="993" y="177" width="56" height="3" fill="#07ff00"/>
<rect x="993" y="174" width="56" height="3" fill="#1bff00"/>
<rect x="993" y="171" width="56" height="3" fill="#2eff00"/>
<rect x="993" y="168" width="56" height="3" fill="#41ff00"/>
<rect x="993" y="164" width="56" height="4" fill="#55ff00"/>
<rect x="993" y="161" width="56" height="3" fill="#68ff00"/>
<rect x="993" y="158" width="56" height="3" fill="#7bff00"/>
<rect x="993" y="155" width="56" height="3" fill="#8fff00"/>
<rect x="993" y="152" width="56" height="3" fill="#a2ff00"/>
<rect x="993" y="149" width="56" height="3" fill="#b6ff00"/>
<rect x="993" y="146" width="56" height="3" fill="#c9ff00"/>
<rect x="993" y="143" width="56" height="3" fill="#dcff00"/>
<rect x="993" y="140" width="56" height="3" fill="#f0ff00"/>
<rect x="993" y="137" width="56" height="3" fill="#fffc00"/>
<rect x="993" y="134" width="56" height="3" fill="#ffec00"/>
<rect x="993" y="131" width="56" height="3" fill="#ffdc00"/>
<rect x="993" y="128" width="56" height="3" fill="#ffcc00"/>
<rect x="993" y="125" width="56" height="3" fill="#ffbc00"/>
<rect x="993" y="122" width="56" height="3" fill="#ffad00"/>
<rect x="993" y="119" width="56" height="3" fill="#ff9d00"/>
<rect x="993" y="116" width="56" height="3" fill="#ff8d00"/>
<rect x="993" y="113" width="56" height="3" fill="#ff7d00"/>
<rect x="993" y="110" width="56" height="3" fill="#ff6d00"/>
<rect x="993" y="107" width="56" height="3" fill="#ff5d00"/>
<rect x="993" y="104" width="56" height="3" fill="#ff4e00"/>
<rect x="993" y="101" width="56" height="3" fill="#ff3e00"/>
<rect x="993" y="97" width="56" height="4" fill="#ff2e00"/>
<rect x="993" y="94" width="56" height="3" fill="#ff1e00"/>
<rect x="993" y="91" width="56" height="3" fill="#ff0e00"/>
<rect x="993" y="88" width="56" height="3" fill="#fd0000"/>
<rect x="993" y="85" width="56" height="3" fill="#ee0000"/>
<rect x="993" y="82" width="56" height="3" fill="#de0000"/>
<rect x="993" y="79" width="56" height="3" fill="#ce0000"/>
<rect x="993" y="76" width="56" height="3" fill="#be0000"/>
<rect x="993" y="73" width="56" height="3" fill="#ae0000"/>
<rect x="993" y="70" width="56" height="3" fill="#9e0000"/>
<rect x="993" y="67" width="56" height="3" fill="#000000"/>
</g>
<path d="M993.5 67V262.5H1048.5V67" fill="none" stroke="#555" stroke-width="1"/>
<rect x="993" y="234.672" width="2" height="1" fill="#222"/>
<rect x="1047" y="234.672" width="2" height="1" fill="#222"/>
<rect x="993" y="201.138" width="2" height="1" fill="#222"/>
<rect x="1047" y="201.138" width="2" height="1" fill="#222"/>
<rect x="993" y="167.603" width="2" height="1" fill="#222"/>
<rect x="1047" y="167.603" width="2" height="1" fill="#222"/>
<rect x="993" y="134.069" width="2" height="1" fill="#222"/>
<rect x="1047" y="134.069" width="2" height="1" fill="#222"/>
<rect x="993" y="100.534" width="2" height="1" fill="#222"/>
<rect x="1047" y="100.534" width="2" height="1" fill="#222"/>
<rect x="155.2" y="337.4" width="0.9" height="193.6" fill="#999"/>
<rect x="155.5" y="530.7" width="744" height="1.1" fill="#444"/>
<rect x="240" y="529" width="1" height="2" fill="#222"/>
<rect x="389.7" y="529" width="1" height="2" fill="#222"/>
<rect x="539.5" y="529" width="1" height="2" fill="#222"/>
<rect x="689.3" y="529" width="1" height="2" fill="#222"/>
<rect x="839" y="529" width="1" height="2" fill="#222"/>
<rect x="156" y="531.1" width="2" height="1" fill="#222"/>
<rect x="156" y="490.9" width="2" height="1" fill="#222"/>
<rect x="156" y="450.7" width="2" height="1" fill="#222"/>
<rect x="156" y="410.5" width="2" height="1" fill="#222"/>
<rect x="156" y="370.3" width="2" height="1" fill="#222"/>
<g shape-rendering="crispEdges">
<rect x="993" y="528" width="56" height="3" fill="#ffffff"/>
<rect x="993" y="525" width="56" height="3" fill="#000085"/>
<rect x="993" y="522" width="56" height="3" fill="#000097"/>
<rect x="993" y="519" width="56" height="3" fill="#0000a8"/>
<rect x="993" y="516" width="56" height="3" fill="#0000ba"/>
<rect x="993" y="513" width="56" height="3" fill="#0000cc"/>
<rect x="993" y="510" width="56" height="3" fill="#0000de"/>
<rect x="993" y="507" width="56" height="3" fill="#0000f0"/>
<rect x="993" y="504" width="56" height="3" fill="#0002ff"/>
<rect x="993" y="501" width="56" height="3" fill="#0011ff"/>
<rect x="993" y="498" width="56" height="3" fill="#0020ff"/>
<rect x="993" y="495" width="56" height="3" fill="#002fff"/>
<rect x="993" y="492" width="56" height="3" fill="#003eff"/>
<rect x="993" y="489" width="56" height="3" fill="#004dff"/>
<rect x="993" y="486" width="56" height="3" fill="#005bff"/>
<rect x="993" y="482" width="56" height="4" fill="#006af5"/>
<rect x="993" y="479" width="56" height="3" fill="#0079e0"/>
<rect x="993" y="476" width="56" height="3" fill="#0088cb"/>
<rect x="993" y="473" width="56" height="3" fill="#0097b6"/>
<rect x="993" y="470" width="56" height="3" fill="#00a6a1"/>
<rect x="993" y="467" width="56" height="3" fill="#00b58c"/>
<rect x="993" y="464" width="56" height="3" fill="#00c477"/>
<rect x="993" y="461" width="56" height="3" fill="#00d362"/>
<rect x="993" y="458" width="56" height="3" fill="#00e24d"/>
<rect x="993" y="455" width="56" height="3" fill="#00f038"/>
<rect x="993" y="452" width="56" height="3" fill="#00ff23"/>
<rect x="993" y="449" width="56" height="3" fill="#00ff0d"/>
<rect x="993" y="446" width="56" height="3" fill="#07ff00"/>
<rect x="993" y="443" width="56" height="3" fill="#1bff00"/>
<rect x="993" y="440" width="56" height="3" fill="#2eff00"/>
<rect x="993" y="437" width="56" height="3" fill="#41ff00"/>
<rect x="993" y="434" width="56" height="3" fill="#55ff00"/>
<rect x="993" y="431" width="56" height="3" fill="#68ff00"/>
<rect x="993" y="428" width="56" height="3" fill="#7bff00"/>
<rect x="993" y="425" width="56" height="3" fill="#8fff00"/>
<rect x="993" y="422" width="56" height="3" fill="#a2ff00"/>
<rect x="993" y="419" width="56" height="3" fill="#b6ff00"/>
<rect x="993" y="416" width="56" height="3" fill="#c9ff00"/>
<rect x="993" y="413" width="56" height="3" fill="#dcff00"/>
<rect x="993" y="410" width="56" height="3" fill="#f0ff00"/>
<rect x="993" y="407" width="56" height="3" fill="#fffc00"/>
<rect x="993" y="404" width="56" height="3" fill="#ffec00"/>
<rect x="993" y="401" width="56" height="3" fill="#ffdc00"/>
<rect x="993" y="398" width="56" height="3" fill="#ffcc00"/>
<rect x="993" y="395" width="56" height="3" fill="#ffbc00"/>
<rect x="993" y="392" width="56" height="3" fill="#ffad00"/>
<rect x="993" y="389" width="56" height="3" fill="#ff9d00"/>
<rect x="993" y="386" width="56" height="3" fill="#ff8d00"/>
<rect x="993" y="382" width="56" height="4" fill="#ff7d00"/>
<rect x="993" y="379" width="56" height="3" fill="#ff6d00"/>
<rect x="993" y="376" width="56" height="3" fill="#ff5d00"/>
<rect x="993" y="373" width="56" height="3" fill="#ff4e00"/>
<rect x="993" y="370" width="56" height="3" fill="#ff3e00"/>
<rect x="993" y="367" width="56" height="3" fill="#ff2e00"/>
<rect x="993" y="364" width="56" height="3" fill="#ff1e00"/>
<rect x="993" y="361" width="56" height="3" fill="#ff0e00"/>
<rect x="993" y="358" width="56" height="3" fill="#fd0000"/>
<rect x="993" y="355" width="56" height="3" fill="#ee0000"/>
<rect x="993" y="352" width="56" height="3" fill="#de0000"/>
<rect x="993" y="349" width="56" height="3" fill="#ce0000"/>
<rect x="993" y="346" width="56" height="3" fill="#be0000"/>
<rect x="993" y="343" width="56" height="3" fill="#ae0000"/>
<rect x="993" y="340" width="56" height="3" fill="#9e0000"/>
<rect x="993" y="337" width="56" height="3" fill="#000000"/>
</g>
<path d="M993.5 337V531.5H1048.5V337" fill="none" stroke="#555" stroke-width="1"/>
<rect x="993" y="530.5" width="2" height="1" fill="#222"/>
<rect x="1047" y="530.5" width="2" height="1" fill="#222"/>
<rect x="993" y="491.8" width="2" height="1" fill="#222"/>
<rect x="1047" y="491.8" width="2" height="1" fill="#222"/>
<rect x="993" y="453.1" width="2" height="1" fill="#222"/>
<rect x="1047" y="453.1" width="2" height="1" fill="#222"/>
<rect x="993" y="414.4" width="2" height="1" fill="#222"/>
<rect x="1047" y="414.4" width="2" height="1" fill="#222"/>
<rect x="993" y="375.7" width="2" height="1" fill="#222"/>
<rect x="1047" y="375.7" width="2" height="1" fill="#222"/>
<rect x="155.2" y="607.4" width="0.9" height="193.6" fill="#999"/>
<rect x="155.5" y="801" width="744.5" height="0.6" fill="#777"/><rect x="156" y="800.5" width="7" height="1.2" fill="#222"/>
<rect x="240" y="799" width="1" height="2" fill="#222"/>
<rect x="389.7" y="799" width="1" height="2" fill="#222"/>
<rect x="539.5" y="799" width="1" height="2" fill="#222"/>
<rect x="689.3" y="799" width="1" height="2" fill="#222"/>
<rect x="839" y="799" width="1" height="2" fill="#222"/>
<rect x="156" y="800.5" width="2" height="1" fill="#222"/>
<rect x="156" y="770.3" width="2" height="1" fill="#222"/>
<rect x="156" y="740.2" width="2" height="1" fill="#222"/>
<rect x="156" y="710" width="2" height="1" fill="#222"/>
<rect x="156" y="679.9" width="2" height="1" fill="#222"/>
<rect x="156" y="649.7" width="2" height="1" fill="#222"/>
<rect x="156" y="619.6" width="2" height="1" fill="#222"/>
<g shape-rendering="crispEdges">
<rect x="993" y="798" width="56" height="3" fill="#ffffff"/>
<rect x="993" y="795" width="56" height="3" fill="#000085"/>
<rect x="993" y="792" width="56" height="3" fill="#000097"/>
<rect x="993" y="789" width="56" height="3" fill="#0000a8"/>
<rect x="993" y="786" width="56" height="3" fill="#0000ba"/>
<rect x="993" y="783" width="56" height="3" fill="#0000cc"/>
<rect x="993" y="780" width="56" height="3" fill="#0000de"/>
<rect x="993" y="777" width="56" height="3" fill="#0000f0"/>
<rect x="993" y="774" width="56" height="3" fill="#0002ff"/>
<rect x="993" y="771" width="56" height="3" fill="#0011ff"/>
<rect x="993" y="768" width="56" height="3" fill="#0020ff"/>
<rect x="993" y="765" width="56" height="3" fill="#002fff"/>
<rect x="993" y="762" width="56" height="3" fill="#003eff"/>
<rect x="993" y="759" width="56" height="3" fill="#004dff"/>
<rect x="993" y="756" width="56" height="3" fill="#005bff"/>
<rect x="993" y="752" width="56" height="4" fill="#006af5"/>
<rect x="993" y="749" width="56" height="3" fill="#0079e0"/>
<rect x="993" y="746" width="56" height="3" fill="#0088cb"/>
<rect x="993" y="743" width="56" height="3" fill="#0097b6"/>
<rect x="993" y="740" width="56" height="3" fill="#00a6a1"/>
<rect x="993" y="737" width="56" height="3" fill="#00b58c"/>
<rect x="993" y="734" width="56" height="3" fill="#00c477"/>
<rect x="993" y="731" width="56" height="3" fill="#00d362"/>
<rect x="993" y="728" width="56" height="3" fill="#00e24d"/>
<rect x="993" y="725" width="56" height="3" fill="#00f038"/>
<rect x="993" y="722" width="56" height="3" fill="#00ff23"/>
<rect x="993" y="719" width="56" height="3" fill="#00ff0d"/>
<rect x="993" y="716" width="56" height="3" fill="#07ff00"/>
<rect x="993" y="713" width="56" height="3" fill="#1bff00"/>
<rect x="993" y="710" width="56" height="3" fill="#2eff00"/>
<rect x="993" y="707" width="56" height="3" fill="#41ff00"/>
<rect x="993" y="704" width="56" height="3" fill="#55ff00"/>
<rect x="993" y="701" width="56" height="3" fill="#68ff00"/>
<rect x="993" y="698" width="56" height="3" fill="#7bff00"/>
<rect x="993" y="695" width="56" height="3" fill="#8fff00"/>
<rect x="993" y="692" width="56" height="3" fill="#a2ff00"/>
<rect x="993" y="689" width="56" height="3" fill="#b6ff00"/>
<rect x="993" y="686" width="56" height="3" fill="#c9ff00"/>
<rect x="993" y="683" width="56" height="3" fill="#dcff00"/>
<rect x="993" y="680" width="56" height="3" fill="#f0ff00"/>
<rect x="993" y="677" width="56" height="3" fill="#fffc00"/>
<rect x="993" y="674" width="56" height="3" fill="#ffec00"/>
<rect x="993" y="671" width="56" height="3" fill="#ffdc00"/>
<rect x="993" y="668" width="56" height="3" fill="#ffcc00"/>
<rect x="993" y="665" width="56" height="3" fill="#ffbc00"/>
<rect x="993" y="662" width="56" height="3" fill="#ffad00"/>
<rect x="993" y="659" width="56" height="3" fill="#ff9d00"/>
<rect x="993" y="656" width="56" height="3" fill="#ff8d00"/>
<rect x="993" y="652" width="56" height="4" fill="#ff7d00"/>
<rect x="993" y="649" width="56" height="3" fill="#ff6d00"/>
<rect x="993" y="646" width="56" height="3" fill="#ff5d00"/>
<rect x="993" y="643" width="56" height="3" fill="#ff4e00"/>
<rect x="993" y="640" width="56" height="3" fill="#ff3e00"/>
<rect x="993" y="637" width="56" height="3" fill="#ff2e00"/>
<rect x="993" y="634" width="56" height="3" fill="#ff1e00"/>
<rect x="993" y="631" width="56" height="3" fill="#ff0e00"/>
<rect x="993" y="628" width="56" height="3" fill="#fd0000"/>
<rect x="993" y="625" width="56" height="3" fill="#ee0000"/>
<rect x="993" y="622" width="56" height="3" fill="#de0000"/>
<rect x="993" y="619" width="56" height="3" fill="#ce0000"/>
<rect x="993" y="616" width="56" height="3" fill="#be0000"/>
<rect x="993" y="613" width="56" height="3" fill="#ae0000"/>
<rect x="993" y="610" width="56" height="3" fill="#9e0000"/>
<rect x="993" y="607" width="56" height="3" fill="#000000"/>
</g>
<path d="M993.5 607V801.5H1048.5V607" fill="none" stroke="#555" stroke-width="1"/>
<rect x="993" y="779.768" width="2" height="1" fill="#222"/>
<rect x="1047" y="779.768" width="2" height="1" fill="#222"/>
<rect x="993" y="745.214" width="2" height="1" fill="#222"/>
<rect x="1047" y="745.214" width="2" height="1" fill="#222"/>
<rect x="993" y="710.661" width="2" height="1" fill="#222"/>
<rect x="1047" y="710.661" width="2" height="1" fill="#222"/>
<rect x="993" y="676.107" width="2" height="1" fill="#222"/>
<rect x="1047" y="676.107" width="2" height="1" fill="#222"/>
<rect x="993" y="641.554" width="2" height="1" fill="#222"/>
<rect x="1047" y="641.554" width="2" height="1" fill="#222"/>
<g opacity="0.999"><text x="527" y="56.8" text-anchor="middle" font-size="21.3" textLength="334.5" lengthAdjust="spacing" font-weight="bold" style="fill:#000">Quicklook MEX 20260218051311</text><text x="240.5" y="293" text-anchor="middle" font-size="20.5">10:00</text><text x="390.2" y="293" text-anchor="middle" font-size="20.5">15:00</text><text x="540" y="293" text-anchor="middle" font-size="20.5">20:00</text><text x="689.8" y="293" text-anchor="middle" font-size="20.5">01:00</text><text x="839.5" y="293" text-anchor="middle" font-size="20.5">06:00</text><text x="146.3" y="270.3" text-anchor="end" font-size="20.5">0</text><text x="146.3" y="216.3" text-anchor="end" font-size="20.5">100</text><text x="146.3" y="162.3" text-anchor="end" font-size="20.5">200</text><text x="146.3" y="108.3" text-anchor="end" font-size="20.5">300</text><text transform="translate(108.8,165) rotate(-90)" text-anchor="middle" font-size="22.5">NPI</text><text x="1058" y="243.672" font-size="20.5">0</text><text x="1058" y="210.138" font-size="20.5">1</text><text x="1058" y="176.603" font-size="20.5">2</text><text x="1058" y="143.069" font-size="20.5">3</text><text x="1058" y="109.534" font-size="20.5">4</text><text x="1058" y="76" font-size="20.5">5</text><text x="240.5" y="562" text-anchor="middle" font-size="20.5">10:00</text><text x="390.2" y="562" text-anchor="middle" font-size="20.5">15:00</text><text x="540" y="562" text-anchor="middle" font-size="20.5">20:00</text><text x="689.8" y="562" text-anchor="middle" font-size="20.5">01:00</text><text x="839.5" y="562" text-anchor="middle" font-size="20.5">06:00</text><text x="146.3" y="539.9" text-anchor="end" font-size="20.5">0</text><text x="146.3" y="499.7" text-anchor="end" font-size="20.5">20</text><text x="146.3" y="459.5" text-anchor="end" font-size="20.5">40</text><text x="146.3" y="419.3" text-anchor="end" font-size="20.5">60</text><text x="146.3" y="379.1" text-anchor="end" font-size="20.5">80</text><text transform="translate(119.9,434.5) rotate(-90)" text-anchor="middle" font-size="22.5">IMA</text><text x="1058" y="540.6" font-size="20.5">0</text><text x="1058" y="501.9" font-size="20.5">1</text><text x="1058" y="463.2" font-size="20.5">2</text><text x="1058" y="424.5" font-size="20.5">3</text><text x="1058" y="385.8" font-size="20.5">4</text><text x="1058" y="347.1" font-size="20.5">5</text><text x="240.5" y="832" text-anchor="middle" font-size="20.5">10:00</text><text x="390.2" y="832" text-anchor="middle" font-size="20.5">15:00</text><text x="540" y="832" text-anchor="middle" font-size="20.5">20:00</text><text x="689.8" y="832" text-anchor="middle" font-size="20.5">01:00</text><text x="839.5" y="832" text-anchor="middle" font-size="20.5">06:00</text><text x="146.3" y="809.3" text-anchor="end" font-size="20.5">0</text><text x="146.3" y="779.1" text-anchor="end" font-size="20.5">20</text><text x="146.3" y="749" text-anchor="end" font-size="20.5">40</text><text x="146.3" y="718.8" text-anchor="end" font-size="20.5">60</text><text x="146.3" y="688.7" text-anchor="end" font-size="20.5">80</text><text x="146.3" y="658.5" text-anchor="end" font-size="20.5">100</text><text x="146.3" y="628.4" text-anchor="end" font-size="20.5">120</text><text transform="translate(108.8,704.5) rotate(-90)" text-anchor="middle" font-size="22.5">ELS</text><text x="1058" y="788.768" font-size="20.5">0</text><text x="1058" y="754.214" font-size="20.5">1</text><text x="1058" y="719.661" font-size="20.5">2</text><text x="1058" y="685.107" font-size="20.5">3</text><text x="1058" y="650.554" font-size="20.5">4</text><text x="1058" y="616" font-size="20.5">5</text><text x="1198" y="892.8" text-anchor="end" font-size="12.3" style="fill:#000">Created: 2026-02-28 07:32:30UTC</text></g>
</svg></body></html>
